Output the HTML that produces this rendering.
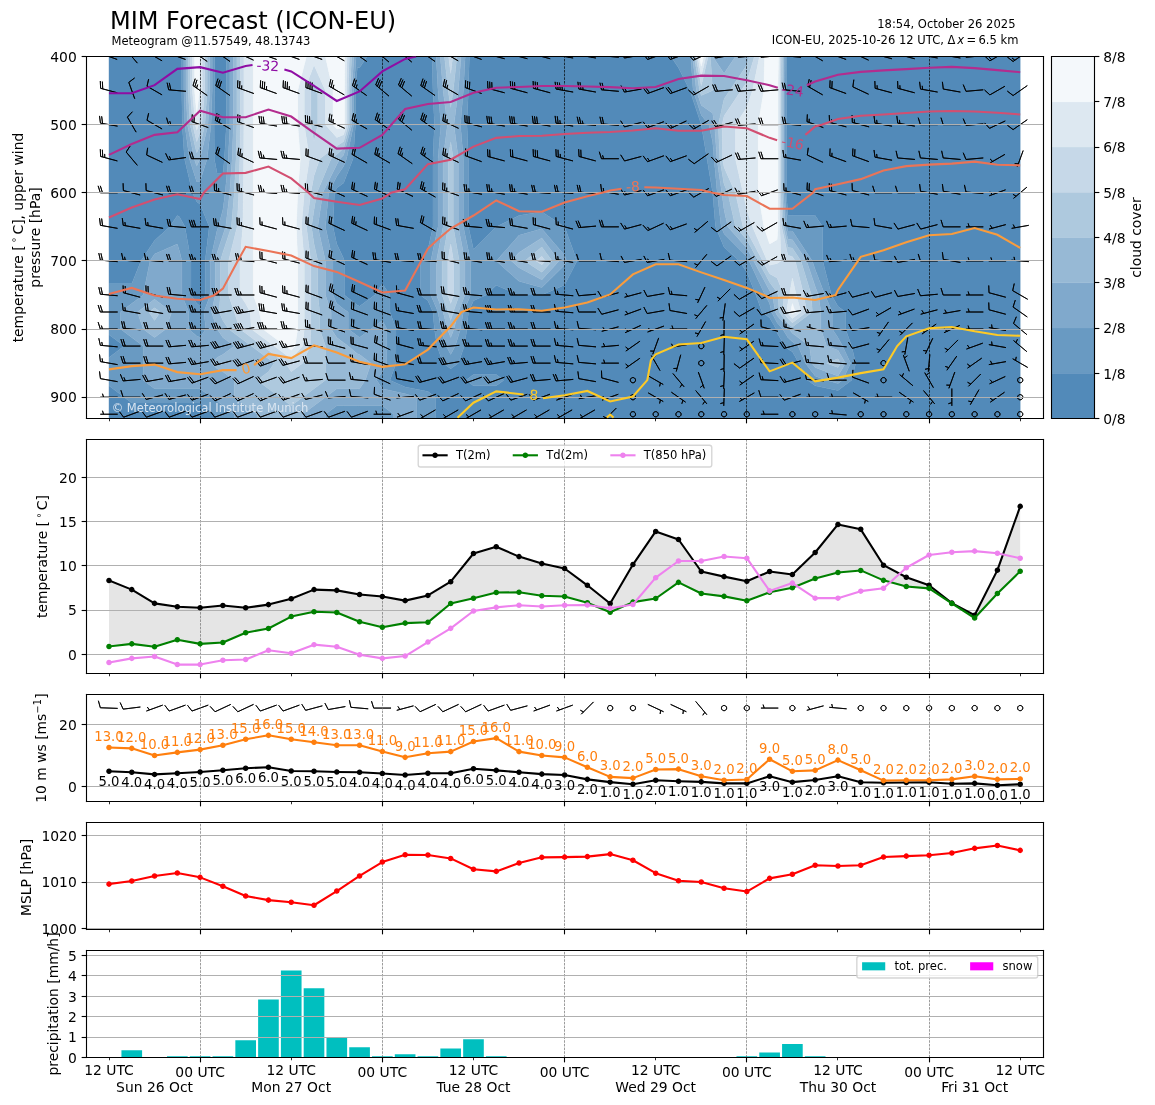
<!DOCTYPE html>
<html><head><meta charset="utf-8"><title>MIM Forecast (ICON-EU)</title>
<style>html,body{margin:0;padding:0;background:#fff}svg{display:block}text{font-family:"DejaVu Sans",sans-serif}</style></head>
<body>
<svg width="1155" height="1105" viewBox="0 0 831.6 795.6" version="1.1">
 <defs>
  <style type="text/css">*{stroke-linejoin: round; stroke-linecap: butt}</style>
 </defs>
 <g id="figure_1">
  <g id="patch_1">
   <path d="M 0 795.6 
L 831.6 795.6 
L 831.6 0 
L 0 0 
z
" style="fill: #ffffff"/>
  </g>
  <g id="axes_1">
   <g id="patch_2">
    <path d="M 62.28 301.32 
L 751.32 301.32 
L 751.32 40.68 
L 62.28 40.68 
z
" style="fill: #ffffff"/>
   </g>
   <g id="QuadContourSet_1">
    <path d="M 94.88 40.68 
L 111.28 40.68 
L 127.68 40.68 
L 129.32 40.68 
L 130.86 40.68 
L 130.86 65.21 
L 131.21 89.74 
L 132.83 114.27 
L 138.61 138.80 
L 141.62 145.22 
L 144.08 146.97 
L 150.64 163.33 
L 147.73 187.86 
L 147.73 212.39 
L 144.08 220.56 
L 141.62 218.40 
L 137.52 212.39 
L 137.52 187.86 
L 133.15 163.33 
L 129.32 156.17 
L 127.68 155.15 
L 122.21 163.33 
L 111.28 173.14 
L 101.44 187.86 
L 94.88 204.21 
L 78.48 204.21 
L 78.48 187.86 
L 78.48 163.33 
L 78.48 138.80 
L 78.48 114.27 
L 78.48 89.74 
L 78.48 65.21 
L 78.48 40.68 
z
M 156.38 40.68 
L 160.48 40.68 
L 163.01 40.68 
L 163.01 65.21 
L 163.01 89.74 
L 161.59 114.27 
L 160.48 125.17 
L 156.38 125.17 
L 154.31 114.27 
L 154.16 89.74 
L 154.57 65.21 
L 154.57 40.68 
z
M 257.25 48.85 
L 258.89 48.85 
L 264.36 40.68 
L 275.29 40.68 
L 291.70 40.68 
L 308.10 40.68 
L 311.08 40.68 
L 311.74 65.21 
L 312.78 89.74 
L 311.74 114.27 
L 311.74 138.80 
L 311.74 163.33 
L 308.10 179.68 
L 302.63 187.86 
L 302.63 212.39 
L 308.10 216.48 
L 311.74 224.65 
L 312.78 236.92 
L 314.66 249.18 
L 319.03 261.45 
L 324.50 265.54 
L 329.97 261.45 
L 334.34 249.18 
L 336.21 236.92 
L 337.26 224.65 
L 340.90 216.48 
L 350.01 212.39 
L 357.30 205.38 
L 373.70 212.39 
L 390.11 212.39 
L 406.51 205.17 
L 415.45 187.86 
L 406.51 163.33 
L 406.51 163.33 
L 390.11 152.42 
L 373.70 155.15 
L 357.30 163.33 
L 357.30 163.33 
L 340.90 179.68 
L 337.26 163.33 
L 337.26 138.80 
L 337.26 114.27 
L 336.21 89.74 
L 337.26 65.21 
L 337.92 40.68 
L 340.90 40.68 
L 357.30 40.68 
L 373.70 40.68 
L 390.11 40.68 
L 406.51 40.68 
L 422.91 40.68 
L 439.31 40.68 
L 455.71 40.68 
L 472.11 40.68 
L 483.05 40.68 
L 488.52 48.85 
L 496.72 65.21 
L 496.72 65.21 
L 504.92 89.74 
L 504.92 89.74 
L 509.02 114.27 
L 513.12 138.80 
L 513.12 138.80 
L 515.17 163.33 
L 521.32 178.05 
L 532.25 187.86 
L 537.72 196.03 
L 544.28 212.39 
L 548.65 224.65 
L 554.12 228.74 
L 558.81 236.92 
L 559.53 239.80 
L 565.06 249.18 
L 567.24 251.23 
L 570.52 253.27 
L 575.21 261.45 
L 581.46 273.71 
L 586.92 277.80 
L 603.33 281.07 
L 613.17 273.71 
L 616.08 261.45 
L 613.17 249.18 
L 608.79 236.92 
L 608.79 224.65 
L 603.33 220.56 
L 598.64 212.39 
L 592.39 187.86 
L 592.39 163.33 
L 586.92 155.15 
L 570.52 155.15 
L 567.24 155.15 
L 566.21 138.80 
L 566.21 114.27 
L 566.21 89.74 
L 566.21 65.21 
L 566.28 40.68 
L 567.24 40.68 
L 570.52 40.68 
L 586.92 40.68 
L 603.33 40.68 
L 619.73 40.68 
L 636.13 40.68 
L 652.53 40.68 
L 668.93 40.68 
L 685.33 40.68 
L 701.74 40.68 
L 718.14 40.68 
L 734.54 40.68 
L 734.54 65.21 
L 734.54 89.74 
L 734.54 114.27 
L 734.54 138.80 
L 734.54 163.33 
L 734.54 187.86 
L 734.54 212.39 
L 734.54 224.65 
L 734.54 236.92 
L 734.54 249.18 
L 734.54 261.45 
L 734.54 273.71 
L 734.54 285.98 
L 734.54 298.24 
L 734.54 310.51 
L 718.14 310.51 
L 701.74 310.51 
L 685.33 310.51 
L 668.93 310.51 
L 652.53 310.51 
L 636.13 310.51 
L 619.73 310.51 
L 603.33 310.51 
L 586.92 310.51 
L 570.52 310.51 
L 567.24 310.51 
L 559.53 310.51 
L 554.12 310.51 
L 537.72 310.51 
L 521.32 310.51 
L 513.12 310.51 
L 504.92 310.51 
L 496.72 310.51 
L 488.52 310.51 
L 472.11 310.51 
L 455.71 310.51 
L 439.31 310.51 
L 422.91 310.51 
L 406.51 310.51 
L 390.11 310.51 
L 373.70 310.51 
L 357.30 310.51 
L 340.90 310.51 
L 324.50 310.51 
L 313.56 310.51 
L 313.56 298.24 
L 313.56 285.98 
L 308.10 281.89 
L 291.70 278.62 
L 280.76 273.71 
L 285.14 261.45 
L 285.14 249.18 
L 285.14 236.92 
L 280.76 224.65 
L 280.76 212.39 
L 275.29 204.21 
L 269.83 212.39 
L 258.89 220.56 
L 257.25 219.58 
L 247.96 212.39 
L 247.96 187.86 
L 247.41 186.11 
L 242.49 175.59 
L 239.76 163.33 
L 240.81 138.80 
L 242.49 135.41 
L 247.41 131.79 
L 254.21 114.27 
L 255.94 89.74 
L 255.94 65.21 
z
M 335.43 273.71 
L 340.90 277.80 
L 357.30 277.80 
L 362.77 273.71 
L 357.30 269.63 
L 340.90 269.63 
z
M 89.41 249.18 
L 78.48 257.36 
L 78.48 249.18 
L 78.48 241.01 
z
M 89.41 285.98 
L 94.88 290.07 
L 111.28 290.07 
L 127.68 290.07 
L 129.32 290.07 
L 141.62 290.07 
L 144.08 290.07 
L 155.02 298.24 
L 155.02 310.51 
L 144.08 310.51 
L 141.62 310.51 
L 129.32 310.51 
L 127.68 310.51 
L 111.28 310.51 
L 94.88 310.51 
L 78.48 310.51 
L 78.48 298.24 
L 78.48 285.98 
L 78.48 277.80 
z
" clip-path="url(#p9851077e19)" style="fill: #528ab9; stroke: #528ab9; stroke-width: 0.3"/>
    <path d="M 132.40 65.21 
L 133.10 89.74 
L 136.35 114.27 
L 141.62 130.80 
L 144.08 130.48 
L 149.13 114.27 
L 151.93 89.74 
L 152.76 65.21 
L 152.76 40.68 
L 154.57 40.68 
L 154.57 65.21 
L 154.16 89.74 
L 154.31 114.27 
L 156.38 125.17 
L 160.48 125.17 
L 161.59 114.27 
L 163.01 89.74 
L 163.01 65.21 
L 163.01 40.68 
L 165.53 40.68 
L 165.53 65.21 
L 165.53 89.74 
L 164.37 114.27 
L 162.12 138.80 
L 160.48 151.06 
L 157.20 163.33 
L 156.38 165.37 
L 151.37 187.86 
L 151.37 212.39 
L 146.82 224.65 
L 148.18 236.92 
L 144.08 243.05 
L 141.62 241.97 
L 135.88 236.92 
L 135.88 224.65 
L 130.96 212.39 
L 130.96 187.86 
L 129.32 181.04 
L 127.68 175.59 
L 111.28 182.95 
L 108.00 187.86 
L 103.08 212.39 
L 94.88 218.52 
L 86.68 224.65 
L 86.68 236.92 
L 94.88 243.05 
L 103.08 249.18 
L 103.08 261.45 
L 103.08 273.71 
L 111.28 279.85 
L 127.68 279.85 
L 129.32 279.85 
L 141.62 279.85 
L 144.08 279.85 
L 152.28 285.98 
L 156.38 288.70 
L 160.48 292.11 
L 168.68 298.24 
L 168.68 310.51 
L 160.48 310.51 
L 156.38 310.51 
L 155.02 310.51 
L 155.02 298.24 
L 144.08 290.07 
L 141.62 290.07 
L 129.32 290.07 
L 127.68 290.07 
L 111.28 290.07 
L 94.88 290.07 
L 89.41 285.98 
L 78.48 277.80 
L 78.48 273.71 
L 78.48 261.45 
L 78.48 257.36 
L 89.41 249.18 
L 78.48 241.01 
L 78.48 236.92 
L 78.48 224.65 
L 78.48 212.39 
L 78.48 204.21 
L 94.88 204.21 
L 101.44 187.86 
L 111.28 173.14 
L 122.21 163.33 
L 127.68 155.15 
L 129.32 156.17 
L 133.15 163.33 
L 137.52 187.86 
L 137.52 212.39 
L 141.62 218.40 
L 144.08 220.56 
L 147.73 212.39 
L 147.73 187.86 
L 150.64 163.33 
L 144.08 146.97 
L 141.62 145.22 
L 138.61 138.80 
L 132.83 114.27 
L 131.21 89.74 
L 130.86 65.21 
L 130.86 40.68 
L 132.40 40.68 
z
M 257.25 40.68 
L 258.89 40.68 
L 264.36 40.68 
L 258.89 48.85 
L 257.25 48.85 
L 255.94 65.21 
L 255.94 89.74 
L 254.21 114.27 
L 247.41 131.79 
L 242.49 135.41 
L 240.81 138.80 
L 239.76 163.33 
L 242.49 175.59 
L 247.41 186.11 
L 247.96 187.86 
L 247.96 212.39 
L 257.25 219.58 
L 258.89 220.56 
L 269.83 212.39 
L 275.29 204.21 
L 280.76 212.39 
L 280.76 224.65 
L 285.14 236.92 
L 285.14 249.18 
L 285.14 261.45 
L 280.76 273.71 
L 291.70 278.62 
L 308.10 281.89 
L 313.56 285.98 
L 313.56 298.24 
L 313.56 310.51 
L 308.10 310.51 
L 299.90 310.51 
L 299.90 298.24 
L 299.90 285.98 
L 291.70 283.53 
L 275.29 279.85 
L 271.19 273.71 
L 275.29 267.58 
L 278.57 261.45 
L 278.57 249.18 
L 278.57 236.92 
L 275.29 230.79 
L 267.09 236.92 
L 258.89 243.05 
L 257.25 241.82 
L 250.69 236.92 
L 250.69 224.65 
L 247.41 222.52 
L 242.49 218.52 
L 239.76 212.39 
L 239.76 187.86 
L 234.29 163.33 
L 236.60 138.80 
L 242.49 126.95 
L 247.41 119.70 
L 249.52 114.27 
L 254.63 89.74 
L 254.63 65.21 
L 256.43 40.68 
z
M 315.39 65.21 
L 317.47 89.74 
L 315.39 114.27 
L 315.39 138.80 
L 315.39 163.33 
L 310.15 187.86 
L 310.15 212.39 
L 315.39 224.65 
L 317.47 236.92 
L 321.22 249.18 
L 324.50 255.32 
L 327.78 249.18 
L 331.53 236.92 
L 333.61 224.65 
L 338.85 212.39 
L 338.85 187.86 
L 333.61 163.33 
L 333.61 138.80 
L 333.61 114.27 
L 331.53 89.74 
L 333.61 65.21 
L 334.94 40.68 
L 337.92 40.68 
L 337.26 65.21 
L 336.21 89.74 
L 337.26 114.27 
L 337.26 138.80 
L 337.26 163.33 
L 340.90 179.68 
L 357.30 163.33 
L 357.30 163.33 
L 373.70 155.15 
L 390.11 152.42 
L 406.51 163.33 
L 406.51 163.33 
L 415.45 187.86 
L 406.51 205.17 
L 390.11 212.39 
L 373.70 212.39 
L 357.30 205.38 
L 350.01 212.39 
L 340.90 216.48 
L 337.26 224.65 
L 336.21 236.92 
L 334.34 249.18 
L 329.97 261.45 
L 324.50 265.54 
L 319.03 261.45 
L 314.66 249.18 
L 312.78 236.92 
L 311.74 224.65 
L 308.10 216.48 
L 302.63 212.39 
L 302.63 187.86 
L 308.10 179.68 
L 311.74 163.33 
L 311.74 138.80 
L 311.74 114.27 
L 312.78 89.74 
L 311.74 65.21 
L 311.08 40.68 
L 314.06 40.68 
z
M 357.30 187.86 
L 373.70 202.58 
L 390.11 206.94 
L 406.51 190.74 
L 408.00 187.86 
L 406.51 183.77 
L 390.11 164.65 
L 373.70 169.46 
z
M 488.52 40.68 
L 496.72 40.68 
L 497.35 40.68 
L 499.06 65.21 
L 504.92 82.73 
L 510.38 89.74 
L 513.12 102.00 
L 514.14 114.27 
L 516.40 138.80 
L 519.27 163.33 
L 521.32 168.23 
L 537.72 184.79 
L 539.36 187.86 
L 550.84 212.39 
L 554.12 218.52 
L 555.49 224.65 
L 559.53 232.46 
L 563.49 236.92 
L 567.24 243.05 
L 570.52 246.12 
L 574.62 249.18 
L 579.90 261.45 
L 586.92 270.65 
L 595.13 273.71 
L 603.33 276.17 
L 606.61 273.71 
L 612.44 261.45 
L 606.61 249.18 
L 603.33 243.05 
L 599.23 236.92 
L 599.23 224.65 
L 593.95 212.39 
L 586.92 193.99 
L 584.87 187.86 
L 570.52 166.39 
L 567.24 166.25 
L 566.60 163.33 
L 565.19 138.80 
L 565.19 114.27 
L 565.19 89.74 
L 565.19 65.21 
L 565.32 40.68 
L 566.28 40.68 
L 566.21 65.21 
L 566.21 89.74 
L 566.21 114.27 
L 566.21 138.80 
L 567.24 155.15 
L 570.52 155.15 
L 586.92 155.15 
L 592.39 163.33 
L 592.39 187.86 
L 598.64 212.39 
L 603.33 220.56 
L 608.79 224.65 
L 608.79 236.92 
L 613.17 249.18 
L 616.08 261.45 
L 613.17 273.71 
L 603.33 281.07 
L 586.92 277.80 
L 581.46 273.71 
L 575.21 261.45 
L 570.52 253.27 
L 567.24 251.23 
L 565.06 249.18 
L 559.53 239.80 
L 558.81 236.92 
L 554.12 228.74 
L 548.65 224.65 
L 544.28 212.39 
L 537.72 196.03 
L 532.25 187.86 
L 521.32 178.05 
L 515.17 163.33 
L 513.12 138.80 
L 513.12 138.80 
L 509.02 114.27 
L 504.92 89.74 
L 504.92 89.74 
L 496.72 65.21 
L 496.72 65.21 
L 488.52 48.85 
L 483.05 40.68 
z
M 340.90 269.63 
L 357.30 269.63 
L 362.77 273.71 
L 357.30 277.80 
L 340.90 277.80 
L 335.43 273.71 
z
M 242.49 292.11 
L 247.41 292.11 
L 257.25 292.11 
L 258.89 292.11 
L 275.29 292.11 
L 283.5 298.24 
L 283.5 310.51 
L 275.29 310.51 
L 258.89 310.51 
L 257.25 310.51 
L 247.41 310.51 
L 242.49 310.51 
L 234.29 310.51 
L 234.29 298.24 
z
" clip-path="url(#p9851077e19)" style="fill: #699ac2; stroke: #699ac2; stroke-width: 0.3"/>
    <path d="M 133.93 65.21 
L 135.00 89.74 
L 139.86 114.27 
L 141.62 119.78 
L 143.96 114.27 
L 144.08 114.03 
L 149.70 89.74 
L 150.96 65.21 
L 150.96 40.68 
L 152.76 40.68 
L 152.76 65.21 
L 151.93 89.74 
L 149.13 114.27 
L 144.08 130.48 
L 141.62 130.80 
L 136.35 114.27 
L 133.10 89.74 
L 132.40 65.21 
L 132.40 40.68 
L 133.93 40.68 
z
M 168.05 65.21 
L 168.05 89.74 
L 167.15 114.27 
L 165.40 138.80 
L 162.53 163.33 
L 160.48 169.46 
L 156.38 181.72 
L 155.02 187.86 
L 155.02 212.39 
L 152.28 224.65 
L 156.38 236.92 
L 156.38 236.92 
L 160.48 243.05 
L 168.68 249.18 
L 160.48 255.32 
L 156.38 257.36 
L 152.28 261.45 
L 156.38 265.54 
L 160.48 267.58 
L 168.68 273.71 
L 168.68 285.98 
L 176.88 292.11 
L 185.09 298.24 
L 185.09 310.51 
L 176.88 310.51 
L 168.68 310.51 
L 168.68 298.24 
L 160.48 292.11 
L 156.38 288.70 
L 152.28 285.98 
L 144.08 279.85 
L 141.62 279.85 
L 129.32 279.85 
L 127.68 279.85 
L 111.28 279.85 
L 103.08 273.71 
L 103.08 261.45 
L 103.08 249.18 
L 94.88 243.05 
L 86.68 236.92 
L 86.68 224.65 
L 94.88 218.52 
L 103.08 212.39 
L 108.00 187.86 
L 111.28 182.95 
L 127.68 175.59 
L 129.32 181.04 
L 130.96 187.86 
L 130.96 212.39 
L 135.88 224.65 
L 135.88 236.92 
L 141.62 241.97 
L 144.08 243.05 
L 148.18 236.92 
L 146.82 224.65 
L 151.37 212.39 
L 151.37 187.86 
L 156.38 165.37 
L 157.20 163.33 
L 160.48 151.06 
L 162.12 138.80 
L 164.37 114.27 
L 165.53 89.74 
L 165.53 65.21 
L 165.53 40.68 
L 168.05 40.68 
z
M 98.98 224.65 
L 103.08 236.92 
L 111.28 243.05 
L 119.48 236.92 
L 123.58 224.65 
L 111.28 215.45 
z
M 254.63 65.21 
L 254.63 89.74 
L 249.52 114.27 
L 247.41 119.70 
L 242.49 126.95 
L 236.60 138.80 
L 234.29 163.33 
L 239.76 187.86 
L 239.76 212.39 
L 242.49 218.52 
L 247.41 222.52 
L 250.69 224.65 
L 250.69 236.92 
L 257.25 241.82 
L 258.89 243.05 
L 267.09 236.92 
L 275.29 230.79 
L 278.57 236.92 
L 278.57 249.18 
L 278.57 261.45 
L 275.29 267.58 
L 271.19 273.71 
L 275.29 279.85 
L 291.70 283.53 
L 299.90 285.98 
L 299.90 298.24 
L 299.90 310.51 
L 291.70 310.51 
L 283.5 310.51 
L 283.5 298.24 
L 275.29 292.11 
L 258.89 292.11 
L 257.25 292.11 
L 247.41 292.11 
L 242.49 292.11 
L 234.29 298.24 
L 234.29 310.51 
L 226.09 310.51 
L 217.89 310.51 
L 217.89 298.24 
L 226.09 292.11 
L 234.29 285.98 
L 242.49 279.85 
L 247.41 279.85 
L 257.25 279.85 
L 258.89 279.85 
L 262.99 273.71 
L 267.09 261.45 
L 258.89 255.32 
L 257.25 254.63 
L 250.69 249.18 
L 247.41 246.73 
L 242.49 243.05 
L 238.39 236.92 
L 238.39 224.65 
L 234.29 212.39 
L 234.29 187.86 
L 228.82 163.33 
L 232.40 138.80 
L 242.49 118.50 
L 244.83 114.27 
L 247.41 111.59 
L 253.32 89.74 
L 253.32 65.21 
L 254.79 40.68 
L 256.43 40.68 
z
M 319.03 65.21 
L 322.16 89.74 
L 319.03 114.27 
L 319.03 138.80 
L 319.03 163.33 
L 314.25 187.86 
L 314.25 212.39 
L 319.03 224.65 
L 322.16 236.92 
L 324.50 243.05 
L 326.84 236.92 
L 329.97 224.65 
L 334.75 212.39 
L 334.75 187.86 
L 329.97 163.33 
L 329.97 138.80 
L 329.97 114.27 
L 326.84 89.74 
L 329.97 65.21 
L 331.95 40.68 
L 334.94 40.68 
L 333.61 65.21 
L 331.53 89.74 
L 333.61 114.27 
L 333.61 138.80 
L 333.61 163.33 
L 338.85 187.86 
L 338.85 212.39 
L 333.61 224.65 
L 331.53 236.92 
L 327.78 249.18 
L 324.50 255.32 
L 321.22 249.18 
L 317.47 236.92 
L 315.39 224.65 
L 310.15 212.39 
L 310.15 187.86 
L 315.39 163.33 
L 315.39 138.80 
L 315.39 114.27 
L 317.47 89.74 
L 315.39 65.21 
L 314.06 40.68 
L 317.04 40.68 
z
M 501.40 65.21 
L 504.92 75.72 
L 513.12 81.56 
L 514.48 89.74 
L 516.19 114.27 
L 519.68 138.80 
L 521.32 151.06 
L 524.05 163.33 
L 537.72 178.66 
L 542.64 187.86 
L 554.12 209.32 
L 556.17 212.39 
L 558.22 224.65 
L 559.53 227.18 
L 567.24 236.22 
L 568.18 236.92 
L 570.52 239.98 
L 582.82 249.18 
L 584.58 261.45 
L 586.92 264.51 
L 603.33 270.65 
L 608.79 261.45 
L 603.33 252.25 
L 595.13 249.18 
L 591.03 236.92 
L 591.03 224.65 
L 589.27 212.39 
L 586.92 206.25 
L 580.77 187.86 
L 570.52 172.53 
L 567.24 172.09 
L 565.32 163.33 
L 564.16 138.80 
L 564.16 114.27 
L 564.16 89.74 
L 564.16 65.21 
L 564.35 40.68 
L 565.32 40.68 
L 565.19 65.21 
L 565.19 89.74 
L 565.19 114.27 
L 565.19 138.80 
L 566.60 163.33 
L 567.24 166.25 
L 570.52 166.39 
L 584.87 187.86 
L 586.92 193.99 
L 593.95 212.39 
L 599.23 224.65 
L 599.23 236.92 
L 603.33 243.05 
L 606.61 249.18 
L 612.44 261.45 
L 606.61 273.71 
L 603.33 276.17 
L 595.13 273.71 
L 586.92 270.65 
L 579.90 261.45 
L 574.62 249.18 
L 570.52 246.12 
L 567.24 243.05 
L 563.49 236.92 
L 559.53 232.46 
L 555.49 224.65 
L 554.12 218.52 
L 550.84 212.39 
L 539.36 187.86 
L 537.72 184.79 
L 521.32 168.23 
L 519.27 163.33 
L 516.40 138.80 
L 514.14 114.27 
L 513.12 102.00 
L 510.38 89.74 
L 504.92 82.73 
L 499.06 65.21 
L 497.35 40.68 
L 498.61 40.68 
z
M 513.12 40.68 
L 521.32 40.68 
L 529.52 40.68 
L 521.32 52.94 
L 513.12 40.68 
L 513.12 40.68 
z
M 373.70 169.46 
L 390.11 164.65 
L 406.51 183.77 
L 408.00 187.86 
L 406.51 190.74 
L 390.11 206.94 
L 373.70 202.58 
L 357.30 187.86 
z
M 368.24 187.86 
L 373.70 192.76 
L 390.11 201.49 
L 402.53 187.86 
L 390.11 171.28 
L 373.70 181.72 
z
" clip-path="url(#p9851077e19)" style="fill: #80a9cc; stroke: #80a9cc; stroke-width: 0.3"/>
    <path d="M 135.47 65.21 
L 136.89 89.74 
L 141.62 110.18 
L 144.08 104.41 
L 147.48 89.74 
L 149.15 65.21 
L 149.15 40.68 
L 150.96 40.68 
L 150.96 65.21 
L 149.70 89.74 
L 144.08 114.03 
L 143.96 114.27 
L 141.62 119.78 
L 139.86 114.27 
L 135.00 89.74 
L 133.93 65.21 
L 133.93 40.68 
L 135.47 40.68 
z
M 170.58 65.21 
L 170.58 89.74 
L 169.93 114.27 
L 168.68 138.80 
L 166.63 163.33 
L 160.48 181.72 
L 158.66 187.86 
L 158.66 212.39 
L 157.75 224.65 
L 160.48 230.79 
L 164.58 236.92 
L 176.88 246.12 
L 180.99 249.18 
L 193.29 258.38 
L 197.39 261.45 
L 193.29 267.58 
L 185.09 273.71 
L 193.29 279.85 
L 201.49 285.98 
L 209.69 292.11 
L 217.89 285.98 
L 226.09 279.85 
L 234.29 273.71 
L 234.29 261.45 
L 234.29 249.18 
L 230.19 236.92 
L 230.19 224.65 
L 228.82 212.39 
L 228.82 187.86 
L 226.09 175.59 
L 224.27 163.33 
L 226.09 151.06 
L 228.19 138.80 
L 238.39 114.27 
L 242.49 111.20 
L 247.41 106.74 
L 252.00 89.74 
L 252.00 65.21 
L 253.15 40.68 
L 254.79 40.68 
L 253.32 65.21 
L 253.32 89.74 
L 247.41 111.59 
L 244.83 114.27 
L 242.49 118.50 
L 232.40 138.80 
L 228.82 163.33 
L 234.29 187.86 
L 234.29 212.39 
L 238.39 224.65 
L 238.39 236.92 
L 242.49 243.05 
L 247.41 246.73 
L 250.69 249.18 
L 257.25 254.63 
L 258.89 255.32 
L 267.09 261.45 
L 262.99 273.71 
L 258.89 279.85 
L 257.25 279.85 
L 247.41 279.85 
L 242.49 279.85 
L 234.29 285.98 
L 226.09 292.11 
L 217.89 298.24 
L 217.89 310.51 
L 209.69 310.51 
L 193.29 310.51 
L 185.09 310.51 
L 185.09 298.24 
L 176.88 292.11 
L 168.68 285.98 
L 168.68 273.71 
L 160.48 267.58 
L 156.38 265.54 
L 152.28 261.45 
L 156.38 257.36 
L 160.48 255.32 
L 168.68 249.18 
L 160.48 243.05 
L 156.38 236.92 
L 156.38 236.92 
L 152.28 224.65 
L 155.02 212.39 
L 155.02 187.86 
L 156.38 181.72 
L 160.48 169.46 
L 162.53 163.33 
L 165.40 138.80 
L 167.15 114.27 
L 168.05 89.74 
L 168.05 65.21 
L 168.05 40.68 
L 170.58 40.68 
z
M 322.68 65.21 
L 324.50 77.47 
L 326.32 65.21 
L 328.97 40.68 
L 331.95 40.68 
L 329.97 65.21 
L 326.84 89.74 
L 329.97 114.27 
L 329.97 138.80 
L 329.97 163.33 
L 334.75 187.86 
L 334.75 212.39 
L 329.97 224.65 
L 326.84 236.92 
L 324.50 243.05 
L 322.16 236.92 
L 319.03 224.65 
L 314.25 212.39 
L 314.25 187.86 
L 319.03 163.33 
L 319.03 138.80 
L 319.03 114.27 
L 322.16 89.74 
L 319.03 65.21 
L 317.04 40.68 
L 320.03 40.68 
z
M 322.68 114.27 
L 322.68 138.80 
L 322.68 163.33 
L 318.35 187.86 
L 318.35 212.39 
L 322.68 224.65 
L 324.50 230.79 
L 326.32 224.65 
L 330.65 212.39 
L 330.65 187.86 
L 326.32 163.33 
L 326.32 138.80 
L 326.32 114.27 
L 324.50 102.00 
z
M 503.75 65.21 
L 504.92 68.71 
L 513.12 65.21 
L 511.48 40.68 
L 513.12 40.68 
L 513.12 40.68 
L 521.32 52.94 
L 529.52 40.68 
L 537.72 40.68 
L 539.54 40.68 
L 537.72 46.81 
L 525.42 65.21 
L 521.32 71.34 
L 517.22 89.74 
L 518.24 114.27 
L 521.32 132.66 
L 524.05 138.80 
L 529.52 163.33 
L 537.72 172.53 
L 545.92 187.86 
L 554.12 203.19 
L 559.53 210.51 
L 560.27 212.39 
L 560.96 224.65 
L 567.24 232.71 
L 570.52 235.38 
L 584.87 224.65 
L 584.19 212.39 
L 576.67 187.86 
L 570.52 178.66 
L 567.24 177.93 
L 564.03 163.33 
L 563.13 138.80 
L 563.13 114.27 
L 563.13 89.74 
L 563.13 65.21 
L 563.39 40.68 
L 564.35 40.68 
L 564.16 65.21 
L 564.16 89.74 
L 564.16 114.27 
L 564.16 138.80 
L 565.32 163.33 
L 567.24 172.09 
L 570.52 172.53 
L 580.77 187.86 
L 586.92 206.25 
L 589.27 212.39 
L 591.03 224.65 
L 591.03 236.92 
L 595.13 249.18 
L 603.33 252.25 
L 608.79 261.45 
L 603.33 270.65 
L 586.92 264.51 
L 584.58 261.45 
L 582.82 249.18 
L 570.52 239.98 
L 568.18 236.92 
L 567.24 236.22 
L 559.53 227.18 
L 558.22 224.65 
L 556.17 212.39 
L 554.12 209.32 
L 542.64 187.86 
L 537.72 178.66 
L 524.05 163.33 
L 521.32 151.06 
L 519.68 138.80 
L 516.19 114.27 
L 514.48 89.74 
L 513.12 81.56 
L 504.92 75.72 
L 501.40 65.21 
L 498.61 40.68 
L 499.87 40.68 
z
M 595.13 261.45 
L 603.33 264.51 
L 605.15 261.45 
L 603.33 258.38 
z
M 373.70 181.72 
L 390.11 171.28 
L 402.53 187.86 
L 390.11 201.49 
L 373.70 192.76 
L 368.24 187.86 
z
M 377.80 187.86 
L 390.11 196.03 
L 397.56 187.86 
L 390.11 177.91 
z
M 111.28 215.45 
L 123.58 224.65 
L 119.48 236.92 
L 111.28 243.05 
L 103.08 236.92 
L 98.98 224.65 
z
M 107.18 224.65 
L 111.28 230.79 
L 115.38 224.65 
L 111.28 221.59 
z
" clip-path="url(#p9851077e19)" style="fill: #97b9d5; stroke: #97b9d5; stroke-width: 0.3"/>
    <path d="M 137.01 65.21 
L 138.78 89.74 
L 141.62 102.00 
L 144.08 94.79 
L 145.25 89.74 
L 147.34 65.21 
L 147.34 40.68 
L 149.15 40.68 
L 149.15 65.21 
L 147.48 89.74 
L 144.08 104.41 
L 141.62 110.18 
L 136.89 89.74 
L 135.47 65.21 
L 135.47 40.68 
L 137.01 40.68 
z
M 173.10 65.21 
L 173.10 89.74 
L 172.71 114.27 
L 171.96 138.80 
L 170.73 163.33 
L 164.58 187.86 
L 164.58 212.39 
L 168.68 224.65 
L 172.78 236.92 
L 176.88 239.98 
L 189.19 249.18 
L 193.29 252.25 
L 205.59 261.45 
L 209.69 267.58 
L 217.89 261.45 
L 223.36 249.18 
L 223.75 236.92 
L 223.75 224.65 
L 223.75 212.39 
L 223.75 187.86 
L 220.62 163.33 
L 223.75 138.80 
L 226.09 126.53 
L 230.19 114.27 
L 242.49 105.07 
L 247.41 101.88 
L 250.69 89.74 
L 250.69 65.21 
L 251.51 40.68 
L 253.15 40.68 
L 252.00 65.21 
L 252.00 89.74 
L 247.41 106.74 
L 242.49 111.20 
L 238.39 114.27 
L 228.19 138.80 
L 226.09 151.06 
L 224.27 163.33 
L 226.09 175.59 
L 228.82 187.86 
L 228.82 212.39 
L 230.19 224.65 
L 230.19 236.92 
L 234.29 249.18 
L 234.29 261.45 
L 234.29 273.71 
L 226.09 279.85 
L 217.89 285.98 
L 209.69 292.11 
L 201.49 285.98 
L 193.29 279.85 
L 185.09 273.71 
L 193.29 267.58 
L 197.39 261.45 
L 193.29 258.38 
L 180.99 249.18 
L 176.88 246.12 
L 164.58 236.92 
L 160.48 230.79 
L 157.75 224.65 
L 158.66 212.39 
L 158.66 187.86 
L 160.48 181.72 
L 166.63 163.33 
L 168.68 138.80 
L 169.93 114.27 
L 170.58 89.74 
L 170.58 65.21 
L 170.58 40.68 
L 173.10 40.68 
z
M 226.09 59.07 
L 228.82 65.21 
L 228.82 89.74 
L 226.09 102.00 
L 223.75 89.74 
L 223.75 65.21 
z
M 324.50 52.94 
L 325.99 40.68 
L 328.97 40.68 
L 326.32 65.21 
L 324.50 77.47 
L 322.68 65.21 
L 320.03 40.68 
L 323.01 40.68 
z
M 504.92 61.70 
L 509.84 40.68 
L 511.48 40.68 
L 513.12 65.21 
L 504.92 68.71 
L 503.75 65.21 
L 499.87 40.68 
L 501.13 40.68 
z
M 537.72 46.81 
L 539.54 40.68 
L 543.19 40.68 
L 537.72 59.07 
L 533.62 65.21 
L 521.32 83.60 
L 519.95 89.74 
L 520.29 114.27 
L 521.32 120.40 
L 529.52 138.80 
L 534.99 163.33 
L 537.72 166.39 
L 549.20 187.86 
L 554.12 197.06 
L 559.53 200.07 
L 564.37 212.39 
L 563.69 224.65 
L 567.24 229.21 
L 570.52 232.32 
L 580.77 224.65 
L 578.72 212.39 
L 572.57 187.86 
L 570.52 184.79 
L 567.24 183.77 
L 562.75 163.33 
L 562.10 138.80 
L 562.10 114.27 
L 562.10 89.74 
L 562.10 65.21 
L 562.42 40.68 
L 563.39 40.68 
L 563.13 65.21 
L 563.13 89.74 
L 563.13 114.27 
L 563.13 138.80 
L 564.03 163.33 
L 567.24 177.93 
L 570.52 178.66 
L 576.67 187.86 
L 584.19 212.39 
L 584.87 224.65 
L 570.52 235.38 
L 567.24 232.71 
L 560.96 224.65 
L 560.27 212.39 
L 559.53 210.51 
L 554.12 203.19 
L 545.92 187.86 
L 537.72 172.53 
L 529.52 163.33 
L 524.05 138.80 
L 521.32 132.66 
L 518.24 114.27 
L 517.22 89.74 
L 521.32 71.34 
L 525.42 65.21 
z
M 324.50 102.00 
L 326.32 114.27 
L 326.32 138.80 
L 326.32 163.33 
L 330.65 187.86 
L 330.65 212.39 
L 326.32 224.65 
L 324.50 230.79 
L 322.68 224.65 
L 318.35 212.39 
L 318.35 187.86 
L 322.68 163.33 
L 322.68 138.80 
L 322.68 114.27 
z
M 322.45 187.86 
L 322.45 212.39 
L 324.50 218.52 
L 326.55 212.39 
L 326.55 187.86 
L 324.50 175.59 
z
M 390.11 177.91 
L 397.56 187.86 
L 390.11 196.03 
L 377.80 187.86 
z
M 386.01 187.86 
L 390.11 190.58 
L 392.59 187.86 
L 390.11 184.54 
z
M 111.28 221.59 
L 115.38 224.65 
L 111.28 230.79 
L 107.18 224.65 
z
M 603.33 258.38 
L 605.15 261.45 
L 603.33 264.51 
L 595.13 261.45 
z
" clip-path="url(#p9851077e19)" style="fill: #aec9de; stroke: #aec9de; stroke-width: 0.3"/>
    <path d="M 138.55 65.21 
L 140.67 89.74 
L 141.62 93.82 
L 142.88 89.74 
L 144.08 80.60 
L 145.53 65.21 
L 145.53 40.68 
L 147.34 40.68 
L 147.34 65.21 
L 145.25 89.74 
L 144.08 94.79 
L 141.62 102.00 
L 138.78 89.74 
L 137.01 65.21 
L 137.01 40.68 
L 138.55 40.68 
z
M 175.62 65.21 
L 175.62 89.74 
L 175.49 114.27 
L 175.24 138.80 
L 174.83 163.33 
L 172.78 187.86 
L 172.78 212.39 
L 176.88 218.52 
L 180.16 224.65 
L 180.99 236.92 
L 193.29 246.12 
L 197.39 249.18 
L 209.69 258.38 
L 217.89 249.18 
L 219.06 236.92 
L 219.06 224.65 
L 219.06 212.39 
L 219.06 187.86 
L 216.98 163.33 
L 219.06 138.80 
L 222.81 114.27 
L 219.06 89.74 
L 219.06 65.21 
L 226.09 46.81 
L 234.29 65.21 
L 234.29 89.74 
L 242.49 98.93 
L 247.41 97.02 
L 249.38 89.74 
L 249.38 65.21 
L 249.87 40.68 
L 251.51 40.68 
L 250.69 65.21 
L 250.69 89.74 
L 247.41 101.88 
L 242.49 105.07 
L 230.19 114.27 
L 226.09 126.53 
L 223.75 138.80 
L 220.62 163.33 
L 223.75 187.86 
L 223.75 212.39 
L 223.75 224.65 
L 223.75 236.92 
L 223.36 249.18 
L 217.89 261.45 
L 209.69 267.58 
L 205.59 261.45 
L 193.29 252.25 
L 189.19 249.18 
L 176.88 239.98 
L 172.78 236.92 
L 168.68 224.65 
L 164.58 212.39 
L 164.58 187.86 
L 170.73 163.33 
L 171.96 138.80 
L 172.71 114.27 
L 173.10 89.74 
L 173.10 65.21 
L 173.10 40.68 
L 175.62 40.68 
z
M 223.75 65.21 
L 223.75 89.74 
L 226.09 102.00 
L 228.82 89.74 
L 228.82 65.21 
L 226.09 59.07 
z
M 324.50 40.68 
L 325.99 40.68 
L 324.50 52.94 
L 323.01 40.68 
z
M 504.92 54.69 
L 508.20 40.68 
L 509.84 40.68 
L 504.92 61.70 
L 501.13 40.68 
L 502.39 40.68 
z
M 537.72 59.07 
L 543.19 40.68 
L 546.83 40.68 
L 541.82 65.21 
L 537.72 77.47 
L 529.52 89.74 
L 529.52 114.27 
L 534.99 138.80 
L 537.72 151.06 
L 541.82 163.33 
L 552.48 187.86 
L 554.12 190.92 
L 559.53 189.63 
L 562.32 187.86 
L 561.46 163.33 
L 561.08 138.80 
L 561.08 114.27 
L 561.08 89.74 
L 561.08 65.21 
L 561.46 40.68 
L 562.42 40.68 
L 562.10 65.21 
L 562.10 89.74 
L 562.10 114.27 
L 562.10 138.80 
L 562.75 163.33 
L 567.24 183.77 
L 570.52 184.79 
L 572.57 187.86 
L 578.72 212.39 
L 580.77 224.65 
L 570.52 232.32 
L 567.24 229.21 
L 563.69 224.65 
L 564.37 212.39 
L 559.53 200.07 
L 554.12 197.06 
L 549.20 187.86 
L 537.72 166.39 
L 534.99 163.33 
L 529.52 138.80 
L 521.32 120.40 
L 520.29 114.27 
L 519.95 89.74 
L 521.32 83.60 
L 533.62 65.21 
z
M 568.47 212.39 
L 567.24 218.52 
L 566.42 224.65 
L 567.24 225.70 
L 570.52 229.25 
L 576.67 224.65 
L 573.26 212.39 
L 570.52 200.12 
z
M 324.50 175.59 
L 326.55 187.86 
L 326.55 212.39 
L 324.50 218.52 
L 322.45 212.39 
L 322.45 187.86 
z
M 390.11 184.54 
L 392.59 187.86 
L 390.11 190.58 
L 386.01 187.86 
z
" clip-path="url(#p9851077e19)" style="fill: #c6d8e8; stroke: #c6d8e8; stroke-width: 0.3"/>
    <path d="M 140.08 65.21 
L 141.62 81.56 
L 143.67 65.21 
L 143.67 40.68 
L 144.08 40.68 
L 145.53 40.68 
L 145.53 65.21 
L 144.08 80.60 
L 142.88 89.74 
L 141.62 93.82 
L 140.67 89.74 
L 138.55 65.21 
L 138.55 40.68 
L 140.08 40.68 
z
M 176.88 40.68 
L 182.35 40.68 
L 182.35 65.21 
L 182.35 89.74 
L 182.35 114.27 
L 182.35 138.80 
L 182.35 163.33 
L 182.35 187.86 
L 182.35 212.39 
L 186.73 224.65 
L 189.19 236.92 
L 193.29 239.98 
L 205.59 249.18 
L 209.69 252.25 
L 212.42 249.18 
L 214.37 236.92 
L 214.37 224.65 
L 214.37 212.39 
L 214.37 187.86 
L 213.33 163.33 
L 214.37 138.80 
L 216.25 114.27 
L 214.37 89.74 
L 214.37 65.21 
L 220.62 40.68 
L 226.09 40.68 
L 234.29 40.68 
L 239.76 65.21 
L 239.76 89.74 
L 242.49 92.80 
L 247.41 92.16 
L 248.07 89.74 
L 248.07 65.21 
L 248.23 40.68 
L 249.87 40.68 
L 249.38 65.21 
L 249.38 89.74 
L 247.41 97.02 
L 242.49 98.93 
L 234.29 89.74 
L 234.29 65.21 
L 226.09 46.81 
L 219.06 65.21 
L 219.06 89.74 
L 222.81 114.27 
L 219.06 138.80 
L 216.98 163.33 
L 219.06 187.86 
L 219.06 212.39 
L 219.06 224.65 
L 219.06 236.92 
L 217.89 249.18 
L 209.69 258.38 
L 197.39 249.18 
L 193.29 246.12 
L 180.99 236.92 
L 180.16 224.65 
L 176.88 218.52 
L 172.78 212.39 
L 172.78 187.86 
L 174.83 163.33 
L 175.24 138.80 
L 175.49 114.27 
L 175.62 89.74 
L 175.62 65.21 
L 175.62 40.68 
z
M 504.92 47.68 
L 506.56 40.68 
L 508.20 40.68 
L 504.92 54.69 
L 502.39 40.68 
L 503.65 40.68 
z
M 550.02 65.21 
L 545.92 89.74 
L 545.92 114.27 
L 545.92 138.80 
L 550.02 163.33 
L 554.12 175.59 
L 559.53 172.55 
L 560.18 163.33 
L 560.05 138.80 
L 560.05 114.27 
L 560.05 89.74 
L 560.05 65.21 
L 560.50 40.68 
L 561.46 40.68 
L 561.08 65.21 
L 561.08 89.74 
L 561.08 114.27 
L 561.08 138.80 
L 561.46 163.33 
L 562.32 187.86 
L 559.53 189.63 
L 554.12 190.92 
L 552.48 187.86 
L 541.82 163.33 
L 537.72 151.06 
L 534.99 138.80 
L 529.52 114.27 
L 529.52 89.74 
L 537.72 77.47 
L 541.82 65.21 
L 546.83 40.68 
L 550.48 40.68 
z
M 570.52 200.12 
L 573.26 212.39 
L 576.67 224.65 
L 570.52 229.25 
L 567.24 225.70 
L 566.42 224.65 
L 567.24 218.52 
L 568.47 212.39 
z
M 569.16 224.65 
L 570.52 226.19 
L 572.57 224.65 
L 570.52 218.52 
z
" clip-path="url(#p9851077e19)" style="fill: #dde8f1; stroke: #dde8f1; stroke-width: 0.3"/>
    <path d="M 141.62 40.68 
L 143.67 40.68 
L 143.67 65.21 
L 141.62 81.56 
L 140.08 65.21 
L 140.08 40.68 
z
M 193.29 40.68 
L 209.69 40.68 
L 220.62 40.68 
L 214.37 65.21 
L 214.37 89.74 
L 216.25 114.27 
L 214.37 138.80 
L 213.33 163.33 
L 214.37 187.86 
L 214.37 212.39 
L 214.37 224.65 
L 214.37 236.92 
L 212.42 249.18 
L 209.69 252.25 
L 205.59 249.18 
L 193.29 239.98 
L 189.19 236.92 
L 186.73 224.65 
L 182.35 212.39 
L 182.35 187.86 
L 182.35 163.33 
L 182.35 138.80 
L 182.35 114.27 
L 182.35 89.74 
L 182.35 65.21 
L 182.35 40.68 
z
M 242.49 40.68 
L 247.41 40.68 
L 248.23 40.68 
L 248.07 65.21 
L 248.07 89.74 
L 247.41 92.16 
L 242.49 92.80 
L 239.76 89.74 
L 239.76 65.21 
L 234.29 40.68 
z
M 504.92 40.68 
L 506.56 40.68 
L 504.92 47.68 
L 503.65 40.68 
z
M 554.12 40.68 
L 559.53 40.68 
L 560.50 40.68 
L 560.05 65.21 
L 560.05 89.74 
L 560.05 114.27 
L 560.05 138.80 
L 560.18 163.33 
L 559.53 172.55 
L 554.12 175.59 
L 550.02 163.33 
L 545.92 138.80 
L 545.92 114.27 
L 545.92 89.74 
L 550.02 65.21 
L 550.48 40.68 
z
M 570.52 218.52 
L 572.57 224.65 
L 570.52 226.19 
L 569.16 224.65 
z
" clip-path="url(#p9851077e19)" style="fill: #f4f8fb; stroke: #f4f8fb; stroke-width: 0.3"/>
   </g>
   <g id="Barbs_1">
    <path d="M 84.35 42.81 
L 72.60 38.54 
L 72.84 33.30 
L 72.60 38.54 
L 74.07 39.07 
L 74.31 33.84 
L 74.07 39.07 
L 75.54 39.61 
L 75.66 36.99 
L 75.54 39.61 
z
" clip-path="url(#p9851077e19)" style="stroke: #000000; stroke-width: 0.62"/>
    <path d="M 98.89 45.46 
L 90.86 35.89 
L 93.69 31.48 
L 90.86 35.89 
L 91.86 37.08 
L 93.28 34.88 
L 91.86 37.08 
z
" clip-path="url(#p9851077e19)" style="stroke: #000000; stroke-width: 0.62"/>
    <path d="M 116.69 43.80 
L 105.87 37.55 
L 107.01 32.44 
L 105.87 37.55 
L 107.22 38.33 
L 107.79 35.78 
L 107.22 38.33 
z
" clip-path="url(#p9851077e19)" style="stroke: #000000; stroke-width: 0.62"/>
    <path d="M 133.55 42.81 
L 121.81 38.54 
L 122.05 33.30 
L 121.81 38.54 
L 123.27 39.07 
L 123.52 33.84 
L 123.27 39.07 
L 124.74 39.61 
L 124.86 36.99 
L 124.74 39.61 
z
" clip-path="url(#p9851077e19)" style="stroke: #000000; stroke-width: 0.62"/>
    <path d="M 149.20 44.26 
L 138.96 37.09 
L 140.55 32.10 
L 138.96 37.09 
L 140.24 37.99 
L 141.83 32.99 
L 140.24 37.99 
L 141.52 38.88 
L 143.11 33.89 
L 141.52 38.88 
z
" clip-path="url(#p9851077e19)" style="stroke: #000000; stroke-width: 0.62"/>
    <path d="M 165.60 44.26 
L 155.36 37.09 
L 156.95 32.10 
L 155.36 37.09 
L 156.64 37.99 
L 158.23 32.99 
L 156.64 37.99 
L 157.92 38.88 
L 159.51 33.89 
L 157.92 38.88 
L 159.20 39.78 
L 160.00 37.28 
L 159.20 39.78 
z
" clip-path="url(#p9851077e19)" style="stroke: #000000; stroke-width: 0.62"/>
    <path d="M 182.55 43.32 
L 171.22 38.03 
L 171.92 32.84 
L 171.22 38.03 
L 172.64 38.69 
L 173.33 33.50 
L 172.64 38.69 
L 174.05 39.35 
L 174.75 34.16 
L 174.05 39.35 
z
" clip-path="url(#p9851077e19)" style="stroke: #000000; stroke-width: 0.62"/>
    <path d="M 199.16 42.81 
L 187.41 38.54 
L 187.65 33.30 
L 187.41 38.54 
L 188.88 39.07 
L 189.12 33.84 
L 188.88 39.07 
L 190.35 39.61 
L 190.59 34.37 
L 190.35 39.61 
L 191.82 40.14 
L 192.06 34.91 
L 191.82 40.14 
z
" clip-path="url(#p9851077e19)" style="stroke: #000000; stroke-width: 0.62"/>
    <path d="M 215.56 42.81 
L 203.81 38.54 
L 204.06 33.30 
L 203.81 38.54 
L 205.28 39.07 
L 205.52 33.84 
L 205.28 39.07 
L 206.75 39.61 
L 206.99 34.37 
L 206.75 39.61 
L 208.22 40.14 
L 208.46 34.91 
L 208.22 40.14 
z
" clip-path="url(#p9851077e19)" style="stroke: #000000; stroke-width: 0.62"/>
    <path d="M 231.96 42.81 
L 220.22 38.54 
L 220.46 33.30 
L 220.22 38.54 
L 221.68 39.07 
L 221.93 33.84 
L 221.68 39.07 
L 223.15 39.61 
L 223.39 34.37 
L 223.15 39.61 
L 224.62 40.14 
L 224.86 34.91 
L 224.62 40.14 
L 226.09 40.68 
L 226.21 38.06 
L 226.09 40.68 
z
" clip-path="url(#p9851077e19)" style="stroke: #000000; stroke-width: 0.62"/>
    <path d="M 247.90 43.80 
L 237.08 37.55 
L 238.23 32.44 
L 237.08 37.55 
L 238.43 38.33 
L 239.58 33.22 
L 238.43 38.33 
L 239.78 39.11 
L 240.93 34.00 
L 239.78 39.11 
z
" clip-path="url(#p9851077e19)" style="stroke: #000000; stroke-width: 0.62"/>
    <path d="M 264.01 44.26 
L 253.77 37.09 
L 255.36 32.10 
L 253.77 37.09 
L 255.05 37.99 
L 256.64 32.99 
L 255.05 37.99 
L 256.33 38.88 
L 257.92 33.89 
L 256.33 38.88 
z
" clip-path="url(#p9851077e19)" style="stroke: #000000; stroke-width: 0.62"/>
    <path d="M 280.08 44.69 
L 270.51 36.66 
L 272.52 31.82 
L 270.51 36.66 
L 271.70 37.66 
L 273.72 32.83 
L 271.70 37.66 
L 272.90 38.67 
L 274.92 33.83 
L 272.90 38.67 
L 274.10 39.67 
L 275.11 37.25 
L 274.10 39.67 
z
" clip-path="url(#p9851077e19)" style="stroke: #000000; stroke-width: 0.62"/>
    <path d="M 296.48 44.69 
L 286.91 36.66 
L 288.93 31.82 
L 286.91 36.66 
L 288.10 37.66 
L 290.12 32.83 
L 288.10 37.66 
L 289.30 38.67 
L 291.32 33.83 
L 289.30 38.67 
L 290.50 39.67 
L 291.51 37.25 
L 290.50 39.67 
z
" clip-path="url(#p9851077e19)" style="stroke: #000000; stroke-width: 0.62"/>
    <path d="M 313.22 44.26 
L 302.98 37.09 
L 304.57 32.10 
L 302.98 37.09 
L 304.26 37.99 
L 305.85 32.99 
L 304.26 37.99 
L 305.54 38.88 
L 307.13 33.89 
L 305.54 38.88 
L 306.82 39.78 
L 307.61 37.28 
L 306.82 39.78 
z
" clip-path="url(#p9851077e19)" style="stroke: #000000; stroke-width: 0.62"/>
    <path d="M 329.91 43.80 
L 319.09 37.55 
L 320.23 32.44 
L 319.09 37.55 
L 320.44 38.33 
L 321.59 33.22 
L 320.44 38.33 
L 321.79 39.11 
L 322.94 34.00 
L 321.79 39.11 
z
" clip-path="url(#p9851077e19)" style="stroke: #000000; stroke-width: 0.62"/>
    <path d="M 346.77 42.81 
L 335.03 38.54 
L 335.27 33.30 
L 335.03 38.54 
L 336.50 39.07 
L 336.74 33.84 
L 336.50 39.07 
L 337.96 39.61 
L 338.21 34.37 
L 337.96 39.61 
L 339.43 40.14 
L 339.55 37.52 
L 339.43 40.14 
z
" clip-path="url(#p9851077e19)" style="stroke: #000000; stroke-width: 0.62"/>
    <path d="M 363.34 42.29 
L 351.27 39.06 
L 351.05 33.82 
L 351.27 39.06 
L 352.77 39.46 
L 352.56 34.23 
L 352.77 39.46 
L 354.28 39.87 
L 354.07 34.63 
L 354.28 39.87 
L 355.79 40.27 
L 355.69 37.65 
L 355.79 40.27 
z
" clip-path="url(#p9851077e19)" style="stroke: #000000; stroke-width: 0.62"/>
    <path d="M 379.74 42.29 
L 367.67 39.06 
L 367.45 33.82 
L 367.67 39.06 
L 369.18 39.46 
L 368.96 34.23 
L 369.18 39.46 
L 370.69 39.87 
L 370.47 34.63 
L 370.69 39.87 
L 372.19 40.27 
L 372.09 37.65 
L 372.19 40.27 
z
" clip-path="url(#p9851077e19)" style="stroke: #000000; stroke-width: 0.62"/>
    <path d="M 396.14 42.29 
L 384.07 39.06 
L 383.85 33.82 
L 384.07 39.06 
L 385.58 39.46 
L 385.36 34.23 
L 385.58 39.46 
L 387.09 39.87 
L 386.87 34.63 
L 387.09 39.87 
L 388.60 40.27 
L 388.49 37.65 
L 388.60 40.27 
z
" clip-path="url(#p9851077e19)" style="stroke: #000000; stroke-width: 0.62"/>
    <path d="M 412.66 41.76 
L 400.35 39.59 
L 399.68 34.39 
L 400.35 39.59 
L 401.89 39.86 
L 401.22 34.67 
L 401.89 39.86 
L 403.43 40.13 
L 402.76 34.94 
L 403.43 40.13 
L 404.97 40.40 
L 404.30 35.21 
L 404.97 40.40 
z
" clip-path="url(#p9851077e19)" style="stroke: #000000; stroke-width: 0.62"/>
    <path d="M 429.06 41.76 
L 416.75 39.59 
L 416.08 34.39 
L 416.75 39.59 
L 418.29 39.86 
L 417.62 34.67 
L 418.29 39.86 
L 419.83 40.13 
L 419.16 34.94 
L 419.83 40.13 
z
" clip-path="url(#p9851077e19)" style="stroke: #000000; stroke-width: 0.62"/>
    <path d="M 445.54 41.22 
L 433.08 40.13 
L 431.96 35.01 
L 433.08 40.13 
L 434.64 40.27 
L 433.52 35.15 
L 434.64 40.27 
L 436.20 40.40 
L 435.64 37.84 
L 436.20 40.40 
z
" clip-path="url(#p9851077e19)" style="stroke: #000000; stroke-width: 0.62"/>
    <path d="M 461.87 39.59 
L 449.56 41.76 
L 447.15 37.11 
L 449.56 41.76 
L 451.10 41.49 
L 448.69 36.84 
L 451.10 41.49 
z
" clip-path="url(#p9851077e19)" style="stroke: #000000; stroke-width: 0.62"/>
    <path d="M 477.99 38.54 
L 466.24 42.81 
L 463.06 38.65 
L 466.24 42.81 
L 467.71 42.28 
L 464.53 38.11 
L 467.71 42.28 
L 469.18 41.74 
L 467.59 39.66 
L 469.18 41.74 
z
" clip-path="url(#p9851077e19)" style="stroke: #000000; stroke-width: 0.62"/>
    <path d="M 494.39 38.54 
L 482.64 42.81 
L 479.46 38.65 
L 482.64 42.81 
L 484.11 42.28 
L 480.93 38.11 
L 484.11 42.28 
L 485.58 41.74 
L 483.99 39.66 
L 485.58 41.74 
z
" clip-path="url(#p9851077e19)" style="stroke: #000000; stroke-width: 0.62"/>
    <path d="M 510.58 38.03 
L 499.25 43.32 
L 495.72 39.45 
L 499.25 43.32 
L 500.67 42.66 
L 497.14 38.78 
L 500.67 42.66 
z
" clip-path="url(#p9851077e19)" style="stroke: #000000; stroke-width: 0.62"/>
    <path d="M 527.47 39.59 
L 515.16 41.76 
L 512.76 37.11 
L 515.16 41.76 
L 516.70 41.49 
L 514.29 36.84 
L 516.70 41.49 
L 518.24 41.22 
L 517.04 38.89 
L 518.24 41.22 
z
" clip-path="url(#p9851077e19)" style="stroke: #000000; stroke-width: 0.62"/>
    <path d="M 543.95 40.13 
L 531.49 41.22 
L 529.50 36.37 
L 531.49 41.22 
L 533.05 41.08 
L 531.06 36.24 
L 533.05 41.08 
L 534.61 40.95 
L 533.61 38.52 
L 534.61 40.95 
z
" clip-path="url(#p9851077e19)" style="stroke: #000000; stroke-width: 0.62"/>
    <path d="M 560.35 40.13 
L 547.90 41.22 
L 545.90 36.37 
L 547.90 41.22 
L 549.45 41.08 
L 547.46 36.24 
L 549.45 41.08 
L 551.01 40.95 
L 550.01 38.52 
L 551.01 40.95 
z
" clip-path="url(#p9851077e19)" style="stroke: #000000; stroke-width: 0.62"/>
    <path d="M 576.75 41.22 
L 564.30 40.13 
L 563.18 35.01 
L 564.30 40.13 
L 565.85 40.27 
L 564.73 35.15 
L 565.85 40.27 
L 567.41 40.40 
L 566.85 37.84 
L 567.41 40.40 
z
" clip-path="url(#p9851077e19)" style="stroke: #000000; stroke-width: 0.62"/>
    <path d="M 592.34 43.80 
L 581.51 37.55 
L 582.66 32.44 
L 581.51 37.55 
L 582.87 38.33 
L 584.01 33.22 
L 582.87 38.33 
L 584.22 39.11 
L 584.79 36.56 
L 584.22 39.11 
z
" clip-path="url(#p9851077e19)" style="stroke: #000000; stroke-width: 0.62"/>
    <path d="M 609.20 42.81 
L 597.45 38.54 
L 597.69 33.30 
L 597.45 38.54 
L 598.92 39.07 
L 599.16 33.84 
L 598.92 39.07 
L 600.39 39.61 
L 600.51 36.99 
L 600.39 39.61 
z
" clip-path="url(#p9851077e19)" style="stroke: #000000; stroke-width: 0.62"/>
    <path d="M 625.39 43.32 
L 614.06 38.03 
L 614.76 32.84 
L 614.06 38.03 
L 615.48 38.69 
L 615.83 36.10 
L 615.48 38.69 
z
" clip-path="url(#p9851077e19)" style="stroke: #000000; stroke-width: 0.62"/>
    <path d="M 642.17 42.29 
L 630.09 39.06 
L 629.88 33.82 
L 630.09 39.06 
L 631.60 39.46 
L 631.39 34.23 
L 631.60 39.46 
z
" clip-path="url(#p9851077e19)" style="stroke: #000000; stroke-width: 0.62"/>
    <path d="M 658.57 42.29 
L 646.49 39.06 
L 646.28 33.82 
L 646.49 39.06 
L 648.00 39.46 
L 647.79 34.23 
L 648.00 39.46 
z
" clip-path="url(#p9851077e19)" style="stroke: #000000; stroke-width: 0.62"/>
    <path d="M 675.09 41.76 
L 662.78 39.59 
L 662.11 34.39 
L 662.78 39.59 
L 664.32 39.86 
L 663.65 34.67 
L 664.32 39.86 
z
" clip-path="url(#p9851077e19)" style="stroke: #000000; stroke-width: 0.62"/>
    <path d="M 691.49 41.76 
L 679.18 39.59 
L 678.51 34.39 
L 679.18 39.59 
L 680.72 39.86 
L 680.38 37.26 
L 680.72 39.86 
z
" clip-path="url(#p9851077e19)" style="stroke: #000000; stroke-width: 0.62"/>
    <path d="M 707.96 40.13 
L 695.51 41.22 
L 693.52 36.37 
L 695.51 41.22 
L 697.07 41.08 
L 696.07 38.66 
L 697.07 41.08 
z
" clip-path="url(#p9851077e19)" style="stroke: #000000; stroke-width: 0.62"/>
    <path d="M 723.55 37.55 
L 712.72 43.80 
L 708.87 40.25 
L 712.72 43.80 
L 714.08 43.02 
L 712.15 41.24 
L 714.08 43.02 
z
" clip-path="url(#p9851077e19)" style="stroke: #000000; stroke-width: 0.62"/>
    <path d="M 739.66 37.09 
L 729.42 44.26 
L 725.27 41.06 
L 729.42 44.26 
L 730.70 43.36 
L 728.63 41.76 
L 730.70 43.36 
z
" clip-path="url(#p9851077e19)" style="stroke: #000000; stroke-width: 0.62"/>
    <path d="M 84.51 66.82 
L 72.44 63.59 
L 72.22 58.35 
L 72.44 63.59 
L 73.95 63.99 
L 73.73 58.76 
L 73.95 63.99 
z
" clip-path="url(#p9851077e19)" style="stroke: #000000; stroke-width: 0.62"/>
    <path d="M 97.01 71.08 
L 92.74 59.33 
L 96.90 56.15 
L 92.74 59.33 
z
" clip-path="url(#p9851077e19)" style="stroke: #000000; stroke-width: 0.62"/>
    <path d="M 116.69 68.33 
L 105.87 62.08 
L 107.01 56.97 
L 105.87 62.08 
z
" clip-path="url(#p9851077e19)" style="stroke: #000000; stroke-width: 0.62"/>
    <path d="M 133.91 65.75 
L 121.45 64.66 
L 120.33 59.54 
L 121.45 64.66 
L 123.01 64.80 
L 121.89 59.68 
L 123.01 64.80 
z
" clip-path="url(#p9851077e19)" style="stroke: #000000; stroke-width: 0.62"/>
    <path d="M 149.20 68.79 
L 138.96 61.62 
L 140.55 56.63 
L 138.96 61.62 
L 140.24 62.52 
L 141.83 57.52 
L 140.24 62.52 
L 141.52 63.41 
L 142.32 60.92 
L 141.52 63.41 
z
" clip-path="url(#p9851077e19)" style="stroke: #000000; stroke-width: 0.62"/>
    <path d="M 165.60 68.79 
L 155.36 61.62 
L 156.95 56.63 
L 155.36 61.62 
L 156.64 62.52 
L 158.23 57.52 
L 156.64 62.52 
L 157.92 63.41 
L 159.51 58.42 
L 157.92 63.41 
z
" clip-path="url(#p9851077e19)" style="stroke: #000000; stroke-width: 0.62"/>
    <path d="M 182.76 67.34 
L 171.01 63.07 
L 171.25 57.83 
L 171.01 63.07 
L 172.48 63.60 
L 172.72 58.37 
L 172.48 63.60 
L 173.95 64.14 
L 174.07 61.52 
L 173.95 64.14 
z
" clip-path="url(#p9851077e19)" style="stroke: #000000; stroke-width: 0.62"/>
    <path d="M 199.16 67.34 
L 187.41 63.07 
L 187.65 57.83 
L 187.41 63.07 
L 188.88 63.60 
L 189.12 58.37 
L 188.88 63.60 
L 190.35 64.14 
L 190.59 58.90 
L 190.35 64.14 
L 191.82 64.67 
L 191.94 62.05 
L 191.82 64.67 
z
" clip-path="url(#p9851077e19)" style="stroke: #000000; stroke-width: 0.62"/>
    <path d="M 215.56 67.34 
L 203.81 63.07 
L 204.06 57.83 
L 203.81 63.07 
L 205.28 63.60 
L 205.52 58.37 
L 205.28 63.60 
L 206.75 64.14 
L 206.99 58.90 
L 206.75 64.14 
L 208.22 64.67 
L 208.34 62.05 
L 208.22 64.67 
z
" clip-path="url(#p9851077e19)" style="stroke: #000000; stroke-width: 0.62"/>
    <path d="M 231.96 67.34 
L 220.22 63.07 
L 220.46 57.83 
L 220.22 63.07 
L 221.68 63.60 
L 221.93 58.37 
L 221.68 63.60 
L 223.15 64.14 
L 223.39 58.90 
L 223.15 64.14 
L 224.62 64.67 
L 224.86 59.44 
L 224.62 64.67 
z
" clip-path="url(#p9851077e19)" style="stroke: #000000; stroke-width: 0.62"/>
    <path d="M 247.90 68.33 
L 237.08 62.08 
L 238.23 56.97 
L 237.08 62.08 
L 238.43 62.86 
L 239.58 57.75 
L 238.43 62.86 
L 239.78 63.64 
L 240.36 61.09 
L 239.78 63.64 
z
" clip-path="url(#p9851077e19)" style="stroke: #000000; stroke-width: 0.62"/>
    <path d="M 264.01 68.79 
L 253.77 61.62 
L 255.36 56.63 
L 253.77 61.62 
L 255.05 62.52 
L 256.64 57.52 
L 255.05 62.52 
L 256.33 63.41 
L 257.13 60.92 
L 256.33 63.41 
z
" clip-path="url(#p9851077e19)" style="stroke: #000000; stroke-width: 0.62"/>
    <path d="M 280.08 69.22 
L 270.51 61.19 
L 272.52 56.35 
L 270.51 61.19 
L 271.70 62.19 
L 273.72 57.36 
L 271.70 62.19 
L 272.90 63.20 
L 274.92 58.36 
L 272.90 63.20 
z
" clip-path="url(#p9851077e19)" style="stroke: #000000; stroke-width: 0.62"/>
    <path d="M 296.48 69.22 
L 286.91 61.19 
L 288.93 56.35 
L 286.91 61.19 
L 288.10 62.19 
L 290.12 57.36 
L 288.10 62.19 
L 289.30 63.20 
L 291.32 58.36 
L 289.30 63.20 
z
" clip-path="url(#p9851077e19)" style="stroke: #000000; stroke-width: 0.62"/>
    <path d="M 313.22 68.79 
L 302.98 61.62 
L 304.57 56.63 
L 302.98 61.62 
L 304.26 62.52 
L 305.85 57.52 
L 304.26 62.52 
L 305.54 63.41 
L 307.13 58.42 
L 305.54 63.41 
z
" clip-path="url(#p9851077e19)" style="stroke: #000000; stroke-width: 0.62"/>
    <path d="M 329.91 68.33 
L 319.09 62.08 
L 320.23 56.97 
L 319.09 62.08 
L 320.44 62.86 
L 321.59 57.75 
L 320.44 62.86 
L 321.79 63.64 
L 322.37 61.09 
L 321.79 63.64 
z
" clip-path="url(#p9851077e19)" style="stroke: #000000; stroke-width: 0.62"/>
    <path d="M 346.77 67.34 
L 335.03 63.07 
L 335.27 57.83 
L 335.03 63.07 
L 336.50 63.60 
L 336.74 58.37 
L 336.50 63.60 
L 337.96 64.14 
L 338.21 58.90 
L 337.96 64.14 
z
" clip-path="url(#p9851077e19)" style="stroke: #000000; stroke-width: 0.62"/>
    <path d="M 363.34 66.82 
L 351.27 63.59 
L 351.05 58.35 
L 351.27 63.59 
L 352.77 63.99 
L 352.56 58.76 
L 352.77 63.99 
L 354.28 64.40 
L 354.07 59.16 
L 354.28 64.40 
z
" clip-path="url(#p9851077e19)" style="stroke: #000000; stroke-width: 0.62"/>
    <path d="M 379.74 66.82 
L 367.67 63.59 
L 367.45 58.35 
L 367.67 63.59 
L 369.18 63.99 
L 368.96 58.76 
L 369.18 63.99 
L 370.69 64.40 
L 370.47 59.16 
L 370.69 64.40 
z
" clip-path="url(#p9851077e19)" style="stroke: #000000; stroke-width: 0.62"/>
    <path d="M 396.14 66.82 
L 384.07 63.59 
L 383.85 58.35 
L 384.07 63.59 
L 385.58 63.99 
L 385.36 58.76 
L 385.58 63.99 
L 387.09 64.40 
L 386.87 59.16 
L 387.09 64.40 
z
" clip-path="url(#p9851077e19)" style="stroke: #000000; stroke-width: 0.62"/>
    <path d="M 412.66 66.29 
L 400.35 64.12 
L 399.68 58.92 
L 400.35 64.12 
L 401.89 64.39 
L 401.22 59.20 
L 401.89 64.39 
L 403.43 64.66 
L 402.76 59.47 
L 403.43 64.66 
L 404.97 64.93 
L 404.63 62.34 
L 404.97 64.93 
z
" clip-path="url(#p9851077e19)" style="stroke: #000000; stroke-width: 0.62"/>
    <path d="M 429.06 66.29 
L 416.75 64.12 
L 416.08 58.92 
L 416.75 64.12 
L 418.29 64.39 
L 417.62 59.20 
L 418.29 64.39 
L 419.83 64.66 
L 419.50 62.07 
L 419.83 64.66 
z
" clip-path="url(#p9851077e19)" style="stroke: #000000; stroke-width: 0.62"/>
    <path d="M 445.54 65.75 
L 433.08 64.66 
L 431.96 59.54 
L 433.08 64.66 
L 434.64 64.80 
L 433.52 59.68 
L 434.64 64.80 
z
" clip-path="url(#p9851077e19)" style="stroke: #000000; stroke-width: 0.62"/>
    <path d="M 461.87 64.12 
L 449.56 66.29 
L 447.15 61.64 
L 449.56 66.29 
L 451.10 66.02 
L 449.89 63.69 
L 451.10 66.02 
z
" clip-path="url(#p9851077e19)" style="stroke: #000000; stroke-width: 0.62"/>
    <path d="M 477.99 63.07 
L 466.24 67.34 
L 463.06 63.18 
L 466.24 67.34 
L 467.71 66.81 
L 464.53 62.64 
L 467.71 66.81 
z
" clip-path="url(#p9851077e19)" style="stroke: #000000; stroke-width: 0.62"/>
    <path d="M 494.39 63.07 
L 482.64 67.34 
L 479.46 63.18 
L 482.64 67.34 
L 484.11 66.81 
L 480.93 62.64 
L 484.11 66.81 
z
" clip-path="url(#p9851077e19)" style="stroke: #000000; stroke-width: 0.62"/>
    <path d="M 510.33 62.08 
L 499.50 68.33 
L 495.65 64.78 
L 499.50 68.33 
L 500.86 67.55 
L 498.93 65.77 
L 500.86 67.55 
z
" clip-path="url(#p9851077e19)" style="stroke: #000000; stroke-width: 0.62"/>
    <path d="M 527.54 64.66 
L 515.09 65.75 
L 513.10 60.91 
L 515.09 65.75 
L 516.65 65.61 
L 514.66 60.77 
L 516.65 65.61 
z
" clip-path="url(#p9851077e19)" style="stroke: #000000; stroke-width: 0.62"/>
    <path d="M 543.95 64.66 
L 531.49 65.75 
L 529.50 60.91 
L 531.49 65.75 
L 533.05 65.61 
L 531.06 60.77 
L 533.05 65.61 
z
" clip-path="url(#p9851077e19)" style="stroke: #000000; stroke-width: 0.62"/>
    <path d="M 560.35 64.66 
L 547.90 65.75 
L 545.90 60.91 
L 547.90 65.75 
L 549.45 65.61 
L 547.46 60.77 
L 549.45 65.61 
z
" clip-path="url(#p9851077e19)" style="stroke: #000000; stroke-width: 0.62"/>
    <path d="M 576.75 65.75 
L 564.30 64.66 
L 563.18 59.54 
L 564.30 64.66 
L 565.85 64.80 
L 564.73 59.68 
L 565.85 64.80 
z
" clip-path="url(#p9851077e19)" style="stroke: #000000; stroke-width: 0.62"/>
    <path d="M 592.34 68.33 
L 581.51 62.08 
L 582.66 56.97 
L 581.51 62.08 
L 582.87 62.86 
L 584.01 57.75 
L 582.87 62.86 
z
" clip-path="url(#p9851077e19)" style="stroke: #000000; stroke-width: 0.62"/>
    <path d="M 609.20 67.34 
L 597.45 63.07 
L 597.69 57.83 
L 597.45 63.07 
L 598.92 63.60 
L 599.16 58.37 
L 598.92 63.60 
z
" clip-path="url(#p9851077e19)" style="stroke: #000000; stroke-width: 0.62"/>
    <path d="M 625.39 67.85 
L 614.06 62.56 
L 614.76 57.37 
L 614.06 62.56 
z
" clip-path="url(#p9851077e19)" style="stroke: #000000; stroke-width: 0.62"/>
    <path d="M 642.17 66.82 
L 630.09 63.59 
L 629.88 58.35 
L 630.09 63.59 
L 631.60 63.99 
L 631.49 61.38 
L 631.60 63.99 
z
" clip-path="url(#p9851077e19)" style="stroke: #000000; stroke-width: 0.62"/>
    <path d="M 658.57 66.82 
L 646.49 63.59 
L 646.28 58.35 
L 646.49 63.59 
L 648.00 63.99 
L 647.90 61.38 
L 648.00 63.99 
z
" clip-path="url(#p9851077e19)" style="stroke: #000000; stroke-width: 0.62"/>
    <path d="M 675.09 66.29 
L 662.78 64.12 
L 662.11 58.92 
L 662.78 64.12 
L 664.32 64.39 
L 663.98 61.79 
L 664.32 64.39 
z
" clip-path="url(#p9851077e19)" style="stroke: #000000; stroke-width: 0.62"/>
    <path d="M 691.49 66.29 
L 679.18 64.12 
L 678.51 58.92 
L 679.18 64.12 
z
" clip-path="url(#p9851077e19)" style="stroke: #000000; stroke-width: 0.62"/>
    <path d="M 707.96 64.66 
L 695.51 65.75 
L 693.52 60.91 
L 695.51 65.75 
z
" clip-path="url(#p9851077e19)" style="stroke: #000000; stroke-width: 0.62"/>
    <path d="M 723.55 62.08 
L 712.72 68.33 
L 708.87 64.78 
L 712.72 68.33 
z
" clip-path="url(#p9851077e19)" style="stroke: #000000; stroke-width: 0.62"/>
    <path d="M 739.66 61.62 
L 729.42 68.79 
L 725.27 65.59 
L 729.42 68.79 
z
" clip-path="url(#p9851077e19)" style="stroke: #000000; stroke-width: 0.62"/>
    <path d="M 84.63 90.82 
L 72.32 88.65 
L 71.65 83.46 
L 72.32 88.65 
L 73.86 88.92 
L 73.19 83.73 
L 73.86 88.92 
z
" clip-path="url(#p9851077e19)" style="stroke: #000000; stroke-width: 0.62"/>
    <path d="M 98.00 95.15 
L 91.75 84.32 
L 95.30 80.47 
L 91.75 84.32 
z
" clip-path="url(#p9851077e19)" style="stroke: #000000; stroke-width: 0.62"/>
    <path d="M 116.69 92.86 
L 105.87 86.61 
L 107.01 81.50 
L 105.87 86.61 
z
" clip-path="url(#p9851077e19)" style="stroke: #000000; stroke-width: 0.62"/>
    <path d="M 133.93 89.74 
L 121.43 89.74 
L 119.87 84.74 
L 121.43 89.74 
L 122.99 89.74 
L 122.21 87.24 
L 122.99 89.74 
z
" clip-path="url(#p9851077e19)" style="stroke: #000000; stroke-width: 0.62"/>
    <path d="M 149.95 91.87 
L 138.21 87.60 
L 138.45 82.37 
L 138.21 87.60 
L 139.68 88.13 
L 139.92 82.90 
L 139.68 88.13 
z
" clip-path="url(#p9851077e19)" style="stroke: #000000; stroke-width: 0.62"/>
    <path d="M 165.90 92.86 
L 155.07 86.61 
L 156.22 81.50 
L 155.07 86.61 
L 156.42 87.39 
L 157.57 82.28 
L 156.42 87.39 
L 157.78 88.17 
L 158.35 85.62 
L 157.78 88.17 
z
" clip-path="url(#p9851077e19)" style="stroke: #000000; stroke-width: 0.62"/>
    <path d="M 182.76 91.87 
L 171.01 87.60 
L 171.25 82.37 
L 171.01 87.60 
L 172.48 88.13 
L 172.72 82.90 
L 172.48 88.13 
z
" clip-path="url(#p9851077e19)" style="stroke: #000000; stroke-width: 0.62"/>
    <path d="M 199.44 90.82 
L 187.13 88.65 
L 186.46 83.46 
L 187.13 88.65 
L 188.67 88.92 
L 188.00 83.73 
L 188.67 88.92 
L 190.21 89.19 
L 189.54 84.00 
L 190.21 89.19 
z
" clip-path="url(#p9851077e19)" style="stroke: #000000; stroke-width: 0.62"/>
    <path d="M 215.84 90.82 
L 203.53 88.65 
L 202.86 83.46 
L 203.53 88.65 
L 205.07 88.92 
L 204.40 83.73 
L 205.07 88.92 
L 206.61 89.19 
L 205.94 84.00 
L 206.61 89.19 
z
" clip-path="url(#p9851077e19)" style="stroke: #000000; stroke-width: 0.62"/>
    <path d="M 232.13 91.35 
L 220.05 88.12 
L 219.84 82.88 
L 220.05 88.12 
L 221.56 88.52 
L 221.35 83.29 
L 221.56 88.52 
L 223.07 88.93 
L 222.86 83.69 
L 223.07 88.93 
L 224.58 89.33 
L 224.47 86.71 
L 224.58 89.33 
z
" clip-path="url(#p9851077e19)" style="stroke: #000000; stroke-width: 0.62"/>
    <path d="M 248.16 92.38 
L 236.83 87.09 
L 237.52 81.90 
L 236.83 87.09 
L 238.24 87.75 
L 238.94 82.56 
L 238.24 87.75 
L 239.66 88.42 
L 240.01 85.82 
L 239.66 88.42 
z
" clip-path="url(#p9851077e19)" style="stroke: #000000; stroke-width: 0.62"/>
    <path d="M 264.31 92.86 
L 253.48 86.61 
L 254.63 81.50 
L 253.48 86.61 
L 254.83 87.39 
L 255.98 82.28 
L 254.83 87.39 
L 256.19 88.17 
L 256.76 85.62 
L 256.19 88.17 
z
" clip-path="url(#p9851077e19)" style="stroke: #000000; stroke-width: 0.62"/>
    <path d="M 280.41 93.32 
L 270.17 86.15 
L 271.76 81.16 
L 270.17 86.15 
L 271.45 87.05 
L 273.04 82.06 
L 271.45 87.05 
L 272.73 87.94 
L 273.53 85.45 
L 272.73 87.94 
z
" clip-path="url(#p9851077e19)" style="stroke: #000000; stroke-width: 0.62"/>
    <path d="M 296.48 93.75 
L 286.91 85.72 
L 288.93 80.88 
L 286.91 85.72 
L 288.10 86.72 
L 290.12 81.89 
L 288.10 86.72 
L 289.30 87.73 
L 291.32 82.89 
L 289.30 87.73 
z
" clip-path="url(#p9851077e19)" style="stroke: #000000; stroke-width: 0.62"/>
    <path d="M 313.22 93.32 
L 302.98 86.15 
L 304.57 81.16 
L 302.98 86.15 
L 304.26 87.05 
L 305.85 82.06 
L 304.26 87.05 
L 305.54 87.94 
L 307.13 82.95 
L 305.54 87.94 
z
" clip-path="url(#p9851077e19)" style="stroke: #000000; stroke-width: 0.62"/>
    <path d="M 330.16 92.38 
L 318.83 87.09 
L 319.53 81.90 
L 318.83 87.09 
L 320.25 87.75 
L 320.95 82.56 
L 320.25 87.75 
L 321.67 88.42 
L 322.02 85.82 
L 321.67 88.42 
z
" clip-path="url(#p9851077e19)" style="stroke: #000000; stroke-width: 0.62"/>
    <path d="M 346.94 91.35 
L 334.86 88.12 
L 334.65 82.88 
L 334.86 88.12 
L 336.37 88.52 
L 336.16 83.29 
L 336.37 88.52 
L 337.88 88.93 
L 337.67 83.69 
L 337.88 88.93 
z
" clip-path="url(#p9851077e19)" style="stroke: #000000; stroke-width: 0.62"/>
    <path d="M 363.46 90.82 
L 351.15 88.65 
L 350.48 83.46 
L 351.15 88.65 
L 352.69 88.92 
L 352.02 83.73 
L 352.69 88.92 
L 354.22 89.19 
L 353.55 84.00 
L 354.22 89.19 
z
" clip-path="url(#p9851077e19)" style="stroke: #000000; stroke-width: 0.62"/>
    <path d="M 379.86 90.82 
L 367.55 88.65 
L 366.88 83.46 
L 367.55 88.65 
L 369.09 88.92 
L 368.42 83.73 
L 369.09 88.92 
L 370.63 89.19 
L 369.96 84.00 
L 370.63 89.19 
z
" clip-path="url(#p9851077e19)" style="stroke: #000000; stroke-width: 0.62"/>
    <path d="M 396.26 90.82 
L 383.95 88.65 
L 383.28 83.46 
L 383.95 88.65 
L 385.49 88.92 
L 384.82 83.73 
L 385.49 88.92 
L 387.03 89.19 
L 386.36 84.00 
L 387.03 89.19 
z
" clip-path="url(#p9851077e19)" style="stroke: #000000; stroke-width: 0.62"/>
    <path d="M 412.66 90.82 
L 400.35 88.65 
L 399.68 83.46 
L 400.35 88.65 
L 401.89 88.92 
L 401.22 83.73 
L 401.89 88.92 
L 403.43 89.19 
L 403.09 86.60 
L 403.43 89.19 
z
" clip-path="url(#p9851077e19)" style="stroke: #000000; stroke-width: 0.62"/>
    <path d="M 429.13 90.28 
L 416.68 89.19 
L 415.56 84.07 
L 416.68 89.19 
L 418.24 89.33 
L 417.12 84.21 
L 418.24 89.33 
L 419.80 89.46 
L 419.24 86.90 
L 419.80 89.46 
z
" clip-path="url(#p9851077e19)" style="stroke: #000000; stroke-width: 0.62"/>
    <path d="M 445.54 90.28 
L 433.08 89.19 
L 431.96 84.07 
L 433.08 89.19 
L 434.64 89.33 
L 433.52 84.21 
L 434.64 89.33 
z
" clip-path="url(#p9851077e19)" style="stroke: #000000; stroke-width: 0.62"/>
    <path d="M 461.75 88.12 
L 449.67 91.35 
L 446.87 86.93 
L 449.67 91.35 
z
" clip-path="url(#p9851077e19)" style="stroke: #000000; stroke-width: 0.62"/>
    <path d="M 477.99 87.60 
L 466.24 91.87 
L 463.06 87.71 
L 466.24 91.87 
L 467.71 91.34 
L 466.12 89.26 
L 467.71 91.34 
z
" clip-path="url(#p9851077e19)" style="stroke: #000000; stroke-width: 0.62"/>
    <path d="M 494.18 87.09 
L 482.85 92.38 
L 479.32 88.51 
L 482.85 92.38 
L 484.27 91.72 
L 482.50 89.78 
L 484.27 91.72 
z
" clip-path="url(#p9851077e19)" style="stroke: #000000; stroke-width: 0.62"/>
    <path d="M 510.33 86.61 
L 499.50 92.86 
L 495.65 89.31 
L 499.50 92.86 
L 500.86 92.08 
L 498.93 90.31 
L 500.86 92.08 
z
" clip-path="url(#p9851077e19)" style="stroke: #000000; stroke-width: 0.62"/>
    <path d="M 527.36 88.12 
L 515.28 91.35 
L 512.48 86.93 
L 515.28 91.35 
L 516.79 90.95 
L 513.99 86.52 
L 516.79 90.95 
z
" clip-path="url(#p9851077e19)" style="stroke: #000000; stroke-width: 0.62"/>
    <path d="M 543.95 89.19 
L 531.49 90.28 
L 529.50 85.44 
L 531.49 90.28 
L 533.05 90.14 
L 531.06 85.30 
L 533.05 90.14 
z
" clip-path="url(#p9851077e19)" style="stroke: #000000; stroke-width: 0.62"/>
    <path d="M 560.37 89.74 
L 547.87 89.74 
L 546.31 84.74 
L 547.87 89.74 
L 549.43 89.74 
L 547.87 84.74 
L 549.43 89.74 
z
" clip-path="url(#p9851077e19)" style="stroke: #000000; stroke-width: 0.62"/>
    <path d="M 576.75 90.28 
L 564.30 89.19 
L 563.18 84.07 
L 564.30 89.19 
L 565.85 89.33 
L 564.73 84.21 
L 565.85 89.33 
z
" clip-path="url(#p9851077e19)" style="stroke: #000000; stroke-width: 0.62"/>
    <path d="M 592.80 91.87 
L 581.05 87.60 
L 581.29 82.37 
L 581.05 87.60 
L 582.52 88.13 
L 582.64 85.52 
L 582.52 88.13 
z
" clip-path="url(#p9851077e19)" style="stroke: #000000; stroke-width: 0.62"/>
    <path d="M 609.36 91.35 
L 597.29 88.12 
L 597.07 82.88 
L 597.29 88.12 
L 598.80 88.52 
L 598.69 85.91 
L 598.80 88.52 
z
" clip-path="url(#p9851077e19)" style="stroke: #000000; stroke-width: 0.62"/>
    <path d="M 625.76 91.35 
L 613.69 88.12 
L 613.48 82.88 
L 613.69 88.12 
L 615.20 88.52 
L 615.09 85.91 
L 615.20 88.52 
z
" clip-path="url(#p9851077e19)" style="stroke: #000000; stroke-width: 0.62"/>
    <path d="M 642.28 90.82 
L 629.97 88.65 
L 629.30 83.46 
L 629.97 88.65 
L 631.51 88.92 
L 631.18 86.32 
L 631.51 88.92 
z
" clip-path="url(#p9851077e19)" style="stroke: #000000; stroke-width: 0.62"/>
    <path d="M 658.69 90.82 
L 646.38 88.65 
L 645.71 83.46 
L 646.38 88.65 
L 647.91 88.92 
L 647.58 86.32 
L 647.91 88.92 
z
" clip-path="url(#p9851077e19)" style="stroke: #000000; stroke-width: 0.62"/>
    <path d="M 675.18 89.74 
L 662.68 89.74 
L 661.12 84.74 
L 662.68 89.74 
z
" clip-path="url(#p9851077e19)" style="stroke: #000000; stroke-width: 0.62"/>
    <path d="M 691.58 89.74 
L 679.08 89.74 
L 677.52 84.74 
L 679.08 89.74 
z
" clip-path="url(#p9851077e19)" style="stroke: #000000; stroke-width: 0.62"/>
    <path d="M 707.96 89.19 
L 695.51 90.28 
L 693.52 85.44 
L 695.51 90.28 
z
" clip-path="url(#p9851077e19)" style="stroke: #000000; stroke-width: 0.62"/>
    <path d="M 723.80 87.09 
L 712.47 92.38 
L 708.94 88.51 
L 712.47 92.38 
z
" clip-path="url(#p9851077e19)" style="stroke: #000000; stroke-width: 0.62"/>
    <path d="M 739.66 86.15 
L 729.42 93.32 
L 725.27 90.12 
L 729.42 93.32 
z
" clip-path="url(#p9851077e19)" style="stroke: #000000; stroke-width: 0.62"/>
    <path d="M 84.51 115.88 
L 72.44 112.65 
L 72.22 107.41 
L 72.44 112.65 
L 73.95 113.05 
L 73.73 107.82 
L 73.95 113.05 
L 75.46 113.46 
L 75.35 110.84 
L 75.46 113.46 
z
" clip-path="url(#p9851077e19)" style="stroke: #000000; stroke-width: 0.62"/>
    <path d="M 98.89 119.05 
L 90.86 109.48 
L 93.69 105.07 
L 90.86 109.48 
z
" clip-path="url(#p9851077e19)" style="stroke: #000000; stroke-width: 0.62"/>
    <path d="M 116.94 116.91 
L 105.61 111.62 
L 106.31 106.43 
L 105.61 111.62 
z
" clip-path="url(#p9851077e19)" style="stroke: #000000; stroke-width: 0.62"/>
    <path d="M 133.87 113.40 
L 121.49 115.14 
L 119.25 110.40 
L 121.49 115.14 
L 123.04 114.92 
L 121.92 112.55 
L 123.04 114.92 
z
" clip-path="url(#p9851077e19)" style="stroke: #000000; stroke-width: 0.62"/>
    <path d="M 150.33 114.27 
L 137.83 114.27 
L 136.27 109.27 
L 137.83 114.27 
L 139.39 114.27 
L 137.83 109.27 
L 139.39 114.27 
z
" clip-path="url(#p9851077e19)" style="stroke: #000000; stroke-width: 0.62"/>
    <path d="M 165.60 117.85 
L 155.36 110.68 
L 156.95 105.69 
L 155.36 110.68 
L 156.64 111.58 
L 158.23 106.59 
L 156.64 111.58 
z
" clip-path="url(#p9851077e19)" style="stroke: #000000; stroke-width: 0.62"/>
    <path d="M 182.55 116.91 
L 171.22 111.62 
L 171.92 106.43 
L 171.22 111.62 
L 172.64 112.29 
L 173.33 107.09 
L 172.64 112.29 
L 174.05 112.95 
L 174.40 110.35 
L 174.05 112.95 
z
" clip-path="url(#p9851077e19)" style="stroke: #000000; stroke-width: 0.62"/>
    <path d="M 199.51 114.81 
L 187.06 113.72 
L 185.94 108.60 
L 187.06 113.72 
L 188.62 113.86 
L 187.50 108.74 
L 188.62 113.86 
L 190.17 113.99 
L 189.61 111.44 
L 190.17 113.99 
z
" clip-path="url(#p9851077e19)" style="stroke: #000000; stroke-width: 0.62"/>
    <path d="M 215.91 114.81 
L 203.46 113.72 
L 202.34 108.60 
L 203.46 113.72 
L 205.02 113.86 
L 203.90 108.74 
L 205.02 113.86 
L 206.57 113.99 
L 206.01 111.44 
L 206.57 113.99 
z
" clip-path="url(#p9851077e19)" style="stroke: #000000; stroke-width: 0.62"/>
    <path d="M 231.96 116.40 
L 220.22 112.13 
L 220.46 106.90 
L 220.22 112.13 
L 221.68 112.66 
L 221.93 107.43 
L 221.68 112.66 
z
" clip-path="url(#p9851077e19)" style="stroke: #000000; stroke-width: 0.62"/>
    <path d="M 248.16 116.91 
L 236.83 111.62 
L 237.52 106.43 
L 236.83 111.62 
L 238.24 112.29 
L 238.94 107.09 
L 238.24 112.29 
L 239.66 112.95 
L 240.01 110.35 
L 239.66 112.95 
z
" clip-path="url(#p9851077e19)" style="stroke: #000000; stroke-width: 0.62"/>
    <path d="M 264.31 117.39 
L 253.48 111.14 
L 254.63 106.03 
L 253.48 111.14 
L 254.83 111.92 
L 255.98 106.81 
L 254.83 111.92 
z
" clip-path="url(#p9851077e19)" style="stroke: #000000; stroke-width: 0.62"/>
    <path d="M 280.71 117.39 
L 269.88 111.14 
L 271.03 106.03 
L 269.88 111.14 
L 271.23 111.92 
L 272.38 106.81 
L 271.23 111.92 
L 272.59 112.70 
L 273.16 110.15 
L 272.59 112.70 
z
" clip-path="url(#p9851077e19)" style="stroke: #000000; stroke-width: 0.62"/>
    <path d="M 296.82 117.85 
L 286.58 110.68 
L 288.16 105.69 
L 286.58 110.68 
L 287.86 111.58 
L 289.44 106.59 
L 287.86 111.58 
L 289.14 112.47 
L 289.93 109.98 
L 289.14 112.47 
z
" clip-path="url(#p9851077e19)" style="stroke: #000000; stroke-width: 0.62"/>
    <path d="M 313.22 117.85 
L 302.98 110.68 
L 304.57 105.69 
L 302.98 110.68 
L 304.26 111.58 
L 305.85 106.59 
L 304.26 111.58 
L 305.54 112.47 
L 306.33 109.98 
L 305.54 112.47 
z
" clip-path="url(#p9851077e19)" style="stroke: #000000; stroke-width: 0.62"/>
    <path d="M 330.16 116.91 
L 318.83 111.62 
L 319.53 106.43 
L 318.83 111.62 
L 320.25 112.29 
L 320.95 107.09 
L 320.25 112.29 
L 321.67 112.95 
L 322.02 110.35 
L 321.67 112.95 
z
" clip-path="url(#p9851077e19)" style="stroke: #000000; stroke-width: 0.62"/>
    <path d="M 346.77 116.40 
L 335.03 112.13 
L 335.27 106.90 
L 335.03 112.13 
L 336.50 112.66 
L 336.74 107.43 
L 336.50 112.66 
z
" clip-path="url(#p9851077e19)" style="stroke: #000000; stroke-width: 0.62"/>
    <path d="M 363.34 115.88 
L 351.27 112.65 
L 351.05 107.41 
L 351.27 112.65 
L 352.77 113.05 
L 352.56 107.82 
L 352.77 113.05 
z
" clip-path="url(#p9851077e19)" style="stroke: #000000; stroke-width: 0.62"/>
    <path d="M 379.74 115.88 
L 367.67 112.65 
L 367.45 107.41 
L 367.67 112.65 
L 369.18 113.05 
L 368.96 107.82 
L 369.18 113.05 
z
" clip-path="url(#p9851077e19)" style="stroke: #000000; stroke-width: 0.62"/>
    <path d="M 396.14 115.88 
L 384.07 112.65 
L 383.85 107.41 
L 384.07 112.65 
L 385.58 113.05 
L 385.36 107.82 
L 385.58 113.05 
L 387.09 113.46 
L 386.87 108.22 
L 387.09 113.46 
z
" clip-path="url(#p9851077e19)" style="stroke: #000000; stroke-width: 0.62"/>
    <path d="M 412.54 115.88 
L 400.47 112.65 
L 400.25 107.41 
L 400.47 112.65 
L 401.98 113.05 
L 401.76 107.82 
L 401.98 113.05 
L 403.49 113.46 
L 403.38 110.84 
L 403.49 113.46 
z
" clip-path="url(#p9851077e19)" style="stroke: #000000; stroke-width: 0.62"/>
    <path d="M 428.95 115.88 
L 416.87 112.65 
L 416.66 107.41 
L 416.87 112.65 
L 418.38 113.05 
L 418.17 107.82 
L 418.38 113.05 
z
" clip-path="url(#p9851077e19)" style="stroke: #000000; stroke-width: 0.62"/>
    <path d="M 445.56 114.27 
L 433.06 114.27 
L 431.50 109.27 
L 433.06 114.27 
L 434.62 114.27 
L 433.84 111.77 
L 434.62 114.27 
z
" clip-path="url(#p9851077e19)" style="stroke: #000000; stroke-width: 0.62"/>
    <path d="M 461.75 112.65 
L 449.67 115.88 
L 446.87 111.46 
L 449.67 115.88 
z
" clip-path="url(#p9851077e19)" style="stroke: #000000; stroke-width: 0.62"/>
    <path d="M 477.99 112.13 
L 466.24 116.40 
L 463.06 112.24 
L 466.24 116.40 
L 467.71 115.87 
L 466.12 113.79 
L 467.71 115.87 
z
" clip-path="url(#p9851077e19)" style="stroke: #000000; stroke-width: 0.62"/>
    <path d="M 494.39 112.13 
L 482.64 116.40 
L 479.46 112.24 
L 482.64 116.40 
L 484.11 115.87 
L 482.52 113.79 
L 484.11 115.87 
z
" clip-path="url(#p9851077e19)" style="stroke: #000000; stroke-width: 0.62"/>
    <path d="M 510.04 110.68 
L 499.80 117.85 
L 495.65 114.65 
L 499.80 117.85 
z
" clip-path="url(#p9851077e19)" style="stroke: #000000; stroke-width: 0.62"/>
    <path d="M 526.98 111.62 
L 515.65 116.91 
L 512.12 113.04 
L 515.65 116.91 
L 517.07 116.25 
L 515.31 114.31 
L 517.07 116.25 
z
" clip-path="url(#p9851077e19)" style="stroke: #000000; stroke-width: 0.62"/>
    <path d="M 543.95 113.72 
L 531.49 114.81 
L 529.50 109.97 
L 531.49 114.81 
L 533.05 114.67 
L 531.06 109.83 
L 533.05 114.67 
z
" clip-path="url(#p9851077e19)" style="stroke: #000000; stroke-width: 0.62"/>
    <path d="M 560.37 114.27 
L 547.87 114.27 
L 546.31 109.27 
L 547.87 114.27 
L 549.43 114.27 
L 547.87 109.27 
L 549.43 114.27 
z
" clip-path="url(#p9851077e19)" style="stroke: #000000; stroke-width: 0.62"/>
    <path d="M 576.68 115.35 
L 564.37 113.18 
L 563.70 107.99 
L 564.37 113.18 
L 565.91 113.45 
L 565.57 110.85 
L 565.91 113.45 
z
" clip-path="url(#p9851077e19)" style="stroke: #000000; stroke-width: 0.62"/>
    <path d="M 592.59 116.91 
L 581.26 111.62 
L 581.96 106.43 
L 581.26 111.62 
z
" clip-path="url(#p9851077e19)" style="stroke: #000000; stroke-width: 0.62"/>
    <path d="M 609.20 116.40 
L 597.45 112.13 
L 597.69 106.90 
L 597.45 112.13 
L 598.92 112.66 
L 599.04 110.05 
L 598.92 112.66 
z
" clip-path="url(#p9851077e19)" style="stroke: #000000; stroke-width: 0.62"/>
    <path d="M 625.60 116.40 
L 613.85 112.13 
L 614.10 106.90 
L 613.85 112.13 
L 615.32 112.66 
L 615.56 107.43 
L 615.32 112.66 
z
" clip-path="url(#p9851077e19)" style="stroke: #000000; stroke-width: 0.62"/>
    <path d="M 642.28 115.35 
L 629.97 113.18 
L 629.30 107.99 
L 629.97 113.18 
L 631.51 113.45 
L 631.18 110.85 
L 631.51 113.45 
z
" clip-path="url(#p9851077e19)" style="stroke: #000000; stroke-width: 0.62"/>
    <path d="M 658.76 114.81 
L 646.30 113.72 
L 645.18 108.60 
L 646.30 113.72 
z
" clip-path="url(#p9851077e19)" style="stroke: #000000; stroke-width: 0.62"/>
    <path d="M 675.16 114.81 
L 662.71 113.72 
L 661.59 108.60 
L 662.71 113.72 
z
" clip-path="url(#p9851077e19)" style="stroke: #000000; stroke-width: 0.62"/>
    <path d="M 691.56 114.81 
L 679.11 113.72 
L 677.99 108.60 
L 679.11 113.72 
z
" clip-path="url(#p9851077e19)" style="stroke: #000000; stroke-width: 0.62"/>
    <path d="M 707.96 113.72 
L 695.51 114.81 
L 693.52 109.97 
L 695.51 114.81 
z
" clip-path="url(#p9851077e19)" style="stroke: #000000; stroke-width: 0.62"/>
    <path d="M 723.55 111.14 
L 712.72 117.39 
L 714.75 116.22 
L 712.83 114.44 
L 714.75 116.22 
z
" clip-path="url(#p9851077e19)" style="stroke: #000000; stroke-width: 0.62"/>
    <path d="M 736.68 108.39 
L 732.40 120.14 
L 733.20 117.94 
L 730.59 117.82 
L 733.20 117.94 
z
" clip-path="url(#p9851077e19)" style="stroke: #000000; stroke-width: 0.62"/>
    <path d="M 84.73 138.80 
L 72.23 138.80 
L 70.66 133.80 
L 72.23 138.80 
L 73.79 138.80 
L 72.23 133.80 
L 73.79 138.80 
z
" clip-path="url(#p9851077e19)" style="stroke: #000000; stroke-width: 0.62"/>
    <path d="M 100.91 140.41 
L 88.84 137.18 
L 88.62 131.94 
L 88.84 137.18 
z
" clip-path="url(#p9851077e19)" style="stroke: #000000; stroke-width: 0.62"/>
    <path d="M 117.32 140.41 
L 105.24 137.18 
L 105.03 131.94 
L 105.24 137.18 
z
" clip-path="url(#p9851077e19)" style="stroke: #000000; stroke-width: 0.62"/>
    <path d="M 133.93 138.80 
L 121.43 138.80 
L 119.87 133.80 
L 121.43 138.80 
L 122.99 138.80 
L 121.43 133.80 
L 122.99 138.80 
z
" clip-path="url(#p9851077e19)" style="stroke: #000000; stroke-width: 0.62"/>
    <path d="M 150.33 138.80 
L 137.83 138.80 
L 136.27 133.80 
L 137.83 138.80 
L 139.39 138.80 
L 137.83 133.80 
L 139.39 138.80 
z
" clip-path="url(#p9851077e19)" style="stroke: #000000; stroke-width: 0.62"/>
    <path d="M 166.52 140.41 
L 154.45 137.18 
L 154.23 131.94 
L 154.45 137.18 
L 155.96 137.58 
L 155.74 132.35 
L 155.96 137.58 
L 157.46 137.99 
L 157.36 135.37 
L 157.46 137.99 
z
" clip-path="url(#p9851077e19)" style="stroke: #000000; stroke-width: 0.62"/>
    <path d="M 182.92 140.41 
L 170.85 137.18 
L 170.63 131.94 
L 170.85 137.18 
L 172.36 137.58 
L 172.14 132.35 
L 172.36 137.58 
L 173.87 137.99 
L 173.76 135.37 
L 173.87 137.99 
z
" clip-path="url(#p9851077e19)" style="stroke: #000000; stroke-width: 0.62"/>
    <path d="M 199.51 139.34 
L 187.06 138.25 
L 185.94 133.13 
L 187.06 138.25 
L 188.62 138.39 
L 187.50 133.27 
L 188.62 138.39 
L 190.17 138.52 
L 189.61 135.97 
L 190.17 138.52 
z
" clip-path="url(#p9851077e19)" style="stroke: #000000; stroke-width: 0.62"/>
    <path d="M 215.91 139.34 
L 203.46 138.25 
L 202.34 133.13 
L 203.46 138.25 
L 205.02 138.39 
L 203.90 133.27 
L 205.02 138.39 
L 206.57 138.52 
L 206.01 135.97 
L 206.57 138.52 
z
" clip-path="url(#p9851077e19)" style="stroke: #000000; stroke-width: 0.62"/>
    <path d="M 232.13 140.41 
L 220.05 137.18 
L 219.84 131.94 
L 220.05 137.18 
L 221.56 137.58 
L 221.35 132.35 
L 221.56 137.58 
z
" clip-path="url(#p9851077e19)" style="stroke: #000000; stroke-width: 0.62"/>
    <path d="M 248.16 141.44 
L 236.83 136.16 
L 237.52 130.96 
L 236.83 136.16 
L 238.24 136.82 
L 238.94 131.62 
L 238.24 136.82 
z
" clip-path="url(#p9851077e19)" style="stroke: #000000; stroke-width: 0.62"/>
    <path d="M 264.56 141.44 
L 253.23 136.16 
L 253.93 130.96 
L 253.23 136.16 
L 254.64 136.82 
L 255.34 131.62 
L 254.64 136.82 
z
" clip-path="url(#p9851077e19)" style="stroke: #000000; stroke-width: 0.62"/>
    <path d="M 280.96 141.44 
L 269.63 136.16 
L 270.33 130.96 
L 269.63 136.16 
L 271.05 136.82 
L 271.74 131.62 
L 271.05 136.82 
z
" clip-path="url(#p9851077e19)" style="stroke: #000000; stroke-width: 0.62"/>
    <path d="M 297.36 141.44 
L 286.03 136.16 
L 286.73 130.96 
L 286.03 136.16 
L 287.45 136.82 
L 288.14 131.62 
L 287.45 136.82 
z
" clip-path="url(#p9851077e19)" style="stroke: #000000; stroke-width: 0.62"/>
    <path d="M 313.51 141.92 
L 302.68 135.67 
L 303.83 130.56 
L 302.68 135.67 
L 304.04 136.45 
L 305.18 131.34 
L 304.04 136.45 
L 305.39 137.23 
L 305.96 134.68 
L 305.39 137.23 
z
" clip-path="url(#p9851077e19)" style="stroke: #000000; stroke-width: 0.62"/>
    <path d="M 330.37 140.93 
L 318.63 136.66 
L 318.87 131.43 
L 318.63 136.66 
L 320.09 137.19 
L 320.34 131.96 
L 320.09 137.19 
L 321.56 137.73 
L 321.68 135.11 
L 321.56 137.73 
z
" clip-path="url(#p9851077e19)" style="stroke: #000000; stroke-width: 0.62"/>
    <path d="M 347.06 139.88 
L 334.75 137.71 
L 334.08 132.52 
L 334.75 137.71 
L 336.28 137.98 
L 335.61 132.79 
L 336.28 137.98 
L 337.82 138.25 
L 337.49 135.66 
L 337.82 138.25 
z
" clip-path="url(#p9851077e19)" style="stroke: #000000; stroke-width: 0.62"/>
    <path d="M 363.46 139.88 
L 351.15 137.71 
L 350.48 132.52 
L 351.15 137.71 
L 352.69 137.98 
L 352.02 132.79 
L 352.69 137.98 
L 354.22 138.25 
L 353.89 135.66 
L 354.22 138.25 
z
" clip-path="url(#p9851077e19)" style="stroke: #000000; stroke-width: 0.62"/>
    <path d="M 379.86 139.88 
L 367.55 137.71 
L 366.88 132.52 
L 367.55 137.71 
L 369.09 137.98 
L 368.42 132.79 
L 369.09 137.98 
L 370.63 138.25 
L 370.29 135.66 
L 370.63 138.25 
z
" clip-path="url(#p9851077e19)" style="stroke: #000000; stroke-width: 0.62"/>
    <path d="M 396.33 139.34 
L 383.88 138.25 
L 382.76 133.13 
L 383.88 138.25 
L 385.44 138.39 
L 384.31 133.27 
L 385.44 138.39 
z
" clip-path="url(#p9851077e19)" style="stroke: #000000; stroke-width: 0.62"/>
    <path d="M 412.73 139.34 
L 400.28 138.25 
L 399.16 133.13 
L 400.28 138.25 
L 401.84 138.39 
L 400.72 133.27 
L 401.84 138.39 
z
" clip-path="url(#p9851077e19)" style="stroke: #000000; stroke-width: 0.62"/>
    <path d="M 429.13 139.34 
L 416.68 138.25 
L 415.56 133.13 
L 416.68 138.25 
L 418.24 138.39 
L 417.12 133.27 
L 418.24 138.39 
z
" clip-path="url(#p9851077e19)" style="stroke: #000000; stroke-width: 0.62"/>
    <path d="M 445.47 139.88 
L 433.16 137.71 
L 432.48 132.52 
L 433.16 137.71 
L 434.69 137.98 
L 434.36 135.38 
L 434.69 137.98 
z
" clip-path="url(#p9851077e19)" style="stroke: #000000; stroke-width: 0.62"/>
    <path d="M 461.75 137.18 
L 449.67 140.41 
L 446.87 135.99 
L 449.67 140.41 
L 451.18 140.01 
L 449.78 137.80 
L 451.18 140.01 
z
" clip-path="url(#p9851077e19)" style="stroke: #000000; stroke-width: 0.62"/>
    <path d="M 477.99 136.66 
L 466.24 140.93 
L 463.06 136.77 
L 466.24 140.93 
L 467.71 140.40 
L 466.12 138.32 
L 467.71 140.40 
z
" clip-path="url(#p9851077e19)" style="stroke: #000000; stroke-width: 0.62"/>
    <path d="M 494.39 136.66 
L 482.64 140.93 
L 479.46 136.77 
L 482.64 140.93 
L 484.11 140.40 
L 482.52 138.32 
L 484.11 140.40 
z
" clip-path="url(#p9851077e19)" style="stroke: #000000; stroke-width: 0.62"/>
    <path d="M 510.33 135.67 
L 499.50 141.92 
L 495.65 138.37 
L 499.50 141.92 
z
" clip-path="url(#p9851077e19)" style="stroke: #000000; stroke-width: 0.62"/>
    <path d="M 526.98 136.16 
L 515.65 141.44 
L 512.12 137.57 
L 515.65 141.44 
z
" clip-path="url(#p9851077e19)" style="stroke: #000000; stroke-width: 0.62"/>
    <path d="M 543.87 137.71 
L 531.56 139.88 
L 529.16 135.23 
L 531.56 139.88 
L 533.10 139.61 
L 531.90 137.28 
L 533.10 139.61 
z
" clip-path="url(#p9851077e19)" style="stroke: #000000; stroke-width: 0.62"/>
    <path d="M 559.99 136.66 
L 548.25 140.93 
L 545.07 136.77 
L 548.25 140.93 
L 549.72 140.40 
L 548.13 138.32 
L 549.72 140.40 
z
" clip-path="url(#p9851077e19)" style="stroke: #000000; stroke-width: 0.62"/>
    <path d="M 576.56 140.41 
L 564.49 137.18 
L 564.27 131.94 
L 564.49 137.18 
L 566.00 137.58 
L 565.89 134.97 
L 566.00 137.58 
z
" clip-path="url(#p9851077e19)" style="stroke: #000000; stroke-width: 0.62"/>
    <path d="M 592.80 140.93 
L 581.05 136.66 
L 581.29 131.43 
L 581.05 136.66 
L 582.52 137.19 
L 582.76 131.96 
L 582.52 137.19 
z
" clip-path="url(#p9851077e19)" style="stroke: #000000; stroke-width: 0.62"/>
    <path d="M 609.36 140.41 
L 597.29 137.18 
L 597.07 131.94 
L 597.29 137.18 
L 598.80 137.58 
L 598.58 132.35 
L 598.80 137.58 
z
" clip-path="url(#p9851077e19)" style="stroke: #000000; stroke-width: 0.62"/>
    <path d="M 625.76 140.41 
L 613.69 137.18 
L 613.48 131.94 
L 613.69 137.18 
z
" clip-path="url(#p9851077e19)" style="stroke: #000000; stroke-width: 0.62"/>
    <path d="M 642.38 138.80 
L 629.88 138.80 
L 628.32 133.80 
L 629.88 138.80 
z
" clip-path="url(#p9851077e19)" style="stroke: #000000; stroke-width: 0.62"/>
    <path d="M 658.78 138.80 
L 646.28 138.80 
L 644.72 133.80 
L 646.28 138.80 
z
" clip-path="url(#p9851077e19)" style="stroke: #000000; stroke-width: 0.62"/>
    <path d="M 675.09 139.88 
L 662.78 137.71 
L 662.11 132.52 
L 662.78 137.71 
z
" clip-path="url(#p9851077e19)" style="stroke: #000000; stroke-width: 0.62"/>
    <path d="M 691.49 139.88 
L 679.18 137.71 
L 678.51 132.52 
L 679.18 137.71 
z
" clip-path="url(#p9851077e19)" style="stroke: #000000; stroke-width: 0.62"/>
    <path d="M 707.96 139.34 
L 695.51 138.25 
L 694.39 133.13 
L 695.51 138.25 
z
" clip-path="url(#p9851077e19)" style="stroke: #000000; stroke-width: 0.62"/>
    <path d="M 724.01 136.66 
L 712.26 140.93 
L 714.47 140.13 
L 712.88 138.05 
L 714.47 140.13 
z
" clip-path="url(#p9851077e19)" style="stroke: #000000; stroke-width: 0.62"/>
    <path d="M 739.33 134.78 
L 729.75 142.81 
L 731.55 141.31 
L 729.34 139.89 
L 731.55 141.31 
z
" clip-path="url(#p9851077e19)" style="stroke: #000000; stroke-width: 0.62"/>
    <path d="M 84.63 164.41 
L 72.32 162.24 
L 71.65 157.05 
L 72.32 162.24 
L 73.86 162.51 
L 73.19 157.32 
L 73.86 162.51 
z
" clip-path="url(#p9851077e19)" style="stroke: #000000; stroke-width: 0.62"/>
    <path d="M 101.03 164.41 
L 88.72 162.24 
L 88.05 157.05 
L 88.72 162.24 
L 90.26 162.51 
L 89.93 159.92 
L 90.26 162.51 
z
" clip-path="url(#p9851077e19)" style="stroke: #000000; stroke-width: 0.62"/>
    <path d="M 117.43 164.41 
L 105.12 162.24 
L 104.45 157.05 
L 105.12 162.24 
L 106.66 162.51 
L 106.33 159.92 
L 106.66 162.51 
z
" clip-path="url(#p9851077e19)" style="stroke: #000000; stroke-width: 0.62"/>
    <path d="M 133.91 163.87 
L 121.45 162.78 
L 120.33 157.66 
L 121.45 162.78 
L 123.01 162.92 
L 121.89 157.80 
L 123.01 162.92 
z
" clip-path="url(#p9851077e19)" style="stroke: #000000; stroke-width: 0.62"/>
    <path d="M 150.33 163.33 
L 137.83 163.33 
L 136.27 158.33 
L 137.83 163.33 
L 139.39 163.33 
L 137.83 158.33 
L 139.39 163.33 
L 140.96 163.33 
L 139.39 158.33 
L 140.96 163.33 
z
" clip-path="url(#p9851077e19)" style="stroke: #000000; stroke-width: 0.62"/>
    <path d="M 166.64 164.41 
L 154.33 162.24 
L 153.66 157.05 
L 154.33 162.24 
L 155.87 162.51 
L 155.20 157.32 
L 155.87 162.51 
L 157.41 162.78 
L 157.07 160.19 
L 157.41 162.78 
z
" clip-path="url(#p9851077e19)" style="stroke: #000000; stroke-width: 0.62"/>
    <path d="M 182.92 164.94 
L 170.85 161.71 
L 170.63 156.48 
L 170.85 161.71 
L 172.36 162.11 
L 172.14 156.88 
L 172.36 162.11 
L 173.87 162.52 
L 173.76 159.90 
L 173.87 162.52 
z
" clip-path="url(#p9851077e19)" style="stroke: #000000; stroke-width: 0.62"/>
    <path d="M 199.32 164.94 
L 187.25 161.71 
L 187.03 156.48 
L 187.25 161.71 
L 188.76 162.11 
L 188.65 159.50 
L 188.76 162.11 
z
" clip-path="url(#p9851077e19)" style="stroke: #000000; stroke-width: 0.62"/>
    <path d="M 215.72 164.94 
L 203.65 161.71 
L 203.44 156.48 
L 203.65 161.71 
L 205.16 162.11 
L 205.05 159.50 
L 205.16 162.11 
z
" clip-path="url(#p9851077e19)" style="stroke: #000000; stroke-width: 0.62"/>
    <path d="M 231.96 165.46 
L 220.22 161.19 
L 220.46 155.96 
L 220.22 161.19 
L 221.68 161.72 
L 221.93 156.49 
L 221.68 161.72 
z
" clip-path="url(#p9851077e19)" style="stroke: #000000; stroke-width: 0.62"/>
    <path d="M 248.16 165.97 
L 236.83 160.69 
L 237.52 155.49 
L 236.83 160.69 
L 238.24 161.35 
L 238.94 156.15 
L 238.24 161.35 
z
" clip-path="url(#p9851077e19)" style="stroke: #000000; stroke-width: 0.62"/>
    <path d="M 264.56 165.97 
L 253.23 160.69 
L 253.93 155.49 
L 253.23 160.69 
L 254.64 161.35 
L 255.34 156.15 
L 254.64 161.35 
L 256.06 162.01 
L 256.41 159.41 
L 256.06 162.01 
z
" clip-path="url(#p9851077e19)" style="stroke: #000000; stroke-width: 0.62"/>
    <path d="M 281.17 165.46 
L 269.42 161.19 
L 269.66 155.96 
L 269.42 161.19 
L 270.89 161.72 
L 271.13 156.49 
L 270.89 161.72 
z
" clip-path="url(#p9851077e19)" style="stroke: #000000; stroke-width: 0.62"/>
    <path d="M 297.85 164.41 
L 285.54 162.24 
L 284.87 157.05 
L 285.54 162.24 
L 287.08 162.51 
L 286.41 157.32 
L 287.08 162.51 
z
" clip-path="url(#p9851077e19)" style="stroke: #000000; stroke-width: 0.62"/>
    <path d="M 313.51 166.45 
L 302.68 160.20 
L 303.83 155.09 
L 302.68 160.20 
L 304.04 160.98 
L 305.18 155.87 
L 304.04 160.98 
z
" clip-path="url(#p9851077e19)" style="stroke: #000000; stroke-width: 0.62"/>
    <path d="M 330.37 165.46 
L 318.63 161.19 
L 318.87 155.96 
L 318.63 161.19 
L 320.09 161.72 
L 320.34 156.49 
L 320.09 161.72 
L 321.56 162.26 
L 321.68 159.64 
L 321.56 162.26 
z
" clip-path="url(#p9851077e19)" style="stroke: #000000; stroke-width: 0.62"/>
    <path d="M 347.13 163.87 
L 334.67 162.78 
L 333.55 157.66 
L 334.67 162.78 
L 336.23 162.92 
L 335.11 157.80 
L 336.23 162.92 
L 337.79 163.05 
L 337.23 160.50 
L 337.79 163.05 
z
" clip-path="url(#p9851077e19)" style="stroke: #000000; stroke-width: 0.62"/>
    <path d="M 363.53 163.87 
L 351.08 162.78 
L 349.96 157.66 
L 351.08 162.78 
L 352.63 162.92 
L 351.51 157.80 
L 352.63 162.92 
L 354.19 163.05 
L 353.63 160.50 
L 354.19 163.05 
z
" clip-path="url(#p9851077e19)" style="stroke: #000000; stroke-width: 0.62"/>
    <path d="M 379.86 164.41 
L 367.55 162.24 
L 366.88 157.05 
L 367.55 162.24 
L 369.09 162.51 
L 368.42 157.32 
L 369.09 162.51 
z
" clip-path="url(#p9851077e19)" style="stroke: #000000; stroke-width: 0.62"/>
    <path d="M 396.14 164.94 
L 384.07 161.71 
L 383.85 156.48 
L 384.07 161.71 
L 385.58 162.11 
L 385.36 156.88 
L 385.58 162.11 
z
" clip-path="url(#p9851077e19)" style="stroke: #000000; stroke-width: 0.62"/>
    <path d="M 412.54 164.94 
L 400.47 161.71 
L 400.25 156.48 
L 400.47 161.71 
L 401.98 162.11 
L 401.87 159.50 
L 401.98 162.11 
z
" clip-path="url(#p9851077e19)" style="stroke: #000000; stroke-width: 0.62"/>
    <path d="M 429.13 162.78 
L 416.68 163.87 
L 414.69 159.03 
L 416.68 163.87 
L 418.24 163.74 
L 416.25 158.89 
L 418.24 163.74 
z
" clip-path="url(#p9851077e19)" style="stroke: #000000; stroke-width: 0.62"/>
    <path d="M 445.56 163.33 
L 433.06 163.33 
L 431.50 158.33 
L 433.06 163.33 
L 434.62 163.33 
L 433.06 158.33 
L 434.62 163.33 
z
" clip-path="url(#p9851077e19)" style="stroke: #000000; stroke-width: 0.62"/>
    <path d="M 461.75 161.71 
L 449.67 164.94 
L 446.87 160.52 
L 449.67 164.94 
L 451.18 164.54 
L 449.78 162.33 
L 451.18 164.54 
z
" clip-path="url(#p9851077e19)" style="stroke: #000000; stroke-width: 0.62"/>
    <path d="M 477.78 160.69 
L 466.45 165.97 
L 462.92 162.10 
L 466.45 165.97 
L 467.87 165.31 
L 466.10 163.37 
L 467.87 165.31 
z
" clip-path="url(#p9851077e19)" style="stroke: #000000; stroke-width: 0.62"/>
    <path d="M 494.39 161.19 
L 482.64 165.46 
L 479.46 161.30 
L 482.64 165.46 
L 484.11 164.93 
L 482.52 162.85 
L 484.11 164.93 
z
" clip-path="url(#p9851077e19)" style="stroke: #000000; stroke-width: 0.62"/>
    <path d="M 509.70 159.31 
L 500.13 167.34 
L 501.92 165.84 
L 499.72 164.42 
L 501.92 165.84 
z
" clip-path="url(#p9851077e19)" style="stroke: #000000; stroke-width: 0.62"/>
    <path d="M 526.44 159.74 
L 516.20 166.91 
L 512.05 163.71 
L 516.20 166.91 
z
" clip-path="url(#p9851077e19)" style="stroke: #000000; stroke-width: 0.62"/>
    <path d="M 543.13 160.20 
L 532.31 166.45 
L 528.45 162.90 
L 532.31 166.45 
L 533.66 165.67 
L 531.73 163.90 
L 533.66 165.67 
z
" clip-path="url(#p9851077e19)" style="stroke: #000000; stroke-width: 0.62"/>
    <path d="M 559.53 160.20 
L 548.71 166.45 
L 544.86 162.90 
L 548.71 166.45 
L 550.06 165.67 
L 548.14 163.90 
L 550.06 165.67 
z
" clip-path="url(#p9851077e19)" style="stroke: #000000; stroke-width: 0.62"/>
    <path d="M 576.68 164.41 
L 564.37 162.24 
L 563.70 157.05 
L 564.37 162.24 
L 565.91 162.51 
L 565.57 159.92 
L 565.91 162.51 
z
" clip-path="url(#p9851077e19)" style="stroke: #000000; stroke-width: 0.62"/>
    <path d="M 593.15 162.78 
L 580.70 163.87 
L 578.71 159.03 
L 580.70 163.87 
L 582.25 163.74 
L 581.26 161.31 
L 582.25 163.74 
z
" clip-path="url(#p9851077e19)" style="stroke: #000000; stroke-width: 0.62"/>
    <path d="M 609.55 162.78 
L 597.10 163.87 
L 595.11 159.03 
L 597.10 163.87 
L 598.66 163.74 
L 597.66 161.31 
L 598.66 163.74 
z
" clip-path="url(#p9851077e19)" style="stroke: #000000; stroke-width: 0.62"/>
    <path d="M 625.95 163.87 
L 613.50 162.78 
L 612.38 157.66 
L 613.50 162.78 
z
" clip-path="url(#p9851077e19)" style="stroke: #000000; stroke-width: 0.62"/>
    <path d="M 642.28 164.41 
L 629.97 162.24 
L 629.30 157.05 
L 629.97 162.24 
z
" clip-path="url(#p9851077e19)" style="stroke: #000000; stroke-width: 0.62"/>
    <path d="M 658.57 161.71 
L 646.49 164.94 
L 643.69 160.52 
L 646.49 164.94 
z
" clip-path="url(#p9851077e19)" style="stroke: #000000; stroke-width: 0.62"/>
    <path d="M 674.97 161.71 
L 662.90 164.94 
L 660.09 160.52 
L 662.90 164.94 
z
" clip-path="url(#p9851077e19)" style="stroke: #000000; stroke-width: 0.62"/>
    <path d="M 691.58 163.33 
L 679.08 163.33 
L 677.52 158.33 
L 679.08 163.33 
z
" clip-path="url(#p9851077e19)" style="stroke: #000000; stroke-width: 0.62"/>
    <path d="M 707.99 163.33 
L 695.49 163.33 
L 697.83 163.33 
L 697.05 160.83 
L 697.83 163.33 
z
" clip-path="url(#p9851077e19)" style="stroke: #000000; stroke-width: 0.62"/>
    <path d="M 724.17 161.71 
L 712.10 164.94 
L 714.36 164.34 
L 712.96 162.13 
L 714.36 164.34 
z
" clip-path="url(#p9851077e19)" style="stroke: #000000; stroke-width: 0.62"/>
    <path d="M 740.69 162.24 
L 728.38 164.41 
L 730.69 164.01 
L 729.49 161.68 
L 730.69 164.01 
z
" clip-path="url(#p9851077e19)" style="stroke: #000000; stroke-width: 0.62"/>
    <path d="M 84.70 188.40 
L 72.25 187.31 
L 71.13 182.20 
L 72.25 187.31 
L 73.81 187.45 
L 72.68 182.33 
L 73.81 187.45 
z
" clip-path="url(#p9851077e19)" style="stroke: #000000; stroke-width: 0.62"/>
    <path d="M 101.10 188.40 
L 88.65 187.31 
L 87.53 182.20 
L 88.65 187.31 
L 90.21 187.45 
L 89.65 184.89 
L 90.21 187.45 
z
" clip-path="url(#p9851077e19)" style="stroke: #000000; stroke-width: 0.62"/>
    <path d="M 117.50 188.40 
L 105.05 187.31 
L 103.93 182.20 
L 105.05 187.31 
L 106.61 187.45 
L 106.05 184.89 
L 106.61 187.45 
z
" clip-path="url(#p9851077e19)" style="stroke: #000000; stroke-width: 0.62"/>
    <path d="M 133.93 187.86 
L 121.43 187.86 
L 119.87 182.86 
L 121.43 187.86 
L 122.99 187.86 
L 121.43 182.86 
L 122.99 187.86 
z
" clip-path="url(#p9851077e19)" style="stroke: #000000; stroke-width: 0.62"/>
    <path d="M 150.33 187.86 
L 137.83 187.86 
L 136.27 182.86 
L 137.83 187.86 
L 139.39 187.86 
L 137.83 182.86 
L 139.39 187.86 
L 140.96 187.86 
L 140.18 185.36 
L 140.96 187.86 
z
" clip-path="url(#p9851077e19)" style="stroke: #000000; stroke-width: 0.62"/>
    <path d="M 166.73 187.86 
L 154.23 187.86 
L 152.67 182.86 
L 154.23 187.86 
L 155.80 187.86 
L 154.23 182.86 
L 155.80 187.86 
L 157.36 187.86 
L 156.58 185.36 
L 157.36 187.86 
z
" clip-path="url(#p9851077e19)" style="stroke: #000000; stroke-width: 0.62"/>
    <path d="M 183.11 188.40 
L 170.66 187.31 
L 169.54 182.20 
L 170.66 187.31 
L 172.21 187.45 
L 171.09 182.33 
L 172.21 187.45 
L 173.77 187.58 
L 173.21 185.03 
L 173.77 187.58 
z
" clip-path="url(#p9851077e19)" style="stroke: #000000; stroke-width: 0.62"/>
    <path d="M 199.32 189.47 
L 187.25 186.24 
L 187.03 181.01 
L 187.25 186.24 
L 188.76 186.64 
L 188.54 181.41 
L 188.76 186.64 
z
" clip-path="url(#p9851077e19)" style="stroke: #000000; stroke-width: 0.62"/>
    <path d="M 215.72 189.47 
L 203.65 186.24 
L 203.44 181.01 
L 203.65 186.24 
L 205.16 186.64 
L 204.94 181.41 
L 205.16 186.64 
z
" clip-path="url(#p9851077e19)" style="stroke: #000000; stroke-width: 0.62"/>
    <path d="M 231.96 189.99 
L 220.22 185.72 
L 220.46 180.49 
L 220.22 185.72 
L 221.68 186.25 
L 221.93 181.02 
L 221.68 186.25 
z
" clip-path="url(#p9851077e19)" style="stroke: #000000; stroke-width: 0.62"/>
    <path d="M 248.16 190.50 
L 236.83 185.22 
L 237.52 180.02 
L 236.83 185.22 
L 238.24 185.88 
L 238.94 180.68 
L 238.24 185.88 
z
" clip-path="url(#p9851077e19)" style="stroke: #000000; stroke-width: 0.62"/>
    <path d="M 264.56 190.50 
L 253.23 185.22 
L 253.93 180.02 
L 253.23 185.22 
L 254.64 185.88 
L 255.34 180.68 
L 254.64 185.88 
z
" clip-path="url(#p9851077e19)" style="stroke: #000000; stroke-width: 0.62"/>
    <path d="M 281.45 188.94 
L 269.14 186.77 
L 268.47 181.58 
L 269.14 186.77 
L 270.68 187.04 
L 270.01 181.85 
L 270.68 187.04 
z
" clip-path="url(#p9851077e19)" style="stroke: #000000; stroke-width: 0.62"/>
    <path d="M 297.92 188.40 
L 285.47 187.31 
L 284.35 182.20 
L 285.47 187.31 
L 287.03 187.45 
L 285.91 182.33 
L 287.03 187.45 
z
" clip-path="url(#p9851077e19)" style="stroke: #000000; stroke-width: 0.62"/>
    <path d="M 314.32 188.40 
L 301.87 187.31 
L 300.75 182.20 
L 301.87 187.31 
L 303.43 187.45 
L 302.31 182.33 
L 303.43 187.45 
L 304.98 187.58 
L 304.42 185.03 
L 304.98 187.58 
z
" clip-path="url(#p9851077e19)" style="stroke: #000000; stroke-width: 0.62"/>
    <path d="M 330.54 189.47 
L 318.46 186.24 
L 318.25 181.01 
L 318.46 186.24 
L 319.97 186.64 
L 319.76 181.41 
L 319.97 186.64 
z
" clip-path="url(#p9851077e19)" style="stroke: #000000; stroke-width: 0.62"/>
    <path d="M 347.06 188.94 
L 334.75 186.77 
L 334.08 181.58 
L 334.75 186.77 
L 336.28 187.04 
L 335.61 181.85 
L 336.28 187.04 
L 337.82 187.31 
L 337.49 184.72 
L 337.82 187.31 
z
" clip-path="url(#p9851077e19)" style="stroke: #000000; stroke-width: 0.62"/>
    <path d="M 363.46 188.94 
L 351.15 186.77 
L 350.48 181.58 
L 351.15 186.77 
L 352.69 187.04 
L 352.02 181.85 
L 352.69 187.04 
L 354.22 187.31 
L 353.89 184.72 
L 354.22 187.31 
z
" clip-path="url(#p9851077e19)" style="stroke: #000000; stroke-width: 0.62"/>
    <path d="M 379.86 188.94 
L 367.55 186.77 
L 366.88 181.58 
L 367.55 186.77 
L 369.09 187.04 
L 368.42 181.85 
L 369.09 187.04 
L 370.63 187.31 
L 370.29 184.72 
L 370.63 187.31 
z
" clip-path="url(#p9851077e19)" style="stroke: #000000; stroke-width: 0.62"/>
    <path d="M 396.33 188.40 
L 383.88 187.31 
L 382.76 182.20 
L 383.88 187.31 
L 385.44 187.45 
L 384.31 182.33 
L 385.44 187.45 
z
" clip-path="url(#p9851077e19)" style="stroke: #000000; stroke-width: 0.62"/>
    <path d="M 412.66 188.94 
L 400.35 186.77 
L 399.68 181.58 
L 400.35 186.77 
L 401.89 187.04 
L 401.56 184.45 
L 401.89 187.04 
z
" clip-path="url(#p9851077e19)" style="stroke: #000000; stroke-width: 0.62"/>
    <path d="M 429.16 187.86 
L 416.66 187.86 
L 415.10 182.86 
L 416.66 187.86 
z
" clip-path="url(#p9851077e19)" style="stroke: #000000; stroke-width: 0.62"/>
    <path d="M 445.54 188.40 
L 433.08 187.31 
L 431.96 182.20 
L 433.08 187.31 
z
" clip-path="url(#p9851077e19)" style="stroke: #000000; stroke-width: 0.62"/>
    <path d="M 461.87 186.77 
L 449.56 188.94 
L 447.15 184.29 
L 449.56 188.94 
z
" clip-path="url(#p9851077e19)" style="stroke: #000000; stroke-width: 0.62"/>
    <path d="M 478.27 186.77 
L 465.96 188.94 
L 463.55 184.29 
L 465.96 188.94 
L 467.50 188.67 
L 466.29 186.34 
L 467.50 188.67 
z
" clip-path="url(#p9851077e19)" style="stroke: #000000; stroke-width: 0.62"/>
    <path d="M 494.74 188.40 
L 482.29 187.31 
L 481.17 182.20 
L 482.29 187.31 
z
" clip-path="url(#p9851077e19)" style="stroke: #000000; stroke-width: 0.62"/>
    <path d="M 508.93 183.07 
L 500.90 192.64 
L 502.41 190.85 
L 499.99 189.84 
L 502.41 190.85 
z
" clip-path="url(#p9851077e19)" style="stroke: #000000; stroke-width: 0.62"/>
    <path d="M 526.44 184.27 
L 516.20 191.44 
L 512.05 188.24 
L 516.20 191.44 
z
" clip-path="url(#p9851077e19)" style="stroke: #000000; stroke-width: 0.62"/>
    <path d="M 543.13 184.73 
L 532.31 190.98 
L 528.45 187.43 
L 532.31 190.98 
z
" clip-path="url(#p9851077e19)" style="stroke: #000000; stroke-width: 0.62"/>
    <path d="M 559.53 184.73 
L 548.71 190.98 
L 544.86 187.43 
L 548.71 190.98 
L 550.06 190.20 
L 548.14 188.43 
L 550.06 190.20 
z
" clip-path="url(#p9851077e19)" style="stroke: #000000; stroke-width: 0.62"/>
    <path d="M 576.77 187.86 
L 564.27 187.86 
L 562.71 182.86 
L 564.27 187.86 
L 565.84 187.86 
L 564.27 182.86 
L 565.84 187.86 
z
" clip-path="url(#p9851077e19)" style="stroke: #000000; stroke-width: 0.62"/>
    <path d="M 593.17 187.86 
L 580.67 187.86 
L 579.11 182.86 
L 580.67 187.86 
L 582.24 187.86 
L 581.46 185.36 
L 582.24 187.86 
z
" clip-path="url(#p9851077e19)" style="stroke: #000000; stroke-width: 0.62"/>
    <path d="M 609.55 187.31 
L 597.10 188.40 
L 595.11 183.56 
L 597.10 188.40 
L 598.66 188.27 
L 597.66 185.84 
L 598.66 188.27 
z
" clip-path="url(#p9851077e19)" style="stroke: #000000; stroke-width: 0.62"/>
    <path d="M 625.98 187.86 
L 613.48 187.86 
L 611.92 182.86 
L 613.48 187.86 
L 615.04 187.86 
L 614.26 185.36 
L 615.04 187.86 
z
" clip-path="url(#p9851077e19)" style="stroke: #000000; stroke-width: 0.62"/>
    <path d="M 642.36 188.40 
L 629.90 187.31 
L 628.78 182.20 
L 629.90 187.31 
z
" clip-path="url(#p9851077e19)" style="stroke: #000000; stroke-width: 0.62"/>
    <path d="M 658.69 186.77 
L 646.38 188.94 
L 643.97 184.29 
L 646.38 188.94 
z
" clip-path="url(#p9851077e19)" style="stroke: #000000; stroke-width: 0.62"/>
    <path d="M 675.18 187.86 
L 662.68 187.86 
L 661.12 182.86 
L 662.68 187.86 
z
" clip-path="url(#p9851077e19)" style="stroke: #000000; stroke-width: 0.62"/>
    <path d="M 691.49 188.94 
L 679.18 186.77 
L 678.51 181.58 
L 679.18 186.77 
z
" clip-path="url(#p9851077e19)" style="stroke: #000000; stroke-width: 0.62"/>
    <path d="M 707.99 187.86 
L 695.49 187.86 
L 697.83 187.86 
L 697.05 185.36 
L 697.83 187.86 
z
" clip-path="url(#p9851077e19)" style="stroke: #000000; stroke-width: 0.62"/>
    <path d="M 724.39 187.86 
L 711.89 187.86 
L 714.23 187.86 
L 713.45 185.36 
L 714.23 187.86 
z
" clip-path="url(#p9851077e19)" style="stroke: #000000; stroke-width: 0.62"/>
    <path d="M 740.77 188.40 
L 728.31 187.31 
L 730.65 187.52 
L 730.09 184.96 
L 730.65 187.52 
z
" clip-path="url(#p9851077e19)" style="stroke: #000000; stroke-width: 0.62"/>
    <path d="M 84.70 212.93 
L 72.25 211.84 
L 71.13 206.73 
L 72.25 211.84 
L 73.81 211.98 
L 72.68 206.86 
L 73.81 211.98 
z
" clip-path="url(#p9851077e19)" style="stroke: #000000; stroke-width: 0.62"/>
    <path d="M 100.91 214.01 
L 88.84 210.77 
L 88.62 205.54 
L 88.84 210.77 
L 90.35 211.17 
L 90.13 205.94 
L 90.35 211.17 
z
" clip-path="url(#p9851077e19)" style="stroke: #000000; stroke-width: 0.62"/>
    <path d="M 117.32 214.01 
L 105.24 210.77 
L 105.03 205.54 
L 105.24 210.77 
L 106.75 211.17 
L 106.54 205.94 
L 106.75 211.17 
z
" clip-path="url(#p9851077e19)" style="stroke: #000000; stroke-width: 0.62"/>
    <path d="M 133.91 212.93 
L 121.45 211.84 
L 120.33 206.73 
L 121.45 211.84 
L 123.01 211.98 
L 121.89 206.86 
L 123.01 211.98 
z
" clip-path="url(#p9851077e19)" style="stroke: #000000; stroke-width: 0.62"/>
    <path d="M 150.33 212.39 
L 137.83 212.39 
L 136.27 207.39 
L 137.83 212.39 
L 139.39 212.39 
L 137.83 207.39 
L 139.39 212.39 
L 140.96 212.39 
L 140.18 209.89 
L 140.96 212.39 
z
" clip-path="url(#p9851077e19)" style="stroke: #000000; stroke-width: 0.62"/>
    <path d="M 166.73 212.39 
L 154.23 212.39 
L 152.67 207.39 
L 154.23 212.39 
L 155.80 212.39 
L 154.23 207.39 
L 155.80 212.39 
L 157.36 212.39 
L 155.80 207.39 
L 157.36 212.39 
z
" clip-path="url(#p9851077e19)" style="stroke: #000000; stroke-width: 0.62"/>
    <path d="M 183.13 212.39 
L 170.63 212.39 
L 169.07 207.39 
L 170.63 212.39 
L 172.20 212.39 
L 170.63 207.39 
L 172.20 212.39 
L 173.76 212.39 
L 172.98 209.89 
L 173.76 212.39 
z
" clip-path="url(#p9851077e19)" style="stroke: #000000; stroke-width: 0.62"/>
    <path d="M 199.32 214.01 
L 187.25 210.77 
L 187.03 205.54 
L 187.25 210.77 
L 188.76 211.17 
L 188.54 205.94 
L 188.76 211.17 
L 190.27 211.58 
L 190.16 208.96 
L 190.27 211.58 
z
" clip-path="url(#p9851077e19)" style="stroke: #000000; stroke-width: 0.62"/>
    <path d="M 215.72 214.01 
L 203.65 210.77 
L 203.44 205.54 
L 203.65 210.77 
L 205.16 211.17 
L 204.94 205.94 
L 205.16 211.17 
L 206.67 211.58 
L 206.56 208.96 
L 206.67 211.58 
z
" clip-path="url(#p9851077e19)" style="stroke: #000000; stroke-width: 0.62"/>
    <path d="M 231.96 214.53 
L 220.22 210.25 
L 220.46 205.02 
L 220.22 210.25 
L 221.68 210.78 
L 221.93 205.55 
L 221.68 210.78 
z
" clip-path="url(#p9851077e19)" style="stroke: #000000; stroke-width: 0.62"/>
    <path d="M 247.90 215.51 
L 237.08 209.26 
L 238.23 204.15 
L 237.08 209.26 
L 238.43 210.04 
L 239.58 204.93 
L 238.43 210.04 
L 239.78 210.83 
L 240.36 208.27 
L 239.78 210.83 
z
" clip-path="url(#p9851077e19)" style="stroke: #000000; stroke-width: 0.62"/>
    <path d="M 264.56 215.03 
L 253.23 209.75 
L 253.93 204.55 
L 253.23 209.75 
L 254.64 210.41 
L 255.34 205.21 
L 254.64 210.41 
z
" clip-path="url(#p9851077e19)" style="stroke: #000000; stroke-width: 0.62"/>
    <path d="M 281.17 214.53 
L 269.42 210.25 
L 269.66 205.02 
L 269.42 210.25 
L 270.89 210.78 
L 271.13 205.55 
L 270.89 210.78 
z
" clip-path="url(#p9851077e19)" style="stroke: #000000; stroke-width: 0.62"/>
    <path d="M 297.73 214.01 
L 285.66 210.77 
L 285.44 205.54 
L 285.66 210.77 
L 287.17 211.17 
L 287.06 208.56 
L 287.17 211.17 
z
" clip-path="url(#p9851077e19)" style="stroke: #000000; stroke-width: 0.62"/>
    <path d="M 314.35 212.39 
L 301.85 212.39 
L 300.28 207.39 
L 301.85 212.39 
L 303.41 212.39 
L 301.85 207.39 
L 303.41 212.39 
z
" clip-path="url(#p9851077e19)" style="stroke: #000000; stroke-width: 0.62"/>
    <path d="M 330.65 213.47 
L 318.34 211.30 
L 317.67 206.11 
L 318.34 211.30 
L 319.88 211.57 
L 319.21 206.38 
L 319.88 211.57 
z
" clip-path="url(#p9851077e19)" style="stroke: #000000; stroke-width: 0.62"/>
    <path d="M 347.13 212.93 
L 334.67 211.84 
L 333.55 206.73 
L 334.67 211.84 
L 336.23 211.98 
L 335.11 206.86 
L 336.23 211.98 
L 337.79 212.12 
L 337.23 209.56 
L 337.79 212.12 
z
" clip-path="url(#p9851077e19)" style="stroke: #000000; stroke-width: 0.62"/>
    <path d="M 363.55 212.39 
L 351.05 212.39 
L 349.49 207.39 
L 351.05 212.39 
L 352.61 212.39 
L 351.05 207.39 
L 352.61 212.39 
L 354.18 212.39 
L 352.61 207.39 
L 354.18 212.39 
z
" clip-path="url(#p9851077e19)" style="stroke: #000000; stroke-width: 0.62"/>
    <path d="M 379.95 212.39 
L 367.45 212.39 
L 365.89 207.39 
L 367.45 212.39 
L 369.02 212.39 
L 367.45 207.39 
L 369.02 212.39 
L 370.58 212.39 
L 369.80 209.89 
L 370.58 212.39 
z
" clip-path="url(#p9851077e19)" style="stroke: #000000; stroke-width: 0.62"/>
    <path d="M 396.36 212.39 
L 383.86 212.39 
L 382.29 207.39 
L 383.86 212.39 
L 385.42 212.39 
L 383.86 207.39 
L 385.42 212.39 
z
" clip-path="url(#p9851077e19)" style="stroke: #000000; stroke-width: 0.62"/>
    <path d="M 412.73 212.93 
L 400.28 211.84 
L 399.16 206.73 
L 400.28 211.84 
L 401.84 211.98 
L 401.28 209.42 
L 401.84 211.98 
z
" clip-path="url(#p9851077e19)" style="stroke: #000000; stroke-width: 0.62"/>
    <path d="M 429.13 211.84 
L 416.68 212.93 
L 414.69 208.09 
L 416.68 212.93 
z
" clip-path="url(#p9851077e19)" style="stroke: #000000; stroke-width: 0.62"/>
    <path d="M 445.35 210.77 
L 433.27 214.01 
L 430.47 209.58 
L 433.27 214.01 
z
" clip-path="url(#p9851077e19)" style="stroke: #000000; stroke-width: 0.62"/>
    <path d="M 461.75 210.77 
L 449.67 214.01 
L 451.94 213.40 
L 450.54 211.19 
L 451.94 213.40 
z
" clip-path="url(#p9851077e19)" style="stroke: #000000; stroke-width: 0.62"/>
    <path d="M 478.27 211.30 
L 465.96 213.47 
L 463.55 208.82 
L 465.96 213.47 
z
" clip-path="url(#p9851077e19)" style="stroke: #000000; stroke-width: 0.62"/>
    <path d="M 494.74 212.93 
L 482.29 211.84 
L 481.17 206.73 
L 482.29 211.84 
L 483.85 211.98 
L 483.28 209.42 
L 483.85 211.98 
z
" clip-path="url(#p9851077e19)" style="stroke: #000000; stroke-width: 0.62"/>
    <path d="M 507.56 206.72 
L 502.28 218.05 
L 503.27 215.93 
L 500.67 215.58 
L 503.27 215.93 
z
" clip-path="url(#p9851077e19)" style="stroke: #000000; stroke-width: 0.62"/>
    <path d="M 525.74 207.97 
L 516.90 216.81 
L 518.56 215.15 
L 516.24 213.93 
L 518.56 215.15 
z
" clip-path="url(#p9851077e19)" style="stroke: #000000; stroke-width: 0.62"/>
    <path d="M 543.13 209.26 
L 532.31 215.51 
L 528.45 211.96 
L 532.31 215.51 
z
" clip-path="url(#p9851077e19)" style="stroke: #000000; stroke-width: 0.62"/>
    <path d="M 559.79 209.75 
L 548.46 215.03 
L 544.93 211.16 
L 548.46 215.03 
z
" clip-path="url(#p9851077e19)" style="stroke: #000000; stroke-width: 0.62"/>
    <path d="M 576.77 212.39 
L 564.27 212.39 
L 562.71 207.39 
L 564.27 212.39 
L 565.84 212.39 
L 564.27 207.39 
L 565.84 212.39 
z
" clip-path="url(#p9851077e19)" style="stroke: #000000; stroke-width: 0.62"/>
    <path d="M 593.08 211.30 
L 580.77 213.47 
L 578.36 208.82 
L 580.77 213.47 
L 582.31 213.20 
L 581.10 210.88 
L 582.31 213.20 
z
" clip-path="url(#p9851077e19)" style="stroke: #000000; stroke-width: 0.62"/>
    <path d="M 609.36 210.77 
L 597.29 214.01 
L 594.49 209.58 
L 597.29 214.01 
L 598.80 213.60 
L 597.40 211.39 
L 598.80 213.60 
z
" clip-path="url(#p9851077e19)" style="stroke: #000000; stroke-width: 0.62"/>
    <path d="M 625.76 210.77 
L 613.69 214.01 
L 610.89 209.58 
L 613.69 214.01 
z
" clip-path="url(#p9851077e19)" style="stroke: #000000; stroke-width: 0.62"/>
    <path d="M 642.17 210.77 
L 630.09 214.01 
L 627.29 209.58 
L 630.09 214.01 
z
" clip-path="url(#p9851077e19)" style="stroke: #000000; stroke-width: 0.62"/>
    <path d="M 658.69 211.30 
L 646.38 213.47 
L 643.97 208.82 
L 646.38 213.47 
z
" clip-path="url(#p9851077e19)" style="stroke: #000000; stroke-width: 0.62"/>
    <path d="M 675.16 211.84 
L 662.71 212.93 
L 660.71 208.09 
L 662.71 212.93 
z
" clip-path="url(#p9851077e19)" style="stroke: #000000; stroke-width: 0.62"/>
    <path d="M 691.58 212.39 
L 679.08 212.39 
L 677.52 207.39 
L 679.08 212.39 
z
" clip-path="url(#p9851077e19)" style="stroke: #000000; stroke-width: 0.62"/>
    <path d="M 707.99 212.39 
L 695.49 212.39 
L 697.83 212.39 
L 697.05 209.89 
L 697.83 212.39 
z
" clip-path="url(#p9851077e19)" style="stroke: #000000; stroke-width: 0.62"/>
    <path d="M 724.17 214.01 
L 712.10 210.77 
L 711.89 205.54 
L 712.10 210.77 
z
" clip-path="url(#p9851077e19)" style="stroke: #000000; stroke-width: 0.62"/>
    <path d="M 739.95 215.51 
L 729.13 209.26 
L 730.27 204.15 
L 729.13 209.26 
z
" clip-path="url(#p9851077e19)" style="stroke: #000000; stroke-width: 0.62"/>
    <path d="M 84.73 224.65 
L 72.23 224.65 
L 70.66 219.65 
L 72.23 224.65 
L 73.79 224.65 
L 72.23 219.65 
L 73.79 224.65 
z
" clip-path="url(#p9851077e19)" style="stroke: #000000; stroke-width: 0.62"/>
    <path d="M 101.03 225.74 
L 88.72 223.57 
L 88.05 218.37 
L 88.72 223.57 
L 90.26 223.84 
L 89.93 221.24 
L 90.26 223.84 
z
" clip-path="url(#p9851077e19)" style="stroke: #000000; stroke-width: 0.62"/>
    <path d="M 117.43 225.74 
L 105.12 223.57 
L 104.45 218.37 
L 105.12 223.57 
L 106.66 223.84 
L 105.99 218.64 
L 106.66 223.84 
z
" clip-path="url(#p9851077e19)" style="stroke: #000000; stroke-width: 0.62"/>
    <path d="M 133.93 224.65 
L 121.43 224.65 
L 119.87 219.65 
L 121.43 224.65 
L 122.99 224.65 
L 121.43 219.65 
L 122.99 224.65 
z
" clip-path="url(#p9851077e19)" style="stroke: #000000; stroke-width: 0.62"/>
    <path d="M 150.33 224.65 
L 137.83 224.65 
L 136.27 219.65 
L 137.83 224.65 
L 139.39 224.65 
L 137.83 219.65 
L 139.39 224.65 
L 140.96 224.65 
L 140.18 222.15 
L 140.96 224.65 
z
" clip-path="url(#p9851077e19)" style="stroke: #000000; stroke-width: 0.62"/>
    <path d="M 166.64 223.57 
L 154.33 225.74 
L 151.92 221.09 
L 154.33 225.74 
L 155.87 225.47 
L 153.46 220.81 
L 155.87 225.47 
L 157.41 225.20 
L 155.00 220.54 
L 157.41 225.20 
z
" clip-path="url(#p9851077e19)" style="stroke: #000000; stroke-width: 0.62"/>
    <path d="M 183.04 223.57 
L 170.73 225.74 
L 168.32 221.09 
L 170.73 225.74 
L 172.27 225.47 
L 169.86 220.81 
L 172.27 225.47 
L 173.81 225.20 
L 171.40 220.54 
L 173.81 225.20 
L 175.35 224.92 
L 174.14 222.60 
L 175.35 224.92 
z
" clip-path="url(#p9851077e19)" style="stroke: #000000; stroke-width: 0.62"/>
    <path d="M 199.44 225.74 
L 187.13 223.57 
L 186.46 218.37 
L 187.13 223.57 
L 188.67 223.84 
L 188.00 218.64 
L 188.67 223.84 
L 190.21 224.11 
L 189.54 218.91 
L 190.21 224.11 
z
" clip-path="url(#p9851077e19)" style="stroke: #000000; stroke-width: 0.62"/>
    <path d="M 215.84 225.74 
L 203.53 223.57 
L 202.86 218.37 
L 203.53 223.57 
L 205.07 223.84 
L 204.40 218.64 
L 205.07 223.84 
L 206.61 224.11 
L 206.28 221.51 
L 206.61 224.11 
z
" clip-path="url(#p9851077e19)" style="stroke: #000000; stroke-width: 0.62"/>
    <path d="M 231.96 226.79 
L 220.22 222.52 
L 220.46 217.28 
L 220.22 222.52 
L 221.68 223.05 
L 221.93 217.82 
L 221.68 223.05 
z
" clip-path="url(#p9851077e19)" style="stroke: #000000; stroke-width: 0.62"/>
    <path d="M 247.90 227.78 
L 237.08 221.53 
L 238.23 216.42 
L 237.08 221.53 
L 238.43 222.31 
L 239.58 217.20 
L 238.43 222.31 
L 239.78 223.09 
L 240.36 220.53 
L 239.78 223.09 
z
" clip-path="url(#p9851077e19)" style="stroke: #000000; stroke-width: 0.62"/>
    <path d="M 264.77 226.79 
L 253.02 222.52 
L 253.26 217.28 
L 253.02 222.52 
L 254.49 223.05 
L 254.73 217.82 
L 254.49 223.05 
z
" clip-path="url(#p9851077e19)" style="stroke: #000000; stroke-width: 0.62"/>
    <path d="M 281.17 226.79 
L 269.42 222.52 
L 269.66 217.28 
L 269.42 222.52 
L 270.89 223.05 
L 271.13 217.82 
L 270.89 223.05 
z
" clip-path="url(#p9851077e19)" style="stroke: #000000; stroke-width: 0.62"/>
    <path d="M 297.85 225.74 
L 285.54 223.57 
L 284.87 218.37 
L 285.54 223.57 
L 287.08 223.84 
L 286.74 221.24 
L 287.08 223.84 
z
" clip-path="url(#p9851077e19)" style="stroke: #000000; stroke-width: 0.62"/>
    <path d="M 314.35 224.65 
L 301.85 224.65 
L 300.28 219.65 
L 301.85 224.65 
L 303.41 224.65 
L 301.85 219.65 
L 303.41 224.65 
z
" clip-path="url(#p9851077e19)" style="stroke: #000000; stroke-width: 0.62"/>
    <path d="M 330.65 225.74 
L 318.34 223.57 
L 317.67 218.37 
L 318.34 223.57 
L 319.88 223.84 
L 319.21 218.64 
L 319.88 223.84 
z
" clip-path="url(#p9851077e19)" style="stroke: #000000; stroke-width: 0.62"/>
    <path d="M 347.13 225.20 
L 334.67 224.11 
L 333.55 218.99 
L 334.67 224.11 
L 336.23 224.24 
L 335.11 219.13 
L 336.23 224.24 
L 337.79 224.38 
L 337.23 221.82 
L 337.79 224.38 
z
" clip-path="url(#p9851077e19)" style="stroke: #000000; stroke-width: 0.62"/>
    <path d="M 363.55 224.65 
L 351.05 224.65 
L 349.49 219.65 
L 351.05 224.65 
L 352.61 224.65 
L 351.05 219.65 
L 352.61 224.65 
L 354.18 224.65 
L 352.61 219.65 
L 354.18 224.65 
z
" clip-path="url(#p9851077e19)" style="stroke: #000000; stroke-width: 0.62"/>
    <path d="M 379.95 224.65 
L 367.45 224.65 
L 365.89 219.65 
L 367.45 224.65 
L 369.02 224.65 
L 367.45 219.65 
L 369.02 224.65 
L 370.58 224.65 
L 369.80 222.15 
L 370.58 224.65 
z
" clip-path="url(#p9851077e19)" style="stroke: #000000; stroke-width: 0.62"/>
    <path d="M 396.36 224.65 
L 383.86 224.65 
L 382.29 219.65 
L 383.86 224.65 
L 385.42 224.65 
L 383.86 219.65 
L 385.42 224.65 
z
" clip-path="url(#p9851077e19)" style="stroke: #000000; stroke-width: 0.62"/>
    <path d="M 412.73 225.20 
L 400.28 224.11 
L 399.16 218.99 
L 400.28 224.11 
L 401.84 224.24 
L 401.28 221.69 
L 401.84 224.24 
z
" clip-path="url(#p9851077e19)" style="stroke: #000000; stroke-width: 0.62"/>
    <path d="M 429.16 224.65 
L 416.66 224.65 
L 415.10 219.65 
L 416.66 224.65 
z
" clip-path="url(#p9851077e19)" style="stroke: #000000; stroke-width: 0.62"/>
    <path d="M 445.35 223.04 
L 433.27 226.27 
L 430.47 221.85 
L 433.27 226.27 
z
" clip-path="url(#p9851077e19)" style="stroke: #000000; stroke-width: 0.62"/>
    <path d="M 461.58 222.52 
L 449.84 226.79 
L 452.04 225.99 
L 450.45 223.91 
L 452.04 225.99 
z
" clip-path="url(#p9851077e19)" style="stroke: #000000; stroke-width: 0.62"/>
    <path d="M 478.27 223.57 
L 465.96 225.74 
L 463.55 221.09 
L 465.96 225.74 
z
" clip-path="url(#p9851077e19)" style="stroke: #000000; stroke-width: 0.62"/>
    <path d="M 494.67 225.74 
L 482.36 223.57 
L 481.69 218.37 
L 482.36 223.57 
z
" clip-path="url(#p9851077e19)" style="stroke: #000000; stroke-width: 0.62"/>
    <path d="M 508.93 219.86 
L 500.90 229.44 
L 502.41 227.65 
L 499.99 226.64 
L 502.41 227.65 
z
" clip-path="url(#p9851077e19)" style="stroke: #000000; stroke-width: 0.62"/>
    <path d="M 522.19 218.46 
L 520.45 230.84 
L 520.77 228.52 
L 518.19 228.95 
L 520.77 228.52 
z
" clip-path="url(#p9851077e19)" style="stroke: #000000; stroke-width: 0.62"/>
    <path d="M 543.13 221.53 
L 532.31 227.78 
L 528.45 224.23 
L 532.31 227.78 
z
" clip-path="url(#p9851077e19)" style="stroke: #000000; stroke-width: 0.62"/>
    <path d="M 559.99 222.52 
L 548.25 226.79 
L 545.07 222.63 
L 548.25 226.79 
z
" clip-path="url(#p9851077e19)" style="stroke: #000000; stroke-width: 0.62"/>
    <path d="M 576.68 223.57 
L 564.37 225.74 
L 561.96 221.09 
L 564.37 225.74 
L 565.91 225.47 
L 563.50 220.81 
L 565.91 225.47 
z
" clip-path="url(#p9851077e19)" style="stroke: #000000; stroke-width: 0.62"/>
    <path d="M 593.15 224.11 
L 580.70 225.20 
L 578.71 220.35 
L 580.70 225.20 
L 582.25 225.06 
L 581.26 222.64 
L 582.25 225.06 
z
" clip-path="url(#p9851077e19)" style="stroke: #000000; stroke-width: 0.62"/>
    <path d="M 609.55 224.11 
L 597.10 225.20 
L 595.11 220.35 
L 597.10 225.20 
L 598.66 225.06 
L 597.66 222.64 
L 598.66 225.06 
z
" clip-path="url(#p9851077e19)" style="stroke: #000000; stroke-width: 0.62"/>
    <path d="M 625.60 222.52 
L 613.85 226.79 
L 610.68 222.63 
L 613.85 226.79 
z
" clip-path="url(#p9851077e19)" style="stroke: #000000; stroke-width: 0.62"/>
    <path d="M 641.54 221.53 
L 630.72 227.78 
L 632.75 226.61 
L 630.82 224.83 
L 632.75 226.61 
z
" clip-path="url(#p9851077e19)" style="stroke: #000000; stroke-width: 0.62"/>
    <path d="M 658.40 222.52 
L 646.66 226.79 
L 648.86 225.99 
L 647.27 223.91 
L 648.86 225.99 
z
" clip-path="url(#p9851077e19)" style="stroke: #000000; stroke-width: 0.62"/>
    <path d="M 674.97 223.04 
L 662.90 226.27 
L 665.16 225.66 
L 663.76 223.45 
L 665.16 225.66 
z
" clip-path="url(#p9851077e19)" style="stroke: #000000; stroke-width: 0.62"/>
    <path d="M 691.49 223.57 
L 679.18 225.74 
L 681.49 225.33 
L 680.28 223.00 
L 681.49 225.33 
z
" clip-path="url(#p9851077e19)" style="stroke: #000000; stroke-width: 0.62"/>
    <path d="M 707.99 224.65 
L 695.49 224.65 
L 697.83 224.65 
L 697.05 222.15 
L 697.83 224.65 
z
" clip-path="url(#p9851077e19)" style="stroke: #000000; stroke-width: 0.62"/>
    <path d="M 724.17 226.27 
L 712.10 223.04 
L 711.89 217.80 
L 712.10 223.04 
z
" clip-path="url(#p9851077e19)" style="stroke: #000000; stroke-width: 0.62"/>
    <path d="M 739.66 228.24 
L 729.42 221.07 
L 731.01 216.08 
L 729.42 221.07 
z
" clip-path="url(#p9851077e19)" style="stroke: #000000; stroke-width: 0.62"/>
    <path d="M 84.73 236.92 
L 72.23 236.92 
L 70.66 231.92 
L 72.23 236.92 
L 73.79 236.92 
L 73.01 234.42 
L 73.79 236.92 
z
" clip-path="url(#p9851077e19)" style="stroke: #000000; stroke-width: 0.62"/>
    <path d="M 101.10 237.46 
L 88.65 236.37 
L 87.53 231.26 
L 88.65 236.37 
L 90.21 236.51 
L 89.09 231.39 
L 90.21 236.51 
z
" clip-path="url(#p9851077e19)" style="stroke: #000000; stroke-width: 0.62"/>
    <path d="M 117.53 236.92 
L 105.03 236.92 
L 103.47 231.92 
L 105.03 236.92 
L 106.59 236.92 
L 105.03 231.92 
L 106.59 236.92 
z
" clip-path="url(#p9851077e19)" style="stroke: #000000; stroke-width: 0.62"/>
    <path d="M 133.93 236.92 
L 121.43 236.92 
L 119.87 231.92 
L 121.43 236.92 
L 122.99 236.92 
L 121.43 231.92 
L 122.99 236.92 
z
" clip-path="url(#p9851077e19)" style="stroke: #000000; stroke-width: 0.62"/>
    <path d="M 150.33 236.92 
L 137.83 236.92 
L 136.27 231.92 
L 137.83 236.92 
L 139.39 236.92 
L 137.83 231.92 
L 139.39 236.92 
L 140.96 236.92 
L 140.18 234.42 
L 140.96 236.92 
z
" clip-path="url(#p9851077e19)" style="stroke: #000000; stroke-width: 0.62"/>
    <path d="M 166.71 236.37 
L 154.26 237.46 
L 152.26 232.62 
L 154.26 237.46 
L 155.81 237.33 
L 153.82 232.48 
L 155.81 237.33 
L 157.37 237.19 
L 155.38 232.35 
L 157.37 237.19 
L 158.93 237.05 
L 157.93 234.63 
L 158.93 237.05 
z
" clip-path="url(#p9851077e19)" style="stroke: #000000; stroke-width: 0.62"/>
    <path d="M 183.04 235.83 
L 170.73 238.00 
L 168.32 233.35 
L 170.73 238.00 
L 172.27 237.73 
L 169.86 233.08 
L 172.27 237.73 
L 173.81 237.46 
L 171.40 232.81 
L 173.81 237.46 
L 175.35 237.19 
L 172.94 232.54 
L 175.35 237.19 
z
" clip-path="url(#p9851077e19)" style="stroke: #000000; stroke-width: 0.62"/>
    <path d="M 199.54 236.92 
L 187.04 236.92 
L 185.47 231.92 
L 187.04 236.92 
L 188.60 236.92 
L 187.04 231.92 
L 188.60 236.92 
L 190.16 236.92 
L 188.60 231.92 
L 190.16 236.92 
L 191.72 236.92 
L 190.94 234.42 
L 191.72 236.92 
z
" clip-path="url(#p9851077e19)" style="stroke: #000000; stroke-width: 0.62"/>
    <path d="M 215.91 237.46 
L 203.46 236.37 
L 202.34 231.26 
L 203.46 236.37 
L 205.02 236.51 
L 203.90 231.39 
L 205.02 236.51 
L 206.57 236.65 
L 206.01 234.09 
L 206.57 236.65 
z
" clip-path="url(#p9851077e19)" style="stroke: #000000; stroke-width: 0.62"/>
    <path d="M 232.13 238.54 
L 220.05 235.30 
L 219.84 230.07 
L 220.05 235.30 
L 221.56 235.70 
L 221.35 230.47 
L 221.56 235.70 
L 223.07 236.11 
L 222.96 233.49 
L 223.07 236.11 
z
" clip-path="url(#p9851077e19)" style="stroke: #000000; stroke-width: 0.62"/>
    <path d="M 248.36 239.06 
L 236.62 234.78 
L 236.86 229.55 
L 236.62 234.78 
L 238.09 235.31 
L 238.33 230.08 
L 238.09 235.31 
z
" clip-path="url(#p9851077e19)" style="stroke: #000000; stroke-width: 0.62"/>
    <path d="M 264.77 239.06 
L 253.02 234.78 
L 253.26 229.55 
L 253.02 234.78 
L 254.49 235.31 
L 254.73 230.08 
L 254.49 235.31 
z
" clip-path="url(#p9851077e19)" style="stroke: #000000; stroke-width: 0.62"/>
    <path d="M 281.17 239.06 
L 269.42 234.78 
L 269.66 229.55 
L 269.42 234.78 
L 270.89 235.31 
L 271.13 230.08 
L 270.89 235.31 
z
" clip-path="url(#p9851077e19)" style="stroke: #000000; stroke-width: 0.62"/>
    <path d="M 297.85 238.00 
L 285.54 235.83 
L 284.87 230.64 
L 285.54 235.83 
L 287.08 236.10 
L 286.41 230.91 
L 287.08 236.10 
z
" clip-path="url(#p9851077e19)" style="stroke: #000000; stroke-width: 0.62"/>
    <path d="M 314.32 237.46 
L 301.87 236.37 
L 300.75 231.26 
L 301.87 236.37 
L 303.43 236.51 
L 302.31 231.39 
L 303.43 236.51 
z
" clip-path="url(#p9851077e19)" style="stroke: #000000; stroke-width: 0.62"/>
    <path d="M 330.73 237.46 
L 318.27 236.37 
L 317.15 231.26 
L 318.27 236.37 
L 319.83 236.51 
L 318.71 231.39 
L 319.83 236.51 
L 321.39 236.65 
L 320.83 234.09 
L 321.39 236.65 
z
" clip-path="url(#p9851077e19)" style="stroke: #000000; stroke-width: 0.62"/>
    <path d="M 347.13 237.46 
L 334.67 236.37 
L 333.55 231.26 
L 334.67 236.37 
L 336.23 236.51 
L 335.11 231.39 
L 336.23 236.51 
L 337.79 236.65 
L 337.23 234.09 
L 337.79 236.65 
z
" clip-path="url(#p9851077e19)" style="stroke: #000000; stroke-width: 0.62"/>
    <path d="M 363.55 236.92 
L 351.05 236.92 
L 349.49 231.92 
L 351.05 236.92 
L 352.61 236.92 
L 351.05 231.92 
L 352.61 236.92 
L 354.18 236.92 
L 352.61 231.92 
L 354.18 236.92 
z
" clip-path="url(#p9851077e19)" style="stroke: #000000; stroke-width: 0.62"/>
    <path d="M 379.95 236.92 
L 367.45 236.92 
L 365.89 231.92 
L 367.45 236.92 
L 369.02 236.92 
L 367.45 231.92 
L 369.02 236.92 
L 370.58 236.92 
L 369.80 234.42 
L 370.58 236.92 
z
" clip-path="url(#p9851077e19)" style="stroke: #000000; stroke-width: 0.62"/>
    <path d="M 396.36 236.92 
L 383.86 236.92 
L 382.29 231.92 
L 383.86 236.92 
L 385.42 236.92 
L 383.86 231.92 
L 385.42 236.92 
z
" clip-path="url(#p9851077e19)" style="stroke: #000000; stroke-width: 0.62"/>
    <path d="M 412.73 237.46 
L 400.28 236.37 
L 399.16 231.26 
L 400.28 236.37 
L 401.84 236.51 
L 401.28 233.95 
L 401.84 236.51 
z
" clip-path="url(#p9851077e19)" style="stroke: #000000; stroke-width: 0.62"/>
    <path d="M 429.13 237.46 
L 416.68 236.37 
L 415.56 231.26 
L 416.68 236.37 
z
" clip-path="url(#p9851077e19)" style="stroke: #000000; stroke-width: 0.62"/>
    <path d="M 445.35 235.30 
L 433.27 238.54 
L 435.54 237.93 
L 434.14 235.72 
L 435.54 237.93 
z
" clip-path="url(#p9851077e19)" style="stroke: #000000; stroke-width: 0.62"/>
    <path d="M 461.38 234.28 
L 450.05 239.56 
L 452.17 238.57 
L 450.41 236.63 
L 452.17 238.57 
z
" clip-path="url(#p9851077e19)" style="stroke: #000000; stroke-width: 0.62"/>
    <path d="M 477.99 234.78 
L 466.24 239.06 
L 468.44 238.25 
L 466.85 236.17 
L 468.44 238.25 
z
" clip-path="url(#p9851077e19)" style="stroke: #000000; stroke-width: 0.62"/>
    <path d="M 494.77 236.92 
L 482.27 236.92 
L 484.61 236.92 
L 483.83 234.42 
L 484.61 236.92 
z
" clip-path="url(#p9851077e19)" style="stroke: #000000; stroke-width: 0.62"/>
    <path d="M 508.04 231.51 
L 501.79 242.33 
L 502.96 240.30 
L 500.41 239.73 
L 502.96 240.30 
z
" clip-path="url(#p9851077e19)" style="stroke: #000000; stroke-width: 0.62"/>
    <path d="M 521.43 230.67 
L 521.21 243.17 
L 521.25 240.82 
L 518.74 241.56 
L 521.25 240.82 
z
" clip-path="url(#p9851077e19)" style="stroke: #000000; stroke-width: 0.62"/>
    <path d="M 542.84 233.33 
L 532.60 240.50 
L 534.52 239.16 
L 532.45 237.56 
L 534.52 239.16 
z
" clip-path="url(#p9851077e19)" style="stroke: #000000; stroke-width: 0.62"/>
    <path d="M 560.16 238.54 
L 548.08 235.30 
L 547.87 230.07 
L 548.08 235.30 
z
" clip-path="url(#p9851077e19)" style="stroke: #000000; stroke-width: 0.62"/>
    <path d="M 576.56 238.54 
L 564.49 235.30 
L 564.27 230.07 
L 564.49 235.30 
L 566.00 235.70 
L 565.89 233.09 
L 566.00 235.70 
z
" clip-path="url(#p9851077e19)" style="stroke: #000000; stroke-width: 0.62"/>
    <path d="M 592.96 238.54 
L 580.89 235.30 
L 583.15 235.91 
L 583.04 233.29 
L 583.15 235.91 
z
" clip-path="url(#p9851077e19)" style="stroke: #000000; stroke-width: 0.62"/>
    <path d="M 609.48 238.00 
L 597.17 235.83 
L 596.50 230.64 
L 597.17 235.83 
z
" clip-path="url(#p9851077e19)" style="stroke: #000000; stroke-width: 0.62"/>
    <path d="M 625.88 235.83 
L 613.57 238.00 
L 611.17 233.35 
L 613.57 238.00 
z
" clip-path="url(#p9851077e19)" style="stroke: #000000; stroke-width: 0.62"/>
    <path d="M 639.71 231.80 
L 632.54 242.04 
L 633.89 240.12 
L 631.39 239.32 
L 633.89 240.12 
z
" clip-path="url(#p9851077e19)" style="stroke: #000000; stroke-width: 0.62"/>
    <path d="M 656.95 232.50 
L 648.11 241.34 
L 649.77 239.68 
L 647.45 238.46 
L 649.77 239.68 
z
" clip-path="url(#p9851077e19)" style="stroke: #000000; stroke-width: 0.62"/>
    <path d="M 674.05 233.33 
L 663.81 240.50 
L 665.73 239.16 
L 663.66 237.56 
L 665.73 239.16 
z
" clip-path="url(#p9851077e19)" style="stroke: #000000; stroke-width: 0.62"/>
    <path d="M 691.00 234.28 
L 679.67 239.56 
L 681.79 238.57 
L 680.03 236.63 
L 681.79 238.57 
z
" clip-path="url(#p9851077e19)" style="stroke: #000000; stroke-width: 0.62"/>
    <path d="M 707.99 236.92 
L 695.49 236.92 
L 697.83 236.92 
L 697.05 234.42 
L 697.83 236.92 
z
" clip-path="url(#p9851077e19)" style="stroke: #000000; stroke-width: 0.62"/>
    <path d="M 724.29 238.00 
L 711.98 235.83 
L 714.29 236.24 
L 713.96 233.64 
L 714.29 236.24 
z
" clip-path="url(#p9851077e19)" style="stroke: #000000; stroke-width: 0.62"/>
    <path d="M 739.33 240.94 
L 729.75 232.90 
L 731.77 228.07 
L 729.75 232.90 
z
" clip-path="url(#p9851077e19)" style="stroke: #000000; stroke-width: 0.62"/>
    <path d="M 84.70 249.73 
L 72.25 248.64 
L 71.13 243.52 
L 72.25 248.64 
L 73.81 248.77 
L 73.24 246.22 
L 73.81 248.77 
z
" clip-path="url(#p9851077e19)" style="stroke: #000000; stroke-width: 0.62"/>
    <path d="M 101.13 249.18 
L 88.63 249.18 
L 87.06 244.18 
L 88.63 249.18 
L 90.19 249.18 
L 88.63 244.18 
L 90.19 249.18 
z
" clip-path="url(#p9851077e19)" style="stroke: #000000; stroke-width: 0.62"/>
    <path d="M 117.53 249.18 
L 105.03 249.18 
L 103.47 244.18 
L 105.03 249.18 
L 106.59 249.18 
L 105.03 244.18 
L 106.59 249.18 
z
" clip-path="url(#p9851077e19)" style="stroke: #000000; stroke-width: 0.62"/>
    <path d="M 133.91 248.64 
L 121.45 249.73 
L 119.46 244.88 
L 121.45 249.73 
L 123.01 249.59 
L 121.02 244.75 
L 123.01 249.59 
z
" clip-path="url(#p9851077e19)" style="stroke: #000000; stroke-width: 0.62"/>
    <path d="M 150.31 248.64 
L 137.86 249.73 
L 135.86 244.88 
L 137.86 249.73 
L 139.41 249.59 
L 137.42 244.75 
L 139.41 249.59 
L 140.97 249.46 
L 139.97 247.03 
L 140.97 249.46 
z
" clip-path="url(#p9851077e19)" style="stroke: #000000; stroke-width: 0.62"/>
    <path d="M 166.52 247.57 
L 154.45 250.80 
L 151.64 246.38 
L 154.45 250.80 
L 155.96 250.40 
L 153.15 245.97 
L 155.96 250.40 
L 157.46 249.99 
L 154.66 245.57 
L 157.46 249.99 
z
" clip-path="url(#p9851077e19)" style="stroke: #000000; stroke-width: 0.62"/>
    <path d="M 182.92 247.57 
L 170.85 250.80 
L 168.04 246.38 
L 170.85 250.80 
L 172.36 250.40 
L 169.55 245.97 
L 172.36 250.40 
L 173.87 249.99 
L 171.06 245.57 
L 173.87 249.99 
L 175.38 249.59 
L 173.97 247.37 
L 175.38 249.59 
z
" clip-path="url(#p9851077e19)" style="stroke: #000000; stroke-width: 0.62"/>
    <path d="M 199.32 247.57 
L 187.25 250.80 
L 184.45 246.38 
L 187.25 250.80 
L 188.76 250.40 
L 185.96 245.97 
L 188.76 250.40 
L 190.27 249.99 
L 187.46 245.57 
L 190.27 249.99 
L 191.78 249.59 
L 190.38 247.37 
L 191.78 249.59 
z
" clip-path="url(#p9851077e19)" style="stroke: #000000; stroke-width: 0.62"/>
    <path d="M 215.84 248.10 
L 203.53 250.27 
L 201.13 245.62 
L 203.53 250.27 
L 205.07 250.00 
L 202.66 245.34 
L 205.07 250.00 
L 206.61 249.73 
L 205.41 247.40 
L 206.61 249.73 
z
" clip-path="url(#p9851077e19)" style="stroke: #000000; stroke-width: 0.62"/>
    <path d="M 232.32 249.73 
L 219.86 248.64 
L 218.74 243.52 
L 219.86 248.64 
L 221.42 248.77 
L 220.30 243.66 
L 221.42 248.77 
z
" clip-path="url(#p9851077e19)" style="stroke: #000000; stroke-width: 0.62"/>
    <path d="M 248.53 250.80 
L 236.45 247.57 
L 236.24 242.33 
L 236.45 247.57 
L 237.96 247.97 
L 237.75 242.74 
L 237.96 247.97 
L 239.47 248.37 
L 239.36 245.76 
L 239.47 248.37 
z
" clip-path="url(#p9851077e19)" style="stroke: #000000; stroke-width: 0.62"/>
    <path d="M 264.93 250.80 
L 252.86 247.57 
L 252.64 242.33 
L 252.86 247.57 
L 254.36 247.97 
L 254.15 242.74 
L 254.36 247.97 
z
" clip-path="url(#p9851077e19)" style="stroke: #000000; stroke-width: 0.62"/>
    <path d="M 280.96 251.82 
L 269.63 246.54 
L 270.33 241.35 
L 269.63 246.54 
L 271.05 247.20 
L 271.74 242.01 
L 271.05 247.20 
z
" clip-path="url(#p9851077e19)" style="stroke: #000000; stroke-width: 0.62"/>
    <path d="M 297.73 250.80 
L 285.66 247.57 
L 285.44 242.33 
L 285.66 247.57 
L 287.17 247.97 
L 286.95 242.74 
L 287.17 247.97 
z
" clip-path="url(#p9851077e19)" style="stroke: #000000; stroke-width: 0.62"/>
    <path d="M 314.32 249.73 
L 301.87 248.64 
L 300.75 243.52 
L 301.87 248.64 
L 303.43 248.77 
L 302.31 243.66 
L 303.43 248.77 
L 304.98 248.91 
L 304.42 246.35 
L 304.98 248.91 
z
" clip-path="url(#p9851077e19)" style="stroke: #000000; stroke-width: 0.62"/>
    <path d="M 330.73 248.64 
L 318.27 249.73 
L 316.28 244.88 
L 318.27 249.73 
L 319.83 249.59 
L 317.84 244.75 
L 319.83 249.59 
L 321.39 249.46 
L 319.39 244.61 
L 321.39 249.46 
z
" clip-path="url(#p9851077e19)" style="stroke: #000000; stroke-width: 0.62"/>
    <path d="M 347.15 249.18 
L 334.65 249.18 
L 333.09 244.18 
L 334.65 249.18 
L 336.21 249.18 
L 334.65 244.18 
L 336.21 249.18 
L 337.78 249.18 
L 336.99 246.68 
L 337.78 249.18 
z
" clip-path="url(#p9851077e19)" style="stroke: #000000; stroke-width: 0.62"/>
    <path d="M 363.55 249.18 
L 351.05 249.18 
L 349.49 244.18 
L 351.05 249.18 
L 352.61 249.18 
L 351.05 244.18 
L 352.61 249.18 
L 354.18 249.18 
L 353.40 246.68 
L 354.18 249.18 
z
" clip-path="url(#p9851077e19)" style="stroke: #000000; stroke-width: 0.62"/>
    <path d="M 379.95 249.18 
L 367.45 249.18 
L 365.89 244.18 
L 367.45 249.18 
L 369.02 249.18 
L 367.45 244.18 
L 369.02 249.18 
L 370.58 249.18 
L 369.80 246.68 
L 370.58 249.18 
z
" clip-path="url(#p9851077e19)" style="stroke: #000000; stroke-width: 0.62"/>
    <path d="M 396.36 249.18 
L 383.86 249.18 
L 382.29 244.18 
L 383.86 249.18 
L 385.42 249.18 
L 383.86 244.18 
L 385.42 249.18 
z
" clip-path="url(#p9851077e19)" style="stroke: #000000; stroke-width: 0.62"/>
    <path d="M 412.73 249.73 
L 400.28 248.64 
L 399.16 243.52 
L 400.28 248.64 
L 401.84 248.77 
L 401.28 246.22 
L 401.84 248.77 
z
" clip-path="url(#p9851077e19)" style="stroke: #000000; stroke-width: 0.62"/>
    <path d="M 429.13 249.73 
L 416.68 248.64 
L 415.56 243.52 
L 416.68 248.64 
z
" clip-path="url(#p9851077e19)" style="stroke: #000000; stroke-width: 0.62"/>
    <path d="M 445.54 248.64 
L 433.08 249.73 
L 435.42 249.52 
L 434.42 247.10 
L 435.42 249.52 
z
" clip-path="url(#p9851077e19)" style="stroke: #000000; stroke-width: 0.62"/>
    <path d="M 460.83 245.60 
L 450.59 252.77 
L 452.51 251.42 
L 450.44 249.82 
L 452.51 251.42 
z
" clip-path="url(#p9851077e19)" style="stroke: #000000; stroke-width: 0.62"/>
    <path d="M 474.25 243.31 
L 469.98 255.06 
L 470.78 252.85 
L 468.16 252.73 
L 470.78 252.85 
z
" clip-path="url(#p9851077e19)" style="stroke: #000000; stroke-width: 0.62"/>
    <path d="M 494.67 248.10 
L 482.36 250.27 
L 484.67 249.86 
L 483.46 247.54 
L 484.67 249.86 
z
" clip-path="url(#p9851077e19)" style="stroke: #000000; stroke-width: 0.62"/>
    <path d="M 504.92 247.31 
L 504.34 247.40 
L 503.81 247.67 
L 503.40 248.08 
L 503.13 248.60 
L 503.04 249.18 
L 503.13 249.76 
L 503.40 250.29 
L 503.81 250.70 
L 504.34 250.97 
L 504.92 251.06 
L 505.50 250.97 
L 506.02 250.70 
L 506.43 250.29 
L 506.70 249.76 
L 506.79 249.18 
L 506.70 248.60 
L 506.43 248.08 
L 506.02 247.67 
L 505.50 247.40 
L 504.92 247.31 
L 504.92 247.31 
L 505.50 247.40 
L 506.02 247.67 
L 506.43 248.08 
L 506.70 248.60 
L 506.79 249.18 
L 506.70 249.76 
L 506.43 250.29 
L 506.02 250.70 
L 505.50 250.97 
L 504.92 251.06 
L 504.34 250.97 
L 503.81 250.70 
L 503.40 250.29 
L 503.13 249.76 
L 503.04 249.18 
L 503.13 248.60 
L 503.40 248.08 
L 503.81 247.67 
L 504.34 247.40 
L 504.92 247.31 
z
" clip-path="url(#p9851077e19)" style="stroke: #000000; stroke-width: 0.62"/>
    <path d="M 521.54 242.94 
L 521.10 255.43 
L 521.18 253.09 
L 518.66 253.78 
L 521.18 253.09 
z
" clip-path="url(#p9851077e19)" style="stroke: #000000; stroke-width: 0.62"/>
    <path d="M 542.84 245.60 
L 532.60 252.77 
L 534.52 251.42 
L 532.45 249.82 
L 534.52 251.42 
z
" clip-path="url(#p9851077e19)" style="stroke: #000000; stroke-width: 0.62"/>
    <path d="M 560.36 249.51 
L 547.88 248.86 
L 546.58 243.78 
L 547.88 248.86 
L 549.44 248.94 
L 548.79 246.40 
L 549.44 248.94 
z
" clip-path="url(#p9851077e19)" style="stroke: #000000; stroke-width: 0.62"/>
    <path d="M 576.56 247.57 
L 564.49 250.80 
L 561.68 246.38 
L 564.49 250.80 
L 566.00 250.40 
L 563.19 245.97 
L 566.00 250.40 
z
" clip-path="url(#p9851077e19)" style="stroke: #000000; stroke-width: 0.62"/>
    <path d="M 593.15 249.73 
L 580.70 248.64 
L 579.58 243.52 
L 580.70 248.64 
L 582.25 248.77 
L 581.69 246.22 
L 582.25 248.77 
z
" clip-path="url(#p9851077e19)" style="stroke: #000000; stroke-width: 0.62"/>
    <path d="M 609.55 249.73 
L 597.10 248.64 
L 595.98 243.52 
L 597.10 248.64 
L 598.66 248.77 
L 598.10 246.22 
L 598.66 248.77 
z
" clip-path="url(#p9851077e19)" style="stroke: #000000; stroke-width: 0.62"/>
    <path d="M 625.76 247.57 
L 613.69 250.80 
L 610.89 246.38 
L 613.69 250.80 
z
" clip-path="url(#p9851077e19)" style="stroke: #000000; stroke-width: 0.62"/>
    <path d="M 640.15 244.40 
L 632.11 253.97 
L 633.62 252.18 
L 631.20 251.17 
L 633.62 252.18 
z
" clip-path="url(#p9851077e19)" style="stroke: #000000; stroke-width: 0.62"/>
    <path d="M 653.62 243.03 
L 651.45 255.34 
L 651.85 253.03 
L 649.26 253.37 
L 651.85 253.03 
z
" clip-path="url(#p9851077e19)" style="stroke: #000000; stroke-width: 0.62"/>
    <path d="M 671.57 243.52 
L 666.29 254.85 
L 667.28 252.72 
L 664.69 252.37 
L 667.28 252.72 
z
" clip-path="url(#p9851077e19)" style="stroke: #000000; stroke-width: 0.62"/>
    <path d="M 689.75 244.76 
L 680.91 253.60 
L 682.57 251.95 
L 680.25 250.73 
L 682.57 251.95 
z
" clip-path="url(#p9851077e19)" style="stroke: #000000; stroke-width: 0.62"/>
    <path d="M 707.61 247.05 
L 695.86 251.32 
L 698.07 250.52 
L 696.48 248.44 
L 698.07 250.52 
z
" clip-path="url(#p9851077e19)" style="stroke: #000000; stroke-width: 0.62"/>
    <path d="M 724.29 250.27 
L 711.98 248.10 
L 714.29 248.50 
L 713.96 245.91 
L 714.29 248.50 
z
" clip-path="url(#p9851077e19)" style="stroke: #000000; stroke-width: 0.62"/>
    <path d="M 739.33 253.20 
L 729.75 245.17 
L 731.55 246.67 
L 732.56 244.25 
L 731.55 246.67 
z
" clip-path="url(#p9851077e19)" style="stroke: #000000; stroke-width: 0.62"/>
    <path d="M 84.63 262.53 
L 72.32 260.36 
L 71.65 255.17 
L 72.32 260.36 
L 73.86 260.63 
L 73.52 258.04 
L 73.86 260.63 
z
" clip-path="url(#p9851077e19)" style="stroke: #000000; stroke-width: 0.62"/>
    <path d="M 101.13 261.45 
L 88.63 261.45 
L 87.06 256.45 
L 88.63 261.45 
L 90.19 261.45 
L 88.63 256.45 
L 90.19 261.45 
z
" clip-path="url(#p9851077e19)" style="stroke: #000000; stroke-width: 0.62"/>
    <path d="M 117.53 261.45 
L 105.03 261.45 
L 103.47 256.45 
L 105.03 261.45 
L 106.59 261.45 
L 105.03 256.45 
L 106.59 261.45 
z
" clip-path="url(#p9851077e19)" style="stroke: #000000; stroke-width: 0.62"/>
    <path d="M 133.91 260.90 
L 121.45 261.99 
L 119.46 257.15 
L 121.45 261.99 
L 123.01 261.86 
L 121.02 257.01 
L 123.01 261.86 
z
" clip-path="url(#p9851077e19)" style="stroke: #000000; stroke-width: 0.62"/>
    <path d="M 150.24 260.36 
L 137.93 262.53 
L 135.52 257.88 
L 137.93 262.53 
L 139.47 262.26 
L 137.06 257.61 
L 139.47 262.26 
L 141.00 261.99 
L 139.80 259.66 
L 141.00 261.99 
z
" clip-path="url(#p9851077e19)" style="stroke: #000000; stroke-width: 0.62"/>
    <path d="M 166.52 259.83 
L 154.45 263.07 
L 151.64 258.64 
L 154.45 263.07 
L 155.96 262.66 
L 153.15 258.24 
L 155.96 262.66 
L 157.46 262.26 
L 156.06 260.04 
L 157.46 262.26 
z
" clip-path="url(#p9851077e19)" style="stroke: #000000; stroke-width: 0.62"/>
    <path d="M 182.76 259.31 
L 171.01 263.59 
L 167.83 259.42 
L 171.01 263.59 
L 172.48 263.05 
L 169.30 258.89 
L 172.48 263.05 
L 173.95 262.52 
L 170.77 258.35 
L 173.95 262.52 
z
" clip-path="url(#p9851077e19)" style="stroke: #000000; stroke-width: 0.62"/>
    <path d="M 199.16 259.31 
L 187.41 263.59 
L 184.23 259.42 
L 187.41 263.59 
L 188.88 263.05 
L 185.70 258.89 
L 188.88 263.05 
L 190.35 262.52 
L 188.76 260.44 
L 190.35 262.52 
z
" clip-path="url(#p9851077e19)" style="stroke: #000000; stroke-width: 0.62"/>
    <path d="M 215.72 259.83 
L 203.65 263.07 
L 200.85 258.64 
L 203.65 263.07 
L 205.16 262.66 
L 202.36 258.24 
L 205.16 262.66 
L 206.67 262.26 
L 205.27 260.04 
L 206.67 262.26 
z
" clip-path="url(#p9851077e19)" style="stroke: #000000; stroke-width: 0.62"/>
    <path d="M 232.34 261.45 
L 219.84 261.45 
L 218.28 256.45 
L 219.84 261.45 
L 221.40 261.45 
L 219.84 256.45 
L 221.40 261.45 
z
" clip-path="url(#p9851077e19)" style="stroke: #000000; stroke-width: 0.62"/>
    <path d="M 248.74 261.45 
L 236.24 261.45 
L 234.68 256.45 
L 236.24 261.45 
z
" clip-path="url(#p9851077e19)" style="stroke: #000000; stroke-width: 0.62"/>
    <path d="M 265.05 262.53 
L 252.74 260.36 
L 252.07 255.17 
L 252.74 260.36 
L 254.28 260.63 
L 253.61 255.44 
L 254.28 260.63 
z
" clip-path="url(#p9851077e19)" style="stroke: #000000; stroke-width: 0.62"/>
    <path d="M 281.17 263.59 
L 269.42 259.31 
L 269.66 254.08 
L 269.42 259.31 
L 270.89 259.85 
L 271.13 254.61 
L 270.89 259.85 
z
" clip-path="url(#p9851077e19)" style="stroke: #000000; stroke-width: 0.62"/>
    <path d="M 297.85 262.53 
L 285.54 260.36 
L 284.87 255.17 
L 285.54 260.36 
L 287.08 260.63 
L 286.41 255.44 
L 287.08 260.63 
z
" clip-path="url(#p9851077e19)" style="stroke: #000000; stroke-width: 0.62"/>
    <path d="M 314.35 261.45 
L 301.85 261.45 
L 300.28 256.45 
L 301.85 261.45 
L 303.41 261.45 
L 301.85 256.45 
L 303.41 261.45 
z
" clip-path="url(#p9851077e19)" style="stroke: #000000; stroke-width: 0.62"/>
    <path d="M 330.65 260.36 
L 318.34 262.53 
L 315.94 257.88 
L 318.34 262.53 
L 319.88 262.26 
L 317.48 257.61 
L 319.88 262.26 
L 321.42 261.99 
L 319.01 257.34 
L 321.42 261.99 
z
" clip-path="url(#p9851077e19)" style="stroke: #000000; stroke-width: 0.62"/>
    <path d="M 347.06 260.36 
L 334.75 262.53 
L 332.34 257.88 
L 334.75 262.53 
L 336.28 262.26 
L 333.88 257.61 
L 336.28 262.26 
L 337.82 261.99 
L 336.62 259.66 
L 337.82 261.99 
z
" clip-path="url(#p9851077e19)" style="stroke: #000000; stroke-width: 0.62"/>
    <path d="M 363.46 260.36 
L 351.15 262.53 
L 348.74 257.88 
L 351.15 262.53 
L 352.69 262.26 
L 350.28 257.61 
L 352.69 262.26 
L 354.22 261.99 
L 353.02 259.66 
L 354.22 261.99 
z
" clip-path="url(#p9851077e19)" style="stroke: #000000; stroke-width: 0.62"/>
    <path d="M 379.93 260.90 
L 367.48 261.99 
L 365.49 257.15 
L 367.48 261.99 
L 369.03 261.86 
L 367.04 257.01 
L 369.03 261.86 
L 370.59 261.72 
L 369.59 259.30 
L 370.59 261.72 
z
" clip-path="url(#p9851077e19)" style="stroke: #000000; stroke-width: 0.62"/>
    <path d="M 396.36 261.45 
L 383.86 261.45 
L 382.29 256.45 
L 383.86 261.45 
L 385.42 261.45 
L 383.86 256.45 
L 385.42 261.45 
z
" clip-path="url(#p9851077e19)" style="stroke: #000000; stroke-width: 0.62"/>
    <path d="M 412.73 261.99 
L 400.28 260.90 
L 399.16 255.79 
L 400.28 260.90 
L 401.84 261.04 
L 401.28 258.48 
L 401.84 261.04 
z
" clip-path="url(#p9851077e19)" style="stroke: #000000; stroke-width: 0.62"/>
    <path d="M 429.13 261.99 
L 416.68 260.90 
L 415.56 255.79 
L 416.68 260.90 
z
" clip-path="url(#p9851077e19)" style="stroke: #000000; stroke-width: 0.62"/>
    <path d="M 445.56 261.45 
L 433.06 261.45 
L 435.40 261.45 
L 434.62 258.95 
L 435.40 261.45 
z
" clip-path="url(#p9851077e19)" style="stroke: #000000; stroke-width: 0.62"/>
    <path d="M 460.83 257.86 
L 450.59 265.03 
L 452.51 263.69 
L 450.44 262.09 
L 452.51 263.69 
z
" clip-path="url(#p9851077e19)" style="stroke: #000000; stroke-width: 0.62"/>
    <path d="M 475.24 266.86 
L 468.99 256.04 
L 470.16 258.07 
L 471.93 256.14 
L 470.16 258.07 
z
" clip-path="url(#p9851077e19)" style="stroke: #000000; stroke-width: 0.62"/>
    <path d="M 490.13 255.41 
L 486.90 267.49 
L 487.50 265.22 
L 484.89 265.33 
L 487.50 265.22 
z
" clip-path="url(#p9851077e19)" style="stroke: #000000; stroke-width: 0.62"/>
    <path d="M 504.92 259.57 
L 504.34 259.67 
L 503.81 259.93 
L 503.40 260.35 
L 503.13 260.87 
L 503.04 261.45 
L 503.13 262.03 
L 503.40 262.55 
L 503.81 262.97 
L 504.34 263.23 
L 504.92 263.32 
L 505.50 263.23 
L 506.02 262.97 
L 506.43 262.55 
L 506.70 262.03 
L 506.79 261.45 
L 506.70 260.87 
L 506.43 260.35 
L 506.02 259.93 
L 505.50 259.67 
L 504.92 259.57 
L 504.92 259.57 
L 505.50 259.67 
L 506.02 259.93 
L 506.43 260.35 
L 506.70 260.87 
L 506.79 261.45 
L 506.70 262.03 
L 506.43 262.55 
L 506.02 262.97 
L 505.50 263.23 
L 504.92 263.32 
L 504.34 263.23 
L 503.81 262.97 
L 503.40 262.55 
L 503.13 262.03 
L 503.04 261.45 
L 503.13 260.87 
L 503.40 260.35 
L 503.81 259.93 
L 504.34 259.67 
L 504.92 259.57 
z
" clip-path="url(#p9851077e19)" style="stroke: #000000; stroke-width: 0.62"/>
    <path d="M 521.43 255.20 
L 521.21 267.70 
L 521.25 265.35 
L 518.74 266.09 
L 521.25 265.35 
z
" clip-path="url(#p9851077e19)" style="stroke: #000000; stroke-width: 0.62"/>
    <path d="M 542.84 257.86 
L 532.60 265.03 
L 528.45 261.83 
L 532.60 265.03 
z
" clip-path="url(#p9851077e19)" style="stroke: #000000; stroke-width: 0.62"/>
    <path d="M 560.36 261.78 
L 547.88 261.12 
L 546.58 256.05 
L 547.88 261.12 
L 549.44 261.20 
L 548.79 258.67 
L 549.44 261.20 
z
" clip-path="url(#p9851077e19)" style="stroke: #000000; stroke-width: 0.62"/>
    <path d="M 576.56 259.83 
L 564.49 263.07 
L 561.68 258.64 
L 564.49 263.07 
L 566.00 262.66 
L 563.19 258.24 
L 566.00 262.66 
z
" clip-path="url(#p9851077e19)" style="stroke: #000000; stroke-width: 0.62"/>
    <path d="M 593.15 261.99 
L 580.70 260.90 
L 579.58 255.79 
L 580.70 260.90 
L 582.25 261.04 
L 581.69 258.48 
L 582.25 261.04 
z
" clip-path="url(#p9851077e19)" style="stroke: #000000; stroke-width: 0.62"/>
    <path d="M 609.55 261.99 
L 597.10 260.90 
L 595.98 255.79 
L 597.10 260.90 
L 598.66 261.04 
L 598.10 258.48 
L 598.66 261.04 
z
" clip-path="url(#p9851077e19)" style="stroke: #000000; stroke-width: 0.62"/>
    <path d="M 625.98 261.45 
L 613.48 261.45 
L 615.82 261.45 
L 615.04 258.95 
L 615.82 261.45 
z
" clip-path="url(#p9851077e19)" style="stroke: #000000; stroke-width: 0.62"/>
    <path d="M 636.13 259.57 
L 635.55 259.67 
L 635.03 259.93 
L 634.61 260.35 
L 634.35 260.87 
L 634.25 261.45 
L 634.35 262.03 
L 634.61 262.55 
L 635.03 262.97 
L 635.55 263.23 
L 636.13 263.32 
L 636.71 263.23 
L 637.23 262.97 
L 637.65 262.55 
L 637.91 262.03 
L 638.00 261.45 
L 637.91 260.87 
L 637.65 260.35 
L 637.23 259.93 
L 636.71 259.67 
L 636.13 259.57 
L 636.13 259.57 
L 636.71 259.67 
L 637.23 259.93 
L 637.65 260.35 
L 637.91 260.87 
L 638.00 261.45 
L 637.91 262.03 
L 637.65 262.55 
L 637.23 262.97 
L 636.71 263.23 
L 636.13 263.32 
L 635.55 263.23 
L 635.03 262.97 
L 634.61 262.55 
L 634.35 262.03 
L 634.25 261.45 
L 634.35 260.87 
L 634.61 260.35 
L 635.03 259.93 
L 635.55 259.67 
L 636.13 259.57 
z
" clip-path="url(#p9851077e19)" style="stroke: #000000; stroke-width: 0.62"/>
    <path d="M 654.67 267.32 
L 650.39 255.58 
L 651.19 257.78 
L 653.28 256.19 
L 651.19 257.78 
z
" clip-path="url(#p9851077e19)" style="stroke: #000000; stroke-width: 0.62"/>
    <path d="M 669.48 255.22 
L 668.39 267.67 
L 668.59 265.34 
L 666.03 265.90 
L 668.59 265.34 
z
" clip-path="url(#p9851077e19)" style="stroke: #000000; stroke-width: 0.62"/>
    <path d="M 688.92 256.33 
L 681.75 266.57 
L 683.09 264.65 
L 680.60 263.85 
L 683.09 264.65 
z
" clip-path="url(#p9851077e19)" style="stroke: #000000; stroke-width: 0.62"/>
    <path d="M 706.86 257.86 
L 696.62 265.03 
L 698.54 263.69 
L 696.46 262.09 
L 698.54 263.69 
z
" clip-path="url(#p9851077e19)" style="stroke: #000000; stroke-width: 0.62"/>
    <path d="M 724.29 260.36 
L 711.98 262.53 
L 714.29 262.13 
L 713.09 259.80 
L 714.29 262.13 
z
" clip-path="url(#p9851077e19)" style="stroke: #000000; stroke-width: 0.62"/>
    <path d="M 739.95 264.57 
L 729.13 258.32 
L 731.16 259.50 
L 731.73 256.94 
L 731.16 259.50 
z
" clip-path="url(#p9851077e19)" style="stroke: #000000; stroke-width: 0.62"/>
    <path d="M 84.63 274.80 
L 72.32 272.63 
L 71.65 267.43 
L 72.32 272.63 
z
" clip-path="url(#p9851077e19)" style="stroke: #000000; stroke-width: 0.62"/>
    <path d="M 101.10 273.17 
L 88.65 274.26 
L 86.66 269.41 
L 88.65 274.26 
L 90.21 274.12 
L 89.21 271.70 
L 90.21 274.12 
z
" clip-path="url(#p9851077e19)" style="stroke: #000000; stroke-width: 0.62"/>
    <path d="M 117.43 272.63 
L 105.12 274.80 
L 102.72 270.15 
L 105.12 274.80 
L 106.66 274.53 
L 104.25 269.87 
L 106.66 274.53 
z
" clip-path="url(#p9851077e19)" style="stroke: #000000; stroke-width: 0.62"/>
    <path d="M 133.83 272.63 
L 121.52 274.80 
L 119.12 270.15 
L 121.52 274.80 
L 123.06 274.53 
L 120.66 269.87 
L 123.06 274.53 
z
" clip-path="url(#p9851077e19)" style="stroke: #000000; stroke-width: 0.62"/>
    <path d="M 149.95 271.58 
L 138.21 275.85 
L 135.03 271.69 
L 138.21 275.85 
L 139.68 275.32 
L 136.50 271.15 
L 139.68 275.32 
z
" clip-path="url(#p9851077e19)" style="stroke: #000000; stroke-width: 0.62"/>
    <path d="M 166.15 271.07 
L 154.82 276.35 
L 151.29 272.48 
L 154.82 276.35 
L 156.23 275.69 
L 152.71 271.82 
L 156.23 275.69 
z
" clip-path="url(#p9851077e19)" style="stroke: #000000; stroke-width: 0.62"/>
    <path d="M 182.55 271.07 
L 171.22 276.35 
L 167.69 272.48 
L 171.22 276.35 
L 172.64 275.69 
L 169.11 271.82 
L 172.64 275.69 
z
" clip-path="url(#p9851077e19)" style="stroke: #000000; stroke-width: 0.62"/>
    <path d="M 199.16 271.58 
L 187.41 275.85 
L 184.23 271.69 
L 187.41 275.85 
L 188.88 275.32 
L 185.70 271.15 
L 188.88 275.32 
z
" clip-path="url(#p9851077e19)" style="stroke: #000000; stroke-width: 0.62"/>
    <path d="M 215.56 271.58 
L 203.81 275.85 
L 200.64 271.69 
L 203.81 275.85 
L 205.28 275.32 
L 202.10 271.15 
L 205.28 275.32 
z
" clip-path="url(#p9851077e19)" style="stroke: #000000; stroke-width: 0.62"/>
    <path d="M 232.32 273.17 
L 219.86 274.26 
L 217.87 269.41 
L 219.86 274.26 
L 221.42 274.12 
L 220.42 271.70 
L 221.42 274.12 
z
" clip-path="url(#p9851077e19)" style="stroke: #000000; stroke-width: 0.62"/>
    <path d="M 248.74 273.71 
L 236.24 273.71 
L 234.68 268.71 
L 236.24 273.71 
z
" clip-path="url(#p9851077e19)" style="stroke: #000000; stroke-width: 0.62"/>
    <path d="M 265.12 274.26 
L 252.67 273.17 
L 251.55 268.05 
L 252.67 273.17 
L 254.22 273.30 
L 253.66 270.75 
L 254.22 273.30 
z
" clip-path="url(#p9851077e19)" style="stroke: #000000; stroke-width: 0.62"/>
    <path d="M 280.96 276.35 
L 269.63 271.07 
L 270.33 265.88 
L 269.63 271.07 
z
" clip-path="url(#p9851077e19)" style="stroke: #000000; stroke-width: 0.62"/>
    <path d="M 297.85 274.80 
L 285.54 272.63 
L 284.87 267.43 
L 285.54 272.63 
z
" clip-path="url(#p9851077e19)" style="stroke: #000000; stroke-width: 0.62"/>
    <path d="M 314.13 272.10 
L 302.06 275.33 
L 299.26 270.91 
L 302.06 275.33 
L 303.57 274.93 
L 300.77 270.50 
L 303.57 274.93 
z
" clip-path="url(#p9851077e19)" style="stroke: #000000; stroke-width: 0.62"/>
    <path d="M 330.37 271.58 
L 318.63 275.85 
L 315.45 271.69 
L 318.63 275.85 
L 320.09 275.32 
L 316.92 271.15 
L 320.09 275.32 
z
" clip-path="url(#p9851077e19)" style="stroke: #000000; stroke-width: 0.62"/>
    <path d="M 346.77 271.58 
L 335.03 275.85 
L 331.85 271.69 
L 335.03 275.85 
L 336.50 275.32 
L 333.32 271.15 
L 336.50 275.32 
z
" clip-path="url(#p9851077e19)" style="stroke: #000000; stroke-width: 0.62"/>
    <path d="M 363.18 271.58 
L 351.43 275.85 
L 348.25 271.69 
L 351.43 275.85 
L 352.90 275.32 
L 349.72 271.15 
L 352.90 275.32 
z
" clip-path="url(#p9851077e19)" style="stroke: #000000; stroke-width: 0.62"/>
    <path d="M 379.74 272.10 
L 367.67 275.33 
L 364.86 270.91 
L 367.67 275.33 
L 369.18 274.93 
L 366.37 270.50 
L 369.18 274.93 
z
" clip-path="url(#p9851077e19)" style="stroke: #000000; stroke-width: 0.62"/>
    <path d="M 396.33 273.17 
L 383.88 274.26 
L 381.89 269.41 
L 383.88 274.26 
L 385.44 274.12 
L 383.44 269.28 
L 385.44 274.12 
z
" clip-path="url(#p9851077e19)" style="stroke: #000000; stroke-width: 0.62"/>
    <path d="M 412.73 273.17 
L 400.28 274.26 
L 398.29 269.41 
L 400.28 274.26 
L 401.84 274.12 
L 399.85 269.28 
L 401.84 274.12 
z
" clip-path="url(#p9851077e19)" style="stroke: #000000; stroke-width: 0.62"/>
    <path d="M 429.06 274.80 
L 416.75 272.63 
L 416.08 267.43 
L 416.75 272.63 
z
" clip-path="url(#p9851077e19)" style="stroke: #000000; stroke-width: 0.62"/>
    <path d="M 445.35 275.33 
L 433.27 272.10 
L 433.06 266.86 
L 433.27 272.10 
z
" clip-path="url(#p9851077e19)" style="stroke: #000000; stroke-width: 0.62"/>
    <path d="M 455.71 271.84 
L 455.13 271.93 
L 454.61 272.20 
L 454.19 272.61 
L 453.93 273.13 
L 453.84 273.71 
L 453.93 274.29 
L 454.19 274.82 
L 454.61 275.23 
L 455.13 275.50 
L 455.71 275.59 
L 456.29 275.50 
L 456.81 275.23 
L 457.23 274.82 
L 457.50 274.29 
L 457.59 273.71 
L 457.50 273.13 
L 457.23 272.61 
L 456.81 272.20 
L 456.29 271.93 
L 455.71 271.84 
L 455.71 271.84 
L 456.29 271.93 
L 456.81 272.20 
L 457.23 272.61 
L 457.50 273.13 
L 457.59 273.71 
L 457.50 274.29 
L 457.23 274.82 
L 456.81 275.23 
L 456.29 275.50 
L 455.71 275.59 
L 455.13 275.50 
L 454.61 275.23 
L 454.19 274.82 
L 453.93 274.29 
L 453.84 273.71 
L 453.93 273.13 
L 454.19 272.61 
L 454.61 272.20 
L 455.13 271.93 
L 455.71 271.84 
z
" clip-path="url(#p9851077e19)" style="stroke: #000000; stroke-width: 0.62"/>
    <path d="M 466.70 270.59 
L 477.53 276.84 
L 475.50 275.67 
L 474.92 278.22 
L 475.50 275.67 
z
" clip-path="url(#p9851077e19)" style="stroke: #000000; stroke-width: 0.62"/>
    <path d="M 484.50 268.93 
L 492.53 278.50 
L 491.03 276.71 
L 489.61 278.91 
L 491.03 276.71 
z
" clip-path="url(#p9851077e19)" style="stroke: #000000; stroke-width: 0.62"/>
    <path d="M 502.78 267.84 
L 507.05 279.59 
L 506.25 277.38 
L 504.17 278.97 
L 506.25 277.38 
z
" clip-path="url(#p9851077e19)" style="stroke: #000000; stroke-width: 0.62"/>
    <path d="M 521.65 267.47 
L 520.99 279.95 
L 521.11 277.61 
L 518.58 278.26 
L 521.11 277.61 
z
" clip-path="url(#p9851077e19)" style="stroke: #000000; stroke-width: 0.62"/>
    <path d="M 542.84 270.13 
L 532.60 277.30 
L 534.52 275.95 
L 532.45 274.35 
L 534.52 275.95 
z
" clip-path="url(#p9851077e19)" style="stroke: #000000; stroke-width: 0.62"/>
    <path d="M 560.36 274.04 
L 547.88 273.39 
L 546.58 268.31 
L 547.88 273.39 
L 549.44 273.47 
L 548.79 270.93 
L 549.44 273.47 
z
" clip-path="url(#p9851077e19)" style="stroke: #000000; stroke-width: 0.62"/>
    <path d="M 576.56 272.10 
L 564.49 275.33 
L 561.68 270.91 
L 564.49 275.33 
L 566.00 274.93 
L 564.59 272.71 
L 566.00 274.93 
z
" clip-path="url(#p9851077e19)" style="stroke: #000000; stroke-width: 0.62"/>
    <path d="M 593.15 274.26 
L 580.70 273.17 
L 579.58 268.05 
L 580.70 273.17 
z
" clip-path="url(#p9851077e19)" style="stroke: #000000; stroke-width: 0.62"/>
    <path d="M 609.58 273.71 
L 597.08 273.71 
L 595.51 268.71 
L 597.08 273.71 
z
" clip-path="url(#p9851077e19)" style="stroke: #000000; stroke-width: 0.62"/>
    <path d="M 625.60 275.85 
L 613.85 271.58 
L 614.10 266.34 
L 613.85 271.58 
z
" clip-path="url(#p9851077e19)" style="stroke: #000000; stroke-width: 0.62"/>
    <path d="M 636.13 271.84 
L 635.55 271.93 
L 635.03 272.20 
L 634.61 272.61 
L 634.35 273.13 
L 634.25 273.71 
L 634.35 274.29 
L 634.61 274.82 
L 635.03 275.23 
L 635.55 275.50 
L 636.13 275.59 
L 636.71 275.50 
L 637.23 275.23 
L 637.65 274.82 
L 637.91 274.29 
L 638.00 273.71 
L 637.91 273.13 
L 637.65 272.61 
L 637.23 272.20 
L 636.71 271.93 
L 636.13 271.84 
L 636.13 271.84 
L 636.71 271.93 
L 637.23 272.20 
L 637.65 272.61 
L 637.91 273.13 
L 638.00 273.71 
L 637.91 274.29 
L 637.65 274.82 
L 637.23 275.23 
L 636.71 275.50 
L 636.13 275.59 
L 635.55 275.50 
L 635.03 275.23 
L 634.61 274.82 
L 634.35 274.29 
L 634.25 273.71 
L 634.35 273.13 
L 634.61 272.61 
L 635.03 272.20 
L 635.55 271.93 
L 636.13 271.84 
z
" clip-path="url(#p9851077e19)" style="stroke: #000000; stroke-width: 0.62"/>
    <path d="M 657.32 277.73 
L 647.74 269.70 
L 649.54 271.20 
L 650.55 268.79 
L 649.54 271.20 
z
" clip-path="url(#p9851077e19)" style="stroke: #000000; stroke-width: 0.62"/>
    <path d="M 672.06 279.13 
L 665.81 268.30 
L 666.98 270.33 
L 668.75 268.40 
L 666.98 270.33 
z
" clip-path="url(#p9851077e19)" style="stroke: #000000; stroke-width: 0.62"/>
    <path d="M 687.47 267.84 
L 683.20 279.59 
L 684.00 277.38 
L 681.38 277.26 
L 684.00 277.38 
z
" clip-path="url(#p9851077e19)" style="stroke: #000000; stroke-width: 0.62"/>
    <path d="M 706.16 269.29 
L 697.32 278.13 
L 698.97 276.48 
L 696.65 275.26 
L 698.97 276.48 
z
" clip-path="url(#p9851077e19)" style="stroke: #000000; stroke-width: 0.62"/>
    <path d="M 723.80 271.07 
L 712.47 276.35 
L 714.60 275.36 
L 712.83 273.43 
L 714.60 275.36 
z
" clip-path="url(#p9851077e19)" style="stroke: #000000; stroke-width: 0.62"/>
    <path d="M 734.54 271.84 
L 733.96 271.93 
L 733.44 272.20 
L 733.02 272.61 
L 732.76 273.13 
L 732.66 273.71 
L 732.76 274.29 
L 733.02 274.82 
L 733.44 275.23 
L 733.96 275.50 
L 734.54 275.59 
L 735.12 275.50 
L 735.64 275.23 
L 736.06 274.82 
L 736.32 274.29 
L 736.41 273.71 
L 736.32 273.13 
L 736.06 272.61 
L 735.64 272.20 
L 735.12 271.93 
L 734.54 271.84 
L 734.54 271.84 
L 735.12 271.93 
L 735.64 272.20 
L 736.06 272.61 
L 736.32 273.13 
L 736.41 273.71 
L 736.32 274.29 
L 736.06 274.82 
L 735.64 275.23 
L 735.12 275.50 
L 734.54 275.59 
L 733.96 275.50 
L 733.44 275.23 
L 733.02 274.82 
L 732.76 274.29 
L 732.66 273.71 
L 732.76 273.13 
L 733.02 272.61 
L 733.44 272.20 
L 733.96 271.93 
L 734.54 271.84 
z
" clip-path="url(#p9851077e19)" style="stroke: #000000; stroke-width: 0.62"/>
    <path d="M 84.73 285.98 
L 72.23 285.98 
L 74.57 285.98 
L 73.79 283.48 
L 74.57 285.98 
z
" clip-path="url(#p9851077e19)" style="stroke: #000000; stroke-width: 0.62"/>
    <path d="M 101.13 285.98 
L 88.63 285.98 
L 87.06 280.98 
L 88.63 285.98 
z
" clip-path="url(#p9851077e19)" style="stroke: #000000; stroke-width: 0.62"/>
    <path d="M 117.32 284.36 
L 105.24 287.60 
L 102.44 283.17 
L 105.24 287.60 
z
" clip-path="url(#p9851077e19)" style="stroke: #000000; stroke-width: 0.62"/>
    <path d="M 133.72 284.36 
L 121.64 287.60 
L 118.84 283.17 
L 121.64 287.60 
L 123.15 287.19 
L 121.75 284.98 
L 123.15 287.19 
z
" clip-path="url(#p9851077e19)" style="stroke: #000000; stroke-width: 0.62"/>
    <path d="M 149.95 283.84 
L 138.21 288.12 
L 135.03 283.95 
L 138.21 288.12 
L 139.68 287.58 
L 138.09 285.50 
L 139.68 287.58 
z
" clip-path="url(#p9851077e19)" style="stroke: #000000; stroke-width: 0.62"/>
    <path d="M 166.15 283.34 
L 154.82 288.62 
L 151.29 284.75 
L 154.82 288.62 
L 156.23 287.96 
L 154.47 286.02 
L 156.23 287.96 
z
" clip-path="url(#p9851077e19)" style="stroke: #000000; stroke-width: 0.62"/>
    <path d="M 182.55 283.34 
L 171.22 288.62 
L 167.69 284.75 
L 171.22 288.62 
L 172.64 287.96 
L 170.87 286.02 
L 172.64 287.96 
z
" clip-path="url(#p9851077e19)" style="stroke: #000000; stroke-width: 0.62"/>
    <path d="M 198.95 283.34 
L 187.62 288.62 
L 184.09 284.75 
L 187.62 288.62 
L 189.04 287.96 
L 187.27 286.02 
L 189.04 287.96 
z
" clip-path="url(#p9851077e19)" style="stroke: #000000; stroke-width: 0.62"/>
    <path d="M 215.56 283.84 
L 203.81 288.12 
L 200.64 283.95 
L 203.81 288.12 
L 205.28 287.58 
L 203.69 285.50 
L 205.28 287.58 
z
" clip-path="url(#p9851077e19)" style="stroke: #000000; stroke-width: 0.62"/>
    <path d="M 232.13 284.36 
L 220.05 287.60 
L 217.25 283.17 
L 220.05 287.60 
z
" clip-path="url(#p9851077e19)" style="stroke: #000000; stroke-width: 0.62"/>
    <path d="M 248.72 285.43 
L 236.26 286.52 
L 234.27 281.68 
L 236.26 286.52 
z
" clip-path="url(#p9851077e19)" style="stroke: #000000; stroke-width: 0.62"/>
    <path d="M 265.12 286.52 
L 252.67 285.43 
L 251.55 280.32 
L 252.67 285.43 
z
" clip-path="url(#p9851077e19)" style="stroke: #000000; stroke-width: 0.62"/>
    <path d="M 281.17 288.12 
L 269.42 283.84 
L 269.66 278.61 
L 269.42 283.84 
z
" clip-path="url(#p9851077e19)" style="stroke: #000000; stroke-width: 0.62"/>
    <path d="M 297.92 285.43 
L 285.47 286.52 
L 287.80 286.32 
L 286.81 283.90 
L 287.80 286.32 
z
" clip-path="url(#p9851077e19)" style="stroke: #000000; stroke-width: 0.62"/>
    <path d="M 313.97 283.84 
L 302.22 288.12 
L 299.05 283.95 
L 302.22 288.12 
z
" clip-path="url(#p9851077e19)" style="stroke: #000000; stroke-width: 0.62"/>
    <path d="M 330.16 283.34 
L 318.83 288.62 
L 315.31 284.75 
L 318.83 288.62 
z
" clip-path="url(#p9851077e19)" style="stroke: #000000; stroke-width: 0.62"/>
    <path d="M 346.57 283.34 
L 335.24 288.62 
L 331.71 284.75 
L 335.24 288.62 
z
" clip-path="url(#p9851077e19)" style="stroke: #000000; stroke-width: 0.62"/>
    <path d="M 362.97 283.34 
L 351.64 288.62 
L 348.11 284.75 
L 351.64 288.62 
z
" clip-path="url(#p9851077e19)" style="stroke: #000000; stroke-width: 0.62"/>
    <path d="M 379.58 283.84 
L 367.83 288.12 
L 364.65 283.95 
L 367.83 288.12 
z
" clip-path="url(#p9851077e19)" style="stroke: #000000; stroke-width: 0.62"/>
    <path d="M 395.98 283.84 
L 384.23 288.12 
L 381.05 283.95 
L 384.23 288.12 
z
" clip-path="url(#p9851077e19)" style="stroke: #000000; stroke-width: 0.62"/>
    <path d="M 412.38 283.84 
L 400.63 288.12 
L 402.84 287.31 
L 401.25 285.23 
L 402.84 287.31 
z
" clip-path="url(#p9851077e19)" style="stroke: #000000; stroke-width: 0.62"/>
    <path d="M 429.06 284.89 
L 416.75 287.06 
L 419.06 286.66 
L 417.86 284.33 
L 419.06 286.66 
z
" clip-path="url(#p9851077e19)" style="stroke: #000000; stroke-width: 0.62"/>
    <path d="M 445.18 283.84 
L 433.44 288.12 
L 435.64 287.31 
L 434.05 285.23 
L 435.64 287.31 
z
" clip-path="url(#p9851077e19)" style="stroke: #000000; stroke-width: 0.62"/>
    <path d="M 455.71 284.10 
L 455.13 284.20 
L 454.61 284.46 
L 454.19 284.88 
L 453.93 285.40 
L 453.84 285.98 
L 453.93 286.56 
L 454.19 287.08 
L 454.61 287.50 
L 455.13 287.76 
L 455.71 287.85 
L 456.29 287.76 
L 456.81 287.50 
L 457.23 287.08 
L 457.50 286.56 
L 457.59 285.98 
L 457.50 285.40 
L 457.23 284.88 
L 456.81 284.46 
L 456.29 284.20 
L 455.71 284.10 
L 455.71 284.10 
L 456.29 284.20 
L 456.81 284.46 
L 457.23 284.88 
L 457.50 285.40 
L 457.59 285.98 
L 457.50 286.56 
L 457.23 287.08 
L 456.81 287.50 
L 456.29 287.76 
L 455.71 287.85 
L 455.13 287.76 
L 454.61 287.50 
L 454.19 287.08 
L 453.93 286.56 
L 453.84 285.98 
L 453.93 285.40 
L 454.19 284.88 
L 454.61 284.46 
L 455.13 284.20 
L 455.71 284.10 
z
" clip-path="url(#p9851077e19)" style="stroke: #000000; stroke-width: 0.62"/>
    <path d="M 466.70 282.85 
L 477.53 289.10 
L 475.50 287.93 
L 474.92 290.49 
L 475.50 287.93 
z
" clip-path="url(#p9851077e19)" style="stroke: #000000; stroke-width: 0.62"/>
    <path d="M 483.40 282.39 
L 493.63 289.56 
L 491.71 288.22 
L 490.92 290.72 
L 491.71 288.22 
z
" clip-path="url(#p9851077e19)" style="stroke: #000000; stroke-width: 0.62"/>
    <path d="M 500.90 281.19 
L 508.93 290.77 
L 507.43 288.97 
L 506.01 291.18 
L 507.43 288.97 
z
" clip-path="url(#p9851077e19)" style="stroke: #000000; stroke-width: 0.62"/>
    <path d="M 521.54 279.73 
L 521.10 292.22 
L 521.18 289.88 
L 518.66 290.58 
L 521.18 289.88 
z
" clip-path="url(#p9851077e19)" style="stroke: #000000; stroke-width: 0.62"/>
    <path d="M 543.13 282.85 
L 532.31 289.10 
L 534.34 287.93 
L 532.41 286.16 
L 534.34 287.93 
z
" clip-path="url(#p9851077e19)" style="stroke: #000000; stroke-width: 0.62"/>
    <path d="M 560.37 285.98 
L 547.87 285.98 
L 546.31 280.98 
L 547.87 285.98 
z
" clip-path="url(#p9851077e19)" style="stroke: #000000; stroke-width: 0.62"/>
    <path d="M 576.40 283.84 
L 564.65 288.12 
L 561.47 283.95 
L 564.65 288.12 
z
" clip-path="url(#p9851077e19)" style="stroke: #000000; stroke-width: 0.62"/>
    <path d="M 593.17 285.98 
L 580.67 285.98 
L 583.02 285.98 
L 582.24 283.48 
L 583.02 285.98 
z
" clip-path="url(#p9851077e19)" style="stroke: #000000; stroke-width: 0.62"/>
    <path d="M 609.58 285.98 
L 597.08 285.98 
L 599.42 285.98 
L 598.64 283.48 
L 599.42 285.98 
z
" clip-path="url(#p9851077e19)" style="stroke: #000000; stroke-width: 0.62"/>
    <path d="M 614.32 282.85 
L 625.14 289.10 
L 623.11 287.93 
L 622.54 290.49 
L 623.11 287.93 
z
" clip-path="url(#p9851077e19)" style="stroke: #000000; stroke-width: 0.62"/>
    <path d="M 642.38 285.98 
L 629.88 285.98 
L 632.22 285.98 
L 631.44 283.48 
L 632.22 285.98 
z
" clip-path="url(#p9851077e19)" style="stroke: #000000; stroke-width: 0.62"/>
    <path d="M 647.41 282.39 
L 657.65 289.56 
L 655.73 288.22 
L 654.94 290.72 
L 655.73 288.22 
z
" clip-path="url(#p9851077e19)" style="stroke: #000000; stroke-width: 0.62"/>
    <path d="M 664.92 281.19 
L 672.95 290.77 
L 671.44 288.97 
L 670.03 291.18 
L 671.44 288.97 
z
" clip-path="url(#p9851077e19)" style="stroke: #000000; stroke-width: 0.62"/>
    <path d="M 685.33 279.73 
L 685.33 292.23 
L 685.33 289.88 
L 682.83 290.67 
L 685.33 289.88 
z
" clip-path="url(#p9851077e19)" style="stroke: #000000; stroke-width: 0.62"/>
    <path d="M 704.86 280.57 
L 698.61 291.39 
L 699.78 289.36 
L 697.23 288.79 
L 699.78 289.36 
z
" clip-path="url(#p9851077e19)" style="stroke: #000000; stroke-width: 0.62"/>
    <path d="M 723.26 282.39 
L 713.02 289.56 
L 714.94 288.22 
L 712.86 286.62 
L 714.94 288.22 
z
" clip-path="url(#p9851077e19)" style="stroke: #000000; stroke-width: 0.62"/>
    <path d="M 734.54 284.10 
L 733.96 284.20 
L 733.44 284.46 
L 733.02 284.88 
L 732.76 285.40 
L 732.66 285.98 
L 732.76 286.56 
L 733.02 287.08 
L 733.44 287.50 
L 733.96 287.76 
L 734.54 287.85 
L 735.12 287.76 
L 735.64 287.50 
L 736.06 287.08 
L 736.32 286.56 
L 736.41 285.98 
L 736.32 285.40 
L 736.06 284.88 
L 735.64 284.46 
L 735.12 284.20 
L 734.54 284.10 
L 734.54 284.10 
L 735.12 284.20 
L 735.64 284.46 
L 736.06 284.88 
L 736.32 285.40 
L 736.41 285.98 
L 736.32 286.56 
L 736.06 287.08 
L 735.64 287.50 
L 735.12 287.76 
L 734.54 287.85 
L 733.96 287.76 
L 733.44 287.50 
L 733.02 287.08 
L 732.76 286.56 
L 732.66 285.98 
L 732.76 285.40 
L 733.02 284.88 
L 733.44 284.46 
L 733.96 284.20 
L 734.54 284.10 
z
" clip-path="url(#p9851077e19)" style="stroke: #000000; stroke-width: 0.62"/>
    <path d="M 84.73 298.24 
L 72.23 298.24 
L 74.57 298.24 
L 73.79 295.74 
L 74.57 298.24 
z
" clip-path="url(#p9851077e19)" style="stroke: #000000; stroke-width: 0.62"/>
    <path d="M 100.75 296.11 
L 89.00 300.38 
L 85.83 296.22 
L 89.00 300.38 
z
" clip-path="url(#p9851077e19)" style="stroke: #000000; stroke-width: 0.62"/>
    <path d="M 117.15 296.11 
L 105.41 300.38 
L 102.23 296.22 
L 105.41 300.38 
z
" clip-path="url(#p9851077e19)" style="stroke: #000000; stroke-width: 0.62"/>
    <path d="M 133.55 296.11 
L 121.81 300.38 
L 118.63 296.22 
L 121.81 300.38 
z
" clip-path="url(#p9851077e19)" style="stroke: #000000; stroke-width: 0.62"/>
    <path d="M 149.95 296.11 
L 138.21 300.38 
L 135.03 296.22 
L 138.21 300.38 
z
" clip-path="url(#p9851077e19)" style="stroke: #000000; stroke-width: 0.62"/>
    <path d="M 166.36 296.11 
L 154.61 300.38 
L 151.43 296.22 
L 154.61 300.38 
z
" clip-path="url(#p9851077e19)" style="stroke: #000000; stroke-width: 0.62"/>
    <path d="M 182.76 296.11 
L 171.01 300.38 
L 167.83 296.22 
L 171.01 300.38 
z
" clip-path="url(#p9851077e19)" style="stroke: #000000; stroke-width: 0.62"/>
    <path d="M 199.16 296.11 
L 187.41 300.38 
L 184.23 296.22 
L 187.41 300.38 
z
" clip-path="url(#p9851077e19)" style="stroke: #000000; stroke-width: 0.62"/>
    <path d="M 215.56 296.11 
L 203.81 300.38 
L 200.64 296.22 
L 203.81 300.38 
z
" clip-path="url(#p9851077e19)" style="stroke: #000000; stroke-width: 0.62"/>
    <path d="M 231.96 296.11 
L 220.22 300.38 
L 217.04 296.22 
L 220.22 300.38 
z
" clip-path="url(#p9851077e19)" style="stroke: #000000; stroke-width: 0.62"/>
    <path d="M 248.36 296.11 
L 236.62 300.38 
L 233.44 296.22 
L 236.62 300.38 
z
" clip-path="url(#p9851077e19)" style="stroke: #000000; stroke-width: 0.62"/>
    <path d="M 264.77 296.11 
L 253.02 300.38 
L 249.84 296.22 
L 253.02 300.38 
z
" clip-path="url(#p9851077e19)" style="stroke: #000000; stroke-width: 0.62"/>
    <path d="M 281.54 298.24 
L 269.04 298.24 
L 271.39 298.24 
L 270.61 295.74 
L 271.39 298.24 
z
" clip-path="url(#p9851077e19)" style="stroke: #000000; stroke-width: 0.62"/>
    <path d="M 297.57 296.11 
L 285.82 300.38 
L 288.03 299.58 
L 286.44 297.50 
L 288.03 299.58 
z
" clip-path="url(#p9851077e19)" style="stroke: #000000; stroke-width: 0.62"/>
    <path d="M 313.51 295.12 
L 302.68 301.37 
L 304.71 300.20 
L 302.79 298.42 
L 304.71 300.20 
z
" clip-path="url(#p9851077e19)" style="stroke: #000000; stroke-width: 0.62"/>
    <path d="M 329.91 295.12 
L 319.09 301.37 
L 321.12 300.20 
L 319.19 298.42 
L 321.12 300.20 
z
" clip-path="url(#p9851077e19)" style="stroke: #000000; stroke-width: 0.62"/>
    <path d="M 346.31 295.12 
L 335.49 301.37 
L 337.52 300.20 
L 335.59 298.42 
L 337.52 300.20 
z
" clip-path="url(#p9851077e19)" style="stroke: #000000; stroke-width: 0.62"/>
    <path d="M 362.71 295.12 
L 351.89 301.37 
L 353.92 300.20 
L 351.99 298.42 
L 353.92 300.20 
z
" clip-path="url(#p9851077e19)" style="stroke: #000000; stroke-width: 0.62"/>
    <path d="M 379.12 295.12 
L 368.29 301.37 
L 370.32 300.20 
L 368.39 298.42 
L 370.32 300.20 
z
" clip-path="url(#p9851077e19)" style="stroke: #000000; stroke-width: 0.62"/>
    <path d="M 395.52 295.12 
L 384.69 301.37 
L 386.72 300.20 
L 384.80 298.42 
L 386.72 300.20 
z
" clip-path="url(#p9851077e19)" style="stroke: #000000; stroke-width: 0.62"/>
    <path d="M 411.92 295.12 
L 401.09 301.37 
L 403.12 300.20 
L 401.20 298.42 
L 403.12 300.20 
z
" clip-path="url(#p9851077e19)" style="stroke: #000000; stroke-width: 0.62"/>
    <path d="M 428.32 295.12 
L 417.50 301.37 
L 419.53 300.20 
L 417.60 298.42 
L 419.53 300.20 
z
" clip-path="url(#p9851077e19)" style="stroke: #000000; stroke-width: 0.62"/>
    <path d="M 443.73 293.82 
L 434.89 302.66 
L 436.55 301.01 
L 434.23 299.79 
L 436.55 301.01 
z
" clip-path="url(#p9851077e19)" style="stroke: #000000; stroke-width: 0.62"/>
    <path d="M 455.71 296.37 
L 455.13 296.46 
L 454.61 296.73 
L 454.19 297.14 
L 453.93 297.66 
L 453.84 298.24 
L 453.93 298.82 
L 454.19 299.35 
L 454.61 299.76 
L 455.13 300.03 
L 455.71 300.12 
L 456.29 300.03 
L 456.81 299.76 
L 457.23 299.35 
L 457.50 298.82 
L 457.59 298.24 
L 457.50 297.66 
L 457.23 297.14 
L 456.81 296.73 
L 456.29 296.46 
L 455.71 296.37 
L 455.71 296.37 
L 456.29 296.46 
L 456.81 296.73 
L 457.23 297.14 
L 457.50 297.66 
L 457.59 298.24 
L 457.50 298.82 
L 457.23 299.35 
L 456.81 299.76 
L 456.29 300.03 
L 455.71 300.12 
L 455.13 300.03 
L 454.61 299.76 
L 454.19 299.35 
L 453.93 298.82 
L 453.84 298.24 
L 453.93 297.66 
L 454.19 297.14 
L 454.61 296.73 
L 455.13 296.46 
L 455.71 296.37 
z
" clip-path="url(#p9851077e19)" style="stroke: #000000; stroke-width: 0.62"/>
    <path d="M 472.11 296.37 
L 471.53 296.46 
L 471.01 296.73 
L 470.60 297.14 
L 470.33 297.66 
L 470.24 298.24 
L 470.33 298.82 
L 470.60 299.35 
L 471.01 299.76 
L 471.53 300.03 
L 472.11 300.12 
L 472.69 300.03 
L 473.22 299.76 
L 473.63 299.35 
L 473.90 298.82 
L 473.99 298.24 
L 473.90 297.66 
L 473.63 297.14 
L 473.22 296.73 
L 472.69 296.46 
L 472.11 296.37 
L 472.11 296.37 
L 472.69 296.46 
L 473.22 296.73 
L 473.63 297.14 
L 473.90 297.66 
L 473.99 298.24 
L 473.90 298.82 
L 473.63 299.35 
L 473.22 299.76 
L 472.69 300.03 
L 472.11 300.12 
L 471.53 300.03 
L 471.01 299.76 
L 470.60 299.35 
L 470.33 298.82 
L 470.24 298.24 
L 470.33 297.66 
L 470.60 297.14 
L 471.01 296.73 
L 471.53 296.46 
L 472.11 296.37 
z
" clip-path="url(#p9851077e19)" style="stroke: #000000; stroke-width: 0.62"/>
    <path d="M 488.52 296.37 
L 487.94 296.46 
L 487.41 296.73 
L 487.00 297.14 
L 486.73 297.66 
L 486.64 298.24 
L 486.73 298.82 
L 487.00 299.35 
L 487.41 299.76 
L 487.94 300.03 
L 488.52 300.12 
L 489.09 300.03 
L 489.62 299.76 
L 490.03 299.35 
L 490.30 298.82 
L 490.39 298.24 
L 490.30 297.66 
L 490.03 297.14 
L 489.62 296.73 
L 489.09 296.46 
L 488.52 296.37 
L 488.52 296.37 
L 489.09 296.46 
L 489.62 296.73 
L 490.03 297.14 
L 490.30 297.66 
L 490.39 298.24 
L 490.30 298.82 
L 490.03 299.35 
L 489.62 299.76 
L 489.09 300.03 
L 488.52 300.12 
L 487.94 300.03 
L 487.41 299.76 
L 487.00 299.35 
L 486.73 298.82 
L 486.64 298.24 
L 486.73 297.66 
L 487.00 297.14 
L 487.41 296.73 
L 487.94 296.46 
L 488.52 296.37 
z
" clip-path="url(#p9851077e19)" style="stroke: #000000; stroke-width: 0.62"/>
    <path d="M 504.92 296.37 
L 504.34 296.46 
L 503.81 296.73 
L 503.40 297.14 
L 503.13 297.66 
L 503.04 298.24 
L 503.13 298.82 
L 503.40 299.35 
L 503.81 299.76 
L 504.34 300.03 
L 504.92 300.12 
L 505.50 300.03 
L 506.02 299.76 
L 506.43 299.35 
L 506.70 298.82 
L 506.79 298.24 
L 506.70 297.66 
L 506.43 297.14 
L 506.02 296.73 
L 505.50 296.46 
L 504.92 296.37 
L 504.92 296.37 
L 505.50 296.46 
L 506.02 296.73 
L 506.43 297.14 
L 506.70 297.66 
L 506.79 298.24 
L 506.70 298.82 
L 506.43 299.35 
L 506.02 299.76 
L 505.50 300.03 
L 504.92 300.12 
L 504.34 300.03 
L 503.81 299.76 
L 503.40 299.35 
L 503.13 298.82 
L 503.04 298.24 
L 503.13 297.66 
L 503.40 297.14 
L 503.81 296.73 
L 504.34 296.46 
L 504.92 296.37 
z
" clip-path="url(#p9851077e19)" style="stroke: #000000; stroke-width: 0.62"/>
    <path d="M 521.32 296.37 
L 520.74 296.46 
L 520.22 296.73 
L 519.80 297.14 
L 519.53 297.66 
L 519.44 298.24 
L 519.53 298.82 
L 519.80 299.35 
L 520.22 299.76 
L 520.74 300.03 
L 521.32 300.12 
L 521.90 300.03 
L 522.42 299.76 
L 522.84 299.35 
L 523.10 298.82 
L 523.19 298.24 
L 523.10 297.66 
L 522.84 297.14 
L 522.42 296.73 
L 521.90 296.46 
L 521.32 296.37 
L 521.32 296.37 
L 521.90 296.46 
L 522.42 296.73 
L 522.84 297.14 
L 523.10 297.66 
L 523.19 298.24 
L 523.10 298.82 
L 522.84 299.35 
L 522.42 299.76 
L 521.90 300.03 
L 521.32 300.12 
L 520.74 300.03 
L 520.22 299.76 
L 519.80 299.35 
L 519.53 298.82 
L 519.44 298.24 
L 519.53 297.66 
L 519.80 297.14 
L 520.22 296.73 
L 520.74 296.46 
L 521.32 296.37 
z
" clip-path="url(#p9851077e19)" style="stroke: #000000; stroke-width: 0.62"/>
    <path d="M 537.72 296.37 
L 537.14 296.46 
L 536.62 296.73 
L 536.20 297.14 
L 535.94 297.66 
L 535.84 298.24 
L 535.94 298.82 
L 536.20 299.35 
L 536.62 299.76 
L 537.14 300.03 
L 537.72 300.12 
L 538.30 300.03 
L 538.82 299.76 
L 539.24 299.35 
L 539.50 298.82 
L 539.59 298.24 
L 539.50 297.66 
L 539.24 297.14 
L 538.82 296.73 
L 538.30 296.46 
L 537.72 296.37 
L 537.72 296.37 
L 538.30 296.46 
L 538.82 296.73 
L 539.24 297.14 
L 539.50 297.66 
L 539.59 298.24 
L 539.50 298.82 
L 539.24 299.35 
L 538.82 299.76 
L 538.30 300.03 
L 537.72 300.12 
L 537.14 300.03 
L 536.62 299.76 
L 536.20 299.35 
L 535.94 298.82 
L 535.84 298.24 
L 535.94 297.66 
L 536.20 297.14 
L 536.62 296.73 
L 537.14 296.46 
L 537.72 296.37 
z
" clip-path="url(#p9851077e19)" style="stroke: #000000; stroke-width: 0.62"/>
    <path d="M 560.37 298.24 
L 547.87 298.24 
L 550.22 298.24 
L 549.43 295.74 
L 550.22 298.24 
z
" clip-path="url(#p9851077e19)" style="stroke: #000000; stroke-width: 0.62"/>
    <path d="M 570.52 296.37 
L 569.94 296.46 
L 569.42 296.73 
L 569.01 297.14 
L 568.74 297.66 
L 568.65 298.24 
L 568.74 298.82 
L 569.01 299.35 
L 569.42 299.76 
L 569.94 300.03 
L 570.52 300.12 
L 571.10 300.03 
L 571.63 299.76 
L 572.04 299.35 
L 572.31 298.82 
L 572.40 298.24 
L 572.31 297.66 
L 572.04 297.14 
L 571.63 296.73 
L 571.10 296.46 
L 570.52 296.37 
L 570.52 296.37 
L 571.10 296.46 
L 571.63 296.73 
L 572.04 297.14 
L 572.31 297.66 
L 572.40 298.24 
L 572.31 298.82 
L 572.04 299.35 
L 571.63 299.76 
L 571.10 300.03 
L 570.52 300.12 
L 569.94 300.03 
L 569.42 299.76 
L 569.01 299.35 
L 568.74 298.82 
L 568.65 298.24 
L 568.74 297.66 
L 569.01 297.14 
L 569.42 296.73 
L 569.94 296.46 
L 570.52 296.37 
z
" clip-path="url(#p9851077e19)" style="stroke: #000000; stroke-width: 0.62"/>
    <path d="M 586.92 296.37 
L 586.35 296.46 
L 585.82 296.73 
L 585.41 297.14 
L 585.14 297.66 
L 585.05 298.24 
L 585.14 298.82 
L 585.41 299.35 
L 585.82 299.76 
L 586.35 300.03 
L 586.92 300.12 
L 587.50 300.03 
L 588.03 299.76 
L 588.44 299.35 
L 588.71 298.82 
L 588.80 298.24 
L 588.71 297.66 
L 588.44 297.14 
L 588.03 296.73 
L 587.50 296.46 
L 586.92 296.37 
L 586.92 296.37 
L 587.50 296.46 
L 588.03 296.73 
L 588.44 297.14 
L 588.71 297.66 
L 588.80 298.24 
L 588.71 298.82 
L 588.44 299.35 
L 588.03 299.76 
L 587.50 300.03 
L 586.92 300.12 
L 586.35 300.03 
L 585.82 299.76 
L 585.41 299.35 
L 585.14 298.82 
L 585.05 298.24 
L 585.14 297.66 
L 585.41 297.14 
L 585.82 296.73 
L 586.35 296.46 
L 586.92 296.37 
z
" clip-path="url(#p9851077e19)" style="stroke: #000000; stroke-width: 0.62"/>
    <path d="M 609.55 298.79 
L 597.10 297.70 
L 599.43 297.90 
L 598.87 295.34 
L 599.43 297.90 
z
" clip-path="url(#p9851077e19)" style="stroke: #000000; stroke-width: 0.62"/>
    <path d="M 619.73 296.37 
L 619.15 296.46 
L 618.63 296.73 
L 618.21 297.14 
L 617.94 297.66 
L 617.85 298.24 
L 617.94 298.82 
L 618.21 299.35 
L 618.63 299.76 
L 619.15 300.03 
L 619.73 300.12 
L 620.31 300.03 
L 620.83 299.76 
L 621.24 299.35 
L 621.51 298.82 
L 621.60 298.24 
L 621.51 297.66 
L 621.24 297.14 
L 620.83 296.73 
L 620.31 296.46 
L 619.73 296.37 
L 619.73 296.37 
L 620.31 296.46 
L 620.83 296.73 
L 621.24 297.14 
L 621.51 297.66 
L 621.60 298.24 
L 621.51 298.82 
L 621.24 299.35 
L 620.83 299.76 
L 620.31 300.03 
L 619.73 300.12 
L 619.15 300.03 
L 618.63 299.76 
L 618.21 299.35 
L 617.94 298.82 
L 617.85 298.24 
L 617.94 297.66 
L 618.21 297.14 
L 618.63 296.73 
L 619.15 296.46 
L 619.73 296.37 
z
" clip-path="url(#p9851077e19)" style="stroke: #000000; stroke-width: 0.62"/>
    <path d="M 636.13 296.37 
L 635.55 296.46 
L 635.03 296.73 
L 634.61 297.14 
L 634.35 297.66 
L 634.25 298.24 
L 634.35 298.82 
L 634.61 299.35 
L 635.03 299.76 
L 635.55 300.03 
L 636.13 300.12 
L 636.71 300.03 
L 637.23 299.76 
L 637.65 299.35 
L 637.91 298.82 
L 638.00 298.24 
L 637.91 297.66 
L 637.65 297.14 
L 637.23 296.73 
L 636.71 296.46 
L 636.13 296.37 
L 636.13 296.37 
L 636.71 296.46 
L 637.23 296.73 
L 637.65 297.14 
L 637.91 297.66 
L 638.00 298.24 
L 637.91 298.82 
L 637.65 299.35 
L 637.23 299.76 
L 636.71 300.03 
L 636.13 300.12 
L 635.55 300.03 
L 635.03 299.76 
L 634.61 299.35 
L 634.35 298.82 
L 634.25 298.24 
L 634.35 297.66 
L 634.61 297.14 
L 635.03 296.73 
L 635.55 296.46 
L 636.13 296.37 
z
" clip-path="url(#p9851077e19)" style="stroke: #000000; stroke-width: 0.62"/>
    <path d="M 652.53 296.37 
L 651.95 296.46 
L 651.43 296.73 
L 651.01 297.14 
L 650.75 297.66 
L 650.66 298.24 
L 650.75 298.82 
L 651.01 299.35 
L 651.43 299.76 
L 651.95 300.03 
L 652.53 300.12 
L 653.11 300.03 
L 653.63 299.76 
L 654.05 299.35 
L 654.31 298.82 
L 654.41 298.24 
L 654.31 297.66 
L 654.05 297.14 
L 653.63 296.73 
L 653.11 296.46 
L 652.53 296.37 
L 652.53 296.37 
L 653.11 296.46 
L 653.63 296.73 
L 654.05 297.14 
L 654.31 297.66 
L 654.41 298.24 
L 654.31 298.82 
L 654.05 299.35 
L 653.63 299.76 
L 653.11 300.03 
L 652.53 300.12 
L 651.95 300.03 
L 651.43 299.76 
L 651.01 299.35 
L 650.75 298.82 
L 650.66 298.24 
L 650.75 297.66 
L 651.01 297.14 
L 651.43 296.73 
L 651.95 296.46 
L 652.53 296.37 
z
" clip-path="url(#p9851077e19)" style="stroke: #000000; stroke-width: 0.62"/>
    <path d="M 668.93 296.37 
L 668.35 296.46 
L 667.83 296.73 
L 667.42 297.14 
L 667.15 297.66 
L 667.06 298.24 
L 667.15 298.82 
L 667.42 299.35 
L 667.83 299.76 
L 668.35 300.03 
L 668.93 300.12 
L 669.51 300.03 
L 670.03 299.76 
L 670.45 299.35 
L 670.72 298.82 
L 670.81 298.24 
L 670.72 297.66 
L 670.45 297.14 
L 670.03 296.73 
L 669.51 296.46 
L 668.93 296.37 
L 668.93 296.37 
L 669.51 296.46 
L 670.03 296.73 
L 670.45 297.14 
L 670.72 297.66 
L 670.81 298.24 
L 670.72 298.82 
L 670.45 299.35 
L 670.03 299.76 
L 669.51 300.03 
L 668.93 300.12 
L 668.35 300.03 
L 667.83 299.76 
L 667.42 299.35 
L 667.15 298.82 
L 667.06 298.24 
L 667.15 297.66 
L 667.42 297.14 
L 667.83 296.73 
L 668.35 296.46 
L 668.93 296.37 
z
" clip-path="url(#p9851077e19)" style="stroke: #000000; stroke-width: 0.62"/>
    <path d="M 685.33 296.37 
L 684.75 296.46 
L 684.23 296.73 
L 683.82 297.14 
L 683.55 297.66 
L 683.46 298.24 
L 683.55 298.82 
L 683.82 299.35 
L 684.23 299.76 
L 684.75 300.03 
L 685.33 300.12 
L 685.91 300.03 
L 686.44 299.76 
L 686.85 299.35 
L 687.12 298.82 
L 687.21 298.24 
L 687.12 297.66 
L 686.85 297.14 
L 686.44 296.73 
L 685.91 296.46 
L 685.33 296.37 
L 685.33 296.37 
L 685.91 296.46 
L 686.44 296.73 
L 686.85 297.14 
L 687.12 297.66 
L 687.21 298.24 
L 687.12 298.82 
L 686.85 299.35 
L 686.44 299.76 
L 685.91 300.03 
L 685.33 300.12 
L 684.75 300.03 
L 684.23 299.76 
L 683.82 299.35 
L 683.55 298.82 
L 683.46 298.24 
L 683.55 297.66 
L 683.82 297.14 
L 684.23 296.73 
L 684.75 296.46 
L 685.33 296.37 
z
" clip-path="url(#p9851077e19)" style="stroke: #000000; stroke-width: 0.62"/>
    <path d="M 701.74 296.37 
L 701.16 296.46 
L 700.63 296.73 
L 700.22 297.14 
L 699.95 297.66 
L 699.86 298.24 
L 699.95 298.82 
L 700.22 299.35 
L 700.63 299.76 
L 701.16 300.03 
L 701.74 300.12 
L 702.32 300.03 
L 702.84 299.76 
L 703.25 299.35 
L 703.52 298.82 
L 703.61 298.24 
L 703.52 297.66 
L 703.25 297.14 
L 702.84 296.73 
L 702.32 296.46 
L 701.74 296.37 
L 701.74 296.37 
L 702.32 296.46 
L 702.84 296.73 
L 703.25 297.14 
L 703.52 297.66 
L 703.61 298.24 
L 703.52 298.82 
L 703.25 299.35 
L 702.84 299.76 
L 702.32 300.03 
L 701.74 300.12 
L 701.16 300.03 
L 700.63 299.76 
L 700.22 299.35 
L 699.95 298.82 
L 699.86 298.24 
L 699.95 297.66 
L 700.22 297.14 
L 700.63 296.73 
L 701.16 296.46 
L 701.74 296.37 
z
" clip-path="url(#p9851077e19)" style="stroke: #000000; stroke-width: 0.62"/>
    <path d="M 718.14 296.37 
L 717.56 296.46 
L 717.04 296.73 
L 716.62 297.14 
L 716.35 297.66 
L 716.26 298.24 
L 716.35 298.82 
L 716.62 299.35 
L 717.04 299.76 
L 717.56 300.03 
L 718.14 300.12 
L 718.72 300.03 
L 719.24 299.76 
L 719.65 299.35 
L 719.92 298.82 
L 720.01 298.24 
L 719.92 297.66 
L 719.65 297.14 
L 719.24 296.73 
L 718.72 296.46 
L 718.14 296.37 
L 718.14 296.37 
L 718.72 296.46 
L 719.24 296.73 
L 719.65 297.14 
L 719.92 297.66 
L 720.01 298.24 
L 719.92 298.82 
L 719.65 299.35 
L 719.24 299.76 
L 718.72 300.03 
L 718.14 300.12 
L 717.56 300.03 
L 717.04 299.76 
L 716.62 299.35 
L 716.35 298.82 
L 716.26 298.24 
L 716.35 297.66 
L 716.62 297.14 
L 717.04 296.73 
L 717.56 296.46 
L 718.14 296.37 
z
" clip-path="url(#p9851077e19)" style="stroke: #000000; stroke-width: 0.62"/>
    <path d="M 734.54 296.37 
L 733.96 296.46 
L 733.44 296.73 
L 733.02 297.14 
L 732.76 297.66 
L 732.66 298.24 
L 732.76 298.82 
L 733.02 299.35 
L 733.44 299.76 
L 733.96 300.03 
L 734.54 300.12 
L 735.12 300.03 
L 735.64 299.76 
L 736.06 299.35 
L 736.32 298.82 
L 736.41 298.24 
L 736.32 297.66 
L 736.06 297.14 
L 735.64 296.73 
L 735.12 296.46 
L 734.54 296.37 
L 734.54 296.37 
L 735.12 296.46 
L 735.64 296.73 
L 736.06 297.14 
L 736.32 297.66 
L 736.41 298.24 
L 736.32 298.82 
L 736.06 299.35 
L 735.64 299.76 
L 735.12 300.03 
L 734.54 300.12 
L 733.96 300.03 
L 733.44 299.76 
L 733.02 299.35 
L 732.76 298.82 
L 732.66 298.24 
L 732.76 297.66 
L 733.02 297.14 
L 733.44 296.73 
L 733.96 296.46 
L 734.54 296.37 
z
" clip-path="url(#p9851077e19)" style="stroke: #000000; stroke-width: 0.62"/>
   </g>
   <g id="matplotlib.axis_1">
    <g id="xtick_1">
     <g>
      <defs>
       <path id="m1504cfccaf" d="M 0 0 
L 0 3.5 
" style="stroke: #000000; stroke-width: 0.8"/>
      </defs>
      <g>
       <use href="#m1504cfccaf" x="144.36" y="301.32" style="stroke: #000000; stroke-width: 0.8"/>
      </g>
     </g>
    </g>
    <g id="xtick_2">
     <g>
      <g>
       <use href="#m1504cfccaf" x="275.40" y="301.32" style="stroke: #000000; stroke-width: 0.8"/>
      </g>
     </g>
    </g>
    <g id="xtick_3">
     <g>
      <g>
       <use href="#m1504cfccaf" x="406.44" y="301.32" style="stroke: #000000; stroke-width: 0.8"/>
      </g>
     </g>
    </g>
    <g id="xtick_4">
     <g>
      <g>
       <use href="#m1504cfccaf" x="537.48" y="301.32" style="stroke: #000000; stroke-width: 0.8"/>
      </g>
     </g>
    </g>
    <g id="xtick_5">
     <g>
      <g>
       <use href="#m1504cfccaf" x="669.24" y="301.32" style="stroke: #000000; stroke-width: 0.8"/>
      </g>
     </g>
    </g>
    <g id="xtick_6">
     <g>
      <defs>
       <path id="m05db3bdf9b" d="M 0 0 
L 0 2 
" style="stroke: #000000; stroke-width: 0.6"/>
      </defs>
      <g>
       <use href="#m05db3bdf9b" x="78.84" y="301.32" style="stroke: #000000; stroke-width: 0.6"/>
      </g>
     </g>
    </g>
    <g id="xtick_7">
     <g>
      <g>
       <use href="#m05db3bdf9b" x="209.88" y="301.32" style="stroke: #000000; stroke-width: 0.6"/>
      </g>
     </g>
    </g>
    <g id="xtick_8">
     <g>
      <g>
       <use href="#m05db3bdf9b" x="340.92" y="301.32" style="stroke: #000000; stroke-width: 0.6"/>
      </g>
     </g>
    </g>
    <g id="xtick_9">
     <g>
      <g>
       <use href="#m05db3bdf9b" x="471.96" y="301.32" style="stroke: #000000; stroke-width: 0.6"/>
      </g>
     </g>
    </g>
    <g id="xtick_10">
     <g>
      <g>
       <use href="#m05db3bdf9b" x="603.00" y="301.32" style="stroke: #000000; stroke-width: 0.6"/>
      </g>
     </g>
    </g>
    <g id="xtick_11">
     <g>
      <g>
       <use href="#m05db3bdf9b" x="734.76" y="301.32" style="stroke: #000000; stroke-width: 0.6"/>
      </g>
     </g>
    </g>
   </g>
   <g id="matplotlib.axis_2">
    <g id="ytick_1">
     <g>
      <path d="M 62.28 40.68 L 751.32 40.68" clip-path="url(#p9851077e19)" style="fill: none; stroke: #b0b0b0; stroke-width: 0.8; stroke-linecap: square"/>
     </g>
     <g>
      <defs>
       <path id="m5d545ce8f8" d="M 0 0 
L -3.5 0 
" style="stroke: #000000; stroke-width: 0.8"/>
      </defs>
      <g>
       <use href="#m5d545ce8f8" x="62.28" y="40.68" style="stroke: #000000; stroke-width: 0.8"/>
      </g>
     </g>
     <g id="text_1">
      <text style="font-size: 10px; font-family: 'DejaVu Sans', sans-serif; text-anchor: end" x="55.28" y="44.47" transform="rotate(-0 55.28 44.47)">400</text>
     </g>
    </g>
    <g id="ytick_2">
     <g>
      <path d="M 62.28 89.64 L 751.32 89.64" clip-path="url(#p9851077e19)" style="fill: none; stroke: #b0b0b0; stroke-width: 0.8; stroke-linecap: square"/>
     </g>
     <g>
      <g>
       <use href="#m5d545ce8f8" x="62.28" y="89.64" style="stroke: #000000; stroke-width: 0.8"/>
      </g>
     </g>
     <g id="text_2">
      <text style="font-size: 10px; font-family: 'DejaVu Sans', sans-serif; text-anchor: end" x="55.28" y="93.53" transform="rotate(-0 55.28 93.53)">500</text>
     </g>
    </g>
    <g id="ytick_3">
     <g>
      <path d="M 62.28 138.60 L 751.32 138.60" clip-path="url(#p9851077e19)" style="fill: none; stroke: #b0b0b0; stroke-width: 0.8; stroke-linecap: square"/>
     </g>
     <g>
      <g>
       <use href="#m5d545ce8f8" x="62.28" y="138.60" style="stroke: #000000; stroke-width: 0.8"/>
      </g>
     </g>
     <g id="text_3">
      <text style="font-size: 10px; font-family: 'DejaVu Sans', sans-serif; text-anchor: end" x="55.28" y="142.60" transform="rotate(-0 55.28 142.60)">600</text>
     </g>
    </g>
    <g id="ytick_4">
     <g>
      <path d="M 62.28 187.56 L 751.32 187.56" clip-path="url(#p9851077e19)" style="fill: none; stroke: #b0b0b0; stroke-width: 0.8; stroke-linecap: square"/>
     </g>
     <g>
      <g>
       <use href="#m5d545ce8f8" x="62.28" y="187.56" style="stroke: #000000; stroke-width: 0.8"/>
      </g>
     </g>
     <g id="text_4">
      <text style="font-size: 10px; font-family: 'DejaVu Sans', sans-serif; text-anchor: end" x="55.28" y="191.66" transform="rotate(-0 55.28 191.66)">700</text>
     </g>
    </g>
    <g id="ytick_5">
     <g>
      <path d="M 62.28 237.24 L 751.32 237.24" clip-path="url(#p9851077e19)" style="fill: none; stroke: #b0b0b0; stroke-width: 0.8; stroke-linecap: square"/>
     </g>
     <g>
      <g>
       <use href="#m5d545ce8f8" x="62.28" y="237.24" style="stroke: #000000; stroke-width: 0.8"/>
      </g>
     </g>
     <g id="text_5">
      <text style="font-size: 10px; font-family: 'DejaVu Sans', sans-serif; text-anchor: end" x="55.28" y="240.72" transform="rotate(-0 55.28 240.72)">800</text>
     </g>
    </g>
    <g id="ytick_6">
     <g>
      <path d="M 62.28 286.20 L 751.32 286.20" clip-path="url(#p9851077e19)" style="fill: none; stroke: #b0b0b0; stroke-width: 0.8; stroke-linecap: square"/>
     </g>
     <g>
      <g>
       <use href="#m5d545ce8f8" x="62.28" y="286.20" style="stroke: #000000; stroke-width: 0.8"/>
      </g>
     </g>
     <g id="text_6">
      <text style="font-size: 10px; font-family: 'DejaVu Sans', sans-serif; text-anchor: end" x="55.28" y="289.78" transform="rotate(-0 55.28 289.78)">900</text>
     </g>
    </g>
    <g id="text_7">
     <g transform="translate(16.67 246.5) rotate(-90)">
      <text><tspan x="0.00" y="-0.40" style="font-size: 10px; font-family: 'DejaVu Sans', sans-serif">temperature [</tspan><tspan x="71.61" y="-4.23" style="font-size: 7px; font-family: 'DejaVu Sans', sans-serif">∘</tspan><tspan x="77.63" y="-0.40" style="font-size: 10px; font-family: 'DejaVu Sans', sans-serif">C], upper wind</tspan></text>
     </g>
     <text style="font-size: 10px; font-family: 'DejaVu Sans', sans-serif" transform="translate(29.11 207.10) rotate(-90)">pressure [hPa]</text>
    </g>
   </g>
   <g>
    <path d="M 144.36 301.32 L 144.36 40.68" clip-path="url(#p9851077e19)" style="fill: none; stroke-dasharray: 1.85,0.8; stroke-dashoffset: 0; stroke: #000000; stroke-width: 0.5"/>
   </g>
   <g>
    <path d="M 275.40 301.32 L 275.40 40.68" clip-path="url(#p9851077e19)" style="fill: none; stroke-dasharray: 1.85,0.8; stroke-dashoffset: 0; stroke: #000000; stroke-width: 0.5"/>
   </g>
   <g>
    <path d="M 406.44 301.32 L 406.44 40.68" clip-path="url(#p9851077e19)" style="fill: none; stroke-dasharray: 1.85,0.8; stroke-dashoffset: 0; stroke: #000000; stroke-width: 0.5"/>
   </g>
   <g>
    <path d="M 537.48 301.32 L 537.48 40.68" clip-path="url(#p9851077e19)" style="fill: none; stroke-dasharray: 1.85,0.8; stroke-dashoffset: 0; stroke: #000000; stroke-width: 0.5"/>
   </g>
   <g>
    <path d="M 669.24 301.32 L 669.24 40.68" clip-path="url(#p9851077e19)" style="fill: none; stroke-dasharray: 1.85,0.8; stroke-dashoffset: 0; stroke: #000000; stroke-width: 0.5"/>
   </g>
   <g>
    <path d="M 62.28 301.32 L 62.28 40.68" style="fill: none; stroke: #000000; stroke-width: 0.8; stroke-linejoin: miter; stroke-linecap: square"/>
   </g>
   <g>
    <path d="M 751.32 301.32 L 751.32 40.68" style="fill: none; stroke: #000000; stroke-width: 0.8; stroke-linejoin: miter; stroke-linecap: square"/>
   </g>
   <g>
    <path d="M 62.28 301.32 L 751.32 301.32" style="fill: none; stroke: #000000; stroke-width: 0.8; stroke-linejoin: miter; stroke-linecap: square"/>
   </g>
   <g>
    <path d="M 62.28 40.68 L 751.32 40.68" style="fill: none; stroke: #000000; stroke-width: 0.8; stroke-linejoin: miter; stroke-linecap: square"/>
   </g>
   <g id="line2d_1">
    <path d="M 78.48 67.12 
L 94.88 67.12 
L 111.28 61.28 
L 127.68 49.60 
L 144.08 48.33 
L 160.48 52.30 
L 176.88 47.45 
L 181.81 46.81 
" clip-path="url(#p9851077e19)" style="fill: none; stroke: #8f0da4; stroke-width: 1.5; stroke-linejoin: miter"/>
   </g>
   <g id="line2d_2">
    <path d="M 204.77 50.00 
L 209.69 51.42 
L 226.09 61.87 
L 242.49 72.71 
L 258.89 65.84 
L 275.29 51.42 
L 291.70 42.39 
L 299.57 40.68 
" clip-path="url(#p9851077e19)" style="fill: none; stroke: #8f0da4; stroke-width: 1.5; stroke-linejoin: miter"/>
   </g>
   <g id="line2d_3">
    <path d="M 78.48 111.52 
L 94.88 103.72 
L 111.28 97.09 
L 127.68 95.28 
L 144.08 79.73 
L 160.48 84.44 
L 176.88 84.44 
L 193.29 78.84 
L 209.69 83.90 
L 226.09 95.62 
L 242.49 107.01 
L 258.89 106.42 
L 275.29 97.09 
L 291.70 78.45 
L 308.10 74.87 
L 324.50 73.45 
L 340.90 66.73 
L 357.30 63.14 
L 373.70 62.61 
L 390.11 61.87 
L 406.51 61.87 
L 422.91 62.26 
L 439.31 62.75 
L 455.71 63.49 
L 472.11 62.61 
L 488.52 56.82 
L 504.92 54.46 
L 521.32 54.66 
L 537.72 57.75 
L 554.12 61.33 
L 560.03 63.14 
" clip-path="url(#p9851077e19)" style="fill: none; stroke: #b32c8e; stroke-width: 1.5; stroke-linejoin: miter"/>
   </g>
   <g id="line2d_4">
    <path d="M 580.86 61.33 
L 586.92 58.63 
L 603.33 53.77 
L 619.73 51.76 
L 636.13 50.68 
L 652.53 49.75 
L 668.93 48.72 
L 685.33 48.18 
L 701.74 49.06 
L 718.14 50.49 
L 734.54 51.96 
" clip-path="url(#p9851077e19)" style="fill: none; stroke: #b32c8e; stroke-width: 1.5; stroke-linejoin: miter"/>
   </g>
   <g id="line2d_5">
    <path d="M 78.48 156.61 
L 94.88 149.39 
L 111.28 143.60 
L 127.68 139.83 
L 144.08 143.26 
L 146.87 138.60 
L 160.48 124.86 
L 176.88 124.47 
L 193.29 119.96 
L 209.69 128.44 
L 222.15 138.80 
L 226.09 142.53 
L 242.49 145.22 
L 258.89 147.58 
L 275.29 142.92 
L 281.53 138.80 
L 291.70 136.25 
L 308.10 118.19 
L 324.50 114.95 
L 340.90 105.53 
L 357.30 99.25 
L 373.70 97.98 
L 390.11 97.78 
L 406.51 96.51 
L 422.91 95.62 
L 439.31 95.08 
L 455.71 94.00 
L 472.11 92.39 
L 488.52 94.15 
L 504.92 94.15 
L 521.32 91.11 
L 537.72 92.39 
L 554.12 99.25 
L 559.53 101.02 
" clip-path="url(#p9851077e19)" style="fill: none; stroke: #d24f71; stroke-width: 1.5; stroke-linejoin: miter"/>
   </g>
   <g id="line2d_6">
    <path d="M 579.87 97.09 
L 586.92 91.11 
L 591.68 89.74 
L 603.33 85.71 
L 619.73 83.36 
L 636.13 82.38 
L 652.53 81.40 
L 668.93 80.27 
L 685.33 79.92 
L 701.74 80.27 
L 718.14 81.20 
L 734.54 82.43 
" clip-path="url(#p9851077e19)" style="fill: none; stroke: #d24f71; stroke-width: 1.5; stroke-linejoin: miter"/>
   </g>
   <g id="line2d_7">
    <path d="M 78.48 211.65 
L 94.88 207.29 
L 111.28 212.73 
L 127.68 215.04 
L 144.08 215.97 
L 153.92 212.73 
L 160.48 207.82 
L 171.14 187.86 
L 176.88 177.70 
L 193.29 180.79 
L 209.69 184.03 
L 226.09 191.59 
L 242.49 195.76 
L 258.89 203.07 
L 275.29 210.57 
L 291.70 209.10 
L 308.10 178.98 
L 314.99 172.65 
L 324.50 164.55 
L 340.90 155.18 
L 357.30 144.34 
L 373.70 152.09 
L 390.11 152.44 
L 406.51 145.81 
L 422.91 141.25 
L 433.41 138.80 
L 439.31 137.13 
L 447.51 135.85 
" clip-path="url(#p9851077e19)" style="fill: none; stroke: #ea7457; stroke-width: 1.5; stroke-linejoin: miter"/>
   </g>
   <g id="line2d_8">
    <path d="M 463.91 134.77 
L 472.11 134.97 
L 488.52 135.85 
L 504.92 136.78 
L 513.12 138.80 
L 521.32 140.37 
L 537.72 141.10 
L 554.12 150.28 
L 570.52 150.28 
L 585.28 138.80 
L 586.92 136.25 
L 603.33 132.61 
L 619.73 128.98 
L 636.13 122.70 
L 652.53 119.61 
L 668.93 118.53 
L 685.33 117.80 
L 701.74 116.38 
L 718.14 118.68 
L 734.54 119.07 
" clip-path="url(#p9851077e19)" style="fill: none; stroke: #ea7457; stroke-width: 1.5; stroke-linejoin: miter"/>
   </g>
   <g id="line2d_9">
    <path d="M 78.48 265.96 
L 94.88 263.61 
L 111.28 262.53 
L 127.68 267.92 
L 144.08 269.40 
L 160.48 266.50 
L 170.32 266.50 
" clip-path="url(#p9851077e19)" style="fill: none; stroke: #fa9c3c; stroke-width: 1.5; stroke-linejoin: miter"/>
   </g>
   <g id="line2d_10">
    <path d="M 182.95 262.87 
L 193.29 254.78 
L 209.69 257.82 
L 226.09 248.64 
L 242.49 253.84 
L 258.89 260.52 
L 275.29 264.15 
L 291.70 262.33 
L 308.10 251.69 
L 324.50 234.91 
L 332.21 224.65 
L 340.90 221.37 
L 357.30 222.84 
L 373.70 222.64 
L 390.11 223.72 
L 406.51 221.37 
L 422.91 217.78 
L 439.31 212.00 
L 455.71 197.57 
L 472.11 190.31 
L 488.52 190.31 
L 504.92 196.10 
L 521.32 201.55 
L 537.72 207.29 
L 550.02 212.39 
L 554.12 214.50 
L 570.52 214.15 
L 586.92 215.97 
L 601.69 212.39 
L 603.33 208.76 
L 617.76 187.86 
L 619.73 184.91 
L 636.13 180.25 
L 652.53 174.46 
L 668.93 169.41 
L 685.33 168.53 
L 701.74 164.16 
L 718.14 169.07 
L 734.54 178.44 
" clip-path="url(#p9851077e19)" style="fill: none; stroke: #fa9c3c; stroke-width: 1.5; stroke-linejoin: miter"/>
   </g>
   <g id="line2d_11">
    <path d="M 329.42 300.70 
L 340.90 289.95 
L 357.30 281.81 
L 373.70 283.62 
L 376.98 284.02 
" clip-path="url(#p9851077e19)" style="fill: none; stroke: #fdca26; stroke-width: 1.5; stroke-linejoin: miter"/>
   </g>
   <g id="line2d_12">
    <path d="M 390.93 286.71 
L 406.51 284.56 
L 422.91 281.47 
L 439.31 289.07 
L 455.71 285.44 
L 466.04 273.71 
L 468.67 259.29 
L 472.11 255.12 
L 488.52 248.10 
L 504.92 247.02 
L 521.32 242.51 
L 537.72 244.28 
L 554.12 267.38 
L 570.52 261.06 
L 586.92 274.60 
L 603.33 271.90 
L 619.73 268.66 
L 636.13 265.96 
L 645.97 249.18 
L 652.53 242.12 
L 668.93 236.38 
L 685.33 235.45 
L 701.74 238.54 
L 718.14 241.24 
L 734.54 241.77 
" clip-path="url(#p9851077e19)" style="fill: none; stroke: #fdca26; stroke-width: 1.5; stroke-linejoin: miter"/>
   </g>
   <g id="line2d_13">
    <path d="M 436.85 300.70 
L 439.31 298.49 
L 441.77 300.70 
" clip-path="url(#p9851077e19)" style="fill: none; stroke: #fdca26; stroke-width: 1.5; stroke-linejoin: miter"/>
   </g>
   <g id="text_8">
    <g clip-path="url(#p9851077e19)">
     <text style="font-size: 10px; font-family: 'DejaVu Sans', sans-serif; fill: #8f0da4" transform="translate(184.49 50.36) rotate(-357)">-32</text>
    </g>
   </g>
   <g id="text_9">
    <g clip-path="url(#p9851077e19)">
     <text style="font-size: 10px; font-family: 'DejaVu Sans', sans-serif; fill: #b32c8e" transform="translate(562.05 67.29) rotate(-352)">-24</text>
    </g>
   </g>
   <g id="text_10">
    <g clip-path="url(#p9851077e19)">
     <text style="font-size: 10px; font-family: 'DejaVu Sans', sans-serif; fill: #d24f71" transform="translate(561.96 104.72) rotate(-348)">-16</text>
    </g>
   </g>
   <g id="text_11">
    <g clip-path="url(#p9851077e19)">
     <text style="font-size: 10px; font-family: 'DejaVu Sans', sans-serif; fill: #ea7457" transform="translate(450.88 137.99) rotate(-3)">-8</text>
    </g>
   </g>
   <g id="text_12">
    <g clip-path="url(#p9851077e19)">
     <text style="font-size: 10px; font-family: 'DejaVu Sans', sans-serif; fill: #fa9c3c" transform="translate(175.02 269.60) rotate(-15)">0</text>
    </g>
   </g>
   <g id="text_13">
    <g clip-path="url(#p9851077e19)">
     <text style="font-size: 10px; font-family: 'DejaVu Sans', sans-serif; fill: #fdca26" transform="translate(380.79 287.57) rotate(-355)">8</text>
    </g>
   </g>
   <g id="text_14">
    <text style="font-size: 8.33px; font-family: 'DejaVu Sans', sans-serif; text-anchor: start; fill: #d8e4f0" x="80.39" y="296.77" transform="rotate(-0 80.39 296.77)">© Meteorological Institute Munich</text>
   </g>
  </g>
  <g id="axes_2">
   <g id="patch_3">
    <path d="M 757.08 301.32 
L 788.04 301.32 
L 788.04 40.68 
L 757.08 40.68 
z
" style="fill: #ffffff"/>
   </g>
   <g id="QuadMesh_1">
    <path d="M 757.08 301.32 
L 788.04 301.32 
L 788.04 268.74 
L 757.08 268.74 
L 757.08 301.32 
" clip-path="url(#p7bbf53f812)" style="fill: #528ab9; stroke: #528ab9; stroke-width: 0.3"/>
    <path d="M 757.08 268.74 
L 788.04 268.74 
L 788.04 236.16 
L 757.08 236.16 
L 757.08 268.74 
" clip-path="url(#p7bbf53f812)" style="fill: #699ac2; stroke: #699ac2; stroke-width: 0.3"/>
    <path d="M 757.08 236.16 
L 788.04 236.16 
L 788.04 203.58 
L 757.08 203.58 
L 757.08 236.16 
" clip-path="url(#p7bbf53f812)" style="fill: #80a9cc; stroke: #80a9cc; stroke-width: 0.3"/>
    <path d="M 757.08 203.58 
L 788.04 203.58 
L 788.04 171 
L 757.08 171 
L 757.08 203.58 
" clip-path="url(#p7bbf53f812)" style="fill: #97b9d5; stroke: #97b9d5; stroke-width: 0.3"/>
    <path d="M 757.08 171 
L 788.04 171 
L 788.04 138.42 
L 757.08 138.42 
L 757.08 171 
" clip-path="url(#p7bbf53f812)" style="fill: #aec9de; stroke: #aec9de; stroke-width: 0.3"/>
    <path d="M 757.08 138.42 
L 788.04 138.42 
L 788.04 105.84 
L 757.08 105.84 
L 757.08 138.42 
" clip-path="url(#p7bbf53f812)" style="fill: #c6d8e8; stroke: #c6d8e8; stroke-width: 0.3"/>
    <path d="M 757.08 105.84 
L 788.04 105.84 
L 788.04 73.26 
L 757.08 73.26 
L 757.08 105.84 
" clip-path="url(#p7bbf53f812)" style="fill: #dde8f1; stroke: #dde8f1; stroke-width: 0.3"/>
    <path d="M 757.08 73.26 
L 788.04 73.26 
L 788.04 40.68 
L 757.08 40.68 
L 757.08 73.26 
" clip-path="url(#p7bbf53f812)" style="fill: #f4f8fb; stroke: #f4f8fb; stroke-width: 0.3"/>
   </g>
   <g id="matplotlib.axis_3"/>
   <g id="matplotlib.axis_4">
    <g id="ytick_7">
     <g>
      <defs>
       <path id="m33c4ce201d" d="M 0 0 
L 3.5 0 
" style="stroke: #000000; stroke-width: 0.8"/>
      </defs>
      <g>
       <use href="#m33c4ce201d" x="788.04" y="301.32" style="stroke: #000000; stroke-width: 0.8"/>
      </g>
     </g>
     <g id="text_15">
      <text style="font-size: 10px; font-family: 'DejaVu Sans', sans-serif; text-anchor: start" x="794.34" y="305.11" transform="rotate(-0 794.34 305.11)">0/8</text>
     </g>
    </g>
    <g id="ytick_8">
     <g>
      <g>
       <use href="#m33c4ce201d" x="788.04" y="268.92" style="stroke: #000000; stroke-width: 0.8"/>
      </g>
     </g>
     <g id="text_16">
      <text style="font-size: 10px; font-family: 'DejaVu Sans', sans-serif; text-anchor: start" x="794.34" y="272.53" transform="rotate(-0 794.34 272.53)">1/8</text>
     </g>
    </g>
    <g id="ytick_9">
     <g>
      <g>
       <use href="#m33c4ce201d" x="788.04" y="236.52" style="stroke: #000000; stroke-width: 0.8"/>
      </g>
     </g>
     <g id="text_17">
      <text style="font-size: 10px; font-family: 'DejaVu Sans', sans-serif; text-anchor: start" x="794.34" y="239.95" transform="rotate(-0 794.34 239.95)">2/8</text>
     </g>
    </g>
    <g id="ytick_10">
     <g>
      <g>
       <use href="#m33c4ce201d" x="788.04" y="203.40" style="stroke: #000000; stroke-width: 0.8"/>
      </g>
     </g>
     <g id="text_18">
      <text style="font-size: 10px; font-family: 'DejaVu Sans', sans-serif; text-anchor: start" x="794.34" y="207.37" transform="rotate(-0 794.34 207.37)">3/8</text>
     </g>
    </g>
    <g id="ytick_11">
     <g>
      <g>
       <use href="#m33c4ce201d" x="788.04" y="171.00" style="stroke: #000000; stroke-width: 0.8"/>
      </g>
     </g>
     <g id="text_19">
      <text style="font-size: 10px; font-family: 'DejaVu Sans', sans-serif; text-anchor: start" x="794.34" y="174.79" transform="rotate(-0 794.34 174.79)">4/8</text>
     </g>
    </g>
    <g id="ytick_12">
     <g>
      <g>
       <use href="#m33c4ce201d" x="788.04" y="138.60" style="stroke: #000000; stroke-width: 0.8"/>
      </g>
     </g>
     <g id="text_20">
      <text style="font-size: 10px; font-family: 'DejaVu Sans', sans-serif; text-anchor: start" x="794.34" y="142.21" transform="rotate(-0 794.34 142.21)">5/8</text>
     </g>
    </g>
    <g id="ytick_13">
     <g>
      <g>
       <use href="#m33c4ce201d" x="788.04" y="106.20" style="stroke: #000000; stroke-width: 0.8"/>
      </g>
     </g>
     <g id="text_21">
      <text style="font-size: 10px; font-family: 'DejaVu Sans', sans-serif; text-anchor: start" x="794.34" y="109.63" transform="rotate(-0 794.34 109.63)">6/8</text>
     </g>
    </g>
    <g id="ytick_14">
     <g>
      <g>
       <use href="#m33c4ce201d" x="788.04" y="73.08" style="stroke: #000000; stroke-width: 0.8"/>
      </g>
     </g>
     <g id="text_22">
      <text style="font-size: 10px; font-family: 'DejaVu Sans', sans-serif; text-anchor: start" x="794.34" y="77.05" transform="rotate(-0 794.34 77.05)">7/8</text>
     </g>
    </g>
    <g id="ytick_15">
     <g>
      <g>
       <use href="#m33c4ce201d" x="788.04" y="40.68" style="stroke: #000000; stroke-width: 0.8"/>
      </g>
     </g>
     <g id="text_23">
      <text style="font-size: 10px; font-family: 'DejaVu Sans', sans-serif; text-anchor: start" x="794.34" y="44.47" transform="rotate(-0 794.34 44.47)">8/8</text>
     </g>
    </g>
    <g id="text_24">
     <text style="font-size: 10px; font-family: 'DejaVu Sans', sans-serif; text-anchor: middle" x="821.53" y="171" transform="rotate(-90 821.53 171)">cloud cover</text>
    </g>
   </g>
   <g id="LineCollection_1"/>
   <g>
    <path d="M 757.08 301.32 
L 772.56 301.32 
L 788.04 301.32 
L 788.04 40.68 
L 772.56 40.68 
L 757.08 40.68 
L 757.08 301.32 
z
" style="fill: none; stroke: #000000; stroke-width: 0.8; stroke-linejoin: miter; stroke-linecap: square"/>
   </g>
  </g>
  <g id="axes_3">
   <g id="patch_4">
    <path d="M 62.28 484.92 
L 751.32 484.92 
L 751.32 316.44 
L 62.28 316.44 
z
" style="fill: #ffffff"/>
   </g>
   <g id="FillBetweenPolyCollection_1">
    <defs>
     <path id="m48c6a0f521" d="M 78.48 -377.61 
L 78.48 -330.16 
L 94.88 -332.01 
L 111.28 -329.97 
L 127.68 -335.01 
L 144.08 -332.01 
L 160.48 -332.97 
L 176.88 -340.05 
L 193.29 -343.04 
L 209.69 -351.65 
L 226.09 -355.16 
L 242.49 -354.65 
L 258.89 -347.89 
L 275.29 -343.94 
L 291.70 -346.94 
L 308.10 -347.51 
L 324.50 -361.09 
L 340.90 -364.86 
L 357.30 -368.94 
L 373.70 -369.13 
L 390.11 -366.71 
L 406.51 -366.13 
L 422.91 -361.67 
L 439.31 -354.78 
L 455.71 -362.05 
L 472.11 -364.67 
L 488.52 -376.27 
L 504.92 -368.24 
L 521.32 -366.20 
L 537.72 -363.01 
L 554.12 -369.19 
L 570.52 -372.38 
L 586.92 -379.08 
L 603.33 -383.42 
L 619.73 -384.89 
L 636.13 -377.74 
L 652.53 -373.34 
L 668.93 -371.94 
L 685.33 -361.09 
L 701.74 -350.63 
L 718.14 -368.30 
L 734.54 -384.25 
L 734.54 -431.00 
L 734.54 -431.00 
L 718.14 -385.08 
L 701.74 -352.61 
L 685.33 -361.35 
L 668.93 -374.23 
L 652.53 -379.97 
L 636.13 -388.65 
L 619.73 -414.48 
L 603.33 -417.99 
L 586.92 -397.77 
L 570.52 -381.89 
L 554.12 -384.12 
L 537.72 -377.04 
L 521.32 -380.42 
L 504.92 -384.12 
L 488.52 -407.15 
L 472.11 -412.95 
L 455.71 -389.09 
L 439.31 -361.09 
L 422.91 -374.17 
L 406.51 -386.29 
L 390.11 -389.80 
L 373.70 -394.84 
L 357.30 -401.92 
L 340.90 -397.07 
L 324.50 -376.78 
L 308.10 -366.90 
L 291.70 -363.14 
L 275.29 -366.07 
L 258.89 -367.54 
L 242.49 -370.53 
L 226.09 -371.04 
L 209.69 -364.54 
L 193.29 -360.27 
L 176.88 -357.97 
L 160.48 -359.69 
L 144.08 -357.97 
L 127.68 -358.73 
L 111.28 -361.16 
L 94.88 -371.04 
L 78.48 -377.61 
z
"/>
    </defs>
    <g clip-path="url(#p233d145e39)">
     <use href="#m48c6a0f521" x="0" y="795.6" style="fill-opacity: 0.1"/>
    </g>
   </g>
   <g id="matplotlib.axis_5">
    <g id="xtick_12">
     <g>
      <path d="M 144.36 484.92 L 144.36 316.44" clip-path="url(#p233d145e39)" style="fill: none; stroke-dasharray: 1.85,0.8; stroke-dashoffset: 0; stroke: #707070; stroke-width: 0.5"/>
     </g>
     <g>
      <g>
       <use href="#m1504cfccaf" x="144.36" y="484.92" style="stroke: #000000; stroke-width: 0.8"/>
      </g>
     </g>
    </g>
    <g id="xtick_13">
     <g>
      <path d="M 275.40 484.92 L 275.40 316.44" clip-path="url(#p233d145e39)" style="fill: none; stroke-dasharray: 1.85,0.8; stroke-dashoffset: 0; stroke: #707070; stroke-width: 0.5"/>
     </g>
     <g>
      <g>
       <use href="#m1504cfccaf" x="275.40" y="484.92" style="stroke: #000000; stroke-width: 0.8"/>
      </g>
     </g>
    </g>
    <g id="xtick_14">
     <g>
      <path d="M 406.44 484.92 L 406.44 316.44" clip-path="url(#p233d145e39)" style="fill: none; stroke-dasharray: 1.85,0.8; stroke-dashoffset: 0; stroke: #707070; stroke-width: 0.5"/>
     </g>
     <g>
      <g>
       <use href="#m1504cfccaf" x="406.44" y="484.92" style="stroke: #000000; stroke-width: 0.8"/>
      </g>
     </g>
    </g>
    <g id="xtick_15">
     <g>
      <path d="M 537.48 484.92 L 537.48 316.44" clip-path="url(#p233d145e39)" style="fill: none; stroke-dasharray: 1.85,0.8; stroke-dashoffset: 0; stroke: #707070; stroke-width: 0.5"/>
     </g>
     <g>
      <g>
       <use href="#m1504cfccaf" x="537.48" y="484.92" style="stroke: #000000; stroke-width: 0.8"/>
      </g>
     </g>
    </g>
    <g id="xtick_16">
     <g>
      <path d="M 669.24 484.92 L 669.24 316.44" clip-path="url(#p233d145e39)" style="fill: none; stroke-dasharray: 1.85,0.8; stroke-dashoffset: 0; stroke: #707070; stroke-width: 0.5"/>
     </g>
     <g>
      <g>
       <use href="#m1504cfccaf" x="669.24" y="484.92" style="stroke: #000000; stroke-width: 0.8"/>
      </g>
     </g>
    </g>
    <g id="xtick_17">
     <g>
      <g>
       <use href="#m05db3bdf9b" x="78.84" y="484.92" style="stroke: #000000; stroke-width: 0.6"/>
      </g>
     </g>
    </g>
    <g id="xtick_18">
     <g>
      <g>
       <use href="#m05db3bdf9b" x="209.88" y="484.92" style="stroke: #000000; stroke-width: 0.6"/>
      </g>
     </g>
    </g>
    <g id="xtick_19">
     <g>
      <g>
       <use href="#m05db3bdf9b" x="340.92" y="484.92" style="stroke: #000000; stroke-width: 0.6"/>
      </g>
     </g>
    </g>
    <g id="xtick_20">
     <g>
      <g>
       <use href="#m05db3bdf9b" x="471.96" y="484.92" style="stroke: #000000; stroke-width: 0.6"/>
      </g>
     </g>
    </g>
    <g id="xtick_21">
     <g>
      <g>
       <use href="#m05db3bdf9b" x="603.00" y="484.92" style="stroke: #000000; stroke-width: 0.6"/>
      </g>
     </g>
    </g>
    <g id="xtick_22">
     <g>
      <g>
       <use href="#m05db3bdf9b" x="734.76" y="484.92" style="stroke: #000000; stroke-width: 0.6"/>
      </g>
     </g>
    </g>
   </g>
   <g id="matplotlib.axis_6">
    <g id="ytick_16">
     <g>
      <path d="M 62.28 471.24 L 751.32 471.24" clip-path="url(#p233d145e39)" style="fill: none; stroke: #b0b0b0; stroke-width: 0.8; stroke-linecap: square"/>
     </g>
     <g>
      <g>
       <use href="#m5d545ce8f8" x="62.28" y="471.24" style="stroke: #000000; stroke-width: 0.8"/>
      </g>
     </g>
     <g id="text_25">
      <text style="font-size: 10px; font-family: 'DejaVu Sans', sans-serif; text-anchor: end" x="55.28" y="475.03" transform="rotate(-0 55.28 475.03)">0</text>
     </g>
    </g>
    <g id="ytick_17">
     <g>
      <path d="M 62.28 439.56 L 751.32 439.56" clip-path="url(#p233d145e39)" style="fill: none; stroke: #b0b0b0; stroke-width: 0.8; stroke-linecap: square"/>
     </g>
     <g>
      <g>
       <use href="#m5d545ce8f8" x="62.28" y="439.56" style="stroke: #000000; stroke-width: 0.8"/>
      </g>
     </g>
     <g id="text_26">
      <text style="font-size: 10px; font-family: 'DejaVu Sans', sans-serif; text-anchor: end" x="55.28" y="443.14" transform="rotate(-0 55.28 443.14)">5</text>
     </g>
    </g>
    <g id="ytick_18">
     <g>
      <path d="M 62.28 407.16 L 751.32 407.16" clip-path="url(#p233d145e39)" style="fill: none; stroke: #b0b0b0; stroke-width: 0.8; stroke-linecap: square"/>
     </g>
     <g>
      <g>
       <use href="#m5d545ce8f8" x="62.28" y="407.16" style="stroke: #000000; stroke-width: 0.8"/>
      </g>
     </g>
     <g id="text_27">
      <text style="font-size: 10px; font-family: 'DejaVu Sans', sans-serif; text-anchor: end" x="55.28" y="411.25" transform="rotate(-0 55.28 411.25)">10</text>
     </g>
    </g>
    <g id="ytick_19">
     <g>
      <path d="M 62.28 375.48 L 751.32 375.48" clip-path="url(#p233d145e39)" style="fill: none; stroke: #b0b0b0; stroke-width: 0.8; stroke-linecap: square"/>
     </g>
     <g>
      <g>
       <use href="#m5d545ce8f8" x="62.28" y="375.48" style="stroke: #000000; stroke-width: 0.8"/>
      </g>
     </g>
     <g id="text_28">
      <text style="font-size: 10px; font-family: 'DejaVu Sans', sans-serif; text-anchor: end" x="55.28" y="379.36" transform="rotate(-0 55.28 379.36)">15</text>
     </g>
    </g>
    <g id="ytick_20">
     <g>
      <path d="M 62.28 343.80 L 751.32 343.80" clip-path="url(#p233d145e39)" style="fill: none; stroke: #b0b0b0; stroke-width: 0.8; stroke-linecap: square"/>
     </g>
     <g>
      <g>
       <use href="#m5d545ce8f8" x="62.28" y="343.80" style="stroke: #000000; stroke-width: 0.8"/>
      </g>
     </g>
     <g id="text_29">
      <text style="font-size: 10px; font-family: 'DejaVu Sans', sans-serif; text-anchor: end" x="55.28" y="347.47" transform="rotate(-0 55.28 347.47)">20</text>
     </g>
    </g>
    <g id="text_30">
     <g transform="translate(34.35 444.98) rotate(-90)">
      <text><tspan x="0.00" y="-0.40" style="font-size: 10px; font-family: 'DejaVu Sans', sans-serif">temperature [</tspan><tspan x="71.61" y="-4.23" style="font-size: 7px; font-family: 'DejaVu Sans', sans-serif">∘</tspan><tspan x="77.63" y="-0.40" style="font-size: 10px; font-family: 'DejaVu Sans', sans-serif">C]</tspan></text>
     </g>
    </g>
   </g>
   <g id="line2d_14">
    <path d="M 78.48 417.98 
L 94.88 424.55 
L 111.28 434.43 
L 127.68 436.86 
L 144.08 437.62 
L 160.48 435.90 
L 176.88 437.62 
L 193.29 435.32 
L 209.69 431.05 
L 226.09 424.55 
L 242.49 425.06 
L 258.89 428.05 
L 275.29 429.52 
L 291.70 432.45 
L 308.10 428.69 
L 324.50 418.81 
L 340.90 398.52 
L 357.30 393.67 
L 373.70 400.75 
L 390.11 405.79 
L 406.51 409.30 
L 422.91 421.42 
L 439.31 434.50 
L 455.71 406.50 
L 472.11 382.64 
L 488.52 388.44 
L 504.92 411.47 
L 521.32 415.17 
L 537.72 418.55 
L 554.12 411.47 
L 570.52 413.70 
L 586.92 397.82 
L 603.33 377.60 
L 619.73 381.11 
L 636.13 406.94 
L 652.53 415.62 
L 668.93 421.36 
L 685.33 434.24 
L 701.74 442.98 
L 718.14 410.51 
L 734.54 364.59 
" clip-path="url(#p233d145e39)" style="fill: none; stroke: #000000; stroke-width: 1.5; stroke-linecap: square"/>
    <defs>
     <path id="m0ef9cdae93" d="M 0 1.5 
C 0.39 1.5 0.77 1.34 1.06 1.06 
C 1.34 0.77 1.5 0.39 1.5 0 
C 1.5 -0.39 1.34 -0.77 1.06 -1.06 
C 0.77 -1.34 0.39 -1.5 0 -1.5 
C -0.39 -1.5 -0.77 -1.34 -1.06 -1.06 
C -1.34 -0.77 -1.5 -0.39 -1.5 0 
C -1.5 0.39 -1.34 0.77 -1.06 1.06 
C -0.77 1.34 -0.39 1.5 0 1.5 
z
" style="stroke: #000000"/>
    </defs>
    <g clip-path="url(#p233d145e39)">
     <use href="#m0ef9cdae93" x="78.48" y="417.98" style="stroke: #000000"/>
     <use href="#m0ef9cdae93" x="94.88" y="424.55" style="stroke: #000000"/>
     <use href="#m0ef9cdae93" x="111.28" y="434.43" style="stroke: #000000"/>
     <use href="#m0ef9cdae93" x="127.68" y="436.86" style="stroke: #000000"/>
     <use href="#m0ef9cdae93" x="144.08" y="437.62" style="stroke: #000000"/>
     <use href="#m0ef9cdae93" x="160.48" y="435.90" style="stroke: #000000"/>
     <use href="#m0ef9cdae93" x="176.88" y="437.62" style="stroke: #000000"/>
     <use href="#m0ef9cdae93" x="193.29" y="435.32" style="stroke: #000000"/>
     <use href="#m0ef9cdae93" x="209.69" y="431.05" style="stroke: #000000"/>
     <use href="#m0ef9cdae93" x="226.09" y="424.55" style="stroke: #000000"/>
     <use href="#m0ef9cdae93" x="242.49" y="425.06" style="stroke: #000000"/>
     <use href="#m0ef9cdae93" x="258.89" y="428.05" style="stroke: #000000"/>
     <use href="#m0ef9cdae93" x="275.29" y="429.52" style="stroke: #000000"/>
     <use href="#m0ef9cdae93" x="291.70" y="432.45" style="stroke: #000000"/>
     <use href="#m0ef9cdae93" x="308.10" y="428.69" style="stroke: #000000"/>
     <use href="#m0ef9cdae93" x="324.50" y="418.81" style="stroke: #000000"/>
     <use href="#m0ef9cdae93" x="340.90" y="398.52" style="stroke: #000000"/>
     <use href="#m0ef9cdae93" x="357.30" y="393.67" style="stroke: #000000"/>
     <use href="#m0ef9cdae93" x="373.70" y="400.75" style="stroke: #000000"/>
     <use href="#m0ef9cdae93" x="390.11" y="405.79" style="stroke: #000000"/>
     <use href="#m0ef9cdae93" x="406.51" y="409.30" style="stroke: #000000"/>
     <use href="#m0ef9cdae93" x="422.91" y="421.42" style="stroke: #000000"/>
     <use href="#m0ef9cdae93" x="439.31" y="434.50" style="stroke: #000000"/>
     <use href="#m0ef9cdae93" x="455.71" y="406.50" style="stroke: #000000"/>
     <use href="#m0ef9cdae93" x="472.11" y="382.64" style="stroke: #000000"/>
     <use href="#m0ef9cdae93" x="488.52" y="388.44" style="stroke: #000000"/>
     <use href="#m0ef9cdae93" x="504.92" y="411.47" style="stroke: #000000"/>
     <use href="#m0ef9cdae93" x="521.32" y="415.17" style="stroke: #000000"/>
     <use href="#m0ef9cdae93" x="537.72" y="418.55" style="stroke: #000000"/>
     <use href="#m0ef9cdae93" x="554.12" y="411.47" style="stroke: #000000"/>
     <use href="#m0ef9cdae93" x="570.52" y="413.70" style="stroke: #000000"/>
     <use href="#m0ef9cdae93" x="586.92" y="397.82" style="stroke: #000000"/>
     <use href="#m0ef9cdae93" x="603.33" y="377.60" style="stroke: #000000"/>
     <use href="#m0ef9cdae93" x="619.73" y="381.11" style="stroke: #000000"/>
     <use href="#m0ef9cdae93" x="636.13" y="406.94" style="stroke: #000000"/>
     <use href="#m0ef9cdae93" x="652.53" y="415.62" style="stroke: #000000"/>
     <use href="#m0ef9cdae93" x="668.93" y="421.36" style="stroke: #000000"/>
     <use href="#m0ef9cdae93" x="685.33" y="434.24" style="stroke: #000000"/>
     <use href="#m0ef9cdae93" x="701.74" y="442.98" style="stroke: #000000"/>
     <use href="#m0ef9cdae93" x="718.14" y="410.51" style="stroke: #000000"/>
     <use href="#m0ef9cdae93" x="734.54" y="364.59" style="stroke: #000000"/>
    </g>
   </g>
   <g id="line2d_15">
    <path d="M 78.48 465.43 
L 94.88 463.58 
L 111.28 465.62 
L 127.68 460.58 
L 144.08 463.58 
L 160.48 462.62 
L 176.88 455.54 
L 193.29 452.55 
L 209.69 443.94 
L 226.09 440.43 
L 242.49 440.94 
L 258.89 447.70 
L 275.29 451.65 
L 291.70 448.65 
L 308.10 448.08 
L 324.50 434.50 
L 340.90 430.73 
L 357.30 426.65 
L 373.70 426.46 
L 390.11 428.88 
L 406.51 429.46 
L 422.91 433.92 
L 439.31 440.81 
L 455.71 433.54 
L 472.11 430.92 
L 488.52 419.32 
L 504.92 427.35 
L 521.32 429.39 
L 537.72 432.58 
L 554.12 426.40 
L 570.52 423.21 
L 586.92 416.51 
L 603.33 412.17 
L 619.73 410.70 
L 636.13 417.85 
L 652.53 422.25 
L 668.93 423.65 
L 685.33 434.50 
L 701.74 444.96 
L 718.14 427.29 
L 734.54 411.34 
" clip-path="url(#p233d145e39)" style="fill: none; stroke: #008000; stroke-width: 1.5; stroke-linecap: square"/>
    <defs>
     <path id="mc3e4821475" d="M 0 1.5 
C 0.39 1.5 0.77 1.34 1.06 1.06 
C 1.34 0.77 1.5 0.39 1.5 0 
C 1.5 -0.39 1.34 -0.77 1.06 -1.06 
C 0.77 -1.34 0.39 -1.5 0 -1.5 
C -0.39 -1.5 -0.77 -1.34 -1.06 -1.06 
C -1.34 -0.77 -1.5 -0.39 -1.5 0 
C -1.5 0.39 -1.34 0.77 -1.06 1.06 
C -0.77 1.34 -0.39 1.5 0 1.5 
z
" style="stroke: #008000"/>
    </defs>
    <g clip-path="url(#p233d145e39)">
     <use href="#mc3e4821475" x="78.48" y="465.43" style="fill: #008000; stroke: #008000"/>
     <use href="#mc3e4821475" x="94.88" y="463.58" style="fill: #008000; stroke: #008000"/>
     <use href="#mc3e4821475" x="111.28" y="465.62" style="fill: #008000; stroke: #008000"/>
     <use href="#mc3e4821475" x="127.68" y="460.58" style="fill: #008000; stroke: #008000"/>
     <use href="#mc3e4821475" x="144.08" y="463.58" style="fill: #008000; stroke: #008000"/>
     <use href="#mc3e4821475" x="160.48" y="462.62" style="fill: #008000; stroke: #008000"/>
     <use href="#mc3e4821475" x="176.88" y="455.54" style="fill: #008000; stroke: #008000"/>
     <use href="#mc3e4821475" x="193.29" y="452.55" style="fill: #008000; stroke: #008000"/>
     <use href="#mc3e4821475" x="209.69" y="443.94" style="fill: #008000; stroke: #008000"/>
     <use href="#mc3e4821475" x="226.09" y="440.43" style="fill: #008000; stroke: #008000"/>
     <use href="#mc3e4821475" x="242.49" y="440.94" style="fill: #008000; stroke: #008000"/>
     <use href="#mc3e4821475" x="258.89" y="447.70" style="fill: #008000; stroke: #008000"/>
     <use href="#mc3e4821475" x="275.29" y="451.65" style="fill: #008000; stroke: #008000"/>
     <use href="#mc3e4821475" x="291.70" y="448.65" style="fill: #008000; stroke: #008000"/>
     <use href="#mc3e4821475" x="308.10" y="448.08" style="fill: #008000; stroke: #008000"/>
     <use href="#mc3e4821475" x="324.50" y="434.50" style="fill: #008000; stroke: #008000"/>
     <use href="#mc3e4821475" x="340.90" y="430.73" style="fill: #008000; stroke: #008000"/>
     <use href="#mc3e4821475" x="357.30" y="426.65" style="fill: #008000; stroke: #008000"/>
     <use href="#mc3e4821475" x="373.70" y="426.46" style="fill: #008000; stroke: #008000"/>
     <use href="#mc3e4821475" x="390.11" y="428.88" style="fill: #008000; stroke: #008000"/>
     <use href="#mc3e4821475" x="406.51" y="429.46" style="fill: #008000; stroke: #008000"/>
     <use href="#mc3e4821475" x="422.91" y="433.92" style="fill: #008000; stroke: #008000"/>
     <use href="#mc3e4821475" x="439.31" y="440.81" style="fill: #008000; stroke: #008000"/>
     <use href="#mc3e4821475" x="455.71" y="433.54" style="fill: #008000; stroke: #008000"/>
     <use href="#mc3e4821475" x="472.11" y="430.92" style="fill: #008000; stroke: #008000"/>
     <use href="#mc3e4821475" x="488.52" y="419.32" style="fill: #008000; stroke: #008000"/>
     <use href="#mc3e4821475" x="504.92" y="427.35" style="fill: #008000; stroke: #008000"/>
     <use href="#mc3e4821475" x="521.32" y="429.39" style="fill: #008000; stroke: #008000"/>
     <use href="#mc3e4821475" x="537.72" y="432.58" style="fill: #008000; stroke: #008000"/>
     <use href="#mc3e4821475" x="554.12" y="426.40" style="fill: #008000; stroke: #008000"/>
     <use href="#mc3e4821475" x="570.52" y="423.21" style="fill: #008000; stroke: #008000"/>
     <use href="#mc3e4821475" x="586.92" y="416.51" style="fill: #008000; stroke: #008000"/>
     <use href="#mc3e4821475" x="603.33" y="412.17" style="fill: #008000; stroke: #008000"/>
     <use href="#mc3e4821475" x="619.73" y="410.70" style="fill: #008000; stroke: #008000"/>
     <use href="#mc3e4821475" x="636.13" y="417.85" style="fill: #008000; stroke: #008000"/>
     <use href="#mc3e4821475" x="652.53" y="422.25" style="fill: #008000; stroke: #008000"/>
     <use href="#mc3e4821475" x="668.93" y="423.65" style="fill: #008000; stroke: #008000"/>
     <use href="#mc3e4821475" x="685.33" y="434.50" style="fill: #008000; stroke: #008000"/>
     <use href="#mc3e4821475" x="701.74" y="444.96" style="fill: #008000; stroke: #008000"/>
     <use href="#mc3e4821475" x="718.14" y="427.29" style="fill: #008000; stroke: #008000"/>
     <use href="#mc3e4821475" x="734.54" y="411.34" style="fill: #008000; stroke: #008000"/>
    </g>
   </g>
   <g id="line2d_16">
    <path d="M 78.48 477.04 
L 94.88 474.04 
L 111.28 472.70 
L 127.68 478.50 
L 144.08 478.50 
L 160.48 475.32 
L 176.88 474.81 
L 193.29 468.24 
L 209.69 470.28 
L 226.09 464.15 
L 242.49 465.62 
L 258.89 471.43 
L 275.29 474.04 
L 291.70 472.38 
L 308.10 462.30 
L 324.50 452.42 
L 340.90 439.92 
L 357.30 437.30 
L 373.70 435.77 
L 390.11 436.73 
L 406.51 435.77 
L 422.91 435.64 
L 439.31 437.88 
L 455.71 435.26 
L 472.11 415.93 
L 488.52 403.94 
L 504.92 403.94 
L 521.32 400.63 
L 537.72 401.90 
L 554.12 425.44 
L 570.52 419.83 
L 586.92 430.67 
L 603.33 430.67 
L 619.73 425.63 
L 636.13 423.59 
L 652.53 408.79 
L 668.93 399.61 
L 685.33 397.57 
L 701.74 396.80 
L 718.14 398.33 
L 734.54 401.90 
" clip-path="url(#p233d145e39)" style="fill: none; stroke: #ee82ee; stroke-width: 1.5; stroke-linecap: square"/>
    <defs>
     <path id="m7f2ca2b63d" d="M 0 1.5 
C 0.39 1.5 0.77 1.34 1.06 1.06 
C 1.34 0.77 1.5 0.39 1.5 0 
C 1.5 -0.39 1.34 -0.77 1.06 -1.06 
C 0.77 -1.34 0.39 -1.5 0 -1.5 
C -0.39 -1.5 -0.77 -1.34 -1.06 -1.06 
C -1.34 -0.77 -1.5 -0.39 -1.5 0 
C -1.5 0.39 -1.34 0.77 -1.06 1.06 
C -0.77 1.34 -0.39 1.5 0 1.5 
z
" style="stroke: #ee82ee"/>
    </defs>
    <g clip-path="url(#p233d145e39)">
     <use href="#m7f2ca2b63d" x="78.48" y="477.04" style="fill: #ee82ee; stroke: #ee82ee"/>
     <use href="#m7f2ca2b63d" x="94.88" y="474.04" style="fill: #ee82ee; stroke: #ee82ee"/>
     <use href="#m7f2ca2b63d" x="111.28" y="472.70" style="fill: #ee82ee; stroke: #ee82ee"/>
     <use href="#m7f2ca2b63d" x="127.68" y="478.50" style="fill: #ee82ee; stroke: #ee82ee"/>
     <use href="#m7f2ca2b63d" x="144.08" y="478.50" style="fill: #ee82ee; stroke: #ee82ee"/>
     <use href="#m7f2ca2b63d" x="160.48" y="475.32" style="fill: #ee82ee; stroke: #ee82ee"/>
     <use href="#m7f2ca2b63d" x="176.88" y="474.81" style="fill: #ee82ee; stroke: #ee82ee"/>
     <use href="#m7f2ca2b63d" x="193.29" y="468.24" style="fill: #ee82ee; stroke: #ee82ee"/>
     <use href="#m7f2ca2b63d" x="209.69" y="470.28" style="fill: #ee82ee; stroke: #ee82ee"/>
     <use href="#m7f2ca2b63d" x="226.09" y="464.15" style="fill: #ee82ee; stroke: #ee82ee"/>
     <use href="#m7f2ca2b63d" x="242.49" y="465.62" style="fill: #ee82ee; stroke: #ee82ee"/>
     <use href="#m7f2ca2b63d" x="258.89" y="471.43" style="fill: #ee82ee; stroke: #ee82ee"/>
     <use href="#m7f2ca2b63d" x="275.29" y="474.04" style="fill: #ee82ee; stroke: #ee82ee"/>
     <use href="#m7f2ca2b63d" x="291.70" y="472.38" style="fill: #ee82ee; stroke: #ee82ee"/>
     <use href="#m7f2ca2b63d" x="308.10" y="462.30" style="fill: #ee82ee; stroke: #ee82ee"/>
     <use href="#m7f2ca2b63d" x="324.50" y="452.42" style="fill: #ee82ee; stroke: #ee82ee"/>
     <use href="#m7f2ca2b63d" x="340.90" y="439.92" style="fill: #ee82ee; stroke: #ee82ee"/>
     <use href="#m7f2ca2b63d" x="357.30" y="437.30" style="fill: #ee82ee; stroke: #ee82ee"/>
     <use href="#m7f2ca2b63d" x="373.70" y="435.77" style="fill: #ee82ee; stroke: #ee82ee"/>
     <use href="#m7f2ca2b63d" x="390.11" y="436.73" style="fill: #ee82ee; stroke: #ee82ee"/>
     <use href="#m7f2ca2b63d" x="406.51" y="435.77" style="fill: #ee82ee; stroke: #ee82ee"/>
     <use href="#m7f2ca2b63d" x="422.91" y="435.64" style="fill: #ee82ee; stroke: #ee82ee"/>
     <use href="#m7f2ca2b63d" x="439.31" y="437.88" style="fill: #ee82ee; stroke: #ee82ee"/>
     <use href="#m7f2ca2b63d" x="455.71" y="435.26" style="fill: #ee82ee; stroke: #ee82ee"/>
     <use href="#m7f2ca2b63d" x="472.11" y="415.93" style="fill: #ee82ee; stroke: #ee82ee"/>
     <use href="#m7f2ca2b63d" x="488.52" y="403.94" style="fill: #ee82ee; stroke: #ee82ee"/>
     <use href="#m7f2ca2b63d" x="504.92" y="403.94" style="fill: #ee82ee; stroke: #ee82ee"/>
     <use href="#m7f2ca2b63d" x="521.32" y="400.63" style="fill: #ee82ee; stroke: #ee82ee"/>
     <use href="#m7f2ca2b63d" x="537.72" y="401.90" style="fill: #ee82ee; stroke: #ee82ee"/>
     <use href="#m7f2ca2b63d" x="554.12" y="425.44" style="fill: #ee82ee; stroke: #ee82ee"/>
     <use href="#m7f2ca2b63d" x="570.52" y="419.83" style="fill: #ee82ee; stroke: #ee82ee"/>
     <use href="#m7f2ca2b63d" x="586.92" y="430.67" style="fill: #ee82ee; stroke: #ee82ee"/>
     <use href="#m7f2ca2b63d" x="603.33" y="430.67" style="fill: #ee82ee; stroke: #ee82ee"/>
     <use href="#m7f2ca2b63d" x="619.73" y="425.63" style="fill: #ee82ee; stroke: #ee82ee"/>
     <use href="#m7f2ca2b63d" x="636.13" y="423.59" style="fill: #ee82ee; stroke: #ee82ee"/>
     <use href="#m7f2ca2b63d" x="652.53" y="408.79" style="fill: #ee82ee; stroke: #ee82ee"/>
     <use href="#m7f2ca2b63d" x="668.93" y="399.61" style="fill: #ee82ee; stroke: #ee82ee"/>
     <use href="#m7f2ca2b63d" x="685.33" y="397.57" style="fill: #ee82ee; stroke: #ee82ee"/>
     <use href="#m7f2ca2b63d" x="701.74" y="396.80" style="fill: #ee82ee; stroke: #ee82ee"/>
     <use href="#m7f2ca2b63d" x="718.14" y="398.33" style="fill: #ee82ee; stroke: #ee82ee"/>
     <use href="#m7f2ca2b63d" x="734.54" y="401.90" style="fill: #ee82ee; stroke: #ee82ee"/>
    </g>
   </g>
   <g>
    <path d="M 62.28 484.92 L 62.28 316.44" style="fill: none; stroke: #000000; stroke-width: 0.8; stroke-linejoin: miter; stroke-linecap: square"/>
   </g>
   <g>
    <path d="M 751.32 484.92 L 751.32 316.44" style="fill: none; stroke: #000000; stroke-width: 0.8; stroke-linejoin: miter; stroke-linecap: square"/>
   </g>
   <g>
    <path d="M 62.28 484.92 L 751.32 484.92" style="fill: none; stroke: #000000; stroke-width: 0.8; stroke-linejoin: miter; stroke-linecap: square"/>
   </g>
   <g>
    <path d="M 62.28 316.44 L 751.32 316.44" style="fill: none; stroke: #000000; stroke-width: 0.8; stroke-linejoin: miter; stroke-linecap: square"/>
   </g>
   <g id="legend_1">
    <g id="patch_5">
     <path d="M 302.79 336.26 
L 510.80 336.26 
Q 512.47 336.26 512.47 334.59 
L 512.47 322.27 
Q 512.47 320.60 510.80 320.60 
L 302.79 320.60 
Q 301.12 320.60 301.12 322.27 
L 301.12 334.59 
Q 301.12 336.26 302.79 336.26 
z
" style="fill: #ffffff; opacity: 0.8; stroke: #cccccc; stroke-linejoin: miter"/>
    </g>
    <g id="line2d_17">
     <path d="M 304.92 327.81 
L 313.25 327.81 
L 321.58 327.81 
" style="fill: none; stroke: #000000; stroke-width: 1.5; stroke-linecap: square"/>
     <g>
      <use href="#m0ef9cdae93" x="313.25" y="327.81" style="stroke: #000000"/>
     </g>
    </g>
    <g id="text_31">
     <text style="font-size: 8.33px; font-family: 'DejaVu Sans', sans-serif; text-anchor: start" x="328.24" y="330.73" transform="rotate(-0 328.24 330.73)">T(2m)</text>
    </g>
    <g id="line2d_18">
     <path d="M 369.91 327.81 
L 378.24 327.81 
L 386.57 327.81 
" style="fill: none; stroke: #008000; stroke-width: 1.5; stroke-linecap: square"/>
     <g>
      <use href="#mc3e4821475" x="378.24" y="327.81" style="fill: #008000; stroke: #008000"/>
     </g>
    </g>
    <g id="text_32">
     <text style="font-size: 8.33px; font-family: 'DejaVu Sans', sans-serif; text-anchor: start" x="393.23" y="330.73" transform="rotate(-0 393.23 330.73)">Td(2m)</text>
    </g>
    <g id="line2d_19">
     <path d="M 440.18 327.81 
L 448.51 327.81 
L 456.84 327.81 
" style="fill: none; stroke: #ee82ee; stroke-width: 1.5; stroke-linecap: square"/>
     <g>
      <use href="#m7f2ca2b63d" x="448.51" y="327.81" style="fill: #ee82ee; stroke: #ee82ee"/>
     </g>
    </g>
    <g id="text_33">
     <text style="font-size: 8.33px; font-family: 'DejaVu Sans', sans-serif; text-anchor: start" x="463.50" y="330.73" transform="rotate(-0 463.50 330.73)">T(850 hPa)</text>
    </g>
   </g>
  </g>
  <g id="axes_4">
   <g id="patch_6">
    <path d="M 62.28 577.08 
L 751.32 577.08 
L 751.32 500.04 
L 62.28 500.04 
z
" style="fill: #ffffff"/>
   </g>
   <g id="Barbs_2">
    <path d="M 84.72 510.03 
L 72.23 509.59 
L 70.84 504.54 
L 72.23 509.59 
z
" clip-path="url(#p7b28e05b98)" style="stroke: #000000; stroke-width: 0.62"/>
    <path d="M 101.08 509.05 
L 88.67 510.57 
L 86.51 505.80 
L 88.67 510.57 
z
" clip-path="url(#p7b28e05b98)" style="stroke: #000000; stroke-width: 0.62"/>
    <path d="M 117.15 507.67 
L 105.41 511.95 
L 107.61 511.15 
L 106.02 509.06 
L 107.61 511.15 
z
" clip-path="url(#p7b28e05b98)" style="stroke: #000000; stroke-width: 0.62"/>
    <path d="M 133.55 507.67 
L 121.81 511.95 
L 118.63 507.78 
L 121.81 511.95 
z
" clip-path="url(#p7b28e05b98)" style="stroke: #000000; stroke-width: 0.62"/>
    <path d="M 149.95 507.67 
L 138.21 511.95 
L 135.03 507.78 
L 138.21 511.95 
z
" clip-path="url(#p7b28e05b98)" style="stroke: #000000; stroke-width: 0.62"/>
    <path d="M 166.15 507.17 
L 154.82 512.45 
L 151.29 508.58 
L 154.82 512.45 
z
" clip-path="url(#p7b28e05b98)" style="stroke: #000000; stroke-width: 0.62"/>
    <path d="M 182.55 507.17 
L 171.22 512.45 
L 167.69 508.58 
L 171.22 512.45 
z
" clip-path="url(#p7b28e05b98)" style="stroke: #000000; stroke-width: 0.62"/>
    <path d="M 199.16 507.67 
L 187.41 511.95 
L 184.23 507.78 
L 187.41 511.95 
z
" clip-path="url(#p7b28e05b98)" style="stroke: #000000; stroke-width: 0.62"/>
    <path d="M 215.56 507.67 
L 203.81 511.95 
L 200.64 507.78 
L 203.81 511.95 
z
" clip-path="url(#p7b28e05b98)" style="stroke: #000000; stroke-width: 0.62"/>
    <path d="M 232.13 508.19 
L 220.05 511.43 
L 217.25 507.00 
L 220.05 511.43 
z
" clip-path="url(#p7b28e05b98)" style="stroke: #000000; stroke-width: 0.62"/>
    <path d="M 248.65 508.72 
L 236.34 510.90 
L 233.93 506.24 
L 236.34 510.90 
z
" clip-path="url(#p7b28e05b98)" style="stroke: #000000; stroke-width: 0.62"/>
    <path d="M 265.12 510.35 
L 252.67 509.27 
L 251.55 504.15 
L 252.67 509.27 
z
" clip-path="url(#p7b28e05b98)" style="stroke: #000000; stroke-width: 0.62"/>
    <path d="M 281.54 509.81 
L 269.04 509.81 
L 267.48 504.81 
L 269.04 509.81 
z
" clip-path="url(#p7b28e05b98)" style="stroke: #000000; stroke-width: 0.62"/>
    <path d="M 297.73 508.19 
L 285.66 511.43 
L 287.92 510.82 
L 286.52 508.61 
L 287.92 510.82 
z
" clip-path="url(#p7b28e05b98)" style="stroke: #000000; stroke-width: 0.62"/>
    <path d="M 313.76 507.17 
L 302.43 512.45 
L 298.90 508.58 
L 302.43 512.45 
z
" clip-path="url(#p7b28e05b98)" style="stroke: #000000; stroke-width: 0.62"/>
    <path d="M 330.16 507.17 
L 318.83 512.45 
L 315.31 508.58 
L 318.83 512.45 
z
" clip-path="url(#p7b28e05b98)" style="stroke: #000000; stroke-width: 0.62"/>
    <path d="M 346.57 507.17 
L 335.24 512.45 
L 331.71 508.58 
L 335.24 512.45 
z
" clip-path="url(#p7b28e05b98)" style="stroke: #000000; stroke-width: 0.62"/>
    <path d="M 363.18 507.67 
L 351.43 511.95 
L 348.25 507.78 
L 351.43 511.95 
z
" clip-path="url(#p7b28e05b98)" style="stroke: #000000; stroke-width: 0.62"/>
    <path d="M 379.74 508.19 
L 367.67 511.43 
L 364.86 507.00 
L 367.67 511.43 
z
" clip-path="url(#p7b28e05b98)" style="stroke: #000000; stroke-width: 0.62"/>
    <path d="M 395.98 507.67 
L 384.23 511.95 
L 386.43 511.15 
L 384.85 509.06 
L 386.43 511.15 
z
" clip-path="url(#p7b28e05b98)" style="stroke: #000000; stroke-width: 0.62"/>
    <path d="M 412.38 507.67 
L 400.63 511.95 
L 402.84 511.15 
L 401.25 509.06 
L 402.84 511.15 
z
" clip-path="url(#p7b28e05b98)" style="stroke: #000000; stroke-width: 0.62"/>
    <path d="M 427.33 505.39 
L 418.49 514.23 
L 420.15 512.57 
L 417.83 511.36 
L 420.15 512.57 
z
" clip-path="url(#p7b28e05b98)" style="stroke: #000000; stroke-width: 0.62"/>
    <path d="M 439.31 507.94 
L 438.73 508.03 
L 438.21 508.29 
L 437.79 508.71 
L 437.53 509.23 
L 437.44 509.81 
L 437.53 510.39 
L 437.79 510.91 
L 438.21 511.33 
L 438.73 511.59 
L 439.31 511.69 
L 439.89 511.59 
L 440.41 511.33 
L 440.83 510.91 
L 441.09 510.39 
L 441.19 509.81 
L 441.09 509.23 
L 440.83 508.71 
L 440.41 508.29 
L 439.89 508.03 
L 439.31 507.94 
L 439.31 507.94 
L 439.89 508.03 
L 440.41 508.29 
L 440.83 508.71 
L 441.09 509.23 
L 441.19 509.81 
L 441.09 510.39 
L 440.83 510.91 
L 440.41 511.33 
L 439.89 511.59 
L 439.31 511.69 
L 438.73 511.59 
L 438.21 511.33 
L 437.79 510.91 
L 437.53 510.39 
L 437.44 509.81 
L 437.53 509.23 
L 437.79 508.71 
L 438.21 508.29 
L 438.73 508.03 
L 439.31 507.94 
z
" clip-path="url(#p7b28e05b98)" style="stroke: #000000; stroke-width: 0.62"/>
    <path d="M 455.71 507.94 
L 455.13 508.03 
L 454.61 508.29 
L 454.19 508.71 
L 453.93 509.23 
L 453.84 509.81 
L 453.93 510.39 
L 454.19 510.91 
L 454.61 511.33 
L 455.13 511.59 
L 455.71 511.69 
L 456.29 511.59 
L 456.81 511.33 
L 457.23 510.91 
L 457.50 510.39 
L 457.59 509.81 
L 457.50 509.23 
L 457.23 508.71 
L 456.81 508.29 
L 456.29 508.03 
L 455.71 507.94 
L 455.71 507.94 
L 456.29 508.03 
L 456.81 508.29 
L 457.23 508.71 
L 457.50 509.23 
L 457.59 509.81 
L 457.50 510.39 
L 457.23 510.91 
L 456.81 511.33 
L 456.29 511.59 
L 455.71 511.69 
L 455.13 511.59 
L 454.61 511.33 
L 454.19 510.91 
L 453.93 510.39 
L 453.84 509.81 
L 453.93 509.23 
L 454.19 508.71 
L 454.61 508.29 
L 455.13 508.03 
L 455.71 507.94 
z
" clip-path="url(#p7b28e05b98)" style="stroke: #000000; stroke-width: 0.62"/>
    <path d="M 466.45 507.17 
L 477.78 512.45 
L 475.65 511.46 
L 475.31 514.06 
L 475.65 511.46 
z
" clip-path="url(#p7b28e05b98)" style="stroke: #000000; stroke-width: 0.62"/>
    <path d="M 482.85 507.17 
L 494.18 512.45 
L 492.06 511.46 
L 491.71 514.06 
L 492.06 511.46 
z
" clip-path="url(#p7b28e05b98)" style="stroke: #000000; stroke-width: 0.62"/>
    <path d="M 500.90 505.02 
L 508.93 514.60 
L 507.43 512.80 
L 506.01 515.01 
L 507.43 512.80 
z
" clip-path="url(#p7b28e05b98)" style="stroke: #000000; stroke-width: 0.62"/>
    <path d="M 521.32 507.94 
L 520.74 508.03 
L 520.22 508.29 
L 519.80 508.71 
L 519.53 509.23 
L 519.44 509.81 
L 519.53 510.39 
L 519.80 510.91 
L 520.22 511.33 
L 520.74 511.59 
L 521.32 511.69 
L 521.90 511.59 
L 522.42 511.33 
L 522.84 510.91 
L 523.10 510.39 
L 523.19 509.81 
L 523.10 509.23 
L 522.84 508.71 
L 522.42 508.29 
L 521.90 508.03 
L 521.32 507.94 
L 521.32 507.94 
L 521.90 508.03 
L 522.42 508.29 
L 522.84 508.71 
L 523.10 509.23 
L 523.19 509.81 
L 523.10 510.39 
L 522.84 510.91 
L 522.42 511.33 
L 521.90 511.59 
L 521.32 511.69 
L 520.74 511.59 
L 520.22 511.33 
L 519.80 510.91 
L 519.53 510.39 
L 519.44 509.81 
L 519.53 509.23 
L 519.80 508.71 
L 520.22 508.29 
L 520.74 508.03 
L 521.32 507.94 
z
" clip-path="url(#p7b28e05b98)" style="stroke: #000000; stroke-width: 0.62"/>
    <path d="M 537.72 507.94 
L 537.14 508.03 
L 536.62 508.29 
L 536.20 508.71 
L 535.94 509.23 
L 535.84 509.81 
L 535.94 510.39 
L 536.20 510.91 
L 536.62 511.33 
L 537.14 511.59 
L 537.72 511.69 
L 538.30 511.59 
L 538.82 511.33 
L 539.24 510.91 
L 539.50 510.39 
L 539.59 509.81 
L 539.50 509.23 
L 539.24 508.71 
L 538.82 508.29 
L 538.30 508.03 
L 537.72 507.94 
L 537.72 507.94 
L 538.30 508.03 
L 538.82 508.29 
L 539.24 508.71 
L 539.50 509.23 
L 539.59 509.81 
L 539.50 510.39 
L 539.24 510.91 
L 538.82 511.33 
L 538.30 511.59 
L 537.72 511.69 
L 537.14 511.59 
L 536.62 511.33 
L 536.20 510.91 
L 535.94 510.39 
L 535.84 509.81 
L 535.94 509.23 
L 536.20 508.71 
L 536.62 508.29 
L 537.14 508.03 
L 537.72 507.94 
z
" clip-path="url(#p7b28e05b98)" style="stroke: #000000; stroke-width: 0.62"/>
    <path d="M 560.37 509.81 
L 547.87 509.81 
L 550.22 509.81 
L 549.43 507.31 
L 550.22 509.81 
z
" clip-path="url(#p7b28e05b98)" style="stroke: #000000; stroke-width: 0.62"/>
    <path d="M 570.52 507.94 
L 569.94 508.03 
L 569.42 508.29 
L 569.01 508.71 
L 568.74 509.23 
L 568.65 509.81 
L 568.74 510.39 
L 569.01 510.91 
L 569.42 511.33 
L 569.94 511.59 
L 570.52 511.69 
L 571.10 511.59 
L 571.63 511.33 
L 572.04 510.91 
L 572.31 510.39 
L 572.40 509.81 
L 572.31 509.23 
L 572.04 508.71 
L 571.63 508.29 
L 571.10 508.03 
L 570.52 507.94 
L 570.52 507.94 
L 571.10 508.03 
L 571.63 508.29 
L 572.04 508.71 
L 572.31 509.23 
L 572.40 509.81 
L 572.31 510.39 
L 572.04 510.91 
L 571.63 511.33 
L 571.10 511.59 
L 570.52 511.69 
L 569.94 511.59 
L 569.42 511.33 
L 569.01 510.91 
L 568.74 510.39 
L 568.65 509.81 
L 568.74 509.23 
L 569.01 508.71 
L 569.42 508.29 
L 569.94 508.03 
L 570.52 507.94 
z
" clip-path="url(#p7b28e05b98)" style="stroke: #000000; stroke-width: 0.62"/>
    <path d="M 592.96 508.19 
L 580.89 511.43 
L 583.15 510.82 
L 581.75 508.61 
L 583.15 510.82 
z
" clip-path="url(#p7b28e05b98)" style="stroke: #000000; stroke-width: 0.62"/>
    <path d="M 609.55 510.35 
L 597.10 509.27 
L 599.43 509.47 
L 598.87 506.91 
L 599.43 509.47 
z
" clip-path="url(#p7b28e05b98)" style="stroke: #000000; stroke-width: 0.62"/>
    <path d="M 619.73 507.94 
L 619.15 508.03 
L 618.63 508.29 
L 618.21 508.71 
L 617.94 509.23 
L 617.85 509.81 
L 617.94 510.39 
L 618.21 510.91 
L 618.63 511.33 
L 619.15 511.59 
L 619.73 511.69 
L 620.31 511.59 
L 620.83 511.33 
L 621.24 510.91 
L 621.51 510.39 
L 621.60 509.81 
L 621.51 509.23 
L 621.24 508.71 
L 620.83 508.29 
L 620.31 508.03 
L 619.73 507.94 
L 619.73 507.94 
L 620.31 508.03 
L 620.83 508.29 
L 621.24 508.71 
L 621.51 509.23 
L 621.60 509.81 
L 621.51 510.39 
L 621.24 510.91 
L 620.83 511.33 
L 620.31 511.59 
L 619.73 511.69 
L 619.15 511.59 
L 618.63 511.33 
L 618.21 510.91 
L 617.94 510.39 
L 617.85 509.81 
L 617.94 509.23 
L 618.21 508.71 
L 618.63 508.29 
L 619.15 508.03 
L 619.73 507.94 
z
" clip-path="url(#p7b28e05b98)" style="stroke: #000000; stroke-width: 0.62"/>
    <path d="M 636.13 507.94 
L 635.55 508.03 
L 635.03 508.29 
L 634.61 508.71 
L 634.35 509.23 
L 634.25 509.81 
L 634.35 510.39 
L 634.61 510.91 
L 635.03 511.33 
L 635.55 511.59 
L 636.13 511.69 
L 636.71 511.59 
L 637.23 511.33 
L 637.65 510.91 
L 637.91 510.39 
L 638.00 509.81 
L 637.91 509.23 
L 637.65 508.71 
L 637.23 508.29 
L 636.71 508.03 
L 636.13 507.94 
L 636.13 507.94 
L 636.71 508.03 
L 637.23 508.29 
L 637.65 508.71 
L 637.91 509.23 
L 638.00 509.81 
L 637.91 510.39 
L 637.65 510.91 
L 637.23 511.33 
L 636.71 511.59 
L 636.13 511.69 
L 635.55 511.59 
L 635.03 511.33 
L 634.61 510.91 
L 634.35 510.39 
L 634.25 509.81 
L 634.35 509.23 
L 634.61 508.71 
L 635.03 508.29 
L 635.55 508.03 
L 636.13 507.94 
z
" clip-path="url(#p7b28e05b98)" style="stroke: #000000; stroke-width: 0.62"/>
    <path d="M 652.53 507.94 
L 651.95 508.03 
L 651.43 508.29 
L 651.01 508.71 
L 650.75 509.23 
L 650.66 509.81 
L 650.75 510.39 
L 651.01 510.91 
L 651.43 511.33 
L 651.95 511.59 
L 652.53 511.69 
L 653.11 511.59 
L 653.63 511.33 
L 654.05 510.91 
L 654.31 510.39 
L 654.41 509.81 
L 654.31 509.23 
L 654.05 508.71 
L 653.63 508.29 
L 653.11 508.03 
L 652.53 507.94 
L 652.53 507.94 
L 653.11 508.03 
L 653.63 508.29 
L 654.05 508.71 
L 654.31 509.23 
L 654.41 509.81 
L 654.31 510.39 
L 654.05 510.91 
L 653.63 511.33 
L 653.11 511.59 
L 652.53 511.69 
L 651.95 511.59 
L 651.43 511.33 
L 651.01 510.91 
L 650.75 510.39 
L 650.66 509.81 
L 650.75 509.23 
L 651.01 508.71 
L 651.43 508.29 
L 651.95 508.03 
L 652.53 507.94 
z
" clip-path="url(#p7b28e05b98)" style="stroke: #000000; stroke-width: 0.62"/>
    <path d="M 668.93 507.94 
L 668.35 508.03 
L 667.83 508.29 
L 667.42 508.71 
L 667.15 509.23 
L 667.06 509.81 
L 667.15 510.39 
L 667.42 510.91 
L 667.83 511.33 
L 668.35 511.59 
L 668.93 511.69 
L 669.51 511.59 
L 670.03 511.33 
L 670.45 510.91 
L 670.72 510.39 
L 670.81 509.81 
L 670.72 509.23 
L 670.45 508.71 
L 670.03 508.29 
L 669.51 508.03 
L 668.93 507.94 
L 668.93 507.94 
L 669.51 508.03 
L 670.03 508.29 
L 670.45 508.71 
L 670.72 509.23 
L 670.81 509.81 
L 670.72 510.39 
L 670.45 510.91 
L 670.03 511.33 
L 669.51 511.59 
L 668.93 511.69 
L 668.35 511.59 
L 667.83 511.33 
L 667.42 510.91 
L 667.15 510.39 
L 667.06 509.81 
L 667.15 509.23 
L 667.42 508.71 
L 667.83 508.29 
L 668.35 508.03 
L 668.93 507.94 
z
" clip-path="url(#p7b28e05b98)" style="stroke: #000000; stroke-width: 0.62"/>
    <path d="M 685.33 507.94 
L 684.75 508.03 
L 684.23 508.29 
L 683.82 508.71 
L 683.55 509.23 
L 683.46 509.81 
L 683.55 510.39 
L 683.82 510.91 
L 684.23 511.33 
L 684.75 511.59 
L 685.33 511.69 
L 685.91 511.59 
L 686.44 511.33 
L 686.85 510.91 
L 687.12 510.39 
L 687.21 509.81 
L 687.12 509.23 
L 686.85 508.71 
L 686.44 508.29 
L 685.91 508.03 
L 685.33 507.94 
L 685.33 507.94 
L 685.91 508.03 
L 686.44 508.29 
L 686.85 508.71 
L 687.12 509.23 
L 687.21 509.81 
L 687.12 510.39 
L 686.85 510.91 
L 686.44 511.33 
L 685.91 511.59 
L 685.33 511.69 
L 684.75 511.59 
L 684.23 511.33 
L 683.82 510.91 
L 683.55 510.39 
L 683.46 509.81 
L 683.55 509.23 
L 683.82 508.71 
L 684.23 508.29 
L 684.75 508.03 
L 685.33 507.94 
z
" clip-path="url(#p7b28e05b98)" style="stroke: #000000; stroke-width: 0.62"/>
    <path d="M 701.74 507.94 
L 701.16 508.03 
L 700.63 508.29 
L 700.22 508.71 
L 699.95 509.23 
L 699.86 509.81 
L 699.95 510.39 
L 700.22 510.91 
L 700.63 511.33 
L 701.16 511.59 
L 701.74 511.69 
L 702.32 511.59 
L 702.84 511.33 
L 703.25 510.91 
L 703.52 510.39 
L 703.61 509.81 
L 703.52 509.23 
L 703.25 508.71 
L 702.84 508.29 
L 702.32 508.03 
L 701.74 507.94 
L 701.74 507.94 
L 702.32 508.03 
L 702.84 508.29 
L 703.25 508.71 
L 703.52 509.23 
L 703.61 509.81 
L 703.52 510.39 
L 703.25 510.91 
L 702.84 511.33 
L 702.32 511.59 
L 701.74 511.69 
L 701.16 511.59 
L 700.63 511.33 
L 700.22 510.91 
L 699.95 510.39 
L 699.86 509.81 
L 699.95 509.23 
L 700.22 508.71 
L 700.63 508.29 
L 701.16 508.03 
L 701.74 507.94 
z
" clip-path="url(#p7b28e05b98)" style="stroke: #000000; stroke-width: 0.62"/>
    <path d="M 718.14 507.94 
L 717.56 508.03 
L 717.04 508.29 
L 716.62 508.71 
L 716.35 509.23 
L 716.26 509.81 
L 716.35 510.39 
L 716.62 510.91 
L 717.04 511.33 
L 717.56 511.59 
L 718.14 511.69 
L 718.72 511.59 
L 719.24 511.33 
L 719.65 510.91 
L 719.92 510.39 
L 720.01 509.81 
L 719.92 509.23 
L 719.65 508.71 
L 719.24 508.29 
L 718.72 508.03 
L 718.14 507.94 
L 718.14 507.94 
L 718.72 508.03 
L 719.24 508.29 
L 719.65 508.71 
L 719.92 509.23 
L 720.01 509.81 
L 719.92 510.39 
L 719.65 510.91 
L 719.24 511.33 
L 718.72 511.59 
L 718.14 511.69 
L 717.56 511.59 
L 717.04 511.33 
L 716.62 510.91 
L 716.35 510.39 
L 716.26 509.81 
L 716.35 509.23 
L 716.62 508.71 
L 717.04 508.29 
L 717.56 508.03 
L 718.14 507.94 
z
" clip-path="url(#p7b28e05b98)" style="stroke: #000000; stroke-width: 0.62"/>
    <path d="M 734.54 507.94 
L 733.96 508.03 
L 733.44 508.29 
L 733.02 508.71 
L 732.76 509.23 
L 732.66 509.81 
L 732.76 510.39 
L 733.02 510.91 
L 733.44 511.33 
L 733.96 511.59 
L 734.54 511.69 
L 735.12 511.59 
L 735.64 511.33 
L 736.06 510.91 
L 736.32 510.39 
L 736.41 509.81 
L 736.32 509.23 
L 736.06 508.71 
L 735.64 508.29 
L 735.12 508.03 
L 734.54 507.94 
L 734.54 507.94 
L 735.12 508.03 
L 735.64 508.29 
L 736.06 508.71 
L 736.32 509.23 
L 736.41 509.81 
L 736.32 510.39 
L 736.06 510.91 
L 735.64 511.33 
L 735.12 511.59 
L 734.54 511.69 
L 733.96 511.59 
L 733.44 511.33 
L 733.02 510.91 
L 732.76 510.39 
L 732.66 509.81 
L 732.76 509.23 
L 733.02 508.71 
L 733.44 508.29 
L 733.96 508.03 
L 734.54 507.94 
z
" clip-path="url(#p7b28e05b98)" style="stroke: #000000; stroke-width: 0.62"/>
   </g>
   <g id="matplotlib.axis_7">
    <g id="xtick_23">
     <g>
      <path d="M 144.36 577.08 L 144.36 500.04" clip-path="url(#p7b28e05b98)" style="fill: none; stroke-dasharray: 1.85,0.8; stroke-dashoffset: 0; stroke: #707070; stroke-width: 0.5"/>
     </g>
     <g>
      <g>
       <use href="#m1504cfccaf" x="144.36" y="577.08" style="stroke: #000000; stroke-width: 0.8"/>
      </g>
     </g>
    </g>
    <g id="xtick_24">
     <g>
      <path d="M 275.40 577.08 L 275.40 500.04" clip-path="url(#p7b28e05b98)" style="fill: none; stroke-dasharray: 1.85,0.8; stroke-dashoffset: 0; stroke: #707070; stroke-width: 0.5"/>
     </g>
     <g>
      <g>
       <use href="#m1504cfccaf" x="275.40" y="577.08" style="stroke: #000000; stroke-width: 0.8"/>
      </g>
     </g>
    </g>
    <g id="xtick_25">
     <g>
      <path d="M 406.44 577.08 L 406.44 500.04" clip-path="url(#p7b28e05b98)" style="fill: none; stroke-dasharray: 1.85,0.8; stroke-dashoffset: 0; stroke: #707070; stroke-width: 0.5"/>
     </g>
     <g>
      <g>
       <use href="#m1504cfccaf" x="406.44" y="577.08" style="stroke: #000000; stroke-width: 0.8"/>
      </g>
     </g>
    </g>
    <g id="xtick_26">
     <g>
      <path d="M 537.48 577.08 L 537.48 500.04" clip-path="url(#p7b28e05b98)" style="fill: none; stroke-dasharray: 1.85,0.8; stroke-dashoffset: 0; stroke: #707070; stroke-width: 0.5"/>
     </g>
     <g>
      <g>
       <use href="#m1504cfccaf" x="537.48" y="577.08" style="stroke: #000000; stroke-width: 0.8"/>
      </g>
     </g>
    </g>
    <g id="xtick_27">
     <g>
      <path d="M 669.24 577.08 L 669.24 500.04" clip-path="url(#p7b28e05b98)" style="fill: none; stroke-dasharray: 1.85,0.8; stroke-dashoffset: 0; stroke: #707070; stroke-width: 0.5"/>
     </g>
     <g>
      <g>
       <use href="#m1504cfccaf" x="669.24" y="577.08" style="stroke: #000000; stroke-width: 0.8"/>
      </g>
     </g>
    </g>
    <g id="xtick_28">
     <g>
      <g>
       <use href="#m05db3bdf9b" x="78.84" y="577.08" style="stroke: #000000; stroke-width: 0.6"/>
      </g>
     </g>
    </g>
    <g id="xtick_29">
     <g>
      <g>
       <use href="#m05db3bdf9b" x="209.88" y="577.08" style="stroke: #000000; stroke-width: 0.6"/>
      </g>
     </g>
    </g>
    <g id="xtick_30">
     <g>
      <g>
       <use href="#m05db3bdf9b" x="340.92" y="577.08" style="stroke: #000000; stroke-width: 0.6"/>
      </g>
     </g>
    </g>
    <g id="xtick_31">
     <g>
      <g>
       <use href="#m05db3bdf9b" x="471.96" y="577.08" style="stroke: #000000; stroke-width: 0.6"/>
      </g>
     </g>
    </g>
    <g id="xtick_32">
     <g>
      <g>
       <use href="#m05db3bdf9b" x="603.00" y="577.08" style="stroke: #000000; stroke-width: 0.6"/>
      </g>
     </g>
    </g>
    <g id="xtick_33">
     <g>
      <g>
       <use href="#m05db3bdf9b" x="734.76" y="577.08" style="stroke: #000000; stroke-width: 0.6"/>
      </g>
     </g>
    </g>
   </g>
   <g id="matplotlib.axis_8">
    <g id="ytick_21">
     <g>
      <path d="M 62.28 566.28 L 751.32 566.28" clip-path="url(#p7b28e05b98)" style="fill: none; stroke: #b0b0b0; stroke-width: 0.8; stroke-linecap: square"/>
     </g>
     <g>
      <g>
       <use href="#m5d545ce8f8" x="62.28" y="566.28" style="stroke: #000000; stroke-width: 0.8"/>
      </g>
     </g>
     <g id="text_34">
      <text style="font-size: 10px; font-family: 'DejaVu Sans', sans-serif; text-anchor: end" x="55.28" y="570.07" transform="rotate(-0 55.28 570.07)">0</text>
     </g>
    </g>
    <g id="ytick_22">
     <g>
      <path d="M 62.28 521.64 L 751.32 521.64" clip-path="url(#p7b28e05b98)" style="fill: none; stroke: #b0b0b0; stroke-width: 0.8; stroke-linecap: square"/>
     </g>
     <g>
      <g>
       <use href="#m5d545ce8f8" x="62.28" y="521.64" style="stroke: #000000; stroke-width: 0.8"/>
      </g>
     </g>
     <g id="text_35">
      <text style="font-size: 10px; font-family: 'DejaVu Sans', sans-serif; text-anchor: end" x="55.28" y="525.44" transform="rotate(-0 55.28 525.44)">20</text>
     </g>
    </g>
    <g id="text_36">
     <g transform="translate(33.22 578.01) rotate(-90)">
      <text><tspan x="0.00" y="-0.06" style="font-size: 10px; font-family: 'DejaVu Sans', sans-serif">10 m ws [ms</tspan><tspan x="64.33" y="-3.89" style="font-size: 7px; font-family: 'DejaVu Sans', sans-serif">−1</tspan><tspan x="74.93" y="-0.06" style="font-size: 10px; font-family: 'DejaVu Sans', sans-serif">]</tspan></text>
     </g>
    </g>
   </g>
   <g id="line2d_20">
    <path d="M 78.48 555.34 
L 94.88 556.01 
L 111.28 557.57 
L 127.68 556.68 
L 144.08 555.78 
L 160.48 554.56 
L 176.88 553.11 
L 193.29 552.44 
L 209.69 555.11 
L 226.09 555.34 
L 242.49 555.78 
L 258.89 556.01 
L 275.29 556.90 
L 291.70 558.02 
L 308.10 556.79 
L 324.50 556.79 
L 340.90 553.44 
L 357.30 554.67 
L 373.70 556.01 
L 390.11 557.35 
L 406.51 558.02 
L 422.91 561.14 
L 439.31 563.15 
L 455.71 564.60 
L 472.11 561.81 
L 488.52 562.55 
L 504.92 562.93 
L 521.32 564.04 
L 537.72 564.04 
L 554.12 558.91 
L 570.52 563.15 
L 586.92 561.59 
L 603.33 558.91 
L 619.73 563.26 
L 636.13 563.60 
L 652.53 563.37 
L 668.93 563.26 
L 685.33 564.26 
L 701.74 564.04 
L 718.14 565.38 
L 734.54 564.71 
" clip-path="url(#p7b28e05b98)" style="fill: none; stroke: #000000; stroke-width: 1.5; stroke-linecap: square"/>
    <g clip-path="url(#p7b28e05b98)">
     <use href="#m0ef9cdae93" x="78.48" y="555.34" style="stroke: #000000"/>
     <use href="#m0ef9cdae93" x="94.88" y="556.01" style="stroke: #000000"/>
     <use href="#m0ef9cdae93" x="111.28" y="557.57" style="stroke: #000000"/>
     <use href="#m0ef9cdae93" x="127.68" y="556.68" style="stroke: #000000"/>
     <use href="#m0ef9cdae93" x="144.08" y="555.78" style="stroke: #000000"/>
     <use href="#m0ef9cdae93" x="160.48" y="554.56" style="stroke: #000000"/>
     <use href="#m0ef9cdae93" x="176.88" y="553.11" style="stroke: #000000"/>
     <use href="#m0ef9cdae93" x="193.29" y="552.44" style="stroke: #000000"/>
     <use href="#m0ef9cdae93" x="209.69" y="555.11" style="stroke: #000000"/>
     <use href="#m0ef9cdae93" x="226.09" y="555.34" style="stroke: #000000"/>
     <use href="#m0ef9cdae93" x="242.49" y="555.78" style="stroke: #000000"/>
     <use href="#m0ef9cdae93" x="258.89" y="556.01" style="stroke: #000000"/>
     <use href="#m0ef9cdae93" x="275.29" y="556.90" style="stroke: #000000"/>
     <use href="#m0ef9cdae93" x="291.70" y="558.02" style="stroke: #000000"/>
     <use href="#m0ef9cdae93" x="308.10" y="556.79" style="stroke: #000000"/>
     <use href="#m0ef9cdae93" x="324.50" y="556.79" style="stroke: #000000"/>
     <use href="#m0ef9cdae93" x="340.90" y="553.44" style="stroke: #000000"/>
     <use href="#m0ef9cdae93" x="357.30" y="554.67" style="stroke: #000000"/>
     <use href="#m0ef9cdae93" x="373.70" y="556.01" style="stroke: #000000"/>
     <use href="#m0ef9cdae93" x="390.11" y="557.35" style="stroke: #000000"/>
     <use href="#m0ef9cdae93" x="406.51" y="558.02" style="stroke: #000000"/>
     <use href="#m0ef9cdae93" x="422.91" y="561.14" style="stroke: #000000"/>
     <use href="#m0ef9cdae93" x="439.31" y="563.15" style="stroke: #000000"/>
     <use href="#m0ef9cdae93" x="455.71" y="564.60" style="stroke: #000000"/>
     <use href="#m0ef9cdae93" x="472.11" y="561.81" style="stroke: #000000"/>
     <use href="#m0ef9cdae93" x="488.52" y="562.55" style="stroke: #000000"/>
     <use href="#m0ef9cdae93" x="504.92" y="562.93" style="stroke: #000000"/>
     <use href="#m0ef9cdae93" x="521.32" y="564.04" style="stroke: #000000"/>
     <use href="#m0ef9cdae93" x="537.72" y="564.04" style="stroke: #000000"/>
     <use href="#m0ef9cdae93" x="554.12" y="558.91" style="stroke: #000000"/>
     <use href="#m0ef9cdae93" x="570.52" y="563.15" style="stroke: #000000"/>
     <use href="#m0ef9cdae93" x="586.92" y="561.59" style="stroke: #000000"/>
     <use href="#m0ef9cdae93" x="603.33" y="558.91" style="stroke: #000000"/>
     <use href="#m0ef9cdae93" x="619.73" y="563.26" style="stroke: #000000"/>
     <use href="#m0ef9cdae93" x="636.13" y="563.60" style="stroke: #000000"/>
     <use href="#m0ef9cdae93" x="652.53" y="563.37" style="stroke: #000000"/>
     <use href="#m0ef9cdae93" x="668.93" y="563.26" style="stroke: #000000"/>
     <use href="#m0ef9cdae93" x="685.33" y="564.26" style="stroke: #000000"/>
     <use href="#m0ef9cdae93" x="701.74" y="564.04" style="stroke: #000000"/>
     <use href="#m0ef9cdae93" x="718.14" y="565.38" style="stroke: #000000"/>
     <use href="#m0ef9cdae93" x="734.54" y="564.71" style="stroke: #000000"/>
    </g>
   </g>
   <g id="line2d_21">
    <path d="M 78.48 538.15 
L 94.88 538.82 
L 111.28 543.96 
L 127.68 541.72 
L 144.08 539.72 
L 160.48 536.59 
L 176.88 532.24 
L 193.29 529.45 
L 209.69 532.24 
L 226.09 534.47 
L 242.49 536.59 
L 258.89 536.59 
L 275.29 541.05 
L 291.70 545.29 
L 308.10 542.28 
L 324.50 541.17 
L 340.90 533.91 
L 357.30 531.46 
L 373.70 541.17 
L 390.11 543.96 
L 406.51 545.29 
L 422.91 552.44 
L 439.31 559.35 
L 455.71 560.25 
L 472.11 554.00 
L 488.52 553.78 
L 504.92 558.91 
L 521.32 561.81 
L 537.72 561.25 
L 554.12 546.63 
L 570.52 555.34 
L 586.92 554.67 
L 603.33 547.30 
L 619.73 554.56 
L 636.13 562.03 
L 652.53 561.81 
L 668.93 561.81 
L 685.33 561.14 
L 701.74 558.91 
L 718.14 561.14 
L 734.54 560.81 
" clip-path="url(#p7b28e05b98)" style="fill: none; stroke: #ff7f0e; stroke-width: 1.5; stroke-linecap: square"/>
    <defs>
     <path id="mac0f037396" d="M 0 1.5 
C 0.39 1.5 0.77 1.34 1.06 1.06 
C 1.34 0.77 1.5 0.39 1.5 0 
C 1.5 -0.39 1.34 -0.77 1.06 -1.06 
C 0.77 -1.34 0.39 -1.5 0 -1.5 
C -0.39 -1.5 -0.77 -1.34 -1.06 -1.06 
C -1.34 -0.77 -1.5 -0.39 -1.5 0 
C -1.5 0.39 -1.34 0.77 -1.06 1.06 
C -0.77 1.34 -0.39 1.5 0 1.5 
z
" style="stroke: #ff7f0e"/>
    </defs>
    <g clip-path="url(#p7b28e05b98)">
     <use href="#mac0f037396" x="78.48" y="538.15" style="fill: #ff7f0e; stroke: #ff7f0e"/>
     <use href="#mac0f037396" x="94.88" y="538.82" style="fill: #ff7f0e; stroke: #ff7f0e"/>
     <use href="#mac0f037396" x="111.28" y="543.96" style="fill: #ff7f0e; stroke: #ff7f0e"/>
     <use href="#mac0f037396" x="127.68" y="541.72" style="fill: #ff7f0e; stroke: #ff7f0e"/>
     <use href="#mac0f037396" x="144.08" y="539.72" style="fill: #ff7f0e; stroke: #ff7f0e"/>
     <use href="#mac0f037396" x="160.48" y="536.59" style="fill: #ff7f0e; stroke: #ff7f0e"/>
     <use href="#mac0f037396" x="176.88" y="532.24" style="fill: #ff7f0e; stroke: #ff7f0e"/>
     <use href="#mac0f037396" x="193.29" y="529.45" style="fill: #ff7f0e; stroke: #ff7f0e"/>
     <use href="#mac0f037396" x="209.69" y="532.24" style="fill: #ff7f0e; stroke: #ff7f0e"/>
     <use href="#mac0f037396" x="226.09" y="534.47" style="fill: #ff7f0e; stroke: #ff7f0e"/>
     <use href="#mac0f037396" x="242.49" y="536.59" style="fill: #ff7f0e; stroke: #ff7f0e"/>
     <use href="#mac0f037396" x="258.89" y="536.59" style="fill: #ff7f0e; stroke: #ff7f0e"/>
     <use href="#mac0f037396" x="275.29" y="541.05" style="fill: #ff7f0e; stroke: #ff7f0e"/>
     <use href="#mac0f037396" x="291.70" y="545.29" style="fill: #ff7f0e; stroke: #ff7f0e"/>
     <use href="#mac0f037396" x="308.10" y="542.28" style="fill: #ff7f0e; stroke: #ff7f0e"/>
     <use href="#mac0f037396" x="324.50" y="541.17" style="fill: #ff7f0e; stroke: #ff7f0e"/>
     <use href="#mac0f037396" x="340.90" y="533.91" style="fill: #ff7f0e; stroke: #ff7f0e"/>
     <use href="#mac0f037396" x="357.30" y="531.46" style="fill: #ff7f0e; stroke: #ff7f0e"/>
     <use href="#mac0f037396" x="373.70" y="541.17" style="fill: #ff7f0e; stroke: #ff7f0e"/>
     <use href="#mac0f037396" x="390.11" y="543.96" style="fill: #ff7f0e; stroke: #ff7f0e"/>
     <use href="#mac0f037396" x="406.51" y="545.29" style="fill: #ff7f0e; stroke: #ff7f0e"/>
     <use href="#mac0f037396" x="422.91" y="552.44" style="fill: #ff7f0e; stroke: #ff7f0e"/>
     <use href="#mac0f037396" x="439.31" y="559.35" style="fill: #ff7f0e; stroke: #ff7f0e"/>
     <use href="#mac0f037396" x="455.71" y="560.25" style="fill: #ff7f0e; stroke: #ff7f0e"/>
     <use href="#mac0f037396" x="472.11" y="554.00" style="fill: #ff7f0e; stroke: #ff7f0e"/>
     <use href="#mac0f037396" x="488.52" y="553.78" style="fill: #ff7f0e; stroke: #ff7f0e"/>
     <use href="#mac0f037396" x="504.92" y="558.91" style="fill: #ff7f0e; stroke: #ff7f0e"/>
     <use href="#mac0f037396" x="521.32" y="561.81" style="fill: #ff7f0e; stroke: #ff7f0e"/>
     <use href="#mac0f037396" x="537.72" y="561.25" style="fill: #ff7f0e; stroke: #ff7f0e"/>
     <use href="#mac0f037396" x="554.12" y="546.63" style="fill: #ff7f0e; stroke: #ff7f0e"/>
     <use href="#mac0f037396" x="570.52" y="555.34" style="fill: #ff7f0e; stroke: #ff7f0e"/>
     <use href="#mac0f037396" x="586.92" y="554.67" style="fill: #ff7f0e; stroke: #ff7f0e"/>
     <use href="#mac0f037396" x="603.33" y="547.30" style="fill: #ff7f0e; stroke: #ff7f0e"/>
     <use href="#mac0f037396" x="619.73" y="554.56" style="fill: #ff7f0e; stroke: #ff7f0e"/>
     <use href="#mac0f037396" x="636.13" y="562.03" style="fill: #ff7f0e; stroke: #ff7f0e"/>
     <use href="#mac0f037396" x="652.53" y="561.81" style="fill: #ff7f0e; stroke: #ff7f0e"/>
     <use href="#mac0f037396" x="668.93" y="561.81" style="fill: #ff7f0e; stroke: #ff7f0e"/>
     <use href="#mac0f037396" x="685.33" y="561.14" style="fill: #ff7f0e; stroke: #ff7f0e"/>
     <use href="#mac0f037396" x="701.74" y="558.91" style="fill: #ff7f0e; stroke: #ff7f0e"/>
     <use href="#mac0f037396" x="718.14" y="561.14" style="fill: #ff7f0e; stroke: #ff7f0e"/>
     <use href="#mac0f037396" x="734.54" y="560.81" style="fill: #ff7f0e; stroke: #ff7f0e"/>
    </g>
   </g>
   <g>
    <path d="M 62.28 577.08 L 62.28 500.04" style="fill: none; stroke: #000000; stroke-width: 0.8; stroke-linejoin: miter; stroke-linecap: square"/>
   </g>
   <g>
    <path d="M 751.32 577.08 L 751.32 500.04" style="fill: none; stroke: #000000; stroke-width: 0.8; stroke-linejoin: miter; stroke-linecap: square"/>
   </g>
   <g>
    <path d="M 62.28 577.08 L 751.32 577.08" style="fill: none; stroke: #000000; stroke-width: 0.8; stroke-linejoin: miter; stroke-linecap: square"/>
   </g>
   <g>
    <path d="M 62.28 500.04 L 751.32 500.04" style="fill: none; stroke: #000000; stroke-width: 0.8; stroke-linejoin: miter; stroke-linecap: square"/>
   </g>
   <g id="text_37">
    <text style="font-size: 9.5px; font-family: 'DejaVu Sans', sans-serif; text-anchor: middle" x="78.48" y="566.06" transform="rotate(-0 78.48 566.06)">5.0</text>
   </g>
   <g id="text_38">
    <text style="font-size: 9.5px; font-family: 'DejaVu Sans', sans-serif; text-anchor: middle; fill: #ff7f0e" x="78.48" y="533.38" transform="rotate(-0 78.48 533.38)">13.0</text>
   </g>
   <g id="text_39">
    <text style="font-size: 9.5px; font-family: 'DejaVu Sans', sans-serif; text-anchor: middle" x="94.88" y="566.73" transform="rotate(-0 94.88 566.73)">4.0</text>
   </g>
   <g id="text_40">
    <text style="font-size: 9.5px; font-family: 'DejaVu Sans', sans-serif; text-anchor: middle; fill: #ff7f0e" x="94.88" y="534.05" transform="rotate(-0 94.88 534.05)">12.0</text>
   </g>
   <g id="text_41">
    <text style="font-size: 9.5px; font-family: 'DejaVu Sans', sans-serif; text-anchor: middle" x="111.28" y="568.29" transform="rotate(-0 111.28 568.29)">4.0</text>
   </g>
   <g id="text_42">
    <text style="font-size: 9.5px; font-family: 'DejaVu Sans', sans-serif; text-anchor: middle; fill: #ff7f0e" x="111.28" y="539.18" transform="rotate(-0 111.28 539.18)">10.0</text>
   </g>
   <g id="text_43">
    <text style="font-size: 9.5px; font-family: 'DejaVu Sans', sans-serif; text-anchor: middle" x="127.68" y="567.40" transform="rotate(-0 127.68 567.40)">4.0</text>
   </g>
   <g id="text_44">
    <text style="font-size: 9.5px; font-family: 'DejaVu Sans', sans-serif; text-anchor: middle; fill: #ff7f0e" x="127.68" y="536.95" transform="rotate(-0 127.68 536.95)">11.0</text>
   </g>
   <g id="text_45">
    <text style="font-size: 9.5px; font-family: 'DejaVu Sans', sans-serif; text-anchor: middle" x="144.08" y="566.50" transform="rotate(-0 144.08 566.50)">5.0</text>
   </g>
   <g id="text_46">
    <text style="font-size: 9.5px; font-family: 'DejaVu Sans', sans-serif; text-anchor: middle; fill: #ff7f0e" x="144.08" y="534.94" transform="rotate(-0 144.08 534.94)">12.0</text>
   </g>
   <g id="text_47">
    <text style="font-size: 9.5px; font-family: 'DejaVu Sans', sans-serif; text-anchor: middle" x="160.48" y="565.28" transform="rotate(-0 160.48 565.28)">5.0</text>
   </g>
   <g id="text_48">
    <text style="font-size: 9.5px; font-family: 'DejaVu Sans', sans-serif; text-anchor: middle; fill: #ff7f0e" x="160.48" y="531.82" transform="rotate(-0 160.48 531.82)">13.0</text>
   </g>
   <g id="text_49">
    <text style="font-size: 9.5px; font-family: 'DejaVu Sans', sans-serif; text-anchor: middle" x="176.88" y="563.82" transform="rotate(-0 176.88 563.82)">6.0</text>
   </g>
   <g id="text_50">
    <text style="font-size: 9.5px; font-family: 'DejaVu Sans', sans-serif; text-anchor: middle; fill: #ff7f0e" x="176.88" y="527.46" transform="rotate(-0 176.88 527.46)">15.0</text>
   </g>
   <g id="text_51">
    <text style="font-size: 9.5px; font-family: 'DejaVu Sans', sans-serif; text-anchor: middle" x="193.29" y="563.15" transform="rotate(-0 193.29 563.15)">6.0</text>
   </g>
   <g id="text_52">
    <text style="font-size: 9.5px; font-family: 'DejaVu Sans', sans-serif; text-anchor: middle; fill: #ff7f0e" x="193.29" y="524.67" transform="rotate(-0 193.29 524.67)">16.0</text>
   </g>
   <g id="text_53">
    <text style="font-size: 9.5px; font-family: 'DejaVu Sans', sans-serif; text-anchor: middle" x="209.69" y="565.83" transform="rotate(-0 209.69 565.83)">5.0</text>
   </g>
   <g id="text_54">
    <text style="font-size: 9.5px; font-family: 'DejaVu Sans', sans-serif; text-anchor: middle; fill: #ff7f0e" x="209.69" y="527.46" transform="rotate(-0 209.69 527.46)">15.0</text>
   </g>
   <g id="text_55">
    <text style="font-size: 9.5px; font-family: 'DejaVu Sans', sans-serif; text-anchor: middle" x="226.09" y="566.06" transform="rotate(-0 226.09 566.06)">5.0</text>
   </g>
   <g id="text_56">
    <text style="font-size: 9.5px; font-family: 'DejaVu Sans', sans-serif; text-anchor: middle; fill: #ff7f0e" x="226.09" y="529.70" transform="rotate(-0 226.09 529.70)">14.0</text>
   </g>
   <g id="text_57">
    <text style="font-size: 9.5px; font-family: 'DejaVu Sans', sans-serif; text-anchor: middle" x="242.49" y="566.50" transform="rotate(-0 242.49 566.50)">5.0</text>
   </g>
   <g id="text_58">
    <text style="font-size: 9.5px; font-family: 'DejaVu Sans', sans-serif; text-anchor: middle; fill: #ff7f0e" x="242.49" y="531.82" transform="rotate(-0 242.49 531.82)">13.0</text>
   </g>
   <g id="text_59">
    <text style="font-size: 9.5px; font-family: 'DejaVu Sans', sans-serif; text-anchor: middle" x="258.89" y="566.73" transform="rotate(-0 258.89 566.73)">4.0</text>
   </g>
   <g id="text_60">
    <text style="font-size: 9.5px; font-family: 'DejaVu Sans', sans-serif; text-anchor: middle; fill: #ff7f0e" x="258.89" y="531.82" transform="rotate(-0 258.89 531.82)">13.0</text>
   </g>
   <g id="text_61">
    <text style="font-size: 9.5px; font-family: 'DejaVu Sans', sans-serif; text-anchor: middle" x="275.29" y="567.62" transform="rotate(-0 275.29 567.62)">4.0</text>
   </g>
   <g id="text_62">
    <text style="font-size: 9.5px; font-family: 'DejaVu Sans', sans-serif; text-anchor: middle; fill: #ff7f0e" x="275.29" y="536.28" transform="rotate(-0 275.29 536.28)">11.0</text>
   </g>
   <g id="text_63">
    <text style="font-size: 9.5px; font-family: 'DejaVu Sans', sans-serif; text-anchor: middle" x="291.70" y="568.73" transform="rotate(-0 291.70 568.73)">4.0</text>
   </g>
   <g id="text_64">
    <text style="font-size: 9.5px; font-family: 'DejaVu Sans', sans-serif; text-anchor: middle; fill: #ff7f0e" x="291.70" y="540.52" transform="rotate(-0 291.70 540.52)">9.0</text>
   </g>
   <g id="text_65">
    <text style="font-size: 9.5px; font-family: 'DejaVu Sans', sans-serif; text-anchor: middle" x="308.10" y="567.51" transform="rotate(-0 308.10 567.51)">4.0</text>
   </g>
   <g id="text_66">
    <text style="font-size: 9.5px; font-family: 'DejaVu Sans', sans-serif; text-anchor: middle; fill: #ff7f0e" x="308.10" y="537.51" transform="rotate(-0 308.10 537.51)">11.0</text>
   </g>
   <g id="text_67">
    <text style="font-size: 9.5px; font-family: 'DejaVu Sans', sans-serif; text-anchor: middle" x="324.50" y="567.51" transform="rotate(-0 324.50 567.51)">4.0</text>
   </g>
   <g id="text_68">
    <text style="font-size: 9.5px; font-family: 'DejaVu Sans', sans-serif; text-anchor: middle; fill: #ff7f0e" x="324.50" y="536.39" transform="rotate(-0 324.50 536.39)">11.0</text>
   </g>
   <g id="text_69">
    <text style="font-size: 9.5px; font-family: 'DejaVu Sans', sans-serif; text-anchor: middle" x="340.90" y="564.16" transform="rotate(-0 340.90 564.16)">6.0</text>
   </g>
   <g id="text_70">
    <text style="font-size: 9.5px; font-family: 'DejaVu Sans', sans-serif; text-anchor: middle; fill: #ff7f0e" x="340.90" y="529.14" transform="rotate(-0 340.90 529.14)">15.0</text>
   </g>
   <g id="text_71">
    <text style="font-size: 9.5px; font-family: 'DejaVu Sans', sans-serif; text-anchor: middle" x="357.30" y="565.39" transform="rotate(-0 357.30 565.39)">5.0</text>
   </g>
   <g id="text_72">
    <text style="font-size: 9.5px; font-family: 'DejaVu Sans', sans-serif; text-anchor: middle; fill: #ff7f0e" x="357.30" y="526.68" transform="rotate(-0 357.30 526.68)">16.0</text>
   </g>
   <g id="text_73">
    <text style="font-size: 9.5px; font-family: 'DejaVu Sans', sans-serif; text-anchor: middle" x="373.70" y="566.73" transform="rotate(-0 373.70 566.73)">4.0</text>
   </g>
   <g id="text_74">
    <text style="font-size: 9.5px; font-family: 'DejaVu Sans', sans-serif; text-anchor: middle; fill: #ff7f0e" x="373.70" y="536.39" transform="rotate(-0 373.70 536.39)">11.0</text>
   </g>
   <g id="text_75">
    <text style="font-size: 9.5px; font-family: 'DejaVu Sans', sans-serif; text-anchor: middle" x="390.11" y="568.06" transform="rotate(-0 390.11 568.06)">4.0</text>
   </g>
   <g id="text_76">
    <text style="font-size: 9.5px; font-family: 'DejaVu Sans', sans-serif; text-anchor: middle; fill: #ff7f0e" x="390.11" y="539.18" transform="rotate(-0 390.11 539.18)">10.0</text>
   </g>
   <g id="text_77">
    <text style="font-size: 9.5px; font-family: 'DejaVu Sans', sans-serif; text-anchor: middle" x="406.51" y="568.73" transform="rotate(-0 406.51 568.73)">3.0</text>
   </g>
   <g id="text_78">
    <text style="font-size: 9.5px; font-family: 'DejaVu Sans', sans-serif; text-anchor: middle; fill: #ff7f0e" x="406.51" y="540.52" transform="rotate(-0 406.51 540.52)">9.0</text>
   </g>
   <g id="text_79">
    <text style="font-size: 9.5px; font-family: 'DejaVu Sans', sans-serif; text-anchor: middle" x="422.91" y="571.86" transform="rotate(-0 422.91 571.86)">2.0</text>
   </g>
   <g id="text_80">
    <text style="font-size: 9.5px; font-family: 'DejaVu Sans', sans-serif; text-anchor: middle; fill: #ff7f0e" x="422.91" y="547.66" transform="rotate(-0 422.91 547.66)">6.0</text>
   </g>
   <g id="text_81">
    <text style="font-size: 9.5px; font-family: 'DejaVu Sans', sans-serif; text-anchor: middle" x="439.31" y="573.87" transform="rotate(-0 439.31 573.87)">1.0</text>
   </g>
   <g id="text_82">
    <text style="font-size: 9.5px; font-family: 'DejaVu Sans', sans-serif; text-anchor: middle; fill: #ff7f0e" x="439.31" y="554.58" transform="rotate(-0 439.31 554.58)">3.0</text>
   </g>
   <g id="text_83">
    <text style="font-size: 9.5px; font-family: 'DejaVu Sans', sans-serif; text-anchor: middle" x="455.71" y="575.32" transform="rotate(-0 455.71 575.32)">1.0</text>
   </g>
   <g id="text_84">
    <text style="font-size: 9.5px; font-family: 'DejaVu Sans', sans-serif; text-anchor: middle; fill: #ff7f0e" x="455.71" y="555.47" transform="rotate(-0 455.71 555.47)">2.0</text>
   </g>
   <g id="text_85">
    <text style="font-size: 9.5px; font-family: 'DejaVu Sans', sans-serif; text-anchor: middle" x="472.11" y="572.53" transform="rotate(-0 472.11 572.53)">2.0</text>
   </g>
   <g id="text_86">
    <text style="font-size: 9.5px; font-family: 'DejaVu Sans', sans-serif; text-anchor: middle; fill: #ff7f0e" x="472.11" y="549.22" transform="rotate(-0 472.11 549.22)">5.0</text>
   </g>
   <g id="text_87">
    <text style="font-size: 9.5px; font-family: 'DejaVu Sans', sans-serif; text-anchor: middle" x="488.52" y="573.26" transform="rotate(-0 488.52 573.26)">1.0</text>
   </g>
   <g id="text_88">
    <text style="font-size: 9.5px; font-family: 'DejaVu Sans', sans-serif; text-anchor: middle; fill: #ff7f0e" x="488.52" y="549.00" transform="rotate(-0 488.52 549.00)">5.0</text>
   </g>
   <g id="text_89">
    <text style="font-size: 9.5px; font-family: 'DejaVu Sans', sans-serif; text-anchor: middle" x="504.92" y="573.64" transform="rotate(-0 504.92 573.64)">1.0</text>
   </g>
   <g id="text_90">
    <text style="font-size: 9.5px; font-family: 'DejaVu Sans', sans-serif; text-anchor: middle; fill: #ff7f0e" x="504.92" y="554.13" transform="rotate(-0 504.92 554.13)">3.0</text>
   </g>
   <g id="text_91">
    <text style="font-size: 9.5px; font-family: 'DejaVu Sans', sans-serif; text-anchor: middle" x="521.32" y="574.76" transform="rotate(-0 521.32 574.76)">1.0</text>
   </g>
   <g id="text_92">
    <text style="font-size: 9.5px; font-family: 'DejaVu Sans', sans-serif; text-anchor: middle; fill: #ff7f0e" x="521.32" y="557.03" transform="rotate(-0 521.32 557.03)">2.0</text>
   </g>
   <g id="text_93">
    <text style="font-size: 9.5px; font-family: 'DejaVu Sans', sans-serif; text-anchor: middle" x="537.72" y="574.76" transform="rotate(-0 537.72 574.76)">1.0</text>
   </g>
   <g id="text_94">
    <text style="font-size: 9.5px; font-family: 'DejaVu Sans', sans-serif; text-anchor: middle; fill: #ff7f0e" x="537.72" y="556.48" transform="rotate(-0 537.72 556.48)">2.0</text>
   </g>
   <g id="text_95">
    <text style="font-size: 9.5px; font-family: 'DejaVu Sans', sans-serif; text-anchor: middle" x="554.12" y="569.63" transform="rotate(-0 554.12 569.63)">3.0</text>
   </g>
   <g id="text_96">
    <text style="font-size: 9.5px; font-family: 'DejaVu Sans', sans-serif; text-anchor: middle; fill: #ff7f0e" x="554.12" y="541.86" transform="rotate(-0 554.12 541.86)">9.0</text>
   </g>
   <g id="text_97">
    <text style="font-size: 9.5px; font-family: 'DejaVu Sans', sans-serif; text-anchor: middle" x="570.52" y="573.87" transform="rotate(-0 570.52 573.87)">1.0</text>
   </g>
   <g id="text_98">
    <text style="font-size: 9.5px; font-family: 'DejaVu Sans', sans-serif; text-anchor: middle; fill: #ff7f0e" x="570.52" y="550.56" transform="rotate(-0 570.52 550.56)">5.0</text>
   </g>
   <g id="text_99">
    <text style="font-size: 9.5px; font-family: 'DejaVu Sans', sans-serif; text-anchor: middle" x="586.92" y="572.31" transform="rotate(-0 586.92 572.31)">2.0</text>
   </g>
   <g id="text_100">
    <text style="font-size: 9.5px; font-family: 'DejaVu Sans', sans-serif; text-anchor: middle; fill: #ff7f0e" x="586.92" y="549.89" transform="rotate(-0 586.92 549.89)">5.0</text>
   </g>
   <g id="text_101">
    <text style="font-size: 9.5px; font-family: 'DejaVu Sans', sans-serif; text-anchor: middle" x="603.33" y="569.63" transform="rotate(-0 603.33 569.63)">3.0</text>
   </g>
   <g id="text_102">
    <text style="font-size: 9.5px; font-family: 'DejaVu Sans', sans-serif; text-anchor: middle; fill: #ff7f0e" x="603.33" y="542.53" transform="rotate(-0 603.33 542.53)">8.0</text>
   </g>
   <g id="text_103">
    <text style="font-size: 9.5px; font-family: 'DejaVu Sans', sans-serif; text-anchor: middle" x="619.73" y="573.98" transform="rotate(-0 619.73 573.98)">1.0</text>
   </g>
   <g id="text_104">
    <text style="font-size: 9.5px; font-family: 'DejaVu Sans', sans-serif; text-anchor: middle; fill: #ff7f0e" x="619.73" y="549.78" transform="rotate(-0 619.73 549.78)">5.0</text>
   </g>
   <g id="text_105">
    <text style="font-size: 9.5px; font-family: 'DejaVu Sans', sans-serif; text-anchor: middle" x="636.13" y="574.31" transform="rotate(-0 636.13 574.31)">1.0</text>
   </g>
   <g id="text_106">
    <text style="font-size: 9.5px; font-family: 'DejaVu Sans', sans-serif; text-anchor: middle; fill: #ff7f0e" x="636.13" y="557.26" transform="rotate(-0 636.13 557.26)">2.0</text>
   </g>
   <g id="text_107">
    <text style="font-size: 9.5px; font-family: 'DejaVu Sans', sans-serif; text-anchor: middle" x="652.53" y="574.09" transform="rotate(-0 652.53 574.09)">1.0</text>
   </g>
   <g id="text_108">
    <text style="font-size: 9.5px; font-family: 'DejaVu Sans', sans-serif; text-anchor: middle; fill: #ff7f0e" x="652.53" y="557.03" transform="rotate(-0 652.53 557.03)">2.0</text>
   </g>
   <g id="text_109">
    <text style="font-size: 9.5px; font-family: 'DejaVu Sans', sans-serif; text-anchor: middle" x="668.93" y="573.98" transform="rotate(-0 668.93 573.98)">1.0</text>
   </g>
   <g id="text_110">
    <text style="font-size: 9.5px; font-family: 'DejaVu Sans', sans-serif; text-anchor: middle; fill: #ff7f0e" x="668.93" y="557.03" transform="rotate(-0 668.93 557.03)">2.0</text>
   </g>
   <g id="text_111">
    <text style="font-size: 9.5px; font-family: 'DejaVu Sans', sans-serif; text-anchor: middle" x="685.33" y="574.98" transform="rotate(-0 685.33 574.98)">1.0</text>
   </g>
   <g id="text_112">
    <text style="font-size: 9.5px; font-family: 'DejaVu Sans', sans-serif; text-anchor: middle; fill: #ff7f0e" x="685.33" y="556.36" transform="rotate(-0 685.33 556.36)">2.0</text>
   </g>
   <g id="text_113">
    <text style="font-size: 9.5px; font-family: 'DejaVu Sans', sans-serif; text-anchor: middle" x="701.74" y="574.76" transform="rotate(-0 701.74 574.76)">1.0</text>
   </g>
   <g id="text_114">
    <text style="font-size: 9.5px; font-family: 'DejaVu Sans', sans-serif; text-anchor: middle; fill: #ff7f0e" x="701.74" y="554.13" transform="rotate(-0 701.74 554.13)">3.0</text>
   </g>
   <g id="text_115">
    <text style="font-size: 9.5px; font-family: 'DejaVu Sans', sans-serif; text-anchor: middle" x="718.14" y="576.10" transform="rotate(-0 718.14 576.10)">0.0</text>
   </g>
   <g id="text_116">
    <text style="font-size: 9.5px; font-family: 'DejaVu Sans', sans-serif; text-anchor: middle; fill: #ff7f0e" x="718.14" y="556.36" transform="rotate(-0 718.14 556.36)">2.0</text>
   </g>
   <g id="text_117">
    <text style="font-size: 9.5px; font-family: 'DejaVu Sans', sans-serif; text-anchor: middle" x="734.54" y="575.43" transform="rotate(-0 734.54 575.43)">1.0</text>
   </g>
   <g id="text_118">
    <text style="font-size: 9.5px; font-family: 'DejaVu Sans', sans-serif; text-anchor: middle; fill: #ff7f0e" x="734.54" y="556.03" transform="rotate(-0 734.54 556.03)">2.0</text>
   </g>
  </g>
  <g id="axes_5">
   <g id="patch_7">
    <path d="M 62.28 669.24 
L 751.32 669.24 
L 751.32 592.2 
L 62.28 592.2 
z
" style="fill: #ffffff"/>
   </g>
   <g id="matplotlib.axis_9">
    <g id="xtick_34">
     <g>
      <path d="M 144.36 669.24 L 144.36 592.2" clip-path="url(#p219854655d)" style="fill: none; stroke-dasharray: 1.85,0.8; stroke-dashoffset: 0; stroke: #707070; stroke-width: 0.5"/>
     </g>
     <g>
      <g>
       <use href="#m1504cfccaf" x="144.36" y="669.24" style="stroke: #000000; stroke-width: 0.8"/>
      </g>
     </g>
    </g>
    <g id="xtick_35">
     <g>
      <path d="M 275.40 669.24 L 275.40 592.2" clip-path="url(#p219854655d)" style="fill: none; stroke-dasharray: 1.85,0.8; stroke-dashoffset: 0; stroke: #707070; stroke-width: 0.5"/>
     </g>
     <g>
      <g>
       <use href="#m1504cfccaf" x="275.40" y="669.24" style="stroke: #000000; stroke-width: 0.8"/>
      </g>
     </g>
    </g>
    <g id="xtick_36">
     <g>
      <path d="M 406.44 669.24 L 406.44 592.2" clip-path="url(#p219854655d)" style="fill: none; stroke-dasharray: 1.85,0.8; stroke-dashoffset: 0; stroke: #707070; stroke-width: 0.5"/>
     </g>
     <g>
      <g>
       <use href="#m1504cfccaf" x="406.44" y="669.24" style="stroke: #000000; stroke-width: 0.8"/>
      </g>
     </g>
    </g>
    <g id="xtick_37">
     <g>
      <path d="M 537.48 669.24 L 537.48 592.2" clip-path="url(#p219854655d)" style="fill: none; stroke-dasharray: 1.85,0.8; stroke-dashoffset: 0; stroke: #707070; stroke-width: 0.5"/>
     </g>
     <g>
      <g>
       <use href="#m1504cfccaf" x="537.48" y="669.24" style="stroke: #000000; stroke-width: 0.8"/>
      </g>
     </g>
    </g>
    <g id="xtick_38">
     <g>
      <path d="M 669.24 669.24 L 669.24 592.2" clip-path="url(#p219854655d)" style="fill: none; stroke-dasharray: 1.85,0.8; stroke-dashoffset: 0; stroke: #707070; stroke-width: 0.5"/>
     </g>
     <g>
      <g>
       <use href="#m1504cfccaf" x="669.24" y="669.24" style="stroke: #000000; stroke-width: 0.8"/>
      </g>
     </g>
    </g>
    <g id="xtick_39">
     <g>
      <g>
       <use href="#m05db3bdf9b" x="78.84" y="669.24" style="stroke: #000000; stroke-width: 0.6"/>
      </g>
     </g>
    </g>
    <g id="xtick_40">
     <g>
      <g>
       <use href="#m05db3bdf9b" x="209.88" y="669.24" style="stroke: #000000; stroke-width: 0.6"/>
      </g>
     </g>
    </g>
    <g id="xtick_41">
     <g>
      <g>
       <use href="#m05db3bdf9b" x="340.92" y="669.24" style="stroke: #000000; stroke-width: 0.6"/>
      </g>
     </g>
    </g>
    <g id="xtick_42">
     <g>
      <g>
       <use href="#m05db3bdf9b" x="471.96" y="669.24" style="stroke: #000000; stroke-width: 0.6"/>
      </g>
     </g>
    </g>
    <g id="xtick_43">
     <g>
      <g>
       <use href="#m05db3bdf9b" x="603.00" y="669.24" style="stroke: #000000; stroke-width: 0.6"/>
      </g>
     </g>
    </g>
    <g id="xtick_44">
     <g>
      <g>
       <use href="#m05db3bdf9b" x="734.76" y="669.24" style="stroke: #000000; stroke-width: 0.6"/>
      </g>
     </g>
    </g>
   </g>
   <g id="matplotlib.axis_10">
    <g id="ytick_23">
     <g>
      <path d="M 62.28 668.52 L 751.32 668.52" clip-path="url(#p219854655d)" style="fill: none; stroke: #b0b0b0; stroke-width: 0.8; stroke-linecap: square"/>
     </g>
     <g>
      <g>
       <use href="#m5d545ce8f8" x="62.28" y="668.52" style="stroke: #000000; stroke-width: 0.8"/>
      </g>
     </g>
     <g id="text_119">
      <text style="font-size: 10px; font-family: 'DejaVu Sans', sans-serif; text-anchor: end" x="55.28" y="672.31" transform="rotate(-0 55.28 672.31)">1000</text>
     </g>
    </g>
    <g id="ytick_24">
     <g>
      <path d="M 62.28 635.40 L 751.32 635.40" clip-path="url(#p219854655d)" style="fill: none; stroke: #b0b0b0; stroke-width: 0.8; stroke-linecap: square"/>
     </g>
     <g>
      <g>
       <use href="#m5d545ce8f8" x="62.28" y="635.40" style="stroke: #000000; stroke-width: 0.8"/>
      </g>
     </g>
     <g id="text_120">
      <text style="font-size: 10px; font-family: 'DejaVu Sans', sans-serif; text-anchor: end" x="55.28" y="638.84" transform="rotate(-0 55.28 638.84)">1010</text>
     </g>
    </g>
    <g id="ytick_25">
     <g>
      <path d="M 62.28 601.56 L 751.32 601.56" clip-path="url(#p219854655d)" style="fill: none; stroke: #b0b0b0; stroke-width: 0.8; stroke-linecap: square"/>
     </g>
     <g>
      <g>
       <use href="#m5d545ce8f8" x="62.28" y="601.56" style="stroke: #000000; stroke-width: 0.8"/>
      </g>
     </g>
     <g id="text_121">
      <text style="font-size: 10px; font-family: 'DejaVu Sans', sans-serif; text-anchor: end" x="55.28" y="605.37" transform="rotate(-0 55.28 605.37)">1020</text>
     </g>
    </g>
    <g id="text_122">
     <text style="font-size: 10px; font-family: 'DejaVu Sans', sans-serif; text-anchor: middle" x="22.60" y="631.8" transform="rotate(-90 22.60 631.8)">MSLP [hPa]</text>
    </g>
   </g>
   <g id="line2d_22">
    <path d="M 78.48 636.55 
L 94.88 634.37 
L 111.28 630.69 
L 127.68 628.51 
L 144.08 631.69 
L 160.48 638.05 
L 176.88 645.08 
L 193.29 648.10 
L 209.69 649.60 
L 226.09 651.78 
L 242.49 641.57 
L 258.89 630.69 
L 275.29 620.65 
L 291.70 615.46 
L 308.10 615.63 
L 324.50 618.07 
L 340.90 625.90 
L 357.30 627.41 
L 373.70 621.42 
L 390.11 617.30 
L 406.51 617.13 
L 422.91 616.76 
L 439.31 614.96 
L 455.71 619.38 
L 472.11 628.68 
L 488.52 634.10 
L 504.92 635.04 
L 521.32 639.53 
L 537.72 641.94 
L 554.12 632.43 
L 570.52 629.45 
L 586.92 622.92 
L 603.33 623.49 
L 619.73 622.92 
L 636.13 617.10 
L 652.53 616.40 
L 668.93 615.79 
L 685.33 614.19 
L 701.74 610.81 
L 718.14 608.73 
L 734.54 612.25 
" clip-path="url(#p219854655d)" style="fill: none; stroke: #ff0000; stroke-width: 1.5; stroke-linecap: square"/>
    <defs>
     <path id="m7d1c635a83" d="M 0 1.5 
C 0.39 1.5 0.77 1.34 1.06 1.06 
C 1.34 0.77 1.5 0.39 1.5 0 
C 1.5 -0.39 1.34 -0.77 1.06 -1.06 
C 0.77 -1.34 0.39 -1.5 0 -1.5 
C -0.39 -1.5 -0.77 -1.34 -1.06 -1.06 
C -1.34 -0.77 -1.5 -0.39 -1.5 0 
C -1.5 0.39 -1.34 0.77 -1.06 1.06 
C -0.77 1.34 -0.39 1.5 0 1.5 
z
" style="stroke: #ff0000"/>
    </defs>
    <g clip-path="url(#p219854655d)">
     <use href="#m7d1c635a83" x="78.48" y="636.55" style="fill: #ff0000; stroke: #ff0000"/>
     <use href="#m7d1c635a83" x="94.88" y="634.37" style="fill: #ff0000; stroke: #ff0000"/>
     <use href="#m7d1c635a83" x="111.28" y="630.69" style="fill: #ff0000; stroke: #ff0000"/>
     <use href="#m7d1c635a83" x="127.68" y="628.51" style="fill: #ff0000; stroke: #ff0000"/>
     <use href="#m7d1c635a83" x="144.08" y="631.69" style="fill: #ff0000; stroke: #ff0000"/>
     <use href="#m7d1c635a83" x="160.48" y="638.05" style="fill: #ff0000; stroke: #ff0000"/>
     <use href="#m7d1c635a83" x="176.88" y="645.08" style="fill: #ff0000; stroke: #ff0000"/>
     <use href="#m7d1c635a83" x="193.29" y="648.10" style="fill: #ff0000; stroke: #ff0000"/>
     <use href="#m7d1c635a83" x="209.69" y="649.60" style="fill: #ff0000; stroke: #ff0000"/>
     <use href="#m7d1c635a83" x="226.09" y="651.78" style="fill: #ff0000; stroke: #ff0000"/>
     <use href="#m7d1c635a83" x="242.49" y="641.57" style="fill: #ff0000; stroke: #ff0000"/>
     <use href="#m7d1c635a83" x="258.89" y="630.69" style="fill: #ff0000; stroke: #ff0000"/>
     <use href="#m7d1c635a83" x="275.29" y="620.65" style="fill: #ff0000; stroke: #ff0000"/>
     <use href="#m7d1c635a83" x="291.70" y="615.46" style="fill: #ff0000; stroke: #ff0000"/>
     <use href="#m7d1c635a83" x="308.10" y="615.63" style="fill: #ff0000; stroke: #ff0000"/>
     <use href="#m7d1c635a83" x="324.50" y="618.07" style="fill: #ff0000; stroke: #ff0000"/>
     <use href="#m7d1c635a83" x="340.90" y="625.90" style="fill: #ff0000; stroke: #ff0000"/>
     <use href="#m7d1c635a83" x="357.30" y="627.41" style="fill: #ff0000; stroke: #ff0000"/>
     <use href="#m7d1c635a83" x="373.70" y="621.42" style="fill: #ff0000; stroke: #ff0000"/>
     <use href="#m7d1c635a83" x="390.11" y="617.30" style="fill: #ff0000; stroke: #ff0000"/>
     <use href="#m7d1c635a83" x="406.51" y="617.13" style="fill: #ff0000; stroke: #ff0000"/>
     <use href="#m7d1c635a83" x="422.91" y="616.76" style="fill: #ff0000; stroke: #ff0000"/>
     <use href="#m7d1c635a83" x="439.31" y="614.96" style="fill: #ff0000; stroke: #ff0000"/>
     <use href="#m7d1c635a83" x="455.71" y="619.38" style="fill: #ff0000; stroke: #ff0000"/>
     <use href="#m7d1c635a83" x="472.11" y="628.68" style="fill: #ff0000; stroke: #ff0000"/>
     <use href="#m7d1c635a83" x="488.52" y="634.10" style="fill: #ff0000; stroke: #ff0000"/>
     <use href="#m7d1c635a83" x="504.92" y="635.04" style="fill: #ff0000; stroke: #ff0000"/>
     <use href="#m7d1c635a83" x="521.32" y="639.53" style="fill: #ff0000; stroke: #ff0000"/>
     <use href="#m7d1c635a83" x="537.72" y="641.94" style="fill: #ff0000; stroke: #ff0000"/>
     <use href="#m7d1c635a83" x="554.12" y="632.43" style="fill: #ff0000; stroke: #ff0000"/>
     <use href="#m7d1c635a83" x="570.52" y="629.45" style="fill: #ff0000; stroke: #ff0000"/>
     <use href="#m7d1c635a83" x="586.92" y="622.92" style="fill: #ff0000; stroke: #ff0000"/>
     <use href="#m7d1c635a83" x="603.33" y="623.49" style="fill: #ff0000; stroke: #ff0000"/>
     <use href="#m7d1c635a83" x="619.73" y="622.92" style="fill: #ff0000; stroke: #ff0000"/>
     <use href="#m7d1c635a83" x="636.13" y="617.10" style="fill: #ff0000; stroke: #ff0000"/>
     <use href="#m7d1c635a83" x="652.53" y="616.40" style="fill: #ff0000; stroke: #ff0000"/>
     <use href="#m7d1c635a83" x="668.93" y="615.79" style="fill: #ff0000; stroke: #ff0000"/>
     <use href="#m7d1c635a83" x="685.33" y="614.19" style="fill: #ff0000; stroke: #ff0000"/>
     <use href="#m7d1c635a83" x="701.74" y="610.81" style="fill: #ff0000; stroke: #ff0000"/>
     <use href="#m7d1c635a83" x="718.14" y="608.73" style="fill: #ff0000; stroke: #ff0000"/>
     <use href="#m7d1c635a83" x="734.54" y="612.25" style="fill: #ff0000; stroke: #ff0000"/>
    </g>
   </g>
   <g>
    <path d="M 62.28 669.24 L 62.28 592.2" style="fill: none; stroke: #000000; stroke-width: 0.8; stroke-linejoin: miter; stroke-linecap: square"/>
   </g>
   <g>
    <path d="M 751.32 669.24 L 751.32 592.2" style="fill: none; stroke: #000000; stroke-width: 0.8; stroke-linejoin: miter; stroke-linecap: square"/>
   </g>
   <g>
    <path d="M 62.28 669.24 L 751.32 669.24" style="fill: none; stroke: #000000; stroke-width: 0.8; stroke-linejoin: miter; stroke-linecap: square"/>
   </g>
   <g>
    <path d="M 62.28 592.20 L 751.32 592.20" style="fill: none; stroke: #000000; stroke-width: 0.8; stroke-linejoin: miter; stroke-linecap: square"/>
   </g>
  </g>
  <g id="axes_6">
   <g id="patch_8">
    <path d="M 62.28 761.4 
L 751.32 761.4 
L 751.32 684.36 
L 62.28 684.36 
z
" style="fill: #ffffff"/>
   </g>
   <g id="patch_9">
    <path d="M 71.04 761.4 
L 85.91 761.4 
L 85.91 761.4 
L 71.04 761.4 
z
" clip-path="url(#p43a8c2af4f)" style="fill: #00bfbf"/>
   </g>
   <g id="patch_10">
    <path d="M 87.44 761.4 
L 102.31 761.4 
L 102.31 756.11 
L 87.44 756.11 
z
" clip-path="url(#p43a8c2af4f)" style="fill: #00bfbf"/>
   </g>
   <g id="patch_11">
    <path d="M 103.84 761.4 
L 118.71 761.4 
L 118.71 761.4 
L 103.84 761.4 
z
" clip-path="url(#p43a8c2af4f)" style="fill: #00bfbf"/>
   </g>
   <g id="patch_12">
    <path d="M 120.24 761.4 
L 135.12 761.4 
L 135.12 760.51 
L 120.24 760.51 
z
" clip-path="url(#p43a8c2af4f)" style="fill: #00bfbf"/>
   </g>
   <g id="patch_13">
    <path d="M 136.65 761.4 
L 151.52 761.4 
L 151.52 760.51 
L 136.65 760.51 
z
" clip-path="url(#p43a8c2af4f)" style="fill: #00bfbf"/>
   </g>
   <g id="patch_14">
    <path d="M 153.05 761.4 
L 167.92 761.4 
L 167.92 760.51 
L 153.05 760.51 
z
" clip-path="url(#p43a8c2af4f)" style="fill: #00bfbf"/>
   </g>
   <g id="patch_15">
    <path d="M 169.45 761.4 
L 184.32 761.4 
L 184.32 748.91 
L 169.45 748.91 
z
" clip-path="url(#p43a8c2af4f)" style="fill: #00bfbf"/>
   </g>
   <g id="patch_16">
    <path d="M 185.85 761.4 
L 200.72 761.4 
L 200.72 719.68 
L 185.85 719.68 
z
" clip-path="url(#p43a8c2af4f)" style="fill: #00bfbf"/>
   </g>
   <g id="patch_17">
    <path d="M 202.25 761.4 
L 217.12 761.4 
L 217.12 698.82 
L 202.25 698.82 
z
" clip-path="url(#p43a8c2af4f)" style="fill: #00bfbf"/>
   </g>
   <g id="patch_18">
    <path d="M 218.65 761.4 
L 233.52 761.4 
L 233.52 711.60 
L 218.65 711.60 
z
" clip-path="url(#p43a8c2af4f)" style="fill: #00bfbf"/>
   </g>
   <g id="patch_19">
    <path d="M 235.06 761.4 
L 249.93 761.4 
L 249.93 747.44 
L 235.06 747.44 
z
" clip-path="url(#p43a8c2af4f)" style="fill: #00bfbf"/>
   </g>
   <g id="patch_20">
    <path d="M 251.46 761.4 
L 266.33 761.4 
L 266.33 754.05 
L 251.46 754.05 
z
" clip-path="url(#p43a8c2af4f)" style="fill: #00bfbf"/>
   </g>
   <g id="patch_21">
    <path d="M 267.86 761.4 
L 282.73 761.4 
L 282.73 760.51 
L 267.86 760.51 
z
" clip-path="url(#p43a8c2af4f)" style="fill: #00bfbf"/>
   </g>
   <g id="patch_22">
    <path d="M 284.26 761.4 
L 299.13 761.4 
L 299.13 759.04 
L 284.26 759.04 
z
" clip-path="url(#p43a8c2af4f)" style="fill: #00bfbf"/>
   </g>
   <g id="patch_23">
    <path d="M 300.66 761.4 
L 315.53 761.4 
L 315.53 760.51 
L 300.66 760.51 
z
" clip-path="url(#p43a8c2af4f)" style="fill: #00bfbf"/>
   </g>
   <g id="patch_24">
    <path d="M 317.06 761.4 
L 331.93 761.4 
L 331.93 754.93 
L 317.06 754.93 
z
" clip-path="url(#p43a8c2af4f)" style="fill: #00bfbf"/>
   </g>
   <g id="patch_25">
    <path d="M 333.47 761.4 
L 348.34 761.4 
L 348.34 748.32 
L 333.47 748.32 
z
" clip-path="url(#p43a8c2af4f)" style="fill: #00bfbf"/>
   </g>
   <g id="patch_26">
    <path d="M 349.87 761.4 
L 364.74 761.4 
L 364.74 760.51 
L 349.87 760.51 
z
" clip-path="url(#p43a8c2af4f)" style="fill: #00bfbf"/>
   </g>
   <g id="patch_27">
    <path d="M 366.27 761.4 
L 381.14 761.4 
L 381.14 761.4 
L 366.27 761.4 
z
" clip-path="url(#p43a8c2af4f)" style="fill: #00bfbf"/>
   </g>
   <g id="patch_28">
    <path d="M 382.67 761.4 
L 397.54 761.4 
L 397.54 761.4 
L 382.67 761.4 
z
" clip-path="url(#p43a8c2af4f)" style="fill: #00bfbf"/>
   </g>
   <g id="patch_29">
    <path d="M 399.07 761.4 
L 413.94 761.4 
L 413.94 761.4 
L 399.07 761.4 
z
" clip-path="url(#p43a8c2af4f)" style="fill: #00bfbf"/>
   </g>
   <g id="patch_30">
    <path d="M 415.47 761.4 
L 430.34 761.4 
L 430.34 761.4 
L 415.47 761.4 
z
" clip-path="url(#p43a8c2af4f)" style="fill: #00bfbf"/>
   </g>
   <g id="patch_31">
    <path d="M 431.87 761.4 
L 446.75 761.4 
L 446.75 761.4 
L 431.87 761.4 
z
" clip-path="url(#p43a8c2af4f)" style="fill: #00bfbf"/>
   </g>
   <g id="patch_32">
    <path d="M 448.28 761.4 
L 463.15 761.4 
L 463.15 761.4 
L 448.28 761.4 
z
" clip-path="url(#p43a8c2af4f)" style="fill: #00bfbf"/>
   </g>
   <g id="patch_33">
    <path d="M 464.68 761.4 
L 479.55 761.4 
L 479.55 761.4 
L 464.68 761.4 
z
" clip-path="url(#p43a8c2af4f)" style="fill: #00bfbf"/>
   </g>
   <g id="patch_34">
    <path d="M 481.08 761.4 
L 495.95 761.4 
L 495.95 761.4 
L 481.08 761.4 
z
" clip-path="url(#p43a8c2af4f)" style="fill: #00bfbf"/>
   </g>
   <g id="patch_35">
    <path d="M 497.48 761.4 
L 512.35 761.4 
L 512.35 761.4 
L 497.48 761.4 
z
" clip-path="url(#p43a8c2af4f)" style="fill: #00bfbf"/>
   </g>
   <g id="patch_36">
    <path d="M 513.88 761.4 
L 528.75 761.4 
L 528.75 761.4 
L 513.88 761.4 
z
" clip-path="url(#p43a8c2af4f)" style="fill: #00bfbf"/>
   </g>
   <g id="patch_37">
    <path d="M 530.28 761.4 
L 545.16 761.4 
L 545.16 760.51 
L 530.28 760.51 
z
" clip-path="url(#p43a8c2af4f)" style="fill: #00bfbf"/>
   </g>
   <g id="patch_38">
    <path d="M 546.69 761.4 
L 561.56 761.4 
L 561.56 757.72 
L 546.69 757.72 
z
" clip-path="url(#p43a8c2af4f)" style="fill: #00bfbf"/>
   </g>
   <g id="patch_39">
    <path d="M 563.09 761.4 
L 577.96 761.4 
L 577.96 751.70 
L 563.09 751.70 
z
" clip-path="url(#p43a8c2af4f)" style="fill: #00bfbf"/>
   </g>
   <g id="patch_40">
    <path d="M 579.49 761.4 
L 594.36 761.4 
L 594.36 760.51 
L 579.49 760.51 
z
" clip-path="url(#p43a8c2af4f)" style="fill: #00bfbf"/>
   </g>
   <g id="patch_41">
    <path d="M 595.89 761.4 
L 610.76 761.4 
L 610.76 761.4 
L 595.89 761.4 
z
" clip-path="url(#p43a8c2af4f)" style="fill: #00bfbf"/>
   </g>
   <g id="patch_42">
    <path d="M 612.29 761.4 
L 627.16 761.4 
L 627.16 761.4 
L 612.29 761.4 
z
" clip-path="url(#p43a8c2af4f)" style="fill: #00bfbf"/>
   </g>
   <g id="patch_43">
    <path d="M 628.69 761.4 
L 643.56 761.4 
L 643.56 761.4 
L 628.69 761.4 
z
" clip-path="url(#p43a8c2af4f)" style="fill: #00bfbf"/>
   </g>
   <g id="patch_44">
    <path d="M 645.10 761.4 
L 659.97 761.4 
L 659.97 761.4 
L 645.10 761.4 
z
" clip-path="url(#p43a8c2af4f)" style="fill: #00bfbf"/>
   </g>
   <g id="patch_45">
    <path d="M 661.50 761.4 
L 676.37 761.4 
L 676.37 761.4 
L 661.50 761.4 
z
" clip-path="url(#p43a8c2af4f)" style="fill: #00bfbf"/>
   </g>
   <g id="patch_46">
    <path d="M 677.90 761.4 
L 692.77 761.4 
L 692.77 761.4 
L 677.90 761.4 
z
" clip-path="url(#p43a8c2af4f)" style="fill: #00bfbf"/>
   </g>
   <g id="patch_47">
    <path d="M 694.30 761.4 
L 709.17 761.4 
L 709.17 761.4 
L 694.30 761.4 
z
" clip-path="url(#p43a8c2af4f)" style="fill: #00bfbf"/>
   </g>
   <g id="patch_48">
    <path d="M 710.70 761.4 
L 725.57 761.4 
L 725.57 761.4 
L 710.70 761.4 
z
" clip-path="url(#p43a8c2af4f)" style="fill: #00bfbf"/>
   </g>
   <g id="patch_49">
    <path d="M 727.10 761.4 
L 741.97 761.4 
L 741.97 761.4 
L 727.10 761.4 
z
" clip-path="url(#p43a8c2af4f)" style="fill: #00bfbf"/>
   </g>
   <g id="patch_50">
    <path d="M 71.04 761.4 
L 85.91 761.4 
L 85.91 761.4 
L 71.04 761.4 
z
" clip-path="url(#p43a8c2af4f)" style="fill: #ff00ff"/>
   </g>
   <g id="patch_51">
    <path d="M 87.44 761.4 
L 102.31 761.4 
L 102.31 761.4 
L 87.44 761.4 
z
" clip-path="url(#p43a8c2af4f)" style="fill: #ff00ff"/>
   </g>
   <g id="patch_52">
    <path d="M 103.84 761.4 
L 118.71 761.4 
L 118.71 761.4 
L 103.84 761.4 
z
" clip-path="url(#p43a8c2af4f)" style="fill: #ff00ff"/>
   </g>
   <g id="patch_53">
    <path d="M 120.24 761.4 
L 135.12 761.4 
L 135.12 761.4 
L 120.24 761.4 
z
" clip-path="url(#p43a8c2af4f)" style="fill: #ff00ff"/>
   </g>
   <g id="patch_54">
    <path d="M 136.65 761.4 
L 151.52 761.4 
L 151.52 761.4 
L 136.65 761.4 
z
" clip-path="url(#p43a8c2af4f)" style="fill: #ff00ff"/>
   </g>
   <g id="patch_55">
    <path d="M 153.05 761.4 
L 167.92 761.4 
L 167.92 761.4 
L 153.05 761.4 
z
" clip-path="url(#p43a8c2af4f)" style="fill: #ff00ff"/>
   </g>
   <g id="patch_56">
    <path d="M 169.45 761.4 
L 184.32 761.4 
L 184.32 761.4 
L 169.45 761.4 
z
" clip-path="url(#p43a8c2af4f)" style="fill: #ff00ff"/>
   </g>
   <g id="patch_57">
    <path d="M 185.85 761.4 
L 200.72 761.4 
L 200.72 761.4 
L 185.85 761.4 
z
" clip-path="url(#p43a8c2af4f)" style="fill: #ff00ff"/>
   </g>
   <g id="patch_58">
    <path d="M 202.25 761.4 
L 217.12 761.4 
L 217.12 761.4 
L 202.25 761.4 
z
" clip-path="url(#p43a8c2af4f)" style="fill: #ff00ff"/>
   </g>
   <g id="patch_59">
    <path d="M 218.65 761.4 
L 233.52 761.4 
L 233.52 761.4 
L 218.65 761.4 
z
" clip-path="url(#p43a8c2af4f)" style="fill: #ff00ff"/>
   </g>
   <g id="patch_60">
    <path d="M 235.06 761.4 
L 249.93 761.4 
L 249.93 761.4 
L 235.06 761.4 
z
" clip-path="url(#p43a8c2af4f)" style="fill: #ff00ff"/>
   </g>
   <g id="patch_61">
    <path d="M 251.46 761.4 
L 266.33 761.4 
L 266.33 761.4 
L 251.46 761.4 
z
" clip-path="url(#p43a8c2af4f)" style="fill: #ff00ff"/>
   </g>
   <g id="patch_62">
    <path d="M 267.86 761.4 
L 282.73 761.4 
L 282.73 761.4 
L 267.86 761.4 
z
" clip-path="url(#p43a8c2af4f)" style="fill: #ff00ff"/>
   </g>
   <g id="patch_63">
    <path d="M 284.26 761.4 
L 299.13 761.4 
L 299.13 761.4 
L 284.26 761.4 
z
" clip-path="url(#p43a8c2af4f)" style="fill: #ff00ff"/>
   </g>
   <g id="patch_64">
    <path d="M 300.66 761.4 
L 315.53 761.4 
L 315.53 761.4 
L 300.66 761.4 
z
" clip-path="url(#p43a8c2af4f)" style="fill: #ff00ff"/>
   </g>
   <g id="patch_65">
    <path d="M 317.06 761.4 
L 331.93 761.4 
L 331.93 761.4 
L 317.06 761.4 
z
" clip-path="url(#p43a8c2af4f)" style="fill: #ff00ff"/>
   </g>
   <g id="patch_66">
    <path d="M 333.47 761.4 
L 348.34 761.4 
L 348.34 761.4 
L 333.47 761.4 
z
" clip-path="url(#p43a8c2af4f)" style="fill: #ff00ff"/>
   </g>
   <g id="patch_67">
    <path d="M 349.87 761.4 
L 364.74 761.4 
L 364.74 761.4 
L 349.87 761.4 
z
" clip-path="url(#p43a8c2af4f)" style="fill: #ff00ff"/>
   </g>
   <g id="patch_68">
    <path d="M 366.27 761.4 
L 381.14 761.4 
L 381.14 761.4 
L 366.27 761.4 
z
" clip-path="url(#p43a8c2af4f)" style="fill: #ff00ff"/>
   </g>
   <g id="patch_69">
    <path d="M 382.67 761.4 
L 397.54 761.4 
L 397.54 761.4 
L 382.67 761.4 
z
" clip-path="url(#p43a8c2af4f)" style="fill: #ff00ff"/>
   </g>
   <g id="patch_70">
    <path d="M 399.07 761.4 
L 413.94 761.4 
L 413.94 761.4 
L 399.07 761.4 
z
" clip-path="url(#p43a8c2af4f)" style="fill: #ff00ff"/>
   </g>
   <g id="patch_71">
    <path d="M 415.47 761.4 
L 430.34 761.4 
L 430.34 761.4 
L 415.47 761.4 
z
" clip-path="url(#p43a8c2af4f)" style="fill: #ff00ff"/>
   </g>
   <g id="patch_72">
    <path d="M 431.87 761.4 
L 446.75 761.4 
L 446.75 761.4 
L 431.87 761.4 
z
" clip-path="url(#p43a8c2af4f)" style="fill: #ff00ff"/>
   </g>
   <g id="patch_73">
    <path d="M 448.28 761.4 
L 463.15 761.4 
L 463.15 761.4 
L 448.28 761.4 
z
" clip-path="url(#p43a8c2af4f)" style="fill: #ff00ff"/>
   </g>
   <g id="patch_74">
    <path d="M 464.68 761.4 
L 479.55 761.4 
L 479.55 761.4 
L 464.68 761.4 
z
" clip-path="url(#p43a8c2af4f)" style="fill: #ff00ff"/>
   </g>
   <g id="patch_75">
    <path d="M 481.08 761.4 
L 495.95 761.4 
L 495.95 761.4 
L 481.08 761.4 
z
" clip-path="url(#p43a8c2af4f)" style="fill: #ff00ff"/>
   </g>
   <g id="patch_76">
    <path d="M 497.48 761.4 
L 512.35 761.4 
L 512.35 761.4 
L 497.48 761.4 
z
" clip-path="url(#p43a8c2af4f)" style="fill: #ff00ff"/>
   </g>
   <g id="patch_77">
    <path d="M 513.88 761.4 
L 528.75 761.4 
L 528.75 761.4 
L 513.88 761.4 
z
" clip-path="url(#p43a8c2af4f)" style="fill: #ff00ff"/>
   </g>
   <g id="patch_78">
    <path d="M 530.28 761.4 
L 545.16 761.4 
L 545.16 761.4 
L 530.28 761.4 
z
" clip-path="url(#p43a8c2af4f)" style="fill: #ff00ff"/>
   </g>
   <g id="patch_79">
    <path d="M 546.69 761.4 
L 561.56 761.4 
L 561.56 761.4 
L 546.69 761.4 
z
" clip-path="url(#p43a8c2af4f)" style="fill: #ff00ff"/>
   </g>
   <g id="patch_80">
    <path d="M 563.09 761.4 
L 577.96 761.4 
L 577.96 761.4 
L 563.09 761.4 
z
" clip-path="url(#p43a8c2af4f)" style="fill: #ff00ff"/>
   </g>
   <g id="patch_81">
    <path d="M 579.49 761.4 
L 594.36 761.4 
L 594.36 761.4 
L 579.49 761.4 
z
" clip-path="url(#p43a8c2af4f)" style="fill: #ff00ff"/>
   </g>
   <g id="patch_82">
    <path d="M 595.89 761.4 
L 610.76 761.4 
L 610.76 761.4 
L 595.89 761.4 
z
" clip-path="url(#p43a8c2af4f)" style="fill: #ff00ff"/>
   </g>
   <g id="patch_83">
    <path d="M 612.29 761.4 
L 627.16 761.4 
L 627.16 761.4 
L 612.29 761.4 
z
" clip-path="url(#p43a8c2af4f)" style="fill: #ff00ff"/>
   </g>
   <g id="patch_84">
    <path d="M 628.69 761.4 
L 643.56 761.4 
L 643.56 761.4 
L 628.69 761.4 
z
" clip-path="url(#p43a8c2af4f)" style="fill: #ff00ff"/>
   </g>
   <g id="patch_85">
    <path d="M 645.10 761.4 
L 659.97 761.4 
L 659.97 761.4 
L 645.10 761.4 
z
" clip-path="url(#p43a8c2af4f)" style="fill: #ff00ff"/>
   </g>
   <g id="patch_86">
    <path d="M 661.50 761.4 
L 676.37 761.4 
L 676.37 761.4 
L 661.50 761.4 
z
" clip-path="url(#p43a8c2af4f)" style="fill: #ff00ff"/>
   </g>
   <g id="patch_87">
    <path d="M 677.90 761.4 
L 692.77 761.4 
L 692.77 761.4 
L 677.90 761.4 
z
" clip-path="url(#p43a8c2af4f)" style="fill: #ff00ff"/>
   </g>
   <g id="patch_88">
    <path d="M 694.30 761.4 
L 709.17 761.4 
L 709.17 761.4 
L 694.30 761.4 
z
" clip-path="url(#p43a8c2af4f)" style="fill: #ff00ff"/>
   </g>
   <g id="patch_89">
    <path d="M 710.70 761.4 
L 725.57 761.4 
L 725.57 761.4 
L 710.70 761.4 
z
" clip-path="url(#p43a8c2af4f)" style="fill: #ff00ff"/>
   </g>
   <g id="patch_90">
    <path d="M 727.10 761.4 
L 741.97 761.4 
L 741.97 761.4 
L 727.10 761.4 
z
" clip-path="url(#p43a8c2af4f)" style="fill: #ff00ff"/>
   </g>
   <g id="matplotlib.axis_11">
    <g id="xtick_45">
     <g>
      <path d="M 144.36 761.4 L 144.36 684.36" clip-path="url(#p43a8c2af4f)" style="fill: none; stroke-dasharray: 1.85,0.8; stroke-dashoffset: 0; stroke: #707070; stroke-width: 0.5"/>
     </g>
     <g>
      <g>
       <use href="#m1504cfccaf" x="144.36" y="761.40" style="stroke: #000000; stroke-width: 0.8"/>
      </g>
     </g>
     <g id="text_123">
      <text style="font-size: 10px; font-family: 'DejaVu Sans', sans-serif; text-anchor: middle" x="144.08" y="775.29" transform="rotate(-0 144.08 775.29)">00 UTC</text>
     </g>
    </g>
    <g id="xtick_46">
     <g>
      <path d="M 275.40 761.4 L 275.40 684.36" clip-path="url(#p43a8c2af4f)" style="fill: none; stroke-dasharray: 1.85,0.8; stroke-dashoffset: 0; stroke: #707070; stroke-width: 0.5"/>
     </g>
     <g>
      <g>
       <use href="#m1504cfccaf" x="275.40" y="761.40" style="stroke: #000000; stroke-width: 0.8"/>
      </g>
     </g>
     <g id="text_124">
      <text style="font-size: 10px; font-family: 'DejaVu Sans', sans-serif; text-anchor: middle" x="275.29" y="775.29" transform="rotate(-0 275.29 775.29)">00 UTC</text>
     </g>
    </g>
    <g id="xtick_47">
     <g>
      <path d="M 406.44 761.4 L 406.44 684.36" clip-path="url(#p43a8c2af4f)" style="fill: none; stroke-dasharray: 1.85,0.8; stroke-dashoffset: 0; stroke: #707070; stroke-width: 0.5"/>
     </g>
     <g>
      <g>
       <use href="#m1504cfccaf" x="406.44" y="761.40" style="stroke: #000000; stroke-width: 0.8"/>
      </g>
     </g>
     <g id="text_125">
      <text style="font-size: 10px; font-family: 'DejaVu Sans', sans-serif; text-anchor: middle" x="406.51" y="775.29" transform="rotate(-0 406.51 775.29)">00 UTC</text>
     </g>
    </g>
    <g id="xtick_48">
     <g>
      <path d="M 537.48 761.4 L 537.48 684.36" clip-path="url(#p43a8c2af4f)" style="fill: none; stroke-dasharray: 1.85,0.8; stroke-dashoffset: 0; stroke: #707070; stroke-width: 0.5"/>
     </g>
     <g>
      <g>
       <use href="#m1504cfccaf" x="537.48" y="761.40" style="stroke: #000000; stroke-width: 0.8"/>
      </g>
     </g>
     <g id="text_126">
      <text style="font-size: 10px; font-family: 'DejaVu Sans', sans-serif; text-anchor: middle" x="537.72" y="775.29" transform="rotate(-0 537.72 775.29)">00 UTC</text>
     </g>
    </g>
    <g id="xtick_49">
     <g>
      <path d="M 669.24 761.4 L 669.24 684.36" clip-path="url(#p43a8c2af4f)" style="fill: none; stroke-dasharray: 1.85,0.8; stroke-dashoffset: 0; stroke: #707070; stroke-width: 0.5"/>
     </g>
     <g>
      <g>
       <use href="#m1504cfccaf" x="669.24" y="761.40" style="stroke: #000000; stroke-width: 0.8"/>
      </g>
     </g>
     <g id="text_127">
      <text style="font-size: 10px; font-family: 'DejaVu Sans', sans-serif; text-anchor: middle" x="668.93" y="775.29" transform="rotate(-0 668.93 775.29)">00 UTC</text>
     </g>
    </g>
    <g id="xtick_50">
     <g>
      <g>
       <use href="#m05db3bdf9b" x="78.84" y="761.40" style="stroke: #000000; stroke-width: 0.6"/>
      </g>
     </g>
     <g id="text_128">
      <text style="font-size: 10px; font-family: 'DejaVu Sans', sans-serif; text-anchor: middle" x="78.48" y="773.79" transform="rotate(-0 78.48 773.79)">12 UTC</text>
     </g>
    </g>
    <g id="xtick_51">
     <g>
      <g>
       <use href="#m05db3bdf9b" x="209.88" y="761.40" style="stroke: #000000; stroke-width: 0.6"/>
      </g>
     </g>
     <g id="text_129">
      <text style="font-size: 10px; font-family: 'DejaVu Sans', sans-serif; text-anchor: middle" x="209.69" y="773.79" transform="rotate(-0 209.69 773.79)">12 UTC</text>
     </g>
    </g>
    <g id="xtick_52">
     <g>
      <g>
       <use href="#m05db3bdf9b" x="340.92" y="761.40" style="stroke: #000000; stroke-width: 0.6"/>
      </g>
     </g>
     <g id="text_130">
      <text style="font-size: 10px; font-family: 'DejaVu Sans', sans-serif; text-anchor: middle" x="340.90" y="773.79" transform="rotate(-0 340.90 773.79)">12 UTC</text>
     </g>
    </g>
    <g id="xtick_53">
     <g>
      <g>
       <use href="#m05db3bdf9b" x="471.96" y="761.40" style="stroke: #000000; stroke-width: 0.6"/>
      </g>
     </g>
     <g id="text_131">
      <text style="font-size: 10px; font-family: 'DejaVu Sans', sans-serif; text-anchor: middle" x="472.11" y="773.79" transform="rotate(-0 472.11 773.79)">12 UTC</text>
     </g>
    </g>
    <g id="xtick_54">
     <g>
      <g>
       <use href="#m05db3bdf9b" x="603.00" y="761.40" style="stroke: #000000; stroke-width: 0.6"/>
      </g>
     </g>
     <g id="text_132">
      <text style="font-size: 10px; font-family: 'DejaVu Sans', sans-serif; text-anchor: middle" x="603.33" y="773.79" transform="rotate(-0 603.33 773.79)">12 UTC</text>
     </g>
    </g>
    <g id="xtick_55">
     <g>
      <g>
       <use href="#m05db3bdf9b" x="734.76" y="761.40" style="stroke: #000000; stroke-width: 0.6"/>
      </g>
     </g>
     <g id="text_133">
      <text style="font-size: 10px; font-family: 'DejaVu Sans', sans-serif; text-anchor: middle" x="734.54" y="773.79" transform="rotate(-0 734.54 773.79)">12 UTC</text>
     </g>
    </g>
   </g>
   <g id="matplotlib.axis_12">
    <g id="ytick_26">
     <g>
      <path d="M 62.28 761.40 L 751.32 761.40" clip-path="url(#p43a8c2af4f)" style="fill: none; stroke: #b0b0b0; stroke-width: 0.8; stroke-linecap: square"/>
     </g>
     <g>
      <g>
       <use href="#m5d545ce8f8" x="62.28" y="761.40" style="stroke: #000000; stroke-width: 0.8"/>
      </g>
     </g>
     <g id="text_134">
      <text style="font-size: 10px; font-family: 'DejaVu Sans', sans-serif; text-anchor: end" x="55.28" y="765.19" transform="rotate(-0 55.28 765.19)">0</text>
     </g>
    </g>
    <g id="ytick_27">
     <g>
      <path d="M 62.28 747.00 L 751.32 747.00" clip-path="url(#p43a8c2af4f)" style="fill: none; stroke: #b0b0b0; stroke-width: 0.8; stroke-linecap: square"/>
     </g>
     <g>
      <g>
       <use href="#m5d545ce8f8" x="62.28" y="747.00" style="stroke: #000000; stroke-width: 0.8"/>
      </g>
     </g>
     <g id="text_135">
      <text style="font-size: 10px; font-family: 'DejaVu Sans', sans-serif; text-anchor: end" x="55.28" y="750.51" transform="rotate(-0 55.28 750.51)">1</text>
     </g>
    </g>
    <g id="ytick_28">
     <g>
      <path d="M 62.28 731.88 L 751.32 731.88" clip-path="url(#p43a8c2af4f)" style="fill: none; stroke: #b0b0b0; stroke-width: 0.8; stroke-linecap: square"/>
     </g>
     <g>
      <g>
       <use href="#m5d545ce8f8" x="62.28" y="731.88" style="stroke: #000000; stroke-width: 0.8"/>
      </g>
     </g>
     <g id="text_136">
      <text style="font-size: 10px; font-family: 'DejaVu Sans', sans-serif; text-anchor: end" x="55.28" y="735.82" transform="rotate(-0 55.28 735.82)">2</text>
     </g>
    </g>
    <g id="ytick_29">
     <g>
      <path d="M 62.28 717.48 L 751.32 717.48" clip-path="url(#p43a8c2af4f)" style="fill: none; stroke: #b0b0b0; stroke-width: 0.8; stroke-linecap: square"/>
     </g>
     <g>
      <g>
       <use href="#m5d545ce8f8" x="62.28" y="717.48" style="stroke: #000000; stroke-width: 0.8"/>
      </g>
     </g>
     <g id="text_137">
      <text style="font-size: 10px; font-family: 'DejaVu Sans', sans-serif; text-anchor: end" x="55.28" y="721.13" transform="rotate(-0 55.28 721.13)">3</text>
     </g>
    </g>
    <g id="ytick_30">
     <g>
      <path d="M 62.28 702.36 L 751.32 702.36" clip-path="url(#p43a8c2af4f)" style="fill: none; stroke: #b0b0b0; stroke-width: 0.8; stroke-linecap: square"/>
     </g>
     <g>
      <g>
       <use href="#m5d545ce8f8" x="62.28" y="702.36" style="stroke: #000000; stroke-width: 0.8"/>
      </g>
     </g>
     <g id="text_138">
      <text style="font-size: 10px; font-family: 'DejaVu Sans', sans-serif; text-anchor: end" x="55.28" y="706.44" transform="rotate(-0 55.28 706.44)">4</text>
     </g>
    </g>
    <g id="ytick_31">
     <g>
      <path d="M 62.28 687.96 L 751.32 687.96" clip-path="url(#p43a8c2af4f)" style="fill: none; stroke: #b0b0b0; stroke-width: 0.8; stroke-linecap: square"/>
     </g>
     <g>
      <g>
       <use href="#m5d545ce8f8" x="62.28" y="687.96" style="stroke: #000000; stroke-width: 0.8"/>
      </g>
     </g>
     <g id="text_139">
      <text style="font-size: 10px; font-family: 'DejaVu Sans', sans-serif; text-anchor: end" x="55.28" y="691.75" transform="rotate(-0 55.28 691.75)">5</text>
     </g>
    </g>
    <g id="text_140">
     <text style="font-size: 10px; font-family: 'DejaVu Sans', sans-serif; text-anchor: middle" x="42.03" y="722.88" transform="rotate(-90 42.03 722.88)">precipitation [mm/h]</text>
    </g>
   </g>
   <g>
    <path d="M 62.28 761.4 L 62.28 684.36" style="fill: none; stroke: #000000; stroke-width: 0.8; stroke-linejoin: miter; stroke-linecap: square"/>
   </g>
   <g>
    <path d="M 751.32 761.4 L 751.32 684.36" style="fill: none; stroke: #000000; stroke-width: 0.8; stroke-linejoin: miter; stroke-linecap: square"/>
   </g>
   <g>
    <path d="M 62.28 761.40 L 751.32 761.40" style="fill: none; stroke: #000000; stroke-width: 0.8; stroke-linejoin: miter; stroke-linecap: square"/>
   </g>
   <g>
    <path d="M 62.28 684.36 L 751.32 684.36" style="fill: none; stroke: #000000; stroke-width: 0.8; stroke-linejoin: miter; stroke-linecap: square"/>
   </g>
   <g id="text_141">
    <text style="font-size: 10px; font-family: 'DejaVu Sans', sans-serif; text-anchor: middle" x="111.28" y="786.39" transform="rotate(-0 111.28 786.39)">Sun 26 Oct</text>
   </g>
   <g id="text_142">
    <text style="font-size: 10px; font-family: 'DejaVu Sans', sans-serif; text-anchor: middle" x="209.69" y="786.39" transform="rotate(-0 209.69 786.39)">Mon 27 Oct</text>
   </g>
   <g id="text_143">
    <text style="font-size: 10px; font-family: 'DejaVu Sans', sans-serif; text-anchor: middle" x="340.90" y="786.39" transform="rotate(-0 340.90 786.39)">Tue 28 Oct</text>
   </g>
   <g id="text_144">
    <text style="font-size: 10px; font-family: 'DejaVu Sans', sans-serif; text-anchor: middle" x="472.11" y="786.39" transform="rotate(-0 472.11 786.39)">Wed 29 Oct</text>
   </g>
   <g id="text_145">
    <text style="font-size: 10px; font-family: 'DejaVu Sans', sans-serif; text-anchor: middle" x="603.33" y="786.39" transform="rotate(-0 603.33 786.39)">Thu 30 Oct</text>
   </g>
   <g id="text_146">
    <text style="font-size: 10px; font-family: 'DejaVu Sans', sans-serif; text-anchor: middle" x="701.74" y="786.39" transform="rotate(-0 701.74 786.39)">Fri 31 Oct</text>
   </g>
   <g id="legend_2">
    <g id="patch_91">
     <path d="M 618.58 704.18 
L 745.48 704.18 
Q 747.15 704.18 747.15 702.51 
L 747.15 690.19 
Q 747.15 688.52 745.48 688.52 
L 618.58 688.52 
Q 616.92 688.52 616.92 690.19 
L 616.92 702.51 
Q 616.92 704.18 618.58 704.18 
z
" style="fill: #ffffff; opacity: 0.8; stroke: #cccccc; stroke-linejoin: miter"/>
    </g>
    <g id="patch_92">
     <path d="M 620.71 698.65 
L 637.37 698.65 
L 637.37 692.82 
L 620.71 692.82 
z
" style="fill: #00bfbf"/>
    </g>
    <g id="text_147">
     <text style="font-size: 8.33px; font-family: 'DejaVu Sans', sans-serif; text-anchor: start" x="644.04" y="698.65" transform="rotate(-0 644.04 698.65)">tot. prec.</text>
    </g>
    <g id="patch_93">
     <path d="M 698.50 698.65 
L 715.16 698.65 
L 715.16 692.82 
L 698.50 692.82 
z
" style="fill: #ff00ff"/>
    </g>
    <g id="text_148">
     <text style="font-size: 8.33px; font-family: 'DejaVu Sans', sans-serif; text-anchor: start" x="721.82" y="698.65" transform="rotate(-0 721.82 698.65)">snow</text>
    </g>
   </g>
  </g>
  <g id="text_149">
   <text style="font-size: 17.28px; font-family: 'DejaVu Sans', sans-serif; text-anchor: start" x="79.2" y="20.52" transform="rotate(-0 79.2 20.52)">MIM Forecast (ICON-EU)</text>
  </g>
  <g id="text_150">
   <text style="font-size: 8.33px; font-family: 'DejaVu Sans', sans-serif; text-anchor: start" x="80.28" y="32.54" transform="rotate(-0 80.28 32.54)">Meteogram @11.57549, 48.13743</text>
  </g>
  <g id="text_151">
   <text style="font-size: 8.33px; font-family: 'DejaVu Sans', sans-serif; text-anchor: end" x="731.16" y="19.8" transform="rotate(-0 731.16 19.8)">18:54, October 26 2025</text>
  </g>
  <g id="text_152">
   <g transform="translate(555.67 32.54)">
    <text><tspan x="0.00" y="-0.92" style="font-size: 8.33px; font-family: 'DejaVu Sans', sans-serif">ICON-EU, 2025-10-26 12 UTC, Δ</tspan><tspan x="133.61" y="-0.92" style="font-style: oblique; font-size: 8.33px; font-family: 'DejaVu Sans', sans-serif">x</tspan><tspan x="140.20" y="-0.92" style="font-size: 8.33px; font-family: 'DejaVu Sans', sans-serif">=</tspan><tspan x="148.85" y="-0.92" style="font-size: 8.33px; font-family: 'DejaVu Sans', sans-serif">6.5 km</tspan></text>
   </g>
  </g>
 </g>
 <defs>
  <clipPath id="p9851077e19">
   <rect x="62.28" y="40.68" width="689.04" height="260.64"/>
  </clipPath>
  <clipPath id="p7bbf53f812">
   <rect x="757.08" y="40.68" width="30.96" height="260.64"/>
  </clipPath>
  <clipPath id="p233d145e39">
   <rect x="62.28" y="316.44" width="689.04" height="168.48"/>
  </clipPath>
  <clipPath id="p7b28e05b98">
   <rect x="62.28" y="500.04" width="689.04" height="77.04"/>
  </clipPath>
  <clipPath id="p219854655d">
   <rect x="62.28" y="592.2" width="689.04" height="77.04"/>
  </clipPath>
  <clipPath id="p43a8c2af4f">
   <rect x="62.28" y="684.36" width="689.04" height="77.04"/>
  </clipPath>
 </defs>
</svg>

</body></html>
